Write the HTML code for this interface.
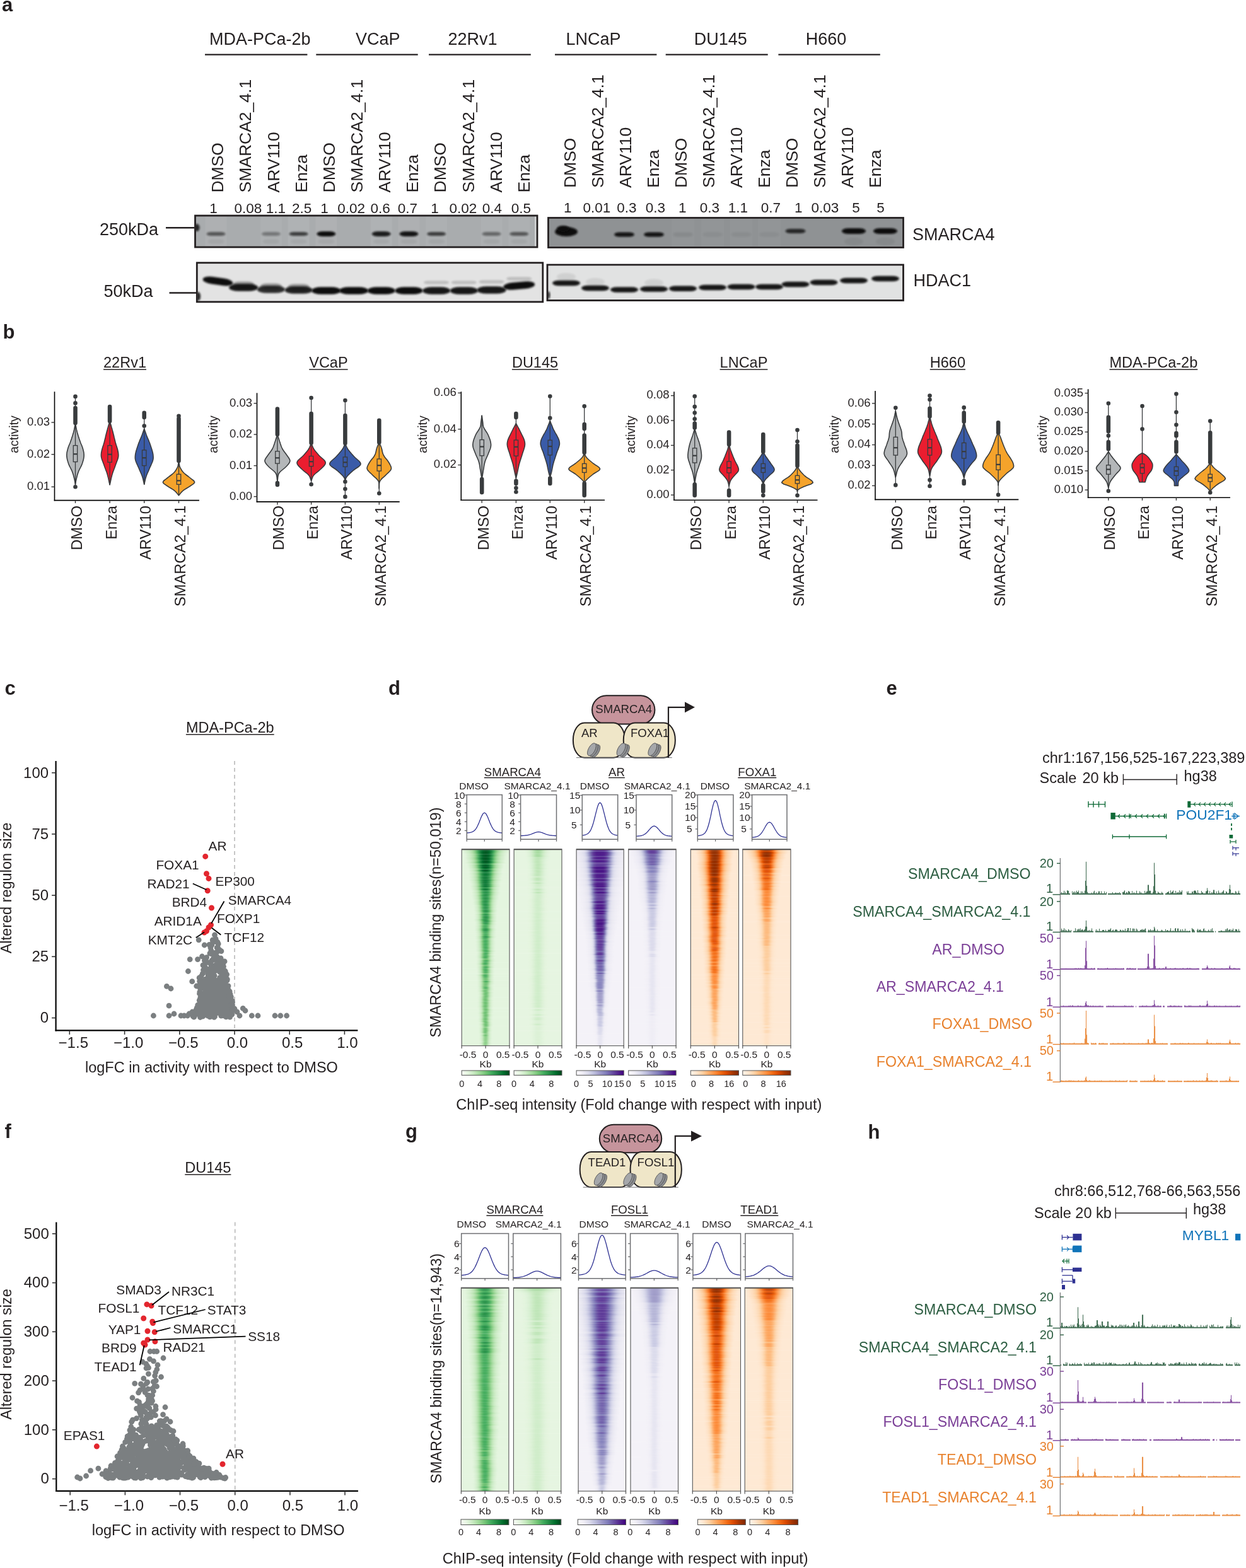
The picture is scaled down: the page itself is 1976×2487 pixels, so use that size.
<!DOCTYPE html><html><head><meta charset="utf-8"><title>Figure</title><style>html,body{margin:0;padding:0;background:#fff;}svg{display:block;}text{stroke:none;}</style></head><body><svg width="1976" height="2487" viewBox="0 0 1976 2487" font-family="'Liberation Sans', Arial, sans-serif" fill="#231f20" stroke="#231f20" stroke-width="0"><defs><filter id="bb" x="-30%" y="-80%" width="160%" height="260%"><feGaussianBlur stdDeviation="1.6"/></filter><clipPath id="cb1"><rect x="310.5" y="343" width="540.5" height="48.2"/></clipPath><clipPath id="cb2"><rect x="870.5" y="346.5" width="561" height="45"/></clipPath><clipPath id="cb3"><rect x="313.5" y="418" width="546" height="59.5"/></clipPath><clipPath id="cb4"><rect x="869" y="421.5" width="562.5" height="54"/></clipPath><filter id="hb" x="-5%" y="-5%" width="110%" height="110%"><feGaussianBlur stdDeviation="1 0.5"/></filter><linearGradient id="cbG"><stop offset="0.000" stop-color="#f7fcf5"/><stop offset="0.125" stop-color="#e5f5e0"/><stop offset="0.250" stop-color="#c7e9c0"/><stop offset="0.375" stop-color="#a1d99b"/><stop offset="0.500" stop-color="#74c476"/><stop offset="0.625" stop-color="#41ab5d"/><stop offset="0.750" stop-color="#238b45"/><stop offset="0.875" stop-color="#006d2c"/><stop offset="1.000" stop-color="#00441b"/></linearGradient><linearGradient id="cbP"><stop offset="0.000" stop-color="#fcfbfd"/><stop offset="0.125" stop-color="#efedf5"/><stop offset="0.250" stop-color="#dadaeb"/><stop offset="0.375" stop-color="#bcbddc"/><stop offset="0.500" stop-color="#9e9ac8"/><stop offset="0.625" stop-color="#807dba"/><stop offset="0.750" stop-color="#6a51a3"/><stop offset="0.875" stop-color="#54278f"/><stop offset="1.000" stop-color="#3f007d"/></linearGradient><linearGradient id="cbO"><stop offset="0.000" stop-color="#fff5eb"/><stop offset="0.125" stop-color="#fee6ce"/><stop offset="0.250" stop-color="#fdd0a2"/><stop offset="0.375" stop-color="#fdae6b"/><stop offset="0.500" stop-color="#fd8d3c"/><stop offset="0.625" stop-color="#f16913"/><stop offset="0.750" stop-color="#d94801"/><stop offset="0.875" stop-color="#a63603"/><stop offset="1.000" stop-color="#7f2704"/></linearGradient><linearGradient id="hd00"><stop offset="0.0" stop-color="#e4f5df"/><stop offset="0.125" stop-color="#e4f4de"/><stop offset="0.2" stop-color="#e3f4de"/><stop offset="0.25" stop-color="#e3f4de"/><stop offset="0.29" stop-color="#e3f4de"/><stop offset="0.325" stop-color="#e3f4dd"/><stop offset="0.355" stop-color="#e2f4dd"/><stop offset="0.39" stop-color="#e2f4dd"/><stop offset="0.44" stop-color="#e2f4dd"/><stop offset="0.5" stop-color="#e2f4dd"/><stop offset="0.56" stop-color="#e2f4dd"/><stop offset="0.61" stop-color="#e2f4dd"/><stop offset="0.645" stop-color="#e2f4dd"/><stop offset="0.675" stop-color="#e3f4dd"/><stop offset="0.71" stop-color="#e3f4de"/><stop offset="0.75" stop-color="#e3f4de"/><stop offset="0.8" stop-color="#e3f4de"/><stop offset="0.875" stop-color="#e4f4de"/><stop offset="1.0" stop-color="#e4f5df"/></linearGradient><linearGradient id="hd01"><stop offset="0.0" stop-color="#e4f5df"/><stop offset="0.125" stop-color="#e3f4dd"/><stop offset="0.2" stop-color="#e1f4dc"/><stop offset="0.25" stop-color="#e0f3db"/><stop offset="0.29" stop-color="#dff2d9"/><stop offset="0.325" stop-color="#ddf2d8"/><stop offset="0.355" stop-color="#dcf1d6"/><stop offset="0.39" stop-color="#dbf1d5"/><stop offset="0.44" stop-color="#daf0d4"/><stop offset="0.5" stop-color="#d9f0d4"/><stop offset="0.56" stop-color="#daf0d4"/><stop offset="0.61" stop-color="#dbf1d5"/><stop offset="0.645" stop-color="#dcf1d6"/><stop offset="0.675" stop-color="#ddf2d8"/><stop offset="0.71" stop-color="#dff2d9"/><stop offset="0.75" stop-color="#e0f3db"/><stop offset="0.8" stop-color="#e1f4dc"/><stop offset="0.875" stop-color="#e3f4dd"/><stop offset="1.0" stop-color="#e4f5df"/></linearGradient><linearGradient id="hd02"><stop offset="0.0" stop-color="#e4f5df"/><stop offset="0.125" stop-color="#e1f3dc"/><stop offset="0.2" stop-color="#def2d9"/><stop offset="0.25" stop-color="#dcf1d6"/><stop offset="0.29" stop-color="#d9f0d3"/><stop offset="0.325" stop-color="#d6efd0"/><stop offset="0.355" stop-color="#d3eecd"/><stop offset="0.39" stop-color="#d0edca"/><stop offset="0.44" stop-color="#ceecc7"/><stop offset="0.5" stop-color="#cdebc7"/><stop offset="0.56" stop-color="#ceecc7"/><stop offset="0.61" stop-color="#d0edca"/><stop offset="0.645" stop-color="#d3eecd"/><stop offset="0.675" stop-color="#d6efd0"/><stop offset="0.71" stop-color="#d9f0d3"/><stop offset="0.75" stop-color="#dcf1d6"/><stop offset="0.8" stop-color="#def2d9"/><stop offset="0.875" stop-color="#e1f3dc"/><stop offset="1.0" stop-color="#e4f5df"/></linearGradient><linearGradient id="hd03"><stop offset="0.0" stop-color="#e4f5df"/><stop offset="0.125" stop-color="#dff3da"/><stop offset="0.2" stop-color="#dbf1d5"/><stop offset="0.25" stop-color="#d6efd0"/><stop offset="0.29" stop-color="#d1edcb"/><stop offset="0.325" stop-color="#ccebc6"/><stop offset="0.355" stop-color="#c8e9c1"/><stop offset="0.39" stop-color="#c3e7bc"/><stop offset="0.44" stop-color="#bee5b7"/><stop offset="0.5" stop-color="#bce4b5"/><stop offset="0.56" stop-color="#bee5b7"/><stop offset="0.61" stop-color="#c3e7bc"/><stop offset="0.645" stop-color="#c8e9c1"/><stop offset="0.675" stop-color="#ccebc6"/><stop offset="0.71" stop-color="#d1edcb"/><stop offset="0.75" stop-color="#d6efd0"/><stop offset="0.8" stop-color="#dbf1d5"/><stop offset="0.875" stop-color="#dff3da"/><stop offset="1.0" stop-color="#e4f5df"/></linearGradient><linearGradient id="hd04"><stop offset="0.0" stop-color="#e4f5df"/><stop offset="0.125" stop-color="#ddf2d8"/><stop offset="0.2" stop-color="#d7efd1"/><stop offset="0.25" stop-color="#d0edca"/><stop offset="0.29" stop-color="#c9eac2"/><stop offset="0.325" stop-color="#c0e6ba"/><stop offset="0.355" stop-color="#b8e3b2"/><stop offset="0.39" stop-color="#b0dfaa"/><stop offset="0.44" stop-color="#a9dca3"/><stop offset="0.5" stop-color="#a6dba0"/><stop offset="0.56" stop-color="#a9dca3"/><stop offset="0.61" stop-color="#b0dfaa"/><stop offset="0.645" stop-color="#b8e3b2"/><stop offset="0.675" stop-color="#c0e6ba"/><stop offset="0.71" stop-color="#c9eac2"/><stop offset="0.75" stop-color="#d0edca"/><stop offset="0.8" stop-color="#d7efd1"/><stop offset="0.875" stop-color="#ddf2d8"/><stop offset="1.0" stop-color="#e4f5df"/></linearGradient><linearGradient id="hd05"><stop offset="0.0" stop-color="#e4f5df"/><stop offset="0.125" stop-color="#dbf1d5"/><stop offset="0.2" stop-color="#d2eecc"/><stop offset="0.25" stop-color="#c9eac3"/><stop offset="0.29" stop-color="#bee5b7"/><stop offset="0.325" stop-color="#b1e0ab"/><stop offset="0.355" stop-color="#a6dba0"/><stop offset="0.39" stop-color="#9bd696"/><stop offset="0.44" stop-color="#8ed08c"/><stop offset="0.5" stop-color="#8ace88"/><stop offset="0.56" stop-color="#8ed08c"/><stop offset="0.61" stop-color="#9bd696"/><stop offset="0.645" stop-color="#a6dba0"/><stop offset="0.675" stop-color="#b1e0ab"/><stop offset="0.71" stop-color="#bee5b7"/><stop offset="0.75" stop-color="#c9eac3"/><stop offset="0.8" stop-color="#d2eecc"/><stop offset="0.875" stop-color="#dbf1d5"/><stop offset="1.0" stop-color="#e4f5df"/></linearGradient><linearGradient id="hd06"><stop offset="0.0" stop-color="#e4f5df"/><stop offset="0.125" stop-color="#d9f0d3"/><stop offset="0.2" stop-color="#ceecc7"/><stop offset="0.25" stop-color="#c1e6ba"/><stop offset="0.29" stop-color="#b1e0aa"/><stop offset="0.325" stop-color="#a1d99b"/><stop offset="0.355" stop-color="#90d18d"/><stop offset="0.39" stop-color="#80c980"/><stop offset="0.44" stop-color="#70c274"/><stop offset="0.5" stop-color="#6abf71"/><stop offset="0.56" stop-color="#70c274"/><stop offset="0.61" stop-color="#80c980"/><stop offset="0.645" stop-color="#90d18d"/><stop offset="0.675" stop-color="#a1d99b"/><stop offset="0.71" stop-color="#b1e0aa"/><stop offset="0.75" stop-color="#c1e6ba"/><stop offset="0.8" stop-color="#ceecc7"/><stop offset="0.875" stop-color="#d9f0d3"/><stop offset="1.0" stop-color="#e4f5df"/></linearGradient><linearGradient id="hd07"><stop offset="0.0" stop-color="#e4f5df"/><stop offset="0.125" stop-color="#d6efd0"/><stop offset="0.2" stop-color="#c8e9c1"/><stop offset="0.25" stop-color="#b6e2b0"/><stop offset="0.29" stop-color="#a2da9c"/><stop offset="0.325" stop-color="#8bcf89"/><stop offset="0.355" stop-color="#77c579"/><stop offset="0.39" stop-color="#60ba6c"/><stop offset="0.44" stop-color="#4ab062"/><stop offset="0.5" stop-color="#43ac5e"/><stop offset="0.56" stop-color="#4ab062"/><stop offset="0.61" stop-color="#60ba6c"/><stop offset="0.645" stop-color="#77c579"/><stop offset="0.675" stop-color="#8bcf89"/><stop offset="0.71" stop-color="#a2da9c"/><stop offset="0.75" stop-color="#b6e2b0"/><stop offset="0.8" stop-color="#c8e9c1"/><stop offset="0.875" stop-color="#d6efd0"/><stop offset="1.0" stop-color="#e4f5df"/></linearGradient><linearGradient id="hd08"><stop offset="0.0" stop-color="#e4f5df"/><stop offset="0.125" stop-color="#d3eecd"/><stop offset="0.2" stop-color="#c1e7ba"/><stop offset="0.25" stop-color="#abdda5"/><stop offset="0.29" stop-color="#91d18e"/><stop offset="0.325" stop-color="#75c476"/><stop offset="0.355" stop-color="#59b769"/><stop offset="0.39" stop-color="#3fa85b"/><stop offset="0.44" stop-color="#2f984f"/><stop offset="0.5" stop-color="#2a924b"/><stop offset="0.56" stop-color="#2f984f"/><stop offset="0.61" stop-color="#3fa85b"/><stop offset="0.645" stop-color="#59b769"/><stop offset="0.675" stop-color="#75c476"/><stop offset="0.71" stop-color="#91d18e"/><stop offset="0.75" stop-color="#abdda5"/><stop offset="0.8" stop-color="#c1e7ba"/><stop offset="0.875" stop-color="#d3eecd"/><stop offset="1.0" stop-color="#e4f5df"/></linearGradient><linearGradient id="hd09"><stop offset="0.0" stop-color="#e4f5df"/><stop offset="0.125" stop-color="#d0edca"/><stop offset="0.2" stop-color="#bae3b3"/><stop offset="0.25" stop-color="#9fd89a"/><stop offset="0.29" stop-color="#7ec97e"/><stop offset="0.325" stop-color="#59b769"/><stop offset="0.355" stop-color="#3ca659"/><stop offset="0.39" stop-color="#299149"/><stop offset="0.44" stop-color="#147e3a"/><stop offset="0.5" stop-color="#0d7835"/><stop offset="0.56" stop-color="#147e3a"/><stop offset="0.61" stop-color="#299149"/><stop offset="0.645" stop-color="#3ca659"/><stop offset="0.675" stop-color="#59b769"/><stop offset="0.71" stop-color="#7ec97e"/><stop offset="0.75" stop-color="#9fd89a"/><stop offset="0.8" stop-color="#bae3b3"/><stop offset="0.875" stop-color="#d0edca"/><stop offset="1.0" stop-color="#e4f5df"/></linearGradient><linearGradient id="hd010"><stop offset="0.0" stop-color="#e4f5df"/><stop offset="0.125" stop-color="#cdebc6"/><stop offset="0.2" stop-color="#b2e0ab"/><stop offset="0.25" stop-color="#91d18e"/><stop offset="0.29" stop-color="#69be70"/><stop offset="0.325" stop-color="#3ea85b"/><stop offset="0.355" stop-color="#289049"/><stop offset="0.39" stop-color="#0e7936"/><stop offset="0.44" stop-color="#006127"/><stop offset="0.5" stop-color="#005723"/><stop offset="0.56" stop-color="#006127"/><stop offset="0.61" stop-color="#0e7936"/><stop offset="0.645" stop-color="#289049"/><stop offset="0.675" stop-color="#3ea85b"/><stop offset="0.71" stop-color="#69be70"/><stop offset="0.75" stop-color="#91d18e"/><stop offset="0.8" stop-color="#b2e0ab"/><stop offset="0.875" stop-color="#cdebc6"/><stop offset="1.0" stop-color="#e4f5df"/></linearGradient><clipPath id="chd0"><rect x="732.2" y="1346.8" width="75.8" height="311.9"/></clipPath><linearGradient id="hd10"><stop offset="0.0" stop-color="#e6f5e1"/><stop offset="0.125" stop-color="#e6f5e1"/><stop offset="0.2" stop-color="#e5f5e0"/><stop offset="0.25" stop-color="#e5f5e0"/><stop offset="0.29" stop-color="#e5f5e0"/><stop offset="0.325" stop-color="#e5f5e0"/><stop offset="0.355" stop-color="#e5f5e0"/><stop offset="0.39" stop-color="#e5f5df"/><stop offset="0.44" stop-color="#e4f5df"/><stop offset="0.5" stop-color="#e4f5df"/><stop offset="0.56" stop-color="#e4f5df"/><stop offset="0.61" stop-color="#e5f5df"/><stop offset="0.645" stop-color="#e5f5e0"/><stop offset="0.675" stop-color="#e5f5e0"/><stop offset="0.71" stop-color="#e5f5e0"/><stop offset="0.75" stop-color="#e5f5e0"/><stop offset="0.8" stop-color="#e5f5e0"/><stop offset="0.875" stop-color="#e6f5e1"/><stop offset="1.0" stop-color="#e6f5e1"/></linearGradient><linearGradient id="hd11"><stop offset="0.0" stop-color="#e6f5e1"/><stop offset="0.125" stop-color="#e5f5e0"/><stop offset="0.2" stop-color="#e4f4df"/><stop offset="0.25" stop-color="#e2f4dd"/><stop offset="0.29" stop-color="#e1f3dc"/><stop offset="0.325" stop-color="#e0f3da"/><stop offset="0.355" stop-color="#dff2d9"/><stop offset="0.39" stop-color="#ddf2d8"/><stop offset="0.44" stop-color="#dcf1d7"/><stop offset="0.5" stop-color="#dcf1d6"/><stop offset="0.56" stop-color="#dcf1d7"/><stop offset="0.61" stop-color="#ddf2d8"/><stop offset="0.645" stop-color="#dff2d9"/><stop offset="0.675" stop-color="#e0f3da"/><stop offset="0.71" stop-color="#e1f3dc"/><stop offset="0.75" stop-color="#e2f4dd"/><stop offset="0.8" stop-color="#e4f4df"/><stop offset="0.875" stop-color="#e5f5e0"/><stop offset="1.0" stop-color="#e6f5e1"/></linearGradient><linearGradient id="hd12"><stop offset="0.0" stop-color="#e6f5e1"/><stop offset="0.125" stop-color="#e4f4de"/><stop offset="0.2" stop-color="#e1f3db"/><stop offset="0.25" stop-color="#def2d8"/><stop offset="0.29" stop-color="#dbf1d5"/><stop offset="0.325" stop-color="#d8f0d2"/><stop offset="0.355" stop-color="#d6efd0"/><stop offset="0.39" stop-color="#d3eecd"/><stop offset="0.44" stop-color="#d0edca"/><stop offset="0.5" stop-color="#cfecc9"/><stop offset="0.56" stop-color="#d0edca"/><stop offset="0.61" stop-color="#d3eecd"/><stop offset="0.645" stop-color="#d6efd0"/><stop offset="0.675" stop-color="#d8f0d2"/><stop offset="0.71" stop-color="#dbf1d5"/><stop offset="0.75" stop-color="#def2d8"/><stop offset="0.8" stop-color="#e1f3db"/><stop offset="0.875" stop-color="#e4f4de"/><stop offset="1.0" stop-color="#e6f5e1"/></linearGradient><linearGradient id="hd13"><stop offset="0.0" stop-color="#e6f5e1"/><stop offset="0.125" stop-color="#e2f4dd"/><stop offset="0.2" stop-color="#ddf2d8"/><stop offset="0.25" stop-color="#d8f0d3"/><stop offset="0.29" stop-color="#d4eece"/><stop offset="0.325" stop-color="#cfecc9"/><stop offset="0.355" stop-color="#cbebc4"/><stop offset="0.39" stop-color="#c7e9c0"/><stop offset="0.44" stop-color="#c1e6ba"/><stop offset="0.5" stop-color="#bfe5b8"/><stop offset="0.56" stop-color="#c1e6ba"/><stop offset="0.61" stop-color="#c7e9c0"/><stop offset="0.645" stop-color="#cbebc4"/><stop offset="0.675" stop-color="#cfecc9"/><stop offset="0.71" stop-color="#d4eece"/><stop offset="0.75" stop-color="#d8f0d3"/><stop offset="0.8" stop-color="#ddf2d8"/><stop offset="0.875" stop-color="#e2f4dd"/><stop offset="1.0" stop-color="#e6f5e1"/></linearGradient><linearGradient id="hd14"><stop offset="0.0" stop-color="#e6f5e1"/><stop offset="0.125" stop-color="#e0f3da"/><stop offset="0.2" stop-color="#d9f0d3"/><stop offset="0.25" stop-color="#d2edcc"/><stop offset="0.29" stop-color="#cbebc4"/><stop offset="0.325" stop-color="#c4e8bd"/><stop offset="0.355" stop-color="#bce5b6"/><stop offset="0.39" stop-color="#b4e1ae"/><stop offset="0.44" stop-color="#acdea6"/><stop offset="0.5" stop-color="#a9dca2"/><stop offset="0.56" stop-color="#acdea6"/><stop offset="0.61" stop-color="#b4e1ae"/><stop offset="0.645" stop-color="#bce5b6"/><stop offset="0.675" stop-color="#c4e8bd"/><stop offset="0.71" stop-color="#cbebc4"/><stop offset="0.75" stop-color="#d2edcc"/><stop offset="0.8" stop-color="#d9f0d3"/><stop offset="0.875" stop-color="#e0f3da"/><stop offset="1.0" stop-color="#e6f5e1"/></linearGradient><linearGradient id="hd15"><stop offset="0.0" stop-color="#e6f5e1"/><stop offset="0.125" stop-color="#def2d8"/><stop offset="0.2" stop-color="#d4eece"/><stop offset="0.25" stop-color="#cbebc4"/><stop offset="0.29" stop-color="#c0e6ba"/><stop offset="0.325" stop-color="#b5e1ae"/><stop offset="0.355" stop-color="#abdda5"/><stop offset="0.39" stop-color="#a0d89a"/><stop offset="0.44" stop-color="#92d28f"/><stop offset="0.5" stop-color="#8dd08a"/><stop offset="0.56" stop-color="#92d28f"/><stop offset="0.61" stop-color="#a0d89a"/><stop offset="0.645" stop-color="#abdda5"/><stop offset="0.675" stop-color="#b5e1ae"/><stop offset="0.71" stop-color="#c0e6ba"/><stop offset="0.75" stop-color="#cbebc4"/><stop offset="0.8" stop-color="#d4eece"/><stop offset="0.875" stop-color="#def2d8"/><stop offset="1.0" stop-color="#e6f5e1"/></linearGradient><linearGradient id="hd16"><stop offset="0.0" stop-color="#e6f5e1"/><stop offset="0.125" stop-color="#dbf1d5"/><stop offset="0.2" stop-color="#cfecc9"/><stop offset="0.25" stop-color="#c2e7bb"/><stop offset="0.29" stop-color="#b3e1ad"/><stop offset="0.325" stop-color="#a4da9e"/><stop offset="0.355" stop-color="#96d492"/><stop offset="0.39" stop-color="#85cc84"/><stop offset="0.44" stop-color="#74c476"/><stop offset="0.5" stop-color="#6cc072"/><stop offset="0.56" stop-color="#74c476"/><stop offset="0.61" stop-color="#85cc84"/><stop offset="0.645" stop-color="#96d492"/><stop offset="0.675" stop-color="#a4da9e"/><stop offset="0.71" stop-color="#b3e1ad"/><stop offset="0.75" stop-color="#c2e7bb"/><stop offset="0.8" stop-color="#cfecc9"/><stop offset="0.875" stop-color="#dbf1d5"/><stop offset="1.0" stop-color="#e6f5e1"/></linearGradient><linearGradient id="hd17"><stop offset="0.0" stop-color="#e6f5e1"/><stop offset="0.125" stop-color="#d8f0d3"/><stop offset="0.2" stop-color="#caeac3"/><stop offset="0.25" stop-color="#b8e3b1"/><stop offset="0.29" stop-color="#a5db9f"/><stop offset="0.325" stop-color="#90d18d"/><stop offset="0.355" stop-color="#7dc87e"/><stop offset="0.39" stop-color="#67be70"/><stop offset="0.44" stop-color="#4fb264"/><stop offset="0.5" stop-color="#45ad5f"/><stop offset="0.56" stop-color="#4fb264"/><stop offset="0.61" stop-color="#67be70"/><stop offset="0.645" stop-color="#7dc87e"/><stop offset="0.675" stop-color="#90d18d"/><stop offset="0.71" stop-color="#a5db9f"/><stop offset="0.75" stop-color="#b8e3b1"/><stop offset="0.8" stop-color="#caeac3"/><stop offset="0.875" stop-color="#d8f0d3"/><stop offset="1.0" stop-color="#e6f5e1"/></linearGradient><linearGradient id="hd18"><stop offset="0.0" stop-color="#e6f5e1"/><stop offset="0.125" stop-color="#d5efcf"/><stop offset="0.2" stop-color="#c3e7bc"/><stop offset="0.25" stop-color="#acdea6"/><stop offset="0.29" stop-color="#94d390"/><stop offset="0.325" stop-color="#7ac77b"/><stop offset="0.355" stop-color="#61ba6c"/><stop offset="0.39" stop-color="#45ad5f"/><stop offset="0.44" stop-color="#329b51"/><stop offset="0.5" stop-color="#2b934b"/><stop offset="0.56" stop-color="#329b51"/><stop offset="0.61" stop-color="#45ad5f"/><stop offset="0.645" stop-color="#61ba6c"/><stop offset="0.675" stop-color="#7ac77b"/><stop offset="0.71" stop-color="#94d390"/><stop offset="0.75" stop-color="#acdea6"/><stop offset="0.8" stop-color="#c3e7bc"/><stop offset="0.875" stop-color="#d5efcf"/><stop offset="1.0" stop-color="#e6f5e1"/></linearGradient><linearGradient id="hd19"><stop offset="0.0" stop-color="#e6f5e1"/><stop offset="0.125" stop-color="#d2eecc"/><stop offset="0.2" stop-color="#bbe4b4"/><stop offset="0.25" stop-color="#a0d99a"/><stop offset="0.29" stop-color="#81ca80"/><stop offset="0.325" stop-color="#5fba6c"/><stop offset="0.355" stop-color="#41ab5d"/><stop offset="0.39" stop-color="#2e964d"/><stop offset="0.44" stop-color="#17813d"/><stop offset="0.5" stop-color="#0e7936"/><stop offset="0.56" stop-color="#17813d"/><stop offset="0.61" stop-color="#2e964d"/><stop offset="0.645" stop-color="#41ab5d"/><stop offset="0.675" stop-color="#5fba6c"/><stop offset="0.71" stop-color="#81ca80"/><stop offset="0.75" stop-color="#a0d99a"/><stop offset="0.8" stop-color="#bbe4b4"/><stop offset="0.875" stop-color="#d2eecc"/><stop offset="1.0" stop-color="#e6f5e1"/></linearGradient><linearGradient id="hd110"><stop offset="0.0" stop-color="#e6f5e1"/><stop offset="0.125" stop-color="#cfecc9"/><stop offset="0.2" stop-color="#b2e0ac"/><stop offset="0.25" stop-color="#91d28e"/><stop offset="0.29" stop-color="#6cc072"/><stop offset="0.325" stop-color="#43ac5e"/><stop offset="0.355" stop-color="#2d964d"/><stop offset="0.39" stop-color="#157f3b"/><stop offset="0.44" stop-color="#006529"/><stop offset="0.5" stop-color="#005723"/><stop offset="0.56" stop-color="#006529"/><stop offset="0.61" stop-color="#157f3b"/><stop offset="0.645" stop-color="#2d964d"/><stop offset="0.675" stop-color="#43ac5e"/><stop offset="0.71" stop-color="#6cc072"/><stop offset="0.75" stop-color="#91d28e"/><stop offset="0.8" stop-color="#b2e0ac"/><stop offset="0.875" stop-color="#cfecc9"/><stop offset="1.0" stop-color="#e6f5e1"/></linearGradient><clipPath id="chd1"><rect x="815.1" y="1346.8" width="75.9" height="311.9"/></clipPath><linearGradient id="hd20"><stop offset="0.0" stop-color="#f4f2f8"/><stop offset="0.125" stop-color="#f4f2f8"/><stop offset="0.2" stop-color="#f4f2f8"/><stop offset="0.25" stop-color="#f4f2f8"/><stop offset="0.29" stop-color="#f3f2f8"/><stop offset="0.325" stop-color="#f3f1f8"/><stop offset="0.355" stop-color="#f3f1f7"/><stop offset="0.39" stop-color="#f3f1f7"/><stop offset="0.44" stop-color="#f3f1f7"/><stop offset="0.5" stop-color="#f3f1f7"/><stop offset="0.56" stop-color="#f3f1f7"/><stop offset="0.61" stop-color="#f3f1f7"/><stop offset="0.645" stop-color="#f3f1f7"/><stop offset="0.675" stop-color="#f3f1f8"/><stop offset="0.71" stop-color="#f3f2f8"/><stop offset="0.75" stop-color="#f4f2f8"/><stop offset="0.8" stop-color="#f4f2f8"/><stop offset="0.875" stop-color="#f4f2f8"/><stop offset="1.0" stop-color="#f4f2f8"/></linearGradient><linearGradient id="hd21"><stop offset="0.0" stop-color="#f4f2f8"/><stop offset="0.125" stop-color="#f3f2f8"/><stop offset="0.2" stop-color="#f3f1f8"/><stop offset="0.25" stop-color="#f3f1f7"/><stop offset="0.29" stop-color="#f2f0f7"/><stop offset="0.325" stop-color="#f1eff6"/><stop offset="0.355" stop-color="#f0eef6"/><stop offset="0.39" stop-color="#efedf5"/><stop offset="0.44" stop-color="#efedf5"/><stop offset="0.5" stop-color="#efedf5"/><stop offset="0.56" stop-color="#efedf5"/><stop offset="0.61" stop-color="#efedf5"/><stop offset="0.645" stop-color="#f0eef6"/><stop offset="0.675" stop-color="#f1eff6"/><stop offset="0.71" stop-color="#f2f0f7"/><stop offset="0.75" stop-color="#f3f1f7"/><stop offset="0.8" stop-color="#f3f1f8"/><stop offset="0.875" stop-color="#f3f2f8"/><stop offset="1.0" stop-color="#f4f2f8"/></linearGradient><linearGradient id="hd22"><stop offset="0.0" stop-color="#f4f2f8"/><stop offset="0.125" stop-color="#f3f1f7"/><stop offset="0.2" stop-color="#f3f1f7"/><stop offset="0.25" stop-color="#f2f0f7"/><stop offset="0.29" stop-color="#f0eef6"/><stop offset="0.325" stop-color="#edebf4"/><stop offset="0.355" stop-color="#eae8f3"/><stop offset="0.39" stop-color="#e7e6f1"/><stop offset="0.44" stop-color="#e6e5f1"/><stop offset="0.5" stop-color="#e6e5f1"/><stop offset="0.56" stop-color="#e6e5f1"/><stop offset="0.61" stop-color="#e7e6f1"/><stop offset="0.645" stop-color="#eae8f3"/><stop offset="0.675" stop-color="#edebf4"/><stop offset="0.71" stop-color="#f0eef6"/><stop offset="0.75" stop-color="#f2f0f7"/><stop offset="0.8" stop-color="#f3f1f7"/><stop offset="0.875" stop-color="#f3f1f7"/><stop offset="1.0" stop-color="#f4f2f8"/></linearGradient><linearGradient id="hd23"><stop offset="0.0" stop-color="#f4f2f8"/><stop offset="0.125" stop-color="#f3f1f7"/><stop offset="0.2" stop-color="#f2f0f7"/><stop offset="0.25" stop-color="#f1eff6"/><stop offset="0.29" stop-color="#edebf4"/><stop offset="0.325" stop-color="#e7e6f1"/><stop offset="0.355" stop-color="#e2e1ef"/><stop offset="0.39" stop-color="#dedded"/><stop offset="0.44" stop-color="#dbdbec"/><stop offset="0.5" stop-color="#dbdbeb"/><stop offset="0.56" stop-color="#dbdbec"/><stop offset="0.61" stop-color="#dedded"/><stop offset="0.645" stop-color="#e2e1ef"/><stop offset="0.675" stop-color="#e7e6f1"/><stop offset="0.71" stop-color="#edebf4"/><stop offset="0.75" stop-color="#f1eff6"/><stop offset="0.8" stop-color="#f2f0f7"/><stop offset="0.875" stop-color="#f3f1f7"/><stop offset="1.0" stop-color="#f4f2f8"/></linearGradient><linearGradient id="hd24"><stop offset="0.0" stop-color="#f4f2f8"/><stop offset="0.125" stop-color="#f2f0f7"/><stop offset="0.2" stop-color="#f1eff6"/><stop offset="0.25" stop-color="#efedf5"/><stop offset="0.29" stop-color="#e9e7f2"/><stop offset="0.325" stop-color="#e0dfee"/><stop offset="0.355" stop-color="#d7d8ea"/><stop offset="0.39" stop-color="#cfcfe5"/><stop offset="0.44" stop-color="#cacae3"/><stop offset="0.5" stop-color="#c9cae3"/><stop offset="0.56" stop-color="#cacae3"/><stop offset="0.61" stop-color="#cfcfe5"/><stop offset="0.645" stop-color="#d7d8ea"/><stop offset="0.675" stop-color="#e0dfee"/><stop offset="0.71" stop-color="#e9e7f2"/><stop offset="0.75" stop-color="#efedf5"/><stop offset="0.8" stop-color="#f1eff6"/><stop offset="0.875" stop-color="#f2f0f7"/><stop offset="1.0" stop-color="#f4f2f8"/></linearGradient><linearGradient id="hd25"><stop offset="0.0" stop-color="#f4f2f8"/><stop offset="0.125" stop-color="#f2f0f7"/><stop offset="0.2" stop-color="#f0eef6"/><stop offset="0.25" stop-color="#edebf4"/><stop offset="0.29" stop-color="#e4e3f0"/><stop offset="0.325" stop-color="#d7d7e9"/><stop offset="0.355" stop-color="#c8c9e2"/><stop offset="0.39" stop-color="#bdbedc"/><stop offset="0.44" stop-color="#b6b6d8"/><stop offset="0.5" stop-color="#b5b5d7"/><stop offset="0.56" stop-color="#b6b6d8"/><stop offset="0.61" stop-color="#bdbedc"/><stop offset="0.645" stop-color="#c8c9e2"/><stop offset="0.675" stop-color="#d7d7e9"/><stop offset="0.71" stop-color="#e4e3f0"/><stop offset="0.75" stop-color="#edebf4"/><stop offset="0.8" stop-color="#f0eef6"/><stop offset="0.875" stop-color="#f2f0f7"/><stop offset="1.0" stop-color="#f4f2f8"/></linearGradient><linearGradient id="hd26"><stop offset="0.0" stop-color="#f4f2f8"/><stop offset="0.125" stop-color="#f1eff6"/><stop offset="0.2" stop-color="#efedf5"/><stop offset="0.25" stop-color="#eae8f3"/><stop offset="0.29" stop-color="#dedeed"/><stop offset="0.325" stop-color="#cacbe3"/><stop offset="0.355" stop-color="#b8b8d9"/><stop offset="0.39" stop-color="#a9a6cf"/><stop offset="0.44" stop-color="#a09cc9"/><stop offset="0.5" stop-color="#9f9bc8"/><stop offset="0.56" stop-color="#a09cc9"/><stop offset="0.61" stop-color="#a9a6cf"/><stop offset="0.645" stop-color="#b8b8d9"/><stop offset="0.675" stop-color="#cacbe3"/><stop offset="0.71" stop-color="#dedeed"/><stop offset="0.75" stop-color="#eae8f3"/><stop offset="0.8" stop-color="#efedf5"/><stop offset="0.875" stop-color="#f1eff6"/><stop offset="1.0" stop-color="#f4f2f8"/></linearGradient><linearGradient id="hd27"><stop offset="0.0" stop-color="#f4f2f8"/><stop offset="0.125" stop-color="#f0eef6"/><stop offset="0.2" stop-color="#edebf4"/><stop offset="0.25" stop-color="#e7e6f1"/><stop offset="0.29" stop-color="#d8d8ea"/><stop offset="0.325" stop-color="#bcbddc"/><stop offset="0.355" stop-color="#a6a3cd"/><stop offset="0.39" stop-color="#938fc3"/><stop offset="0.44" stop-color="#8885be"/><stop offset="0.5" stop-color="#8683bd"/><stop offset="0.56" stop-color="#8885be"/><stop offset="0.61" stop-color="#938fc3"/><stop offset="0.645" stop-color="#a6a3cd"/><stop offset="0.675" stop-color="#bcbddc"/><stop offset="0.71" stop-color="#d8d8ea"/><stop offset="0.75" stop-color="#e7e6f1"/><stop offset="0.8" stop-color="#edebf4"/><stop offset="0.875" stop-color="#f0eef6"/><stop offset="1.0" stop-color="#f4f2f8"/></linearGradient><linearGradient id="hd28"><stop offset="0.0" stop-color="#f4f2f8"/><stop offset="0.125" stop-color="#f0eef5"/><stop offset="0.2" stop-color="#ebe9f3"/><stop offset="0.25" stop-color="#e3e3f0"/><stop offset="0.29" stop-color="#cfcfe6"/><stop offset="0.325" stop-color="#aeadd3"/><stop offset="0.355" stop-color="#928fc3"/><stop offset="0.39" stop-color="#7d77b7"/><stop offset="0.44" stop-color="#7364ad"/><stop offset="0.5" stop-color="#7261ab"/><stop offset="0.56" stop-color="#7364ad"/><stop offset="0.61" stop-color="#7d77b7"/><stop offset="0.645" stop-color="#928fc3"/><stop offset="0.675" stop-color="#aeadd3"/><stop offset="0.71" stop-color="#cfcfe6"/><stop offset="0.75" stop-color="#e3e3f0"/><stop offset="0.8" stop-color="#ebe9f3"/><stop offset="0.875" stop-color="#f0eef5"/><stop offset="1.0" stop-color="#f4f2f8"/></linearGradient><linearGradient id="hd29"><stop offset="0.0" stop-color="#f4f2f8"/><stop offset="0.125" stop-color="#efedf5"/><stop offset="0.2" stop-color="#e9e8f2"/><stop offset="0.25" stop-color="#e0dfee"/><stop offset="0.29" stop-color="#c6c6e1"/><stop offset="0.325" stop-color="#9f9bc8"/><stop offset="0.355" stop-color="#7e7ab8"/><stop offset="0.39" stop-color="#6b53a4"/><stop offset="0.44" stop-color="#603d9a"/><stop offset="0.5" stop-color="#5e3a98"/><stop offset="0.56" stop-color="#603d9a"/><stop offset="0.61" stop-color="#6b53a4"/><stop offset="0.645" stop-color="#7e7ab8"/><stop offset="0.675" stop-color="#9f9bc8"/><stop offset="0.71" stop-color="#c6c6e1"/><stop offset="0.75" stop-color="#e0dfee"/><stop offset="0.8" stop-color="#e9e8f2"/><stop offset="0.875" stop-color="#efedf5"/><stop offset="1.0" stop-color="#f4f2f8"/></linearGradient><linearGradient id="hd210"><stop offset="0.0" stop-color="#f4f2f8"/><stop offset="0.125" stop-color="#eeecf4"/><stop offset="0.2" stop-color="#e7e6f1"/><stop offset="0.25" stop-color="#dcdcec"/><stop offset="0.29" stop-color="#bcbddc"/><stop offset="0.325" stop-color="#8e8bc1"/><stop offset="0.355" stop-color="#6f5aa8"/><stop offset="0.39" stop-color="#582f93"/><stop offset="0.44" stop-color="#4b1788"/><stop offset="0.5" stop-color="#491386"/><stop offset="0.56" stop-color="#4b1788"/><stop offset="0.61" stop-color="#582f93"/><stop offset="0.645" stop-color="#6f5aa8"/><stop offset="0.675" stop-color="#8e8bc1"/><stop offset="0.71" stop-color="#bcbddc"/><stop offset="0.75" stop-color="#dcdcec"/><stop offset="0.8" stop-color="#e7e6f1"/><stop offset="0.875" stop-color="#eeecf4"/><stop offset="1.0" stop-color="#f4f2f8"/></linearGradient><clipPath id="chd2"><rect x="914.1" y="1346.8" width="75.1" height="311.9"/></clipPath><linearGradient id="hd30"><stop offset="0.0" stop-color="#f4f2f8"/><stop offset="0.125" stop-color="#f4f2f8"/><stop offset="0.2" stop-color="#f4f2f8"/><stop offset="0.25" stop-color="#f3f2f8"/><stop offset="0.29" stop-color="#f3f2f8"/><stop offset="0.325" stop-color="#f3f1f8"/><stop offset="0.355" stop-color="#f3f1f7"/><stop offset="0.39" stop-color="#f3f1f7"/><stop offset="0.44" stop-color="#f3f1f7"/><stop offset="0.5" stop-color="#f3f1f7"/><stop offset="0.56" stop-color="#f3f1f7"/><stop offset="0.61" stop-color="#f3f1f7"/><stop offset="0.645" stop-color="#f3f1f7"/><stop offset="0.675" stop-color="#f3f1f8"/><stop offset="0.71" stop-color="#f3f2f8"/><stop offset="0.75" stop-color="#f3f2f8"/><stop offset="0.8" stop-color="#f4f2f8"/><stop offset="0.875" stop-color="#f4f2f8"/><stop offset="1.0" stop-color="#f4f2f8"/></linearGradient><linearGradient id="hd31"><stop offset="0.0" stop-color="#f4f2f8"/><stop offset="0.125" stop-color="#f3f2f8"/><stop offset="0.2" stop-color="#f3f1f7"/><stop offset="0.25" stop-color="#f2f1f7"/><stop offset="0.29" stop-color="#f2f0f7"/><stop offset="0.325" stop-color="#f1eff6"/><stop offset="0.355" stop-color="#f0eef6"/><stop offset="0.39" stop-color="#f0eef5"/><stop offset="0.44" stop-color="#efedf5"/><stop offset="0.5" stop-color="#efedf5"/><stop offset="0.56" stop-color="#efedf5"/><stop offset="0.61" stop-color="#f0eef5"/><stop offset="0.645" stop-color="#f0eef6"/><stop offset="0.675" stop-color="#f1eff6"/><stop offset="0.71" stop-color="#f2f0f7"/><stop offset="0.75" stop-color="#f2f1f7"/><stop offset="0.8" stop-color="#f3f1f7"/><stop offset="0.875" stop-color="#f3f2f8"/><stop offset="1.0" stop-color="#f4f2f8"/></linearGradient><linearGradient id="hd32"><stop offset="0.0" stop-color="#f4f2f8"/><stop offset="0.125" stop-color="#f3f1f7"/><stop offset="0.2" stop-color="#f2f0f7"/><stop offset="0.25" stop-color="#f1eff6"/><stop offset="0.29" stop-color="#efedf5"/><stop offset="0.325" stop-color="#edebf4"/><stop offset="0.355" stop-color="#eae9f3"/><stop offset="0.39" stop-color="#e8e7f2"/><stop offset="0.44" stop-color="#e6e5f1"/><stop offset="0.5" stop-color="#e6e5f1"/><stop offset="0.56" stop-color="#e6e5f1"/><stop offset="0.61" stop-color="#e8e7f2"/><stop offset="0.645" stop-color="#eae9f3"/><stop offset="0.675" stop-color="#edebf4"/><stop offset="0.71" stop-color="#efedf5"/><stop offset="0.75" stop-color="#f1eff6"/><stop offset="0.8" stop-color="#f2f0f7"/><stop offset="0.875" stop-color="#f3f1f7"/><stop offset="1.0" stop-color="#f4f2f8"/></linearGradient><linearGradient id="hd33"><stop offset="0.0" stop-color="#f4f2f8"/><stop offset="0.125" stop-color="#f2f1f7"/><stop offset="0.2" stop-color="#f1eff6"/><stop offset="0.25" stop-color="#efedf5"/><stop offset="0.29" stop-color="#ebe9f3"/><stop offset="0.325" stop-color="#e6e5f1"/><stop offset="0.355" stop-color="#e2e2ef"/><stop offset="0.39" stop-color="#dfdeed"/><stop offset="0.44" stop-color="#dcdbec"/><stop offset="0.5" stop-color="#dbdbeb"/><stop offset="0.56" stop-color="#dcdbec"/><stop offset="0.61" stop-color="#dfdeed"/><stop offset="0.645" stop-color="#e2e2ef"/><stop offset="0.675" stop-color="#e6e5f1"/><stop offset="0.71" stop-color="#ebe9f3"/><stop offset="0.75" stop-color="#efedf5"/><stop offset="0.8" stop-color="#f1eff6"/><stop offset="0.875" stop-color="#f2f1f7"/><stop offset="1.0" stop-color="#f4f2f8"/></linearGradient><linearGradient id="hd34"><stop offset="0.0" stop-color="#f4f2f8"/><stop offset="0.125" stop-color="#f2f0f7"/><stop offset="0.2" stop-color="#f0eef5"/><stop offset="0.25" stop-color="#eceaf3"/><stop offset="0.29" stop-color="#e6e4f1"/><stop offset="0.325" stop-color="#dfdeed"/><stop offset="0.355" stop-color="#d9d9ea"/><stop offset="0.39" stop-color="#d1d1e7"/><stop offset="0.44" stop-color="#cbcbe3"/><stop offset="0.5" stop-color="#c9cae3"/><stop offset="0.56" stop-color="#cbcbe3"/><stop offset="0.61" stop-color="#d1d1e7"/><stop offset="0.645" stop-color="#d9d9ea"/><stop offset="0.675" stop-color="#dfdeed"/><stop offset="0.71" stop-color="#e6e4f1"/><stop offset="0.75" stop-color="#eceaf3"/><stop offset="0.8" stop-color="#f0eef5"/><stop offset="0.875" stop-color="#f2f0f7"/><stop offset="1.0" stop-color="#f4f2f8"/></linearGradient><linearGradient id="hd35"><stop offset="0.0" stop-color="#f4f2f8"/><stop offset="0.125" stop-color="#f1eff6"/><stop offset="0.2" stop-color="#eeecf5"/><stop offset="0.25" stop-color="#e8e7f2"/><stop offset="0.29" stop-color="#e0dfee"/><stop offset="0.325" stop-color="#d5d5e9"/><stop offset="0.355" stop-color="#cacbe3"/><stop offset="0.39" stop-color="#c0c0de"/><stop offset="0.44" stop-color="#b7b7d9"/><stop offset="0.5" stop-color="#b5b5d7"/><stop offset="0.56" stop-color="#b7b7d9"/><stop offset="0.61" stop-color="#c0c0de"/><stop offset="0.645" stop-color="#cacbe3"/><stop offset="0.675" stop-color="#d5d5e9"/><stop offset="0.71" stop-color="#e0dfee"/><stop offset="0.75" stop-color="#e8e7f2"/><stop offset="0.8" stop-color="#eeecf5"/><stop offset="0.875" stop-color="#f1eff6"/><stop offset="1.0" stop-color="#f4f2f8"/></linearGradient><linearGradient id="hd36"><stop offset="0.0" stop-color="#f4f2f8"/><stop offset="0.125" stop-color="#f0eef6"/><stop offset="0.2" stop-color="#eceaf3"/><stop offset="0.25" stop-color="#e4e3f0"/><stop offset="0.29" stop-color="#d9d9ea"/><stop offset="0.325" stop-color="#c8c9e2"/><stop offset="0.355" stop-color="#babbdb"/><stop offset="0.39" stop-color="#acabd2"/><stop offset="0.44" stop-color="#a19eca"/><stop offset="0.5" stop-color="#9f9bc8"/><stop offset="0.56" stop-color="#a19eca"/><stop offset="0.61" stop-color="#acabd2"/><stop offset="0.645" stop-color="#babbdb"/><stop offset="0.675" stop-color="#c8c9e2"/><stop offset="0.71" stop-color="#d9d9ea"/><stop offset="0.75" stop-color="#e4e3f0"/><stop offset="0.8" stop-color="#eceaf3"/><stop offset="0.875" stop-color="#f0eef6"/><stop offset="1.0" stop-color="#f4f2f8"/></linearGradient><linearGradient id="hd37"><stop offset="0.0" stop-color="#f4f2f8"/><stop offset="0.125" stop-color="#efedf5"/><stop offset="0.2" stop-color="#e9e7f2"/><stop offset="0.25" stop-color="#dfdfed"/><stop offset="0.29" stop-color="#cfcfe5"/><stop offset="0.325" stop-color="#babbdb"/><stop offset="0.355" stop-color="#a9a6cf"/><stop offset="0.39" stop-color="#9894c5"/><stop offset="0.44" stop-color="#8a87bf"/><stop offset="0.5" stop-color="#8683bd"/><stop offset="0.56" stop-color="#8a87bf"/><stop offset="0.61" stop-color="#9894c5"/><stop offset="0.645" stop-color="#a9a6cf"/><stop offset="0.675" stop-color="#babbdb"/><stop offset="0.71" stop-color="#cfcfe5"/><stop offset="0.75" stop-color="#dfdfed"/><stop offset="0.8" stop-color="#e9e7f2"/><stop offset="0.875" stop-color="#efedf5"/><stop offset="1.0" stop-color="#f4f2f8"/></linearGradient><linearGradient id="hd38"><stop offset="0.0" stop-color="#f4f2f8"/><stop offset="0.125" stop-color="#eeecf5"/><stop offset="0.2" stop-color="#e6e5f1"/><stop offset="0.25" stop-color="#dadaeb"/><stop offset="0.29" stop-color="#c4c5e0"/><stop offset="0.325" stop-color="#abaad1"/><stop offset="0.355" stop-color="#9692c4"/><stop offset="0.39" stop-color="#827fbb"/><stop offset="0.44" stop-color="#7567ae"/><stop offset="0.5" stop-color="#7261ab"/><stop offset="0.56" stop-color="#7567ae"/><stop offset="0.61" stop-color="#827fbb"/><stop offset="0.645" stop-color="#9692c4"/><stop offset="0.675" stop-color="#abaad1"/><stop offset="0.71" stop-color="#c4c5e0"/><stop offset="0.75" stop-color="#dadaeb"/><stop offset="0.8" stop-color="#e6e5f1"/><stop offset="0.875" stop-color="#eeecf5"/><stop offset="1.0" stop-color="#f4f2f8"/></linearGradient><linearGradient id="hd39"><stop offset="0.0" stop-color="#f4f2f8"/><stop offset="0.125" stop-color="#edebf4"/><stop offset="0.2" stop-color="#e3e2ef"/><stop offset="0.25" stop-color="#d3d3e8"/><stop offset="0.29" stop-color="#b8b9da"/><stop offset="0.325" stop-color="#9b97c7"/><stop offset="0.355" stop-color="#827fbb"/><stop offset="0.39" stop-color="#705da9"/><stop offset="0.44" stop-color="#62419b"/><stop offset="0.5" stop-color="#5e3a98"/><stop offset="0.56" stop-color="#62419b"/><stop offset="0.61" stop-color="#705da9"/><stop offset="0.645" stop-color="#827fbb"/><stop offset="0.675" stop-color="#9b97c7"/><stop offset="0.71" stop-color="#b8b9da"/><stop offset="0.75" stop-color="#d3d3e8"/><stop offset="0.8" stop-color="#e3e2ef"/><stop offset="0.875" stop-color="#edebf4"/><stop offset="1.0" stop-color="#f4f2f8"/></linearGradient><linearGradient id="hd310"><stop offset="0.0" stop-color="#f4f2f8"/><stop offset="0.125" stop-color="#ebeaf3"/><stop offset="0.2" stop-color="#e0dfee"/><stop offset="0.25" stop-color="#cbcce4"/><stop offset="0.29" stop-color="#acabd2"/><stop offset="0.325" stop-color="#8b87bf"/><stop offset="0.355" stop-color="#7262ac"/><stop offset="0.39" stop-color="#5e3a98"/><stop offset="0.44" stop-color="#4d1b89"/><stop offset="0.5" stop-color="#491386"/><stop offset="0.56" stop-color="#4d1b89"/><stop offset="0.61" stop-color="#5e3a98"/><stop offset="0.645" stop-color="#7262ac"/><stop offset="0.675" stop-color="#8b87bf"/><stop offset="0.71" stop-color="#acabd2"/><stop offset="0.75" stop-color="#cbcce4"/><stop offset="0.8" stop-color="#e0dfee"/><stop offset="0.875" stop-color="#ebeaf3"/><stop offset="1.0" stop-color="#f4f2f8"/></linearGradient><clipPath id="chd3"><rect x="996.7" y="1346.8" width="75.4" height="311.9"/></clipPath><linearGradient id="hd40"><stop offset="0.0" stop-color="#fee9d4"/><stop offset="0.125" stop-color="#fee9d4"/><stop offset="0.2" stop-color="#fee9d3"/><stop offset="0.25" stop-color="#fee9d3"/><stop offset="0.29" stop-color="#fee9d3"/><stop offset="0.325" stop-color="#fee8d3"/><stop offset="0.355" stop-color="#fee8d2"/><stop offset="0.39" stop-color="#fee8d2"/><stop offset="0.44" stop-color="#fee8d2"/><stop offset="0.5" stop-color="#fee8d2"/><stop offset="0.56" stop-color="#fee8d2"/><stop offset="0.61" stop-color="#fee8d2"/><stop offset="0.645" stop-color="#fee8d2"/><stop offset="0.675" stop-color="#fee8d3"/><stop offset="0.71" stop-color="#fee9d3"/><stop offset="0.75" stop-color="#fee9d3"/><stop offset="0.8" stop-color="#fee9d3"/><stop offset="0.875" stop-color="#fee9d4"/><stop offset="1.0" stop-color="#fee9d4"/></linearGradient><linearGradient id="hd41"><stop offset="0.0" stop-color="#fee9d4"/><stop offset="0.125" stop-color="#fee8d3"/><stop offset="0.2" stop-color="#fee8d2"/><stop offset="0.25" stop-color="#fee7d0"/><stop offset="0.29" stop-color="#fee6cf"/><stop offset="0.325" stop-color="#fee5cd"/><stop offset="0.355" stop-color="#fee4cb"/><stop offset="0.39" stop-color="#fee3c9"/><stop offset="0.44" stop-color="#fee3c7"/><stop offset="0.5" stop-color="#fee2c7"/><stop offset="0.56" stop-color="#fee3c7"/><stop offset="0.61" stop-color="#fee3c9"/><stop offset="0.645" stop-color="#fee4cb"/><stop offset="0.675" stop-color="#fee5cd"/><stop offset="0.71" stop-color="#fee6cf"/><stop offset="0.75" stop-color="#fee7d0"/><stop offset="0.8" stop-color="#fee8d2"/><stop offset="0.875" stop-color="#fee8d3"/><stop offset="1.0" stop-color="#fee9d4"/></linearGradient><linearGradient id="hd42"><stop offset="0.0" stop-color="#fee9d4"/><stop offset="0.125" stop-color="#fee8d1"/><stop offset="0.2" stop-color="#fee6cf"/><stop offset="0.25" stop-color="#fee5cb"/><stop offset="0.29" stop-color="#fee2c6"/><stop offset="0.325" stop-color="#fee0c1"/><stop offset="0.355" stop-color="#fedebd"/><stop offset="0.39" stop-color="#fedbb9"/><stop offset="0.44" stop-color="#fddab5"/><stop offset="0.5" stop-color="#fdd9b4"/><stop offset="0.56" stop-color="#fddab5"/><stop offset="0.61" stop-color="#fedbb9"/><stop offset="0.645" stop-color="#fedebd"/><stop offset="0.675" stop-color="#fee0c1"/><stop offset="0.71" stop-color="#fee2c6"/><stop offset="0.75" stop-color="#fee5cb"/><stop offset="0.8" stop-color="#fee6cf"/><stop offset="0.875" stop-color="#fee8d1"/><stop offset="1.0" stop-color="#fee9d4"/></linearGradient><linearGradient id="hd43"><stop offset="0.0" stop-color="#fee9d4"/><stop offset="0.125" stop-color="#fee7cf"/><stop offset="0.2" stop-color="#fee4ca"/><stop offset="0.25" stop-color="#fee1c4"/><stop offset="0.29" stop-color="#feddbc"/><stop offset="0.325" stop-color="#fdd9b3"/><stop offset="0.355" stop-color="#fdd5ac"/><stop offset="0.39" stop-color="#fdd2a5"/><stop offset="0.44" stop-color="#fdce9f"/><stop offset="0.5" stop-color="#fdcd9d"/><stop offset="0.56" stop-color="#fdce9f"/><stop offset="0.61" stop-color="#fdd2a5"/><stop offset="0.645" stop-color="#fdd5ac"/><stop offset="0.675" stop-color="#fdd9b3"/><stop offset="0.71" stop-color="#feddbc"/><stop offset="0.75" stop-color="#fee1c4"/><stop offset="0.8" stop-color="#fee4ca"/><stop offset="0.875" stop-color="#fee7cf"/><stop offset="1.0" stop-color="#fee9d4"/></linearGradient><linearGradient id="hd44"><stop offset="0.0" stop-color="#fee9d4"/><stop offset="0.125" stop-color="#fee6cd"/><stop offset="0.2" stop-color="#fee1c5"/><stop offset="0.25" stop-color="#feddbb"/><stop offset="0.29" stop-color="#fdd7af"/><stop offset="0.325" stop-color="#fdd1a3"/><stop offset="0.355" stop-color="#fdc996"/><stop offset="0.39" stop-color="#fdc18a"/><stop offset="0.44" stop-color="#fdbb7f"/><stop offset="0.5" stop-color="#fdb97c"/><stop offset="0.56" stop-color="#fdbb7f"/><stop offset="0.61" stop-color="#fdc18a"/><stop offset="0.645" stop-color="#fdc996"/><stop offset="0.675" stop-color="#fdd1a3"/><stop offset="0.71" stop-color="#fdd7af"/><stop offset="0.75" stop-color="#feddbb"/><stop offset="0.8" stop-color="#fee1c5"/><stop offset="0.875" stop-color="#fee6cd"/><stop offset="1.0" stop-color="#fee9d4"/></linearGradient><linearGradient id="hd45"><stop offset="0.0" stop-color="#fee9d4"/><stop offset="0.125" stop-color="#fee4ca"/><stop offset="0.2" stop-color="#fedebe"/><stop offset="0.25" stop-color="#fdd8b1"/><stop offset="0.29" stop-color="#fdd0a1"/><stop offset="0.325" stop-color="#fdc38d"/><stop offset="0.355" stop-color="#fdb87b"/><stop offset="0.39" stop-color="#fdad6a"/><stop offset="0.44" stop-color="#fda55e"/><stop offset="0.5" stop-color="#fda35b"/><stop offset="0.56" stop-color="#fda55e"/><stop offset="0.61" stop-color="#fdad6a"/><stop offset="0.645" stop-color="#fdb87b"/><stop offset="0.675" stop-color="#fdc38d"/><stop offset="0.71" stop-color="#fdd0a1"/><stop offset="0.75" stop-color="#fdd8b1"/><stop offset="0.8" stop-color="#fedebe"/><stop offset="0.875" stop-color="#fee4ca"/><stop offset="1.0" stop-color="#fee9d4"/></linearGradient><linearGradient id="hd46"><stop offset="0.0" stop-color="#fee9d4"/><stop offset="0.125" stop-color="#fee2c6"/><stop offset="0.2" stop-color="#fddbb7"/><stop offset="0.25" stop-color="#fdd2a7"/><stop offset="0.29" stop-color="#fdc48e"/><stop offset="0.325" stop-color="#fdb374"/><stop offset="0.355" stop-color="#fda65f"/><stop offset="0.39" stop-color="#fd994d"/><stop offset="0.44" stop-color="#fd8e3d"/><stop offset="0.5" stop-color="#fc8a39"/><stop offset="0.56" stop-color="#fd8e3d"/><stop offset="0.61" stop-color="#fd994d"/><stop offset="0.645" stop-color="#fda65f"/><stop offset="0.675" stop-color="#fdb374"/><stop offset="0.71" stop-color="#fdc48e"/><stop offset="0.75" stop-color="#fdd2a7"/><stop offset="0.8" stop-color="#fddbb7"/><stop offset="0.875" stop-color="#fee2c6"/><stop offset="1.0" stop-color="#fee9d4"/></linearGradient><linearGradient id="hd47"><stop offset="0.0" stop-color="#fee9d4"/><stop offset="0.125" stop-color="#fee0c2"/><stop offset="0.2" stop-color="#fdd7b0"/><stop offset="0.25" stop-color="#fdcb99"/><stop offset="0.29" stop-color="#fdb77a"/><stop offset="0.325" stop-color="#fda35c"/><stop offset="0.355" stop-color="#fd9244"/><stop offset="0.39" stop-color="#f9812e"/><stop offset="0.44" stop-color="#f4721e"/><stop offset="0.5" stop-color="#f36e19"/><stop offset="0.56" stop-color="#f4721e"/><stop offset="0.61" stop-color="#f9812e"/><stop offset="0.645" stop-color="#fd9244"/><stop offset="0.675" stop-color="#fda35c"/><stop offset="0.71" stop-color="#fdb77a"/><stop offset="0.75" stop-color="#fdcb99"/><stop offset="0.8" stop-color="#fdd7b0"/><stop offset="0.875" stop-color="#fee0c2"/><stop offset="1.0" stop-color="#fee9d4"/></linearGradient><linearGradient id="hd48"><stop offset="0.0" stop-color="#fee9d4"/><stop offset="0.125" stop-color="#fedebe"/><stop offset="0.2" stop-color="#fdd3a8"/><stop offset="0.25" stop-color="#fdc18a"/><stop offset="0.29" stop-color="#fdaa65"/><stop offset="0.325" stop-color="#fd9243"/><stop offset="0.355" stop-color="#f77c29"/><stop offset="0.39" stop-color="#f06712"/><stop offset="0.44" stop-color="#e45709"/><stop offset="0.5" stop-color="#e05207"/><stop offset="0.56" stop-color="#e45709"/><stop offset="0.61" stop-color="#f06712"/><stop offset="0.645" stop-color="#f77c29"/><stop offset="0.675" stop-color="#fd9243"/><stop offset="0.71" stop-color="#fdaa65"/><stop offset="0.75" stop-color="#fdc18a"/><stop offset="0.8" stop-color="#fdd3a8"/><stop offset="0.875" stop-color="#fedebe"/><stop offset="1.0" stop-color="#fee9d4"/></linearGradient><linearGradient id="hd49"><stop offset="0.0" stop-color="#fee9d4"/><stop offset="0.125" stop-color="#fedcb9"/><stop offset="0.2" stop-color="#fdce9f"/><stop offset="0.25" stop-color="#fdb77a"/><stop offset="0.29" stop-color="#fd9c51"/><stop offset="0.325" stop-color="#f87f2b"/><stop offset="0.355" stop-color="#ee6511"/><stop offset="0.39" stop-color="#dd4e04"/><stop offset="0.44" stop-color="#c44002"/><stop offset="0.5" stop-color="#bb3e02"/><stop offset="0.56" stop-color="#c44002"/><stop offset="0.61" stop-color="#dd4e04"/><stop offset="0.645" stop-color="#ee6511"/><stop offset="0.675" stop-color="#f87f2b"/><stop offset="0.71" stop-color="#fd9c51"/><stop offset="0.75" stop-color="#fdb77a"/><stop offset="0.8" stop-color="#fdce9f"/><stop offset="0.875" stop-color="#fedcb9"/><stop offset="1.0" stop-color="#fee9d4"/></linearGradient><linearGradient id="hd410"><stop offset="0.0" stop-color="#fee9d4"/><stop offset="0.125" stop-color="#fdd9b5"/><stop offset="0.2" stop-color="#fdc793"/><stop offset="0.25" stop-color="#fdac69"/><stop offset="0.29" stop-color="#fd8d3c"/><stop offset="0.325" stop-color="#f16a14"/><stop offset="0.355" stop-color="#dd4e04"/><stop offset="0.39" stop-color="#b83c02"/><stop offset="0.44" stop-color="#993103"/><stop offset="0.5" stop-color="#922e04"/><stop offset="0.56" stop-color="#993103"/><stop offset="0.61" stop-color="#b83c02"/><stop offset="0.645" stop-color="#dd4e04"/><stop offset="0.675" stop-color="#f16a14"/><stop offset="0.71" stop-color="#fd8d3c"/><stop offset="0.75" stop-color="#fdac69"/><stop offset="0.8" stop-color="#fdc793"/><stop offset="0.875" stop-color="#fdd9b5"/><stop offset="1.0" stop-color="#fee9d4"/></linearGradient><clipPath id="chd4"><rect x="1095.3" y="1346.8" width="76.2" height="311.9"/></clipPath><linearGradient id="hd50"><stop offset="0.0" stop-color="#fee9d4"/><stop offset="0.125" stop-color="#fee9d4"/><stop offset="0.2" stop-color="#fee9d3"/><stop offset="0.25" stop-color="#fee9d3"/><stop offset="0.29" stop-color="#fee9d3"/><stop offset="0.325" stop-color="#fee8d3"/><stop offset="0.355" stop-color="#fee8d2"/><stop offset="0.39" stop-color="#fee8d2"/><stop offset="0.44" stop-color="#fee8d2"/><stop offset="0.5" stop-color="#fee8d2"/><stop offset="0.56" stop-color="#fee8d2"/><stop offset="0.61" stop-color="#fee8d2"/><stop offset="0.645" stop-color="#fee8d2"/><stop offset="0.675" stop-color="#fee8d3"/><stop offset="0.71" stop-color="#fee9d3"/><stop offset="0.75" stop-color="#fee9d3"/><stop offset="0.8" stop-color="#fee9d3"/><stop offset="0.875" stop-color="#fee9d4"/><stop offset="1.0" stop-color="#fee9d4"/></linearGradient><linearGradient id="hd51"><stop offset="0.0" stop-color="#fee9d4"/><stop offset="0.125" stop-color="#fee8d3"/><stop offset="0.2" stop-color="#fee8d2"/><stop offset="0.25" stop-color="#fee7d0"/><stop offset="0.29" stop-color="#fee6cf"/><stop offset="0.325" stop-color="#fee5cd"/><stop offset="0.355" stop-color="#fee4cb"/><stop offset="0.39" stop-color="#fee3c9"/><stop offset="0.44" stop-color="#fee3c7"/><stop offset="0.5" stop-color="#fee2c7"/><stop offset="0.56" stop-color="#fee3c7"/><stop offset="0.61" stop-color="#fee3c9"/><stop offset="0.645" stop-color="#fee4cb"/><stop offset="0.675" stop-color="#fee5cd"/><stop offset="0.71" stop-color="#fee6cf"/><stop offset="0.75" stop-color="#fee7d0"/><stop offset="0.8" stop-color="#fee8d2"/><stop offset="0.875" stop-color="#fee8d3"/><stop offset="1.0" stop-color="#fee9d4"/></linearGradient><linearGradient id="hd52"><stop offset="0.0" stop-color="#fee9d4"/><stop offset="0.125" stop-color="#fee8d1"/><stop offset="0.2" stop-color="#fee6cf"/><stop offset="0.25" stop-color="#fee5cb"/><stop offset="0.29" stop-color="#fee2c6"/><stop offset="0.325" stop-color="#fee0c1"/><stop offset="0.355" stop-color="#fedebd"/><stop offset="0.39" stop-color="#fedbb9"/><stop offset="0.44" stop-color="#fddab5"/><stop offset="0.5" stop-color="#fdd9b4"/><stop offset="0.56" stop-color="#fddab5"/><stop offset="0.61" stop-color="#fedbb9"/><stop offset="0.645" stop-color="#fedebd"/><stop offset="0.675" stop-color="#fee0c1"/><stop offset="0.71" stop-color="#fee2c6"/><stop offset="0.75" stop-color="#fee5cb"/><stop offset="0.8" stop-color="#fee6cf"/><stop offset="0.875" stop-color="#fee8d1"/><stop offset="1.0" stop-color="#fee9d4"/></linearGradient><linearGradient id="hd53"><stop offset="0.0" stop-color="#fee9d4"/><stop offset="0.125" stop-color="#fee7cf"/><stop offset="0.2" stop-color="#fee4ca"/><stop offset="0.25" stop-color="#fee1c4"/><stop offset="0.29" stop-color="#feddbc"/><stop offset="0.325" stop-color="#fdd9b3"/><stop offset="0.355" stop-color="#fdd5ac"/><stop offset="0.39" stop-color="#fdd2a5"/><stop offset="0.44" stop-color="#fdce9f"/><stop offset="0.5" stop-color="#fdcd9d"/><stop offset="0.56" stop-color="#fdce9f"/><stop offset="0.61" stop-color="#fdd2a5"/><stop offset="0.645" stop-color="#fdd5ac"/><stop offset="0.675" stop-color="#fdd9b3"/><stop offset="0.71" stop-color="#feddbc"/><stop offset="0.75" stop-color="#fee1c4"/><stop offset="0.8" stop-color="#fee4ca"/><stop offset="0.875" stop-color="#fee7cf"/><stop offset="1.0" stop-color="#fee9d4"/></linearGradient><linearGradient id="hd54"><stop offset="0.0" stop-color="#fee9d4"/><stop offset="0.125" stop-color="#fee6cd"/><stop offset="0.2" stop-color="#fee1c5"/><stop offset="0.25" stop-color="#feddbb"/><stop offset="0.29" stop-color="#fdd7af"/><stop offset="0.325" stop-color="#fdd1a3"/><stop offset="0.355" stop-color="#fdc996"/><stop offset="0.39" stop-color="#fdc18a"/><stop offset="0.44" stop-color="#fdbb7f"/><stop offset="0.5" stop-color="#fdb97c"/><stop offset="0.56" stop-color="#fdbb7f"/><stop offset="0.61" stop-color="#fdc18a"/><stop offset="0.645" stop-color="#fdc996"/><stop offset="0.675" stop-color="#fdd1a3"/><stop offset="0.71" stop-color="#fdd7af"/><stop offset="0.75" stop-color="#feddbb"/><stop offset="0.8" stop-color="#fee1c5"/><stop offset="0.875" stop-color="#fee6cd"/><stop offset="1.0" stop-color="#fee9d4"/></linearGradient><linearGradient id="hd55"><stop offset="0.0" stop-color="#fee9d4"/><stop offset="0.125" stop-color="#fee4ca"/><stop offset="0.2" stop-color="#fedebe"/><stop offset="0.25" stop-color="#fdd8b1"/><stop offset="0.29" stop-color="#fdd0a1"/><stop offset="0.325" stop-color="#fdc38d"/><stop offset="0.355" stop-color="#fdb87b"/><stop offset="0.39" stop-color="#fdad6a"/><stop offset="0.44" stop-color="#fda55e"/><stop offset="0.5" stop-color="#fda35b"/><stop offset="0.56" stop-color="#fda55e"/><stop offset="0.61" stop-color="#fdad6a"/><stop offset="0.645" stop-color="#fdb87b"/><stop offset="0.675" stop-color="#fdc38d"/><stop offset="0.71" stop-color="#fdd0a1"/><stop offset="0.75" stop-color="#fdd8b1"/><stop offset="0.8" stop-color="#fedebe"/><stop offset="0.875" stop-color="#fee4ca"/><stop offset="1.0" stop-color="#fee9d4"/></linearGradient><linearGradient id="hd56"><stop offset="0.0" stop-color="#fee9d4"/><stop offset="0.125" stop-color="#fee2c6"/><stop offset="0.2" stop-color="#fddbb7"/><stop offset="0.25" stop-color="#fdd2a7"/><stop offset="0.29" stop-color="#fdc48e"/><stop offset="0.325" stop-color="#fdb374"/><stop offset="0.355" stop-color="#fda65f"/><stop offset="0.39" stop-color="#fd994d"/><stop offset="0.44" stop-color="#fd8e3d"/><stop offset="0.5" stop-color="#fc8a39"/><stop offset="0.56" stop-color="#fd8e3d"/><stop offset="0.61" stop-color="#fd994d"/><stop offset="0.645" stop-color="#fda65f"/><stop offset="0.675" stop-color="#fdb374"/><stop offset="0.71" stop-color="#fdc48e"/><stop offset="0.75" stop-color="#fdd2a7"/><stop offset="0.8" stop-color="#fddbb7"/><stop offset="0.875" stop-color="#fee2c6"/><stop offset="1.0" stop-color="#fee9d4"/></linearGradient><linearGradient id="hd57"><stop offset="0.0" stop-color="#fee9d4"/><stop offset="0.125" stop-color="#fee0c2"/><stop offset="0.2" stop-color="#fdd7b0"/><stop offset="0.25" stop-color="#fdcb99"/><stop offset="0.29" stop-color="#fdb77a"/><stop offset="0.325" stop-color="#fda35c"/><stop offset="0.355" stop-color="#fd9244"/><stop offset="0.39" stop-color="#f9812e"/><stop offset="0.44" stop-color="#f4721e"/><stop offset="0.5" stop-color="#f36e19"/><stop offset="0.56" stop-color="#f4721e"/><stop offset="0.61" stop-color="#f9812e"/><stop offset="0.645" stop-color="#fd9244"/><stop offset="0.675" stop-color="#fda35c"/><stop offset="0.71" stop-color="#fdb77a"/><stop offset="0.75" stop-color="#fdcb99"/><stop offset="0.8" stop-color="#fdd7b0"/><stop offset="0.875" stop-color="#fee0c2"/><stop offset="1.0" stop-color="#fee9d4"/></linearGradient><linearGradient id="hd58"><stop offset="0.0" stop-color="#fee9d4"/><stop offset="0.125" stop-color="#fedebe"/><stop offset="0.2" stop-color="#fdd3a8"/><stop offset="0.25" stop-color="#fdc18a"/><stop offset="0.29" stop-color="#fdaa65"/><stop offset="0.325" stop-color="#fd9243"/><stop offset="0.355" stop-color="#f77c29"/><stop offset="0.39" stop-color="#f06712"/><stop offset="0.44" stop-color="#e45709"/><stop offset="0.5" stop-color="#e05207"/><stop offset="0.56" stop-color="#e45709"/><stop offset="0.61" stop-color="#f06712"/><stop offset="0.645" stop-color="#f77c29"/><stop offset="0.675" stop-color="#fd9243"/><stop offset="0.71" stop-color="#fdaa65"/><stop offset="0.75" stop-color="#fdc18a"/><stop offset="0.8" stop-color="#fdd3a8"/><stop offset="0.875" stop-color="#fedebe"/><stop offset="1.0" stop-color="#fee9d4"/></linearGradient><linearGradient id="hd59"><stop offset="0.0" stop-color="#fee9d4"/><stop offset="0.125" stop-color="#fedcb9"/><stop offset="0.2" stop-color="#fdce9f"/><stop offset="0.25" stop-color="#fdb77a"/><stop offset="0.29" stop-color="#fd9c51"/><stop offset="0.325" stop-color="#f87f2b"/><stop offset="0.355" stop-color="#ee6511"/><stop offset="0.39" stop-color="#dd4e04"/><stop offset="0.44" stop-color="#c44002"/><stop offset="0.5" stop-color="#bb3e02"/><stop offset="0.56" stop-color="#c44002"/><stop offset="0.61" stop-color="#dd4e04"/><stop offset="0.645" stop-color="#ee6511"/><stop offset="0.675" stop-color="#f87f2b"/><stop offset="0.71" stop-color="#fd9c51"/><stop offset="0.75" stop-color="#fdb77a"/><stop offset="0.8" stop-color="#fdce9f"/><stop offset="0.875" stop-color="#fedcb9"/><stop offset="1.0" stop-color="#fee9d4"/></linearGradient><linearGradient id="hd510"><stop offset="0.0" stop-color="#fee9d4"/><stop offset="0.125" stop-color="#fdd9b5"/><stop offset="0.2" stop-color="#fdc793"/><stop offset="0.25" stop-color="#fdac69"/><stop offset="0.29" stop-color="#fd8d3c"/><stop offset="0.325" stop-color="#f16a14"/><stop offset="0.355" stop-color="#dd4e04"/><stop offset="0.39" stop-color="#b83c02"/><stop offset="0.44" stop-color="#993103"/><stop offset="0.5" stop-color="#922e04"/><stop offset="0.56" stop-color="#993103"/><stop offset="0.61" stop-color="#b83c02"/><stop offset="0.645" stop-color="#dd4e04"/><stop offset="0.675" stop-color="#f16a14"/><stop offset="0.71" stop-color="#fd8d3c"/><stop offset="0.75" stop-color="#fdac69"/><stop offset="0.8" stop-color="#fdc793"/><stop offset="0.875" stop-color="#fdd9b5"/><stop offset="1.0" stop-color="#fee9d4"/></linearGradient><clipPath id="chd5"><rect x="1177.8" y="1346.8" width="76.2" height="311.9"/></clipPath><linearGradient id="hg00"><stop offset="0.0" stop-color="#e4f5df"/><stop offset="0.125" stop-color="#e4f4de"/><stop offset="0.2" stop-color="#e3f4de"/><stop offset="0.25" stop-color="#e3f4de"/><stop offset="0.29" stop-color="#e3f4de"/><stop offset="0.325" stop-color="#e3f4dd"/><stop offset="0.355" stop-color="#e2f4dd"/><stop offset="0.39" stop-color="#e2f4dd"/><stop offset="0.44" stop-color="#e2f4dd"/><stop offset="0.5" stop-color="#e2f4dd"/><stop offset="0.56" stop-color="#e2f4dd"/><stop offset="0.61" stop-color="#e2f4dd"/><stop offset="0.645" stop-color="#e2f4dd"/><stop offset="0.675" stop-color="#e3f4dd"/><stop offset="0.71" stop-color="#e3f4de"/><stop offset="0.75" stop-color="#e3f4de"/><stop offset="0.8" stop-color="#e3f4de"/><stop offset="0.875" stop-color="#e4f4de"/><stop offset="1.0" stop-color="#e4f5df"/></linearGradient><linearGradient id="hg01"><stop offset="0.0" stop-color="#e4f5df"/><stop offset="0.125" stop-color="#e2f4dd"/><stop offset="0.2" stop-color="#e1f3dc"/><stop offset="0.25" stop-color="#e0f3da"/><stop offset="0.29" stop-color="#def2d9"/><stop offset="0.325" stop-color="#ddf2d8"/><stop offset="0.355" stop-color="#dcf1d7"/><stop offset="0.39" stop-color="#dbf1d5"/><stop offset="0.44" stop-color="#daf1d4"/><stop offset="0.5" stop-color="#d9f0d4"/><stop offset="0.56" stop-color="#daf1d4"/><stop offset="0.61" stop-color="#dbf1d5"/><stop offset="0.645" stop-color="#dcf1d7"/><stop offset="0.675" stop-color="#ddf2d8"/><stop offset="0.71" stop-color="#def2d9"/><stop offset="0.75" stop-color="#e0f3da"/><stop offset="0.8" stop-color="#e1f3dc"/><stop offset="0.875" stop-color="#e2f4dd"/><stop offset="1.0" stop-color="#e4f5df"/></linearGradient><linearGradient id="hg02"><stop offset="0.0" stop-color="#e4f5df"/><stop offset="0.125" stop-color="#e1f3dc"/><stop offset="0.2" stop-color="#def2d8"/><stop offset="0.25" stop-color="#dbf1d5"/><stop offset="0.29" stop-color="#d8f0d3"/><stop offset="0.325" stop-color="#d6efd0"/><stop offset="0.355" stop-color="#d3eecd"/><stop offset="0.39" stop-color="#d1edcb"/><stop offset="0.44" stop-color="#ceecc8"/><stop offset="0.5" stop-color="#cdebc7"/><stop offset="0.56" stop-color="#ceecc8"/><stop offset="0.61" stop-color="#d1edcb"/><stop offset="0.645" stop-color="#d3eecd"/><stop offset="0.675" stop-color="#d6efd0"/><stop offset="0.71" stop-color="#d8f0d3"/><stop offset="0.75" stop-color="#dbf1d5"/><stop offset="0.8" stop-color="#def2d8"/><stop offset="0.875" stop-color="#e1f3dc"/><stop offset="1.0" stop-color="#e4f5df"/></linearGradient><linearGradient id="hg03"><stop offset="0.0" stop-color="#e4f5df"/><stop offset="0.125" stop-color="#dff3da"/><stop offset="0.2" stop-color="#daf1d4"/><stop offset="0.25" stop-color="#d5efcf"/><stop offset="0.29" stop-color="#d1edcb"/><stop offset="0.325" stop-color="#ccebc6"/><stop offset="0.355" stop-color="#c9eac2"/><stop offset="0.39" stop-color="#c4e8bd"/><stop offset="0.44" stop-color="#bee5b8"/><stop offset="0.5" stop-color="#bce4b5"/><stop offset="0.56" stop-color="#bee5b8"/><stop offset="0.61" stop-color="#c4e8bd"/><stop offset="0.645" stop-color="#c9eac2"/><stop offset="0.675" stop-color="#ccebc6"/><stop offset="0.71" stop-color="#d1edcb"/><stop offset="0.75" stop-color="#d5efcf"/><stop offset="0.8" stop-color="#daf1d4"/><stop offset="0.875" stop-color="#dff3da"/><stop offset="1.0" stop-color="#e4f5df"/></linearGradient><linearGradient id="hg04"><stop offset="0.0" stop-color="#e4f5df"/><stop offset="0.125" stop-color="#ddf2d7"/><stop offset="0.2" stop-color="#d6efd0"/><stop offset="0.25" stop-color="#cfecc8"/><stop offset="0.29" stop-color="#c8e9c1"/><stop offset="0.325" stop-color="#c0e6ba"/><stop offset="0.355" stop-color="#b9e3b3"/><stop offset="0.39" stop-color="#b2e0ab"/><stop offset="0.44" stop-color="#aadda3"/><stop offset="0.5" stop-color="#a6dba0"/><stop offset="0.56" stop-color="#aadda3"/><stop offset="0.61" stop-color="#b2e0ab"/><stop offset="0.645" stop-color="#b9e3b3"/><stop offset="0.675" stop-color="#c0e6ba"/><stop offset="0.71" stop-color="#c8e9c1"/><stop offset="0.75" stop-color="#cfecc8"/><stop offset="0.8" stop-color="#d6efd0"/><stop offset="0.875" stop-color="#ddf2d7"/><stop offset="1.0" stop-color="#e4f5df"/></linearGradient><linearGradient id="hg05"><stop offset="0.0" stop-color="#e4f5df"/><stop offset="0.125" stop-color="#daf1d5"/><stop offset="0.2" stop-color="#d1edca"/><stop offset="0.25" stop-color="#c8e9c1"/><stop offset="0.29" stop-color="#bce4b6"/><stop offset="0.325" stop-color="#b1e0ab"/><stop offset="0.355" stop-color="#a8dca1"/><stop offset="0.39" stop-color="#9dd797"/><stop offset="0.44" stop-color="#90d18d"/><stop offset="0.5" stop-color="#8ace88"/><stop offset="0.56" stop-color="#90d18d"/><stop offset="0.61" stop-color="#9dd797"/><stop offset="0.645" stop-color="#a8dca1"/><stop offset="0.675" stop-color="#b1e0ab"/><stop offset="0.71" stop-color="#bce4b6"/><stop offset="0.75" stop-color="#c8e9c1"/><stop offset="0.8" stop-color="#d1edca"/><stop offset="0.875" stop-color="#daf1d5"/><stop offset="1.0" stop-color="#e4f5df"/></linearGradient><linearGradient id="hg06"><stop offset="0.0" stop-color="#e4f5df"/><stop offset="0.125" stop-color="#d8f0d2"/><stop offset="0.2" stop-color="#cbebc5"/><stop offset="0.25" stop-color="#bee5b7"/><stop offset="0.29" stop-color="#afdfa8"/><stop offset="0.325" stop-color="#a1d99b"/><stop offset="0.355" stop-color="#92d28f"/><stop offset="0.39" stop-color="#82cb82"/><stop offset="0.44" stop-color="#71c375"/><stop offset="0.5" stop-color="#6abf71"/><stop offset="0.56" stop-color="#71c375"/><stop offset="0.61" stop-color="#82cb82"/><stop offset="0.645" stop-color="#92d28f"/><stop offset="0.675" stop-color="#a1d99b"/><stop offset="0.71" stop-color="#afdfa8"/><stop offset="0.75" stop-color="#bee5b7"/><stop offset="0.8" stop-color="#cbebc5"/><stop offset="0.875" stop-color="#d8f0d2"/><stop offset="1.0" stop-color="#e4f5df"/></linearGradient><linearGradient id="hg07"><stop offset="0.0" stop-color="#e4f5df"/><stop offset="0.125" stop-color="#d5efcf"/><stop offset="0.2" stop-color="#c5e8be"/><stop offset="0.25" stop-color="#b2e0ac"/><stop offset="0.29" stop-color="#a0d99a"/><stop offset="0.325" stop-color="#8bcf89"/><stop offset="0.355" stop-color="#79c67a"/><stop offset="0.39" stop-color="#64bc6e"/><stop offset="0.44" stop-color="#4db163"/><stop offset="0.5" stop-color="#43ac5e"/><stop offset="0.56" stop-color="#4db163"/><stop offset="0.61" stop-color="#64bc6e"/><stop offset="0.645" stop-color="#79c67a"/><stop offset="0.675" stop-color="#8bcf89"/><stop offset="0.71" stop-color="#a0d99a"/><stop offset="0.75" stop-color="#b2e0ac"/><stop offset="0.8" stop-color="#c5e8be"/><stop offset="0.875" stop-color="#d5efcf"/><stop offset="1.0" stop-color="#e4f5df"/></linearGradient><linearGradient id="hg08"><stop offset="0.0" stop-color="#e4f5df"/><stop offset="0.125" stop-color="#d2edcb"/><stop offset="0.2" stop-color="#bde5b6"/><stop offset="0.25" stop-color="#a7dba1"/><stop offset="0.29" stop-color="#8ed08b"/><stop offset="0.325" stop-color="#75c477"/><stop offset="0.355" stop-color="#5cb86a"/><stop offset="0.39" stop-color="#41ab5d"/><stop offset="0.44" stop-color="#319a50"/><stop offset="0.5" stop-color="#2a924b"/><stop offset="0.56" stop-color="#319a50"/><stop offset="0.61" stop-color="#41ab5d"/><stop offset="0.645" stop-color="#5cb86a"/><stop offset="0.675" stop-color="#75c477"/><stop offset="0.71" stop-color="#8ed08b"/><stop offset="0.75" stop-color="#a7dba1"/><stop offset="0.8" stop-color="#bde5b6"/><stop offset="0.875" stop-color="#d2edcb"/><stop offset="1.0" stop-color="#e4f5df"/></linearGradient><linearGradient id="hg09"><stop offset="0.0" stop-color="#e4f5df"/><stop offset="0.125" stop-color="#ceecc8"/><stop offset="0.2" stop-color="#b5e1ae"/><stop offset="0.25" stop-color="#99d594"/><stop offset="0.29" stop-color="#7ac77b"/><stop offset="0.325" stop-color="#59b769"/><stop offset="0.355" stop-color="#3ea85b"/><stop offset="0.39" stop-color="#2c944c"/><stop offset="0.44" stop-color="#16803c"/><stop offset="0.5" stop-color="#0d7835"/><stop offset="0.56" stop-color="#16803c"/><stop offset="0.61" stop-color="#2c944c"/><stop offset="0.645" stop-color="#3ea85b"/><stop offset="0.675" stop-color="#59b769"/><stop offset="0.71" stop-color="#7ac77b"/><stop offset="0.75" stop-color="#99d594"/><stop offset="0.8" stop-color="#b5e1ae"/><stop offset="0.875" stop-color="#ceecc8"/><stop offset="1.0" stop-color="#e4f5df"/></linearGradient><linearGradient id="hg010"><stop offset="0.0" stop-color="#e4f5df"/><stop offset="0.125" stop-color="#cbebc4"/><stop offset="0.2" stop-color="#acdea5"/><stop offset="0.25" stop-color="#89ce88"/><stop offset="0.29" stop-color="#64bc6e"/><stop offset="0.325" stop-color="#3ea85b"/><stop offset="0.355" stop-color="#2a934b"/><stop offset="0.39" stop-color="#137d39"/><stop offset="0.44" stop-color="#006428"/><stop offset="0.5" stop-color="#005723"/><stop offset="0.56" stop-color="#006428"/><stop offset="0.61" stop-color="#137d39"/><stop offset="0.645" stop-color="#2a934b"/><stop offset="0.675" stop-color="#3ea85b"/><stop offset="0.71" stop-color="#64bc6e"/><stop offset="0.75" stop-color="#89ce88"/><stop offset="0.8" stop-color="#acdea5"/><stop offset="0.875" stop-color="#cbebc4"/><stop offset="1.0" stop-color="#e4f5df"/></linearGradient><clipPath id="chg0"><rect x="731.4" y="2042.3" width="75.5" height="322.8"/></clipPath><linearGradient id="hg10"><stop offset="0.0" stop-color="#e6f5e1"/><stop offset="0.125" stop-color="#e6f5e1"/><stop offset="0.2" stop-color="#e5f5e0"/><stop offset="0.25" stop-color="#e5f5e0"/><stop offset="0.29" stop-color="#e5f5e0"/><stop offset="0.325" stop-color="#e5f5e0"/><stop offset="0.355" stop-color="#e5f5e0"/><stop offset="0.39" stop-color="#e5f5df"/><stop offset="0.44" stop-color="#e4f5df"/><stop offset="0.5" stop-color="#e4f5df"/><stop offset="0.56" stop-color="#e4f5df"/><stop offset="0.61" stop-color="#e5f5df"/><stop offset="0.645" stop-color="#e5f5e0"/><stop offset="0.675" stop-color="#e5f5e0"/><stop offset="0.71" stop-color="#e5f5e0"/><stop offset="0.75" stop-color="#e5f5e0"/><stop offset="0.8" stop-color="#e5f5e0"/><stop offset="0.875" stop-color="#e6f5e1"/><stop offset="1.0" stop-color="#e6f5e1"/></linearGradient><linearGradient id="hg11"><stop offset="0.0" stop-color="#e6f5e1"/><stop offset="0.125" stop-color="#e5f5e0"/><stop offset="0.2" stop-color="#e4f4df"/><stop offset="0.25" stop-color="#e2f4dd"/><stop offset="0.29" stop-color="#e1f3dc"/><stop offset="0.325" stop-color="#e0f3da"/><stop offset="0.355" stop-color="#dff2d9"/><stop offset="0.39" stop-color="#ddf2d8"/><stop offset="0.44" stop-color="#dcf1d7"/><stop offset="0.5" stop-color="#dcf1d6"/><stop offset="0.56" stop-color="#dcf1d7"/><stop offset="0.61" stop-color="#ddf2d8"/><stop offset="0.645" stop-color="#dff2d9"/><stop offset="0.675" stop-color="#e0f3da"/><stop offset="0.71" stop-color="#e1f3dc"/><stop offset="0.75" stop-color="#e2f4dd"/><stop offset="0.8" stop-color="#e4f4df"/><stop offset="0.875" stop-color="#e5f5e0"/><stop offset="1.0" stop-color="#e6f5e1"/></linearGradient><linearGradient id="hg12"><stop offset="0.0" stop-color="#e6f5e1"/><stop offset="0.125" stop-color="#e4f4de"/><stop offset="0.2" stop-color="#e1f3db"/><stop offset="0.25" stop-color="#def2d8"/><stop offset="0.29" stop-color="#dbf1d5"/><stop offset="0.325" stop-color="#d8f0d2"/><stop offset="0.355" stop-color="#d6efd0"/><stop offset="0.39" stop-color="#d3eecd"/><stop offset="0.44" stop-color="#d0edca"/><stop offset="0.5" stop-color="#cfecc9"/><stop offset="0.56" stop-color="#d0edca"/><stop offset="0.61" stop-color="#d3eecd"/><stop offset="0.645" stop-color="#d6efd0"/><stop offset="0.675" stop-color="#d8f0d2"/><stop offset="0.71" stop-color="#dbf1d5"/><stop offset="0.75" stop-color="#def2d8"/><stop offset="0.8" stop-color="#e1f3db"/><stop offset="0.875" stop-color="#e4f4de"/><stop offset="1.0" stop-color="#e6f5e1"/></linearGradient><linearGradient id="hg13"><stop offset="0.0" stop-color="#e6f5e1"/><stop offset="0.125" stop-color="#e2f4dd"/><stop offset="0.2" stop-color="#ddf2d8"/><stop offset="0.25" stop-color="#d8f0d3"/><stop offset="0.29" stop-color="#d4eece"/><stop offset="0.325" stop-color="#cfecc9"/><stop offset="0.355" stop-color="#cbebc4"/><stop offset="0.39" stop-color="#c7e9c0"/><stop offset="0.44" stop-color="#c1e6ba"/><stop offset="0.5" stop-color="#bfe5b8"/><stop offset="0.56" stop-color="#c1e6ba"/><stop offset="0.61" stop-color="#c7e9c0"/><stop offset="0.645" stop-color="#cbebc4"/><stop offset="0.675" stop-color="#cfecc9"/><stop offset="0.71" stop-color="#d4eece"/><stop offset="0.75" stop-color="#d8f0d3"/><stop offset="0.8" stop-color="#ddf2d8"/><stop offset="0.875" stop-color="#e2f4dd"/><stop offset="1.0" stop-color="#e6f5e1"/></linearGradient><linearGradient id="hg14"><stop offset="0.0" stop-color="#e6f5e1"/><stop offset="0.125" stop-color="#e0f3da"/><stop offset="0.2" stop-color="#d9f0d3"/><stop offset="0.25" stop-color="#d2edcc"/><stop offset="0.29" stop-color="#cbebc4"/><stop offset="0.325" stop-color="#c4e8bd"/><stop offset="0.355" stop-color="#bce5b6"/><stop offset="0.39" stop-color="#b4e1ae"/><stop offset="0.44" stop-color="#acdea6"/><stop offset="0.5" stop-color="#a9dca2"/><stop offset="0.56" stop-color="#acdea6"/><stop offset="0.61" stop-color="#b4e1ae"/><stop offset="0.645" stop-color="#bce5b6"/><stop offset="0.675" stop-color="#c4e8bd"/><stop offset="0.71" stop-color="#cbebc4"/><stop offset="0.75" stop-color="#d2edcc"/><stop offset="0.8" stop-color="#d9f0d3"/><stop offset="0.875" stop-color="#e0f3da"/><stop offset="1.0" stop-color="#e6f5e1"/></linearGradient><linearGradient id="hg15"><stop offset="0.0" stop-color="#e6f5e1"/><stop offset="0.125" stop-color="#def2d8"/><stop offset="0.2" stop-color="#d4eece"/><stop offset="0.25" stop-color="#cbebc4"/><stop offset="0.29" stop-color="#c0e6ba"/><stop offset="0.325" stop-color="#b5e1ae"/><stop offset="0.355" stop-color="#abdda5"/><stop offset="0.39" stop-color="#a0d89a"/><stop offset="0.44" stop-color="#92d28f"/><stop offset="0.5" stop-color="#8dd08a"/><stop offset="0.56" stop-color="#92d28f"/><stop offset="0.61" stop-color="#a0d89a"/><stop offset="0.645" stop-color="#abdda5"/><stop offset="0.675" stop-color="#b5e1ae"/><stop offset="0.71" stop-color="#c0e6ba"/><stop offset="0.75" stop-color="#cbebc4"/><stop offset="0.8" stop-color="#d4eece"/><stop offset="0.875" stop-color="#def2d8"/><stop offset="1.0" stop-color="#e6f5e1"/></linearGradient><linearGradient id="hg16"><stop offset="0.0" stop-color="#e6f5e1"/><stop offset="0.125" stop-color="#dbf1d5"/><stop offset="0.2" stop-color="#cfecc9"/><stop offset="0.25" stop-color="#c2e7bb"/><stop offset="0.29" stop-color="#b3e1ad"/><stop offset="0.325" stop-color="#a4da9e"/><stop offset="0.355" stop-color="#96d492"/><stop offset="0.39" stop-color="#85cc84"/><stop offset="0.44" stop-color="#74c476"/><stop offset="0.5" stop-color="#6cc072"/><stop offset="0.56" stop-color="#74c476"/><stop offset="0.61" stop-color="#85cc84"/><stop offset="0.645" stop-color="#96d492"/><stop offset="0.675" stop-color="#a4da9e"/><stop offset="0.71" stop-color="#b3e1ad"/><stop offset="0.75" stop-color="#c2e7bb"/><stop offset="0.8" stop-color="#cfecc9"/><stop offset="0.875" stop-color="#dbf1d5"/><stop offset="1.0" stop-color="#e6f5e1"/></linearGradient><linearGradient id="hg17"><stop offset="0.0" stop-color="#e6f5e1"/><stop offset="0.125" stop-color="#d8f0d3"/><stop offset="0.2" stop-color="#caeac3"/><stop offset="0.25" stop-color="#b8e3b1"/><stop offset="0.29" stop-color="#a5db9f"/><stop offset="0.325" stop-color="#90d18d"/><stop offset="0.355" stop-color="#7dc87e"/><stop offset="0.39" stop-color="#67be70"/><stop offset="0.44" stop-color="#4fb264"/><stop offset="0.5" stop-color="#45ad5f"/><stop offset="0.56" stop-color="#4fb264"/><stop offset="0.61" stop-color="#67be70"/><stop offset="0.645" stop-color="#7dc87e"/><stop offset="0.675" stop-color="#90d18d"/><stop offset="0.71" stop-color="#a5db9f"/><stop offset="0.75" stop-color="#b8e3b1"/><stop offset="0.8" stop-color="#caeac3"/><stop offset="0.875" stop-color="#d8f0d3"/><stop offset="1.0" stop-color="#e6f5e1"/></linearGradient><linearGradient id="hg18"><stop offset="0.0" stop-color="#e6f5e1"/><stop offset="0.125" stop-color="#d5efcf"/><stop offset="0.2" stop-color="#c3e7bc"/><stop offset="0.25" stop-color="#acdea6"/><stop offset="0.29" stop-color="#94d390"/><stop offset="0.325" stop-color="#7ac77b"/><stop offset="0.355" stop-color="#61ba6c"/><stop offset="0.39" stop-color="#45ad5f"/><stop offset="0.44" stop-color="#329b51"/><stop offset="0.5" stop-color="#2b934b"/><stop offset="0.56" stop-color="#329b51"/><stop offset="0.61" stop-color="#45ad5f"/><stop offset="0.645" stop-color="#61ba6c"/><stop offset="0.675" stop-color="#7ac77b"/><stop offset="0.71" stop-color="#94d390"/><stop offset="0.75" stop-color="#acdea6"/><stop offset="0.8" stop-color="#c3e7bc"/><stop offset="0.875" stop-color="#d5efcf"/><stop offset="1.0" stop-color="#e6f5e1"/></linearGradient><linearGradient id="hg19"><stop offset="0.0" stop-color="#e6f5e1"/><stop offset="0.125" stop-color="#d2eecc"/><stop offset="0.2" stop-color="#bbe4b4"/><stop offset="0.25" stop-color="#a0d99a"/><stop offset="0.29" stop-color="#81ca80"/><stop offset="0.325" stop-color="#5fba6c"/><stop offset="0.355" stop-color="#41ab5d"/><stop offset="0.39" stop-color="#2e964d"/><stop offset="0.44" stop-color="#17813d"/><stop offset="0.5" stop-color="#0e7936"/><stop offset="0.56" stop-color="#17813d"/><stop offset="0.61" stop-color="#2e964d"/><stop offset="0.645" stop-color="#41ab5d"/><stop offset="0.675" stop-color="#5fba6c"/><stop offset="0.71" stop-color="#81ca80"/><stop offset="0.75" stop-color="#a0d99a"/><stop offset="0.8" stop-color="#bbe4b4"/><stop offset="0.875" stop-color="#d2eecc"/><stop offset="1.0" stop-color="#e6f5e1"/></linearGradient><linearGradient id="hg110"><stop offset="0.0" stop-color="#e6f5e1"/><stop offset="0.125" stop-color="#cfecc9"/><stop offset="0.2" stop-color="#b2e0ac"/><stop offset="0.25" stop-color="#91d28e"/><stop offset="0.29" stop-color="#6cc072"/><stop offset="0.325" stop-color="#43ac5e"/><stop offset="0.355" stop-color="#2d964d"/><stop offset="0.39" stop-color="#157f3b"/><stop offset="0.44" stop-color="#006529"/><stop offset="0.5" stop-color="#005723"/><stop offset="0.56" stop-color="#006529"/><stop offset="0.61" stop-color="#157f3b"/><stop offset="0.645" stop-color="#2d964d"/><stop offset="0.675" stop-color="#43ac5e"/><stop offset="0.71" stop-color="#6cc072"/><stop offset="0.75" stop-color="#91d28e"/><stop offset="0.8" stop-color="#b2e0ac"/><stop offset="0.875" stop-color="#cfecc9"/><stop offset="1.0" stop-color="#e6f5e1"/></linearGradient><clipPath id="chg1"><rect x="814.4" y="2042.3" width="75.4" height="322.8"/></clipPath><linearGradient id="hg20"><stop offset="0.0" stop-color="#f4f2f8"/><stop offset="0.125" stop-color="#f4f2f8"/><stop offset="0.2" stop-color="#f3f2f8"/><stop offset="0.25" stop-color="#f3f2f8"/><stop offset="0.29" stop-color="#f3f2f8"/><stop offset="0.325" stop-color="#f3f1f8"/><stop offset="0.355" stop-color="#f3f1f7"/><stop offset="0.39" stop-color="#f3f1f7"/><stop offset="0.44" stop-color="#f3f1f7"/><stop offset="0.5" stop-color="#f3f1f7"/><stop offset="0.56" stop-color="#f3f1f7"/><stop offset="0.61" stop-color="#f3f1f7"/><stop offset="0.645" stop-color="#f3f1f7"/><stop offset="0.675" stop-color="#f3f1f8"/><stop offset="0.71" stop-color="#f3f2f8"/><stop offset="0.75" stop-color="#f3f2f8"/><stop offset="0.8" stop-color="#f3f2f8"/><stop offset="0.875" stop-color="#f4f2f8"/><stop offset="1.0" stop-color="#f4f2f8"/></linearGradient><linearGradient id="hg21"><stop offset="0.0" stop-color="#f4f2f8"/><stop offset="0.125" stop-color="#f3f1f8"/><stop offset="0.2" stop-color="#f3f1f7"/><stop offset="0.25" stop-color="#f2f0f7"/><stop offset="0.29" stop-color="#f1f0f6"/><stop offset="0.325" stop-color="#f1eff6"/><stop offset="0.355" stop-color="#f0eef6"/><stop offset="0.39" stop-color="#f0eef5"/><stop offset="0.44" stop-color="#efedf5"/><stop offset="0.5" stop-color="#efedf5"/><stop offset="0.56" stop-color="#efedf5"/><stop offset="0.61" stop-color="#f0eef5"/><stop offset="0.645" stop-color="#f0eef6"/><stop offset="0.675" stop-color="#f1eff6"/><stop offset="0.71" stop-color="#f1f0f6"/><stop offset="0.75" stop-color="#f2f0f7"/><stop offset="0.8" stop-color="#f3f1f7"/><stop offset="0.875" stop-color="#f3f1f8"/><stop offset="1.0" stop-color="#f4f2f8"/></linearGradient><linearGradient id="hg22"><stop offset="0.0" stop-color="#f4f2f8"/><stop offset="0.125" stop-color="#f3f1f7"/><stop offset="0.2" stop-color="#f1f0f7"/><stop offset="0.25" stop-color="#f0eef6"/><stop offset="0.29" stop-color="#efedf5"/><stop offset="0.325" stop-color="#ecebf4"/><stop offset="0.355" stop-color="#eae9f3"/><stop offset="0.39" stop-color="#e8e7f2"/><stop offset="0.44" stop-color="#e6e5f1"/><stop offset="0.5" stop-color="#e6e5f1"/><stop offset="0.56" stop-color="#e6e5f1"/><stop offset="0.61" stop-color="#e8e7f2"/><stop offset="0.645" stop-color="#eae9f3"/><stop offset="0.675" stop-color="#ecebf4"/><stop offset="0.71" stop-color="#efedf5"/><stop offset="0.75" stop-color="#f0eef6"/><stop offset="0.8" stop-color="#f1f0f7"/><stop offset="0.875" stop-color="#f3f1f7"/><stop offset="1.0" stop-color="#f4f2f8"/></linearGradient><linearGradient id="hg23"><stop offset="0.0" stop-color="#f4f2f8"/><stop offset="0.125" stop-color="#f2f0f7"/><stop offset="0.2" stop-color="#f0eef6"/><stop offset="0.25" stop-color="#edebf4"/><stop offset="0.29" stop-color="#e9e8f2"/><stop offset="0.325" stop-color="#e6e5f1"/><stop offset="0.355" stop-color="#e2e2ef"/><stop offset="0.39" stop-color="#dfdfed"/><stop offset="0.44" stop-color="#dcdcec"/><stop offset="0.5" stop-color="#dbdbeb"/><stop offset="0.56" stop-color="#dcdcec"/><stop offset="0.61" stop-color="#dfdfed"/><stop offset="0.645" stop-color="#e2e2ef"/><stop offset="0.675" stop-color="#e6e5f1"/><stop offset="0.71" stop-color="#e9e8f2"/><stop offset="0.75" stop-color="#edebf4"/><stop offset="0.8" stop-color="#f0eef6"/><stop offset="0.875" stop-color="#f2f0f7"/><stop offset="1.0" stop-color="#f4f2f8"/></linearGradient><linearGradient id="hg24"><stop offset="0.0" stop-color="#f4f2f8"/><stop offset="0.125" stop-color="#f1eff6"/><stop offset="0.2" stop-color="#eeecf4"/><stop offset="0.25" stop-color="#e9e7f2"/><stop offset="0.29" stop-color="#e3e3f0"/><stop offset="0.325" stop-color="#dedeed"/><stop offset="0.355" stop-color="#d9d9ea"/><stop offset="0.39" stop-color="#d2d2e7"/><stop offset="0.44" stop-color="#cbcce4"/><stop offset="0.5" stop-color="#c9cae3"/><stop offset="0.56" stop-color="#cbcce4"/><stop offset="0.61" stop-color="#d2d2e7"/><stop offset="0.645" stop-color="#d9d9ea"/><stop offset="0.675" stop-color="#dedeed"/><stop offset="0.71" stop-color="#e3e3f0"/><stop offset="0.75" stop-color="#e9e7f2"/><stop offset="0.8" stop-color="#eeecf4"/><stop offset="0.875" stop-color="#f1eff6"/><stop offset="1.0" stop-color="#f4f2f8"/></linearGradient><linearGradient id="hg25"><stop offset="0.0" stop-color="#f4f2f8"/><stop offset="0.125" stop-color="#f0eef6"/><stop offset="0.2" stop-color="#ebe9f3"/><stop offset="0.25" stop-color="#e4e3f0"/><stop offset="0.29" stop-color="#dddcec"/><stop offset="0.325" stop-color="#d3d3e8"/><stop offset="0.355" stop-color="#cacae3"/><stop offset="0.39" stop-color="#c0c1de"/><stop offset="0.44" stop-color="#b8b8d9"/><stop offset="0.5" stop-color="#b5b5d7"/><stop offset="0.56" stop-color="#b8b8d9"/><stop offset="0.61" stop-color="#c0c1de"/><stop offset="0.645" stop-color="#cacae3"/><stop offset="0.675" stop-color="#d3d3e8"/><stop offset="0.71" stop-color="#dddcec"/><stop offset="0.75" stop-color="#e4e3f0"/><stop offset="0.8" stop-color="#ebe9f3"/><stop offset="0.875" stop-color="#f0eef6"/><stop offset="1.0" stop-color="#f4f2f8"/></linearGradient><linearGradient id="hg26"><stop offset="0.0" stop-color="#f4f2f8"/><stop offset="0.125" stop-color="#efedf5"/><stop offset="0.2" stop-color="#e7e6f1"/><stop offset="0.25" stop-color="#dfdeed"/><stop offset="0.29" stop-color="#d3d4e8"/><stop offset="0.325" stop-color="#c6c6e1"/><stop offset="0.355" stop-color="#babada"/><stop offset="0.39" stop-color="#aeacd2"/><stop offset="0.44" stop-color="#a29fcb"/><stop offset="0.5" stop-color="#9f9bc8"/><stop offset="0.56" stop-color="#a29fcb"/><stop offset="0.61" stop-color="#aeacd2"/><stop offset="0.645" stop-color="#babada"/><stop offset="0.675" stop-color="#c6c6e1"/><stop offset="0.71" stop-color="#d3d4e8"/><stop offset="0.75" stop-color="#dfdeed"/><stop offset="0.8" stop-color="#e7e6f1"/><stop offset="0.875" stop-color="#efedf5"/><stop offset="1.0" stop-color="#f4f2f8"/></linearGradient><linearGradient id="hg27"><stop offset="0.0" stop-color="#f4f2f8"/><stop offset="0.125" stop-color="#edebf4"/><stop offset="0.2" stop-color="#e4e3f0"/><stop offset="0.25" stop-color="#d9d9ea"/><stop offset="0.29" stop-color="#c8c9e2"/><stop offset="0.325" stop-color="#b7b7d9"/><stop offset="0.355" stop-color="#a8a6cf"/><stop offset="0.39" stop-color="#9995c6"/><stop offset="0.44" stop-color="#8b88bf"/><stop offset="0.5" stop-color="#8683bd"/><stop offset="0.56" stop-color="#8b88bf"/><stop offset="0.61" stop-color="#9995c6"/><stop offset="0.645" stop-color="#a8a6cf"/><stop offset="0.675" stop-color="#b7b7d9"/><stop offset="0.71" stop-color="#c8c9e2"/><stop offset="0.75" stop-color="#d9d9ea"/><stop offset="0.8" stop-color="#e4e3f0"/><stop offset="0.875" stop-color="#edebf4"/><stop offset="1.0" stop-color="#f4f2f8"/></linearGradient><linearGradient id="hg28"><stop offset="0.0" stop-color="#f4f2f8"/><stop offset="0.125" stop-color="#ebeaf3"/><stop offset="0.2" stop-color="#e0dfee"/><stop offset="0.25" stop-color="#d0d1e6"/><stop offset="0.29" stop-color="#bcbddc"/><stop offset="0.325" stop-color="#a7a5ce"/><stop offset="0.355" stop-color="#9692c4"/><stop offset="0.39" stop-color="#8380bc"/><stop offset="0.44" stop-color="#7669af"/><stop offset="0.5" stop-color="#7261ab"/><stop offset="0.56" stop-color="#7669af"/><stop offset="0.61" stop-color="#8380bc"/><stop offset="0.645" stop-color="#9692c4"/><stop offset="0.675" stop-color="#a7a5ce"/><stop offset="0.71" stop-color="#bcbddc"/><stop offset="0.75" stop-color="#d0d1e6"/><stop offset="0.8" stop-color="#e0dfee"/><stop offset="0.875" stop-color="#ebeaf3"/><stop offset="1.0" stop-color="#f4f2f8"/></linearGradient><linearGradient id="hg29"><stop offset="0.0" stop-color="#f4f2f8"/><stop offset="0.125" stop-color="#e9e8f2"/><stop offset="0.2" stop-color="#dcdcec"/><stop offset="0.25" stop-color="#c7c8e2"/><stop offset="0.29" stop-color="#afaed3"/><stop offset="0.325" stop-color="#9793c5"/><stop offset="0.355" stop-color="#827fbb"/><stop offset="0.39" stop-color="#7160ab"/><stop offset="0.44" stop-color="#63439c"/><stop offset="0.5" stop-color="#5e3a98"/><stop offset="0.56" stop-color="#63439c"/><stop offset="0.61" stop-color="#7160ab"/><stop offset="0.645" stop-color="#827fbb"/><stop offset="0.675" stop-color="#9793c5"/><stop offset="0.71" stop-color="#afaed3"/><stop offset="0.75" stop-color="#c7c8e2"/><stop offset="0.8" stop-color="#dcdcec"/><stop offset="0.875" stop-color="#e9e8f2"/><stop offset="1.0" stop-color="#f4f2f8"/></linearGradient><linearGradient id="hg210"><stop offset="0.0" stop-color="#f4f2f8"/><stop offset="0.125" stop-color="#e7e6f1"/><stop offset="0.2" stop-color="#d6d7e9"/><stop offset="0.25" stop-color="#bdbedd"/><stop offset="0.29" stop-color="#a29eca"/><stop offset="0.325" stop-color="#8582bc"/><stop offset="0.355" stop-color="#7261ab"/><stop offset="0.39" stop-color="#603d99"/><stop offset="0.44" stop-color="#4f1d8a"/><stop offset="0.5" stop-color="#491386"/><stop offset="0.56" stop-color="#4f1d8a"/><stop offset="0.61" stop-color="#603d99"/><stop offset="0.645" stop-color="#7261ab"/><stop offset="0.675" stop-color="#8582bc"/><stop offset="0.71" stop-color="#a29eca"/><stop offset="0.75" stop-color="#bdbedd"/><stop offset="0.8" stop-color="#d6d7e9"/><stop offset="0.875" stop-color="#e7e6f1"/><stop offset="1.0" stop-color="#f4f2f8"/></linearGradient><clipPath id="chg2"><rect x="917.1" y="2042.3" width="75.4" height="322.8"/></clipPath><linearGradient id="hg30"><stop offset="0.0" stop-color="#f4f2f8"/><stop offset="0.125" stop-color="#f4f2f8"/><stop offset="0.2" stop-color="#f3f2f8"/><stop offset="0.25" stop-color="#f3f2f8"/><stop offset="0.29" stop-color="#f3f2f8"/><stop offset="0.325" stop-color="#f3f1f8"/><stop offset="0.355" stop-color="#f3f1f7"/><stop offset="0.39" stop-color="#f3f1f7"/><stop offset="0.44" stop-color="#f3f1f7"/><stop offset="0.5" stop-color="#f3f1f7"/><stop offset="0.56" stop-color="#f3f1f7"/><stop offset="0.61" stop-color="#f3f1f7"/><stop offset="0.645" stop-color="#f3f1f7"/><stop offset="0.675" stop-color="#f3f1f8"/><stop offset="0.71" stop-color="#f3f2f8"/><stop offset="0.75" stop-color="#f3f2f8"/><stop offset="0.8" stop-color="#f3f2f8"/><stop offset="0.875" stop-color="#f4f2f8"/><stop offset="1.0" stop-color="#f4f2f8"/></linearGradient><linearGradient id="hg31"><stop offset="0.0" stop-color="#f4f2f8"/><stop offset="0.125" stop-color="#f3f2f8"/><stop offset="0.2" stop-color="#f3f1f7"/><stop offset="0.25" stop-color="#f2f0f7"/><stop offset="0.29" stop-color="#f1f0f7"/><stop offset="0.325" stop-color="#f1eff6"/><stop offset="0.355" stop-color="#f0eef6"/><stop offset="0.39" stop-color="#f0eef5"/><stop offset="0.44" stop-color="#efedf5"/><stop offset="0.5" stop-color="#efedf5"/><stop offset="0.56" stop-color="#efedf5"/><stop offset="0.61" stop-color="#f0eef5"/><stop offset="0.645" stop-color="#f0eef6"/><stop offset="0.675" stop-color="#f1eff6"/><stop offset="0.71" stop-color="#f1f0f7"/><stop offset="0.75" stop-color="#f2f0f7"/><stop offset="0.8" stop-color="#f3f1f7"/><stop offset="0.875" stop-color="#f3f2f8"/><stop offset="1.0" stop-color="#f4f2f8"/></linearGradient><linearGradient id="hg32"><stop offset="0.0" stop-color="#f4f2f8"/><stop offset="0.125" stop-color="#f3f1f7"/><stop offset="0.2" stop-color="#f2f0f7"/><stop offset="0.25" stop-color="#f0eef6"/><stop offset="0.29" stop-color="#efedf5"/><stop offset="0.325" stop-color="#edebf4"/><stop offset="0.355" stop-color="#ebe9f3"/><stop offset="0.39" stop-color="#e8e7f2"/><stop offset="0.44" stop-color="#e6e5f1"/><stop offset="0.5" stop-color="#e6e5f1"/><stop offset="0.56" stop-color="#e6e5f1"/><stop offset="0.61" stop-color="#e8e7f2"/><stop offset="0.645" stop-color="#ebe9f3"/><stop offset="0.675" stop-color="#edebf4"/><stop offset="0.71" stop-color="#efedf5"/><stop offset="0.75" stop-color="#f0eef6"/><stop offset="0.8" stop-color="#f2f0f7"/><stop offset="0.875" stop-color="#f3f1f7"/><stop offset="1.0" stop-color="#f4f2f8"/></linearGradient><linearGradient id="hg33"><stop offset="0.0" stop-color="#f4f2f8"/><stop offset="0.125" stop-color="#f2f0f7"/><stop offset="0.2" stop-color="#f0eef6"/><stop offset="0.25" stop-color="#eeecf4"/><stop offset="0.29" stop-color="#eae8f3"/><stop offset="0.325" stop-color="#e6e5f1"/><stop offset="0.355" stop-color="#e3e2ef"/><stop offset="0.39" stop-color="#dfdfed"/><stop offset="0.44" stop-color="#dcdcec"/><stop offset="0.5" stop-color="#dbdbeb"/><stop offset="0.56" stop-color="#dcdcec"/><stop offset="0.61" stop-color="#dfdfed"/><stop offset="0.645" stop-color="#e3e2ef"/><stop offset="0.675" stop-color="#e6e5f1"/><stop offset="0.71" stop-color="#eae8f3"/><stop offset="0.75" stop-color="#eeecf4"/><stop offset="0.8" stop-color="#f0eef6"/><stop offset="0.875" stop-color="#f2f0f7"/><stop offset="1.0" stop-color="#f4f2f8"/></linearGradient><linearGradient id="hg34"><stop offset="0.0" stop-color="#f4f2f8"/><stop offset="0.125" stop-color="#f1f0f6"/><stop offset="0.2" stop-color="#efedf5"/><stop offset="0.25" stop-color="#eae8f2"/><stop offset="0.29" stop-color="#e4e3f0"/><stop offset="0.325" stop-color="#dedeed"/><stop offset="0.355" stop-color="#d9d9eb"/><stop offset="0.39" stop-color="#d2d2e7"/><stop offset="0.44" stop-color="#cbcce4"/><stop offset="0.5" stop-color="#c9cae3"/><stop offset="0.56" stop-color="#cbcce4"/><stop offset="0.61" stop-color="#d2d2e7"/><stop offset="0.645" stop-color="#d9d9eb"/><stop offset="0.675" stop-color="#dedeed"/><stop offset="0.71" stop-color="#e4e3f0"/><stop offset="0.75" stop-color="#eae8f2"/><stop offset="0.8" stop-color="#efedf5"/><stop offset="0.875" stop-color="#f1f0f6"/><stop offset="1.0" stop-color="#f4f2f8"/></linearGradient><linearGradient id="hg35"><stop offset="0.0" stop-color="#f4f2f8"/><stop offset="0.125" stop-color="#f1eff6"/><stop offset="0.2" stop-color="#eceaf3"/><stop offset="0.25" stop-color="#e5e4f0"/><stop offset="0.29" stop-color="#dedded"/><stop offset="0.325" stop-color="#d4d4e8"/><stop offset="0.355" stop-color="#cbcbe3"/><stop offset="0.39" stop-color="#c1c2de"/><stop offset="0.44" stop-color="#b8b8d9"/><stop offset="0.5" stop-color="#b5b5d7"/><stop offset="0.56" stop-color="#b8b8d9"/><stop offset="0.61" stop-color="#c1c2de"/><stop offset="0.645" stop-color="#cbcbe3"/><stop offset="0.675" stop-color="#d4d4e8"/><stop offset="0.71" stop-color="#dedded"/><stop offset="0.75" stop-color="#e5e4f0"/><stop offset="0.8" stop-color="#eceaf3"/><stop offset="0.875" stop-color="#f1eff6"/><stop offset="1.0" stop-color="#f4f2f8"/></linearGradient><linearGradient id="hg36"><stop offset="0.0" stop-color="#f4f2f8"/><stop offset="0.125" stop-color="#f0eef5"/><stop offset="0.2" stop-color="#e9e7f2"/><stop offset="0.25" stop-color="#e0e0ee"/><stop offset="0.29" stop-color="#d5d5e9"/><stop offset="0.325" stop-color="#c7c8e1"/><stop offset="0.355" stop-color="#bbbbdb"/><stop offset="0.39" stop-color="#aeadd3"/><stop offset="0.44" stop-color="#a29fcb"/><stop offset="0.5" stop-color="#9f9bc8"/><stop offset="0.56" stop-color="#a29fcb"/><stop offset="0.61" stop-color="#aeadd3"/><stop offset="0.645" stop-color="#bbbbdb"/><stop offset="0.675" stop-color="#c7c8e1"/><stop offset="0.71" stop-color="#d5d5e9"/><stop offset="0.75" stop-color="#e0e0ee"/><stop offset="0.8" stop-color="#e9e7f2"/><stop offset="0.875" stop-color="#f0eef5"/><stop offset="1.0" stop-color="#f4f2f8"/></linearGradient><linearGradient id="hg37"><stop offset="0.0" stop-color="#f4f2f8"/><stop offset="0.125" stop-color="#eeecf5"/><stop offset="0.2" stop-color="#e5e4f0"/><stop offset="0.25" stop-color="#dbdbeb"/><stop offset="0.29" stop-color="#cacbe3"/><stop offset="0.325" stop-color="#b9b9da"/><stop offset="0.355" stop-color="#a9a7d0"/><stop offset="0.39" stop-color="#9a96c6"/><stop offset="0.44" stop-color="#8b88bf"/><stop offset="0.5" stop-color="#8683bd"/><stop offset="0.56" stop-color="#8b88bf"/><stop offset="0.61" stop-color="#9a96c6"/><stop offset="0.645" stop-color="#a9a7d0"/><stop offset="0.675" stop-color="#b9b9da"/><stop offset="0.71" stop-color="#cacbe3"/><stop offset="0.75" stop-color="#dbdbeb"/><stop offset="0.8" stop-color="#e5e4f0"/><stop offset="0.875" stop-color="#eeecf5"/><stop offset="1.0" stop-color="#f4f2f8"/></linearGradient><linearGradient id="hg38"><stop offset="0.0" stop-color="#f4f2f8"/><stop offset="0.125" stop-color="#edebf4"/><stop offset="0.2" stop-color="#e2e1ef"/><stop offset="0.25" stop-color="#d3d3e8"/><stop offset="0.29" stop-color="#bfbfdd"/><stop offset="0.325" stop-color="#a9a7d0"/><stop offset="0.355" stop-color="#9793c5"/><stop offset="0.39" stop-color="#8481bc"/><stop offset="0.44" stop-color="#7669b0"/><stop offset="0.5" stop-color="#7261ab"/><stop offset="0.56" stop-color="#7669b0"/><stop offset="0.61" stop-color="#8481bc"/><stop offset="0.645" stop-color="#9793c5"/><stop offset="0.675" stop-color="#a9a7d0"/><stop offset="0.71" stop-color="#bfbfdd"/><stop offset="0.75" stop-color="#d3d3e8"/><stop offset="0.8" stop-color="#e2e1ef"/><stop offset="0.875" stop-color="#edebf4"/><stop offset="1.0" stop-color="#f4f2f8"/></linearGradient><linearGradient id="hg39"><stop offset="0.0" stop-color="#f4f2f8"/><stop offset="0.125" stop-color="#ebe9f3"/><stop offset="0.2" stop-color="#dedeed"/><stop offset="0.25" stop-color="#cbcbe3"/><stop offset="0.29" stop-color="#b2b2d5"/><stop offset="0.325" stop-color="#9995c6"/><stop offset="0.355" stop-color="#8380bc"/><stop offset="0.39" stop-color="#7261ab"/><stop offset="0.44" stop-color="#63439c"/><stop offset="0.5" stop-color="#5e3a98"/><stop offset="0.56" stop-color="#63439c"/><stop offset="0.61" stop-color="#7261ab"/><stop offset="0.645" stop-color="#8380bc"/><stop offset="0.675" stop-color="#9995c6"/><stop offset="0.71" stop-color="#b2b2d5"/><stop offset="0.75" stop-color="#cbcbe3"/><stop offset="0.8" stop-color="#dedeed"/><stop offset="0.875" stop-color="#ebe9f3"/><stop offset="1.0" stop-color="#f4f2f8"/></linearGradient><linearGradient id="hg310"><stop offset="0.0" stop-color="#f4f2f8"/><stop offset="0.125" stop-color="#e9e8f2"/><stop offset="0.2" stop-color="#dadaeb"/><stop offset="0.25" stop-color="#c1c2df"/><stop offset="0.29" stop-color="#a5a2cd"/><stop offset="0.325" stop-color="#8885be"/><stop offset="0.355" stop-color="#7364ad"/><stop offset="0.39" stop-color="#603e9a"/><stop offset="0.44" stop-color="#4f1d8b"/><stop offset="0.5" stop-color="#491386"/><stop offset="0.56" stop-color="#4f1d8b"/><stop offset="0.61" stop-color="#603e9a"/><stop offset="0.645" stop-color="#7364ad"/><stop offset="0.675" stop-color="#8885be"/><stop offset="0.71" stop-color="#a5a2cd"/><stop offset="0.75" stop-color="#c1c2df"/><stop offset="0.8" stop-color="#dadaeb"/><stop offset="0.875" stop-color="#e9e8f2"/><stop offset="1.0" stop-color="#f4f2f8"/></linearGradient><clipPath id="chg3"><rect x="1000" y="2042.3" width="75.5" height="322.8"/></clipPath><linearGradient id="hg40"><stop offset="0.0" stop-color="#fee9d4"/><stop offset="0.125" stop-color="#fee9d4"/><stop offset="0.2" stop-color="#fee9d3"/><stop offset="0.25" stop-color="#fee9d3"/><stop offset="0.29" stop-color="#fee8d3"/><stop offset="0.325" stop-color="#fee8d3"/><stop offset="0.355" stop-color="#fee8d2"/><stop offset="0.39" stop-color="#fee8d2"/><stop offset="0.44" stop-color="#fee8d2"/><stop offset="0.5" stop-color="#fee8d2"/><stop offset="0.56" stop-color="#fee8d2"/><stop offset="0.61" stop-color="#fee8d2"/><stop offset="0.645" stop-color="#fee8d2"/><stop offset="0.675" stop-color="#fee8d3"/><stop offset="0.71" stop-color="#fee8d3"/><stop offset="0.75" stop-color="#fee9d3"/><stop offset="0.8" stop-color="#fee9d3"/><stop offset="0.875" stop-color="#fee9d4"/><stop offset="1.0" stop-color="#fee9d4"/></linearGradient><linearGradient id="hg41"><stop offset="0.0" stop-color="#fee9d4"/><stop offset="0.125" stop-color="#fee8d3"/><stop offset="0.2" stop-color="#fee8d1"/><stop offset="0.25" stop-color="#fee7d0"/><stop offset="0.29" stop-color="#fee6cf"/><stop offset="0.325" stop-color="#fee5cd"/><stop offset="0.355" stop-color="#fee5cb"/><stop offset="0.39" stop-color="#fee4c9"/><stop offset="0.44" stop-color="#fee3c7"/><stop offset="0.5" stop-color="#fee2c7"/><stop offset="0.56" stop-color="#fee3c7"/><stop offset="0.61" stop-color="#fee4c9"/><stop offset="0.645" stop-color="#fee5cb"/><stop offset="0.675" stop-color="#fee5cd"/><stop offset="0.71" stop-color="#fee6cf"/><stop offset="0.75" stop-color="#fee7d0"/><stop offset="0.8" stop-color="#fee8d1"/><stop offset="0.875" stop-color="#fee8d3"/><stop offset="1.0" stop-color="#fee9d4"/></linearGradient><linearGradient id="hg42"><stop offset="0.0" stop-color="#fee9d4"/><stop offset="0.125" stop-color="#fee8d1"/><stop offset="0.2" stop-color="#fee6ce"/><stop offset="0.25" stop-color="#fee4cb"/><stop offset="0.29" stop-color="#fee2c6"/><stop offset="0.325" stop-color="#fee0c1"/><stop offset="0.355" stop-color="#fedebd"/><stop offset="0.39" stop-color="#fedcb9"/><stop offset="0.44" stop-color="#fddab6"/><stop offset="0.5" stop-color="#fdd9b4"/><stop offset="0.56" stop-color="#fddab6"/><stop offset="0.61" stop-color="#fedcb9"/><stop offset="0.645" stop-color="#fedebd"/><stop offset="0.675" stop-color="#fee0c1"/><stop offset="0.71" stop-color="#fee2c6"/><stop offset="0.75" stop-color="#fee4cb"/><stop offset="0.8" stop-color="#fee6ce"/><stop offset="0.875" stop-color="#fee8d1"/><stop offset="1.0" stop-color="#fee9d4"/></linearGradient><linearGradient id="hg43"><stop offset="0.0" stop-color="#fee9d4"/><stop offset="0.125" stop-color="#fee7cf"/><stop offset="0.2" stop-color="#fee4c9"/><stop offset="0.25" stop-color="#fee0c2"/><stop offset="0.29" stop-color="#fedcbb"/><stop offset="0.325" stop-color="#fdd9b3"/><stop offset="0.355" stop-color="#fdd5ad"/><stop offset="0.39" stop-color="#fdd2a6"/><stop offset="0.44" stop-color="#fdce9f"/><stop offset="0.5" stop-color="#fdcd9d"/><stop offset="0.56" stop-color="#fdce9f"/><stop offset="0.61" stop-color="#fdd2a6"/><stop offset="0.645" stop-color="#fdd5ad"/><stop offset="0.675" stop-color="#fdd9b3"/><stop offset="0.71" stop-color="#fedcbb"/><stop offset="0.75" stop-color="#fee0c2"/><stop offset="0.8" stop-color="#fee4c9"/><stop offset="0.875" stop-color="#fee7cf"/><stop offset="1.0" stop-color="#fee9d4"/></linearGradient><linearGradient id="hg44"><stop offset="0.0" stop-color="#fee9d4"/><stop offset="0.125" stop-color="#fee5cd"/><stop offset="0.2" stop-color="#fee1c3"/><stop offset="0.25" stop-color="#fedcb9"/><stop offset="0.29" stop-color="#fdd6ae"/><stop offset="0.325" stop-color="#fdd1a3"/><stop offset="0.355" stop-color="#fdca98"/><stop offset="0.39" stop-color="#fdc28b"/><stop offset="0.44" stop-color="#fdbb80"/><stop offset="0.5" stop-color="#fdb97c"/><stop offset="0.56" stop-color="#fdbb80"/><stop offset="0.61" stop-color="#fdc28b"/><stop offset="0.645" stop-color="#fdca98"/><stop offset="0.675" stop-color="#fdd1a3"/><stop offset="0.71" stop-color="#fdd6ae"/><stop offset="0.75" stop-color="#fedcb9"/><stop offset="0.8" stop-color="#fee1c3"/><stop offset="0.875" stop-color="#fee5cd"/><stop offset="1.0" stop-color="#fee9d4"/></linearGradient><linearGradient id="hg45"><stop offset="0.0" stop-color="#fee9d4"/><stop offset="0.125" stop-color="#fee4ca"/><stop offset="0.2" stop-color="#feddbd"/><stop offset="0.25" stop-color="#fdd6af"/><stop offset="0.29" stop-color="#fdce9f"/><stop offset="0.325" stop-color="#fdc38d"/><stop offset="0.355" stop-color="#fdb97d"/><stop offset="0.39" stop-color="#fdaf6c"/><stop offset="0.44" stop-color="#fda65f"/><stop offset="0.5" stop-color="#fda35b"/><stop offset="0.56" stop-color="#fda65f"/><stop offset="0.61" stop-color="#fdaf6c"/><stop offset="0.645" stop-color="#fdb97d"/><stop offset="0.675" stop-color="#fdc38d"/><stop offset="0.71" stop-color="#fdce9f"/><stop offset="0.75" stop-color="#fdd6af"/><stop offset="0.8" stop-color="#feddbd"/><stop offset="0.875" stop-color="#fee4ca"/><stop offset="1.0" stop-color="#fee9d4"/></linearGradient><linearGradient id="hg46"><stop offset="0.0" stop-color="#fee9d4"/><stop offset="0.125" stop-color="#fee2c6"/><stop offset="0.2" stop-color="#fddab5"/><stop offset="0.25" stop-color="#fdd1a3"/><stop offset="0.29" stop-color="#fdc28c"/><stop offset="0.325" stop-color="#fdb374"/><stop offset="0.355" stop-color="#fda761"/><stop offset="0.39" stop-color="#fd9a4f"/><stop offset="0.44" stop-color="#fd8f3e"/><stop offset="0.5" stop-color="#fc8a39"/><stop offset="0.56" stop-color="#fd8f3e"/><stop offset="0.61" stop-color="#fd9a4f"/><stop offset="0.645" stop-color="#fda761"/><stop offset="0.675" stop-color="#fdb374"/><stop offset="0.71" stop-color="#fdc28c"/><stop offset="0.75" stop-color="#fdd1a3"/><stop offset="0.8" stop-color="#fddab5"/><stop offset="0.875" stop-color="#fee2c6"/><stop offset="1.0" stop-color="#fee9d4"/></linearGradient><linearGradient id="hg47"><stop offset="0.0" stop-color="#fee9d4"/><stop offset="0.125" stop-color="#fee0c2"/><stop offset="0.2" stop-color="#fdd5ad"/><stop offset="0.25" stop-color="#fdc894"/><stop offset="0.29" stop-color="#fdb577"/><stop offset="0.325" stop-color="#fda35c"/><stop offset="0.355" stop-color="#fd9446"/><stop offset="0.39" stop-color="#fa8331"/><stop offset="0.44" stop-color="#f5741f"/><stop offset="0.5" stop-color="#f36e19"/><stop offset="0.56" stop-color="#f5741f"/><stop offset="0.61" stop-color="#fa8331"/><stop offset="0.645" stop-color="#fd9446"/><stop offset="0.675" stop-color="#fda35c"/><stop offset="0.71" stop-color="#fdb577"/><stop offset="0.75" stop-color="#fdc894"/><stop offset="0.8" stop-color="#fdd5ad"/><stop offset="0.875" stop-color="#fee0c2"/><stop offset="1.0" stop-color="#fee9d4"/></linearGradient><linearGradient id="hg48"><stop offset="0.0" stop-color="#fee9d4"/><stop offset="0.125" stop-color="#fedebd"/><stop offset="0.2" stop-color="#fdd1a4"/><stop offset="0.25" stop-color="#fdbd84"/><stop offset="0.29" stop-color="#fda762"/><stop offset="0.325" stop-color="#fd9243"/><stop offset="0.355" stop-color="#f87e2b"/><stop offset="0.39" stop-color="#f16a14"/><stop offset="0.44" stop-color="#e5580a"/><stop offset="0.5" stop-color="#e05207"/><stop offset="0.56" stop-color="#e5580a"/><stop offset="0.61" stop-color="#f16a14"/><stop offset="0.645" stop-color="#f87e2b"/><stop offset="0.675" stop-color="#fd9243"/><stop offset="0.71" stop-color="#fda762"/><stop offset="0.75" stop-color="#fdbd84"/><stop offset="0.8" stop-color="#fdd1a4"/><stop offset="0.875" stop-color="#fedebd"/><stop offset="1.0" stop-color="#fee9d4"/></linearGradient><linearGradient id="hg49"><stop offset="0.0" stop-color="#fee9d4"/><stop offset="0.125" stop-color="#fedbb9"/><stop offset="0.2" stop-color="#fdcb99"/><stop offset="0.25" stop-color="#fdb372"/><stop offset="0.29" stop-color="#fd994d"/><stop offset="0.325" stop-color="#f87f2b"/><stop offset="0.355" stop-color="#ef6712"/><stop offset="0.39" stop-color="#df5106"/><stop offset="0.44" stop-color="#c64102"/><stop offset="0.5" stop-color="#bb3e02"/><stop offset="0.56" stop-color="#c64102"/><stop offset="0.61" stop-color="#df5106"/><stop offset="0.645" stop-color="#ef6712"/><stop offset="0.675" stop-color="#f87f2b"/><stop offset="0.71" stop-color="#fd994d"/><stop offset="0.75" stop-color="#fdb372"/><stop offset="0.8" stop-color="#fdcb99"/><stop offset="0.875" stop-color="#fedbb9"/><stop offset="1.0" stop-color="#fee9d4"/></linearGradient><linearGradient id="hg410"><stop offset="0.0" stop-color="#fee9d4"/><stop offset="0.125" stop-color="#fdd9b4"/><stop offset="0.2" stop-color="#fdc38d"/><stop offset="0.25" stop-color="#fda762"/><stop offset="0.29" stop-color="#fc8a38"/><stop offset="0.325" stop-color="#f16a14"/><stop offset="0.355" stop-color="#df5005"/><stop offset="0.39" stop-color="#bd3e02"/><stop offset="0.44" stop-color="#9b3203"/><stop offset="0.5" stop-color="#922e04"/><stop offset="0.56" stop-color="#9b3203"/><stop offset="0.61" stop-color="#bd3e02"/><stop offset="0.645" stop-color="#df5005"/><stop offset="0.675" stop-color="#f16a14"/><stop offset="0.71" stop-color="#fc8a38"/><stop offset="0.75" stop-color="#fda762"/><stop offset="0.8" stop-color="#fdc38d"/><stop offset="0.875" stop-color="#fdd9b4"/><stop offset="1.0" stop-color="#fee9d4"/></linearGradient><clipPath id="chg4"><rect x="1098.3" y="2042.3" width="76.2" height="322.8"/></clipPath><linearGradient id="hg50"><stop offset="0.0" stop-color="#fee9d4"/><stop offset="0.125" stop-color="#fee9d4"/><stop offset="0.2" stop-color="#fee9d3"/><stop offset="0.25" stop-color="#fee9d3"/><stop offset="0.29" stop-color="#fee8d3"/><stop offset="0.325" stop-color="#fee8d3"/><stop offset="0.355" stop-color="#fee8d2"/><stop offset="0.39" stop-color="#fee8d2"/><stop offset="0.44" stop-color="#fee8d2"/><stop offset="0.5" stop-color="#fee8d2"/><stop offset="0.56" stop-color="#fee8d2"/><stop offset="0.61" stop-color="#fee8d2"/><stop offset="0.645" stop-color="#fee8d2"/><stop offset="0.675" stop-color="#fee8d3"/><stop offset="0.71" stop-color="#fee8d3"/><stop offset="0.75" stop-color="#fee9d3"/><stop offset="0.8" stop-color="#fee9d3"/><stop offset="0.875" stop-color="#fee9d4"/><stop offset="1.0" stop-color="#fee9d4"/></linearGradient><linearGradient id="hg51"><stop offset="0.0" stop-color="#fee9d4"/><stop offset="0.125" stop-color="#fee8d3"/><stop offset="0.2" stop-color="#fee8d1"/><stop offset="0.25" stop-color="#fee7d0"/><stop offset="0.29" stop-color="#fee6cf"/><stop offset="0.325" stop-color="#fee5cd"/><stop offset="0.355" stop-color="#fee5cb"/><stop offset="0.39" stop-color="#fee4c9"/><stop offset="0.44" stop-color="#fee3c7"/><stop offset="0.5" stop-color="#fee2c7"/><stop offset="0.56" stop-color="#fee3c7"/><stop offset="0.61" stop-color="#fee4c9"/><stop offset="0.645" stop-color="#fee5cb"/><stop offset="0.675" stop-color="#fee5cd"/><stop offset="0.71" stop-color="#fee6cf"/><stop offset="0.75" stop-color="#fee7d0"/><stop offset="0.8" stop-color="#fee8d1"/><stop offset="0.875" stop-color="#fee8d3"/><stop offset="1.0" stop-color="#fee9d4"/></linearGradient><linearGradient id="hg52"><stop offset="0.0" stop-color="#fee9d4"/><stop offset="0.125" stop-color="#fee8d1"/><stop offset="0.2" stop-color="#fee6ce"/><stop offset="0.25" stop-color="#fee4cb"/><stop offset="0.29" stop-color="#fee2c6"/><stop offset="0.325" stop-color="#fee0c1"/><stop offset="0.355" stop-color="#fedebd"/><stop offset="0.39" stop-color="#fedcb9"/><stop offset="0.44" stop-color="#fddab6"/><stop offset="0.5" stop-color="#fdd9b4"/><stop offset="0.56" stop-color="#fddab6"/><stop offset="0.61" stop-color="#fedcb9"/><stop offset="0.645" stop-color="#fedebd"/><stop offset="0.675" stop-color="#fee0c1"/><stop offset="0.71" stop-color="#fee2c6"/><stop offset="0.75" stop-color="#fee4cb"/><stop offset="0.8" stop-color="#fee6ce"/><stop offset="0.875" stop-color="#fee8d1"/><stop offset="1.0" stop-color="#fee9d4"/></linearGradient><linearGradient id="hg53"><stop offset="0.0" stop-color="#fee9d4"/><stop offset="0.125" stop-color="#fee7cf"/><stop offset="0.2" stop-color="#fee4c9"/><stop offset="0.25" stop-color="#fee0c2"/><stop offset="0.29" stop-color="#fedcbb"/><stop offset="0.325" stop-color="#fdd9b3"/><stop offset="0.355" stop-color="#fdd5ad"/><stop offset="0.39" stop-color="#fdd2a6"/><stop offset="0.44" stop-color="#fdce9f"/><stop offset="0.5" stop-color="#fdcd9d"/><stop offset="0.56" stop-color="#fdce9f"/><stop offset="0.61" stop-color="#fdd2a6"/><stop offset="0.645" stop-color="#fdd5ad"/><stop offset="0.675" stop-color="#fdd9b3"/><stop offset="0.71" stop-color="#fedcbb"/><stop offset="0.75" stop-color="#fee0c2"/><stop offset="0.8" stop-color="#fee4c9"/><stop offset="0.875" stop-color="#fee7cf"/><stop offset="1.0" stop-color="#fee9d4"/></linearGradient><linearGradient id="hg54"><stop offset="0.0" stop-color="#fee9d4"/><stop offset="0.125" stop-color="#fee5cd"/><stop offset="0.2" stop-color="#fee1c3"/><stop offset="0.25" stop-color="#fedcb9"/><stop offset="0.29" stop-color="#fdd6ae"/><stop offset="0.325" stop-color="#fdd1a3"/><stop offset="0.355" stop-color="#fdca98"/><stop offset="0.39" stop-color="#fdc28b"/><stop offset="0.44" stop-color="#fdbb80"/><stop offset="0.5" stop-color="#fdb97c"/><stop offset="0.56" stop-color="#fdbb80"/><stop offset="0.61" stop-color="#fdc28b"/><stop offset="0.645" stop-color="#fdca98"/><stop offset="0.675" stop-color="#fdd1a3"/><stop offset="0.71" stop-color="#fdd6ae"/><stop offset="0.75" stop-color="#fedcb9"/><stop offset="0.8" stop-color="#fee1c3"/><stop offset="0.875" stop-color="#fee5cd"/><stop offset="1.0" stop-color="#fee9d4"/></linearGradient><linearGradient id="hg55"><stop offset="0.0" stop-color="#fee9d4"/><stop offset="0.125" stop-color="#fee4ca"/><stop offset="0.2" stop-color="#feddbd"/><stop offset="0.25" stop-color="#fdd6af"/><stop offset="0.29" stop-color="#fdce9f"/><stop offset="0.325" stop-color="#fdc38d"/><stop offset="0.355" stop-color="#fdb97d"/><stop offset="0.39" stop-color="#fdaf6c"/><stop offset="0.44" stop-color="#fda65f"/><stop offset="0.5" stop-color="#fda35b"/><stop offset="0.56" stop-color="#fda65f"/><stop offset="0.61" stop-color="#fdaf6c"/><stop offset="0.645" stop-color="#fdb97d"/><stop offset="0.675" stop-color="#fdc38d"/><stop offset="0.71" stop-color="#fdce9f"/><stop offset="0.75" stop-color="#fdd6af"/><stop offset="0.8" stop-color="#feddbd"/><stop offset="0.875" stop-color="#fee4ca"/><stop offset="1.0" stop-color="#fee9d4"/></linearGradient><linearGradient id="hg56"><stop offset="0.0" stop-color="#fee9d4"/><stop offset="0.125" stop-color="#fee2c6"/><stop offset="0.2" stop-color="#fddab5"/><stop offset="0.25" stop-color="#fdd1a3"/><stop offset="0.29" stop-color="#fdc28c"/><stop offset="0.325" stop-color="#fdb374"/><stop offset="0.355" stop-color="#fda761"/><stop offset="0.39" stop-color="#fd9a4f"/><stop offset="0.44" stop-color="#fd8f3e"/><stop offset="0.5" stop-color="#fc8a39"/><stop offset="0.56" stop-color="#fd8f3e"/><stop offset="0.61" stop-color="#fd9a4f"/><stop offset="0.645" stop-color="#fda761"/><stop offset="0.675" stop-color="#fdb374"/><stop offset="0.71" stop-color="#fdc28c"/><stop offset="0.75" stop-color="#fdd1a3"/><stop offset="0.8" stop-color="#fddab5"/><stop offset="0.875" stop-color="#fee2c6"/><stop offset="1.0" stop-color="#fee9d4"/></linearGradient><linearGradient id="hg57"><stop offset="0.0" stop-color="#fee9d4"/><stop offset="0.125" stop-color="#fee0c2"/><stop offset="0.2" stop-color="#fdd5ad"/><stop offset="0.25" stop-color="#fdc894"/><stop offset="0.29" stop-color="#fdb577"/><stop offset="0.325" stop-color="#fda35c"/><stop offset="0.355" stop-color="#fd9446"/><stop offset="0.39" stop-color="#fa8331"/><stop offset="0.44" stop-color="#f5741f"/><stop offset="0.5" stop-color="#f36e19"/><stop offset="0.56" stop-color="#f5741f"/><stop offset="0.61" stop-color="#fa8331"/><stop offset="0.645" stop-color="#fd9446"/><stop offset="0.675" stop-color="#fda35c"/><stop offset="0.71" stop-color="#fdb577"/><stop offset="0.75" stop-color="#fdc894"/><stop offset="0.8" stop-color="#fdd5ad"/><stop offset="0.875" stop-color="#fee0c2"/><stop offset="1.0" stop-color="#fee9d4"/></linearGradient><linearGradient id="hg58"><stop offset="0.0" stop-color="#fee9d4"/><stop offset="0.125" stop-color="#fedebd"/><stop offset="0.2" stop-color="#fdd1a4"/><stop offset="0.25" stop-color="#fdbd84"/><stop offset="0.29" stop-color="#fda762"/><stop offset="0.325" stop-color="#fd9243"/><stop offset="0.355" stop-color="#f87e2b"/><stop offset="0.39" stop-color="#f16a14"/><stop offset="0.44" stop-color="#e5580a"/><stop offset="0.5" stop-color="#e05207"/><stop offset="0.56" stop-color="#e5580a"/><stop offset="0.61" stop-color="#f16a14"/><stop offset="0.645" stop-color="#f87e2b"/><stop offset="0.675" stop-color="#fd9243"/><stop offset="0.71" stop-color="#fda762"/><stop offset="0.75" stop-color="#fdbd84"/><stop offset="0.8" stop-color="#fdd1a4"/><stop offset="0.875" stop-color="#fedebd"/><stop offset="1.0" stop-color="#fee9d4"/></linearGradient><linearGradient id="hg59"><stop offset="0.0" stop-color="#fee9d4"/><stop offset="0.125" stop-color="#fedbb9"/><stop offset="0.2" stop-color="#fdcb99"/><stop offset="0.25" stop-color="#fdb372"/><stop offset="0.29" stop-color="#fd994d"/><stop offset="0.325" stop-color="#f87f2b"/><stop offset="0.355" stop-color="#ef6712"/><stop offset="0.39" stop-color="#df5106"/><stop offset="0.44" stop-color="#c64102"/><stop offset="0.5" stop-color="#bb3e02"/><stop offset="0.56" stop-color="#c64102"/><stop offset="0.61" stop-color="#df5106"/><stop offset="0.645" stop-color="#ef6712"/><stop offset="0.675" stop-color="#f87f2b"/><stop offset="0.71" stop-color="#fd994d"/><stop offset="0.75" stop-color="#fdb372"/><stop offset="0.8" stop-color="#fdcb99"/><stop offset="0.875" stop-color="#fedbb9"/><stop offset="1.0" stop-color="#fee9d4"/></linearGradient><linearGradient id="hg510"><stop offset="0.0" stop-color="#fee9d4"/><stop offset="0.125" stop-color="#fdd9b4"/><stop offset="0.2" stop-color="#fdc38d"/><stop offset="0.25" stop-color="#fda762"/><stop offset="0.29" stop-color="#fc8a38"/><stop offset="0.325" stop-color="#f16a14"/><stop offset="0.355" stop-color="#df5005"/><stop offset="0.39" stop-color="#bd3e02"/><stop offset="0.44" stop-color="#9b3203"/><stop offset="0.5" stop-color="#922e04"/><stop offset="0.56" stop-color="#9b3203"/><stop offset="0.61" stop-color="#bd3e02"/><stop offset="0.645" stop-color="#df5005"/><stop offset="0.675" stop-color="#f16a14"/><stop offset="0.71" stop-color="#fc8a38"/><stop offset="0.75" stop-color="#fda762"/><stop offset="0.8" stop-color="#fdc38d"/><stop offset="0.875" stop-color="#fdd9b4"/><stop offset="1.0" stop-color="#fee9d4"/></linearGradient><clipPath id="chg5"><rect x="1181.2" y="2042.3" width="76.2" height="322.8"/></clipPath></defs><g stroke="none"></g><text x="3" y="17.5" font-size="31" font-weight="bold">a</text>
<text x="412.3" y="71" font-size="27" text-anchor="middle">MDA-PCa-2b</text>
<text x="599.2" y="71" font-size="27" text-anchor="middle">VCaP</text>
<text x="749.6" y="71" font-size="27" text-anchor="middle">22Rv1</text>
<text x="941" y="71" font-size="27" text-anchor="middle">LNCaP</text>
<text x="1142.8" y="71" font-size="27" text-anchor="middle">DU145</text>
<text x="1310" y="71" font-size="27" text-anchor="middle">H660</text>
<line x1="325" y1="86.6" x2="487.4" y2="86.6" stroke-width="2.2"/>
<line x1="501.3" y1="86.6" x2="662.7" y2="86.6" stroke-width="2.2"/>
<line x1="680" y1="86.6" x2="841.8" y2="86.6" stroke-width="2.2"/>
<line x1="880" y1="86.6" x2="1041.4" y2="86.6" stroke-width="2.2"/>
<line x1="1055.7" y1="86.6" x2="1217.7" y2="86.6" stroke-width="2.2"/>
<line x1="1234.4" y1="86.6" x2="1395.8" y2="86.6" stroke-width="2.2"/>
<text x="354.2" y="305.5" font-size="26.5" transform="rotate(-90 354.2 305.5)">DMSO</text>
<text x="398.3" y="305.5" font-size="26.5" transform="rotate(-90 398.3 305.5)">SMARCA2_4.1</text>
<text x="442.5" y="305.5" font-size="26.5" transform="rotate(-90 442.5 305.5)">ARV110</text>
<text x="486.6" y="305.5" font-size="26.5" transform="rotate(-90 486.6 305.5)">Enza</text>
<text x="530.8" y="305.5" font-size="26.5" transform="rotate(-90 530.8 305.5)">DMSO</text>
<text x="575" y="305.5" font-size="26.5" transform="rotate(-90 575 305.5)">SMARCA2_4.1</text>
<text x="619.1" y="305.5" font-size="26.5" transform="rotate(-90 619.1 305.5)">ARV110</text>
<text x="663.2" y="305.5" font-size="26.5" transform="rotate(-90 663.2 305.5)">Enza</text>
<text x="707.4" y="305.5" font-size="26.5" transform="rotate(-90 707.4 305.5)">DMSO</text>
<text x="751.5" y="305.5" font-size="26.5" transform="rotate(-90 751.5 305.5)">SMARCA2_4.1</text>
<text x="795.7" y="305.5" font-size="26.5" transform="rotate(-90 795.7 305.5)">ARV110</text>
<text x="839.8" y="305.5" font-size="26.5" transform="rotate(-90 839.8 305.5)">Enza</text>
<text x="913.2" y="298" font-size="26.5" transform="rotate(-90 913.2 298)">DMSO</text>
<text x="957.2" y="298" font-size="26.5" transform="rotate(-90 957.2 298)">SMARCA2_4.1</text>
<text x="1001.2" y="298" font-size="26.5" transform="rotate(-90 1001.2 298)">ARV110</text>
<text x="1045.2" y="298" font-size="26.5" transform="rotate(-90 1045.2 298)">Enza</text>
<text x="1089.2" y="298" font-size="26.5" transform="rotate(-90 1089.2 298)">DMSO</text>
<text x="1133.2" y="298" font-size="26.5" transform="rotate(-90 1133.2 298)">SMARCA2_4.1</text>
<text x="1177.2" y="298" font-size="26.5" transform="rotate(-90 1177.2 298)">ARV110</text>
<text x="1221.2" y="298" font-size="26.5" transform="rotate(-90 1221.2 298)">Enza</text>
<text x="1265.2" y="298" font-size="26.5" transform="rotate(-90 1265.2 298)">DMSO</text>
<text x="1309.2" y="298" font-size="26.5" transform="rotate(-90 1309.2 298)">SMARCA2_4.1</text>
<text x="1353.2" y="298" font-size="26.5" transform="rotate(-90 1353.2 298)">ARV110</text>
<text x="1397.2" y="298" font-size="26.5" transform="rotate(-90 1397.2 298)">Enza</text>
<text x="338.5" y="337.5" font-size="22.5" text-anchor="middle">1</text>
<text x="393.3" y="337.5" font-size="22.5" text-anchor="middle">0.08</text>
<text x="437.5" y="337.5" font-size="22.5" text-anchor="middle">1.1</text>
<text x="478.7" y="337.5" font-size="22.5" text-anchor="middle">2.5</text>
<text x="514.5" y="337.5" font-size="22.5" text-anchor="middle">1</text>
<text x="557.1" y="337.5" font-size="22.5" text-anchor="middle">0.02</text>
<text x="603.1" y="337.5" font-size="22.5" text-anchor="middle">0.6</text>
<text x="646.5" y="337.5" font-size="22.5" text-anchor="middle">0.7</text>
<text x="689.5" y="337.5" font-size="22.5" text-anchor="middle">1</text>
<text x="734.3" y="337.5" font-size="22.5" text-anchor="middle">0.02</text>
<text x="780.5" y="337.5" font-size="22.5" text-anchor="middle">0.4</text>
<text x="826.5" y="337.5" font-size="22.5" text-anchor="middle">0.5</text>
<text x="900.2" y="337" font-size="22.5" text-anchor="middle">1</text>
<text x="946.5" y="337" font-size="22.5" text-anchor="middle">0.01</text>
<text x="993.9" y="337" font-size="22.5" text-anchor="middle">0.3</text>
<text x="1039.5" y="337" font-size="22.5" text-anchor="middle">0.3</text>
<text x="1082.3" y="337" font-size="22.5" text-anchor="middle">1</text>
<text x="1125.3" y="337" font-size="22.5" text-anchor="middle">0.3</text>
<text x="1170.5" y="337" font-size="22.5" text-anchor="middle">1.1</text>
<text x="1222.5" y="337" font-size="22.5" text-anchor="middle">0.7</text>
<text x="1266.3" y="337" font-size="22.5" text-anchor="middle">1</text>
<text x="1308.3" y="337" font-size="22.5" text-anchor="middle">0.03</text>
<text x="1357.4" y="337" font-size="22.5" text-anchor="middle">5</text>
<text x="1396.5" y="337" font-size="22.5" text-anchor="middle">5</text>
<text x="158" y="373.3" font-size="27">250kDa</text>
<text x="164.5" y="471.3" font-size="27">50kDa</text>
<line x1="263" y1="361.3" x2="308" y2="361.3" stroke-width="2.6"/>
<line x1="268.5" y1="464.5" x2="312" y2="464.5" stroke-width="2.6"/>
<text x="1447" y="381.3" font-size="27">SMARCA4</text>
<text x="1448.5" y="454.3" font-size="27">HDAC1</text>
<g clip-path="url(#cb1)">
<rect x="310.5" y="343" width="540.5" height="48.2" fill="#a9acae"/>
<rect x="325.5" y="343" width="34" height="48.2" fill="#ffffff" opacity="0.06"/>
<rect x="412.9" y="343" width="34" height="48.2" fill="#ffffff" opacity="0.05"/>
<rect x="456.6" y="343" width="34" height="48.2" fill="#ffffff" opacity="0.08"/>
<rect x="500.3" y="343" width="34" height="48.2" fill="#ffffff" opacity="0.07"/>
<rect x="587.7" y="343" width="34" height="48.2" fill="#ffffff" opacity="0.08"/>
<rect x="631.4" y="343" width="34" height="48.2" fill="#ffffff" opacity="0.06"/>
<rect x="675.1" y="343" width="34" height="48.2" fill="#ffffff" opacity="0.05"/>
<rect x="762.5" y="343" width="34" height="48.2" fill="#ffffff" opacity="0.05"/>
<rect x="806.2" y="343" width="34" height="48.2" fill="#ffffff" opacity="0.05"/>
<rect x="327.5" y="368" width="30" height="6" rx="7.2" ry="3" fill="#0c0c0c" opacity="0.55" filter="url(#bb)"/>

<rect x="414.9" y="368" width="30" height="6" rx="7.2" ry="3" fill="#0c0c0c" opacity="0.35" filter="url(#bb)"/>
<rect x="458.6" y="368" width="30" height="6" rx="7.2" ry="3" fill="#0c0c0c" opacity="0.70" filter="url(#bb)"/>
<rect x="502.3" y="367" width="30" height="8" rx="9.6" ry="4" fill="#0c0c0c" opacity="1.00" filter="url(#bb)"/>

<rect x="589.7" y="367" width="30" height="8" rx="9.6" ry="4" fill="#0c0c0c" opacity="0.90" filter="url(#bb)"/>
<rect x="633.4" y="367" width="30" height="8" rx="9.6" ry="4" fill="#0c0c0c" opacity="0.95" filter="url(#bb)"/>
<rect x="677.1" y="368" width="30" height="6" rx="7.2" ry="3" fill="#0c0c0c" opacity="0.70" filter="url(#bb)"/>

<rect x="764.5" y="368" width="30" height="6" rx="7.2" ry="3" fill="#0c0c0c" opacity="0.45" filter="url(#bb)"/>
<rect x="808.2" y="368" width="30" height="6" rx="7.2" ry="3" fill="#0c0c0c" opacity="0.55" filter="url(#bb)"/>
<rect x="329.5" y="379.5" width="26" height="7" rx="8.4" ry="3.5" fill="#0c0c0c" opacity="0.05" filter="url(#bb)"/>
<rect x="416.9" y="379.5" width="26" height="7" rx="8.4" ry="3.5" fill="#0c0c0c" opacity="0.05" filter="url(#bb)"/>
<rect x="460.6" y="379.5" width="26" height="7" rx="8.4" ry="3.5" fill="#0c0c0c" opacity="0.05" filter="url(#bb)"/>
<rect x="504.3" y="379.5" width="26" height="7" rx="8.4" ry="3.5" fill="#0c0c0c" opacity="0.05" filter="url(#bb)"/>
<rect x="591.7" y="379.5" width="26" height="7" rx="8.4" ry="3.5" fill="#0c0c0c" opacity="0.05" filter="url(#bb)"/>
<rect x="635.4" y="379.5" width="26" height="7" rx="8.4" ry="3.5" fill="#0c0c0c" opacity="0.05" filter="url(#bb)"/>
<rect x="679.1" y="379.5" width="26" height="7" rx="8.4" ry="3.5" fill="#0c0c0c" opacity="0.05" filter="url(#bb)"/>
<rect x="766.5" y="379.5" width="26" height="7" rx="8.4" ry="3.5" fill="#0c0c0c" opacity="0.05" filter="url(#bb)"/>
<rect x="810.2" y="379.5" width="26" height="7" rx="8.4" ry="3.5" fill="#0c0c0c" opacity="0.05" filter="url(#bb)"/>
<rect x="848" y="343" width="3" height="48.2" fill="#d4d6d7"/>
<rect x="307.5" y="355" width="9" height="12" rx="4.5" ry="6" fill="#0c0c0c" opacity="0.85" filter="url(#bb)"/>
</g>
<rect x="309.5" y="342" width="542.5" height="50" fill="none" stroke="#231f20" stroke-width="2.8"/>
<g clip-path="url(#cb2)">
<rect x="870.5" y="346.5" width="561" height="45" fill="#8f9294"/>
<rect x="1065" y="346.5" width="36" height="45" fill="#ffffff" opacity="0.035"/>
<rect x="1112" y="346.5" width="36" height="45" fill="#ffffff" opacity="0.035"/>
<rect x="1157.5" y="346.5" width="36" height="45" fill="#ffffff" opacity="0.035"/>
<rect x="1202" y="346.5" width="36" height="45" fill="#ffffff" opacity="0.035"/>
<rect x="880" y="360" width="36" height="15" rx="18" ry="7.5" fill="#0c0c0c" opacity="1.00" filter="url(#bb)"/>
<rect x="883" y="358" width="20" height="10" rx="10" ry="5" fill="#0c0c0c" opacity="1.00" filter="url(#bb)"/>
<rect x="974" y="368.5" width="32" height="7" rx="8.4" ry="3.5" fill="#0c0c0c" opacity="0.95" filter="url(#bb)"/>
<rect x="1021" y="368.5" width="32" height="7" rx="8.4" ry="3.5" fill="#0c0c0c" opacity="0.95" filter="url(#bb)"/>
<rect x="1067" y="368.5" width="32" height="7" rx="8.4" ry="3.5" fill="#0c0c0c" opacity="0.08" filter="url(#bb)"/>
<rect x="1114" y="368.5" width="32" height="7" rx="8.4" ry="3.5" fill="#0c0c0c" opacity="0.05" filter="url(#bb)"/>
<rect x="1159.5" y="368.5" width="32" height="7" rx="8.4" ry="3.5" fill="#0c0c0c" opacity="0.06" filter="url(#bb)"/>
<rect x="1204" y="368.5" width="32" height="7" rx="8.4" ry="3.5" fill="#0c0c0c" opacity="0.05" filter="url(#bb)"/>
<rect x="1245.5" y="363" width="32" height="7" rx="8.4" ry="3.5" fill="#0c0c0c" opacity="0.80" filter="url(#bb)"/>
<rect x="1335" y="362" width="38" height="9" rx="10.8" ry="4.5" fill="#0c0c0c" opacity="1.00" filter="url(#bb)"/>
<rect x="1385" y="362" width="38" height="9" rx="10.8" ry="4.5" fill="#0c0c0c" opacity="1.00" filter="url(#bb)"/>
<rect x="1339" y="377" width="30" height="12" rx="14.4" ry="6" fill="#0c0c0c" opacity="0.06" filter="url(#bb)"/>
<rect x="1389" y="377" width="30" height="12" rx="14.4" ry="6" fill="#0c0c0c" opacity="0.06" filter="url(#bb)"/>
</g>
<rect x="869.5" y="345.5" width="563" height="47" fill="none" stroke="#231f20" stroke-width="2.8"/>
<g clip-path="url(#cb3)">
<rect x="313.5" y="418" width="546" height="59.5" fill="#e3e3e3"/>
<rect x="321.5" y="440.2" width="48" height="11.5" rx="13.8" ry="5.8" fill="#0c0c0c" opacity="1.00" transform="rotate(8 345.5 446)" filter="url(#bb)"/>
<rect x="363.2" y="450.2" width="46" height="11.5" rx="13.8" ry="5.8" fill="#0c0c0c" opacity="0.95" filter="url(#bb)"/>
<rect x="407.9" y="453.2" width="44" height="11.5" rx="13.8" ry="5.8" fill="#0c0c0c" opacity="0.85" filter="url(#bb)"/>
<rect x="451.6" y="454.2" width="44" height="11.5" rx="13.8" ry="5.8" fill="#0c0c0c" opacity="0.90" filter="url(#bb)"/>
<rect x="494.3" y="455.2" width="46" height="11.5" rx="13.8" ry="5.8" fill="#0c0c0c" opacity="1.00" filter="url(#bb)"/>
<rect x="538" y="455.2" width="46" height="11.5" rx="13.8" ry="5.8" fill="#0c0c0c" opacity="1.00" filter="url(#bb)"/>
<rect x="582.7" y="455.2" width="44" height="11.5" rx="13.8" ry="5.8" fill="#0c0c0c" opacity="1.00" filter="url(#bb)"/>
<rect x="626.4" y="455.2" width="44" height="11.5" rx="13.8" ry="5.8" fill="#0c0c0c" opacity="1.00" filter="url(#bb)"/>
<rect x="670.1" y="455.2" width="44" height="11.5" rx="13.8" ry="5.8" fill="#0c0c0c" opacity="0.95" filter="url(#bb)"/>
<rect x="713.8" y="455.2" width="44" height="11.5" rx="13.8" ry="5.8" fill="#0c0c0c" opacity="0.95" filter="url(#bb)"/>
<rect x="756.5" y="454.2" width="46" height="11.5" rx="13.8" ry="5.8" fill="#0c0c0c" opacity="0.95" filter="url(#bb)"/>
<rect x="798.2" y="447.2" width="50" height="11.5" rx="13.8" ry="5.8" fill="#0c0c0c" opacity="1.00" transform="rotate(-5 823.2 453)" filter="url(#bb)"/>
<rect x="369.2" y="446.5" width="34" height="9" rx="10.8" ry="4.5" fill="#0c0c0c" opacity="0.35" filter="url(#bb)"/>
<rect x="412.9" y="449.5" width="34" height="9" rx="10.8" ry="4.5" fill="#0c0c0c" opacity="0.35" filter="url(#bb)"/>
<rect x="456.6" y="450.5" width="34" height="9" rx="10.8" ry="4.5" fill="#0c0c0c" opacity="0.35" filter="url(#bb)"/>
<rect x="672.1" y="445.5" width="40" height="5" rx="6" ry="2.5" fill="#0c0c0c" opacity="0.18" filter="url(#bb)"/>
<rect x="715.8" y="445.5" width="40" height="5" rx="6" ry="2.5" fill="#0c0c0c" opacity="0.18" filter="url(#bb)"/>
<rect x="759.5" y="444.5" width="40" height="5" rx="6" ry="2.5" fill="#0c0c0c" opacity="0.18" filter="url(#bb)"/>
<rect x="803.2" y="439.5" width="40" height="5" rx="6" ry="2.5" fill="#0c0c0c" opacity="0.18" filter="url(#bb)"/>
<rect x="310" y="463" width="8" height="14" rx="4" ry="7" fill="#0c0c0c" opacity="0.90" filter="url(#bb)"/>
</g>
<rect x="312.3" y="416.8" width="548.5" height="62" fill="none" stroke="#231f20" stroke-width="2.8"/>
<g clip-path="url(#cb4)">
<rect x="869" y="421.5" width="562.5" height="54" fill="#e1e2e2"/>
<rect x="876" y="444.8" width="44" height="8.5" rx="10.2" ry="4.2" fill="#0c0c0c" opacity="0.95" filter="url(#bb)"/>
<rect x="922" y="452.8" width="44" height="8.5" rx="10.2" ry="4.2" fill="#0c0c0c" opacity="0.95" filter="url(#bb)"/>
<rect x="968" y="455.2" width="44" height="8.5" rx="10.2" ry="4.2" fill="#0c0c0c" opacity="0.95" filter="url(#bb)"/>
<rect x="1015" y="454.2" width="44" height="8.5" rx="10.2" ry="4.2" fill="#0c0c0c" opacity="0.95" filter="url(#bb)"/>
<rect x="1061" y="453.4" width="44" height="8.5" rx="10.2" ry="4.2" fill="#0c0c0c" opacity="0.95" filter="url(#bb)"/>
<rect x="1108" y="451.8" width="44" height="8.5" rx="10.2" ry="4.2" fill="#0c0c0c" opacity="0.95" filter="url(#bb)"/>
<rect x="1153.5" y="450.8" width="44" height="8.5" rx="10.2" ry="4.2" fill="#0c0c0c" opacity="0.95" filter="url(#bb)"/>
<rect x="1198" y="450.8" width="44" height="8.5" rx="10.2" ry="4.2" fill="#0c0c0c" opacity="0.95" filter="url(#bb)"/>
<rect x="1239.5" y="446.8" width="44" height="8.5" rx="10.2" ry="4.2" fill="#0c0c0c" opacity="0.95" filter="url(#bb)"/>
<rect x="1284.5" y="443.8" width="44" height="8.5" rx="10.2" ry="4.2" fill="#0c0c0c" opacity="0.95" filter="url(#bb)"/>
<rect x="1332" y="440.8" width="44" height="8.5" rx="10.2" ry="4.2" fill="#0c0c0c" opacity="0.95" filter="url(#bb)"/>
<rect x="1382" y="437.8" width="44" height="8.5" rx="10.2" ry="4.2" fill="#0c0c0c" opacity="0.95" filter="url(#bb)"/>
<rect x="883" y="433" width="30" height="12" rx="14.4" ry="6" fill="#0c0c0c" opacity="0.08" filter="url(#bb)"/>
<rect x="929" y="441" width="30" height="12" rx="14.4" ry="6" fill="#0c0c0c" opacity="0.08" filter="url(#bb)"/>
<rect x="1022" y="442.5" width="30" height="12" rx="14.4" ry="6" fill="#0c0c0c" opacity="0.08" filter="url(#bb)"/>
<rect x="867.5" y="462" width="5" height="12" rx="2.5" ry="6" fill="#0c0c0c" opacity="0.80" filter="url(#bb)"/>
</g>
<rect x="868" y="420" width="564.5" height="56.5" fill="none" stroke="#231f20" stroke-width="2.8"/>
<text x="4.5" y="537.3" font-size="31" font-weight="bold">b</text>
<text x="28.5" y="689" font-size="19.5" text-anchor="middle" transform="rotate(-90 28.5 689)">activity</text>
<text x="198" y="582.6" font-size="23.5" text-anchor="middle">22Rv1</text>
<line x1="164" y1="586" x2="232" y2="586" stroke-width="1.6"/>
<line x1="119.5" y1="628.9" x2="119.5" y2="772.2" stroke-width="1.3" stroke="#383b3d"/>
<polygon points="119.5,671.6 119.9,673.7 120.3,675.7 120.7,677.8 121.1,679.9 121.5,681.9 122,684 122.5,686 123.1,688 123.7,690 124.3,692 125,694 125.6,696 126.3,698 127,700 127.7,702 128.5,704 129.4,706 130.2,708 130.9,710 131.5,712 132,714 132.5,716 132.9,718 133.1,720 133.2,722 133.1,724.2 132.8,726.3 132.4,728.5 131.8,730.7 131.2,732.8 130.5,735 129.7,737.2 128.7,739.3 127.6,741.5 126.5,743.7 125.4,745.8 124.5,748 123.8,750 123.1,752 122.5,754 122,756 121.5,758 121,760 120.6,762.1 120.2,764.1 119.9,766.2 119.5,768.3 119.5,768.3 119.1,766.2 118.8,764.1 118.4,762.1 118,760 117.5,758 117,756 116.5,754 115.9,752 115.2,750 114.5,748 113.6,745.8 112.5,743.7 111.4,741.5 110.3,739.3 109.3,737.2 108.5,735 107.8,732.8 107.2,730.7 106.6,728.5 106.2,726.3 105.9,724.2 105.8,722 105.9,720 106.1,718 106.5,716 107,714 107.5,712 108.1,710 108.8,708 109.6,706 110.5,704 111.3,702 112,700 112.7,698 113.4,696 114,694 114.7,692 115.3,690 115.9,688 116.5,686 117,684 117.5,681.9 117.9,679.9 118.3,677.8 118.7,675.7 119.1,673.7 119.5,671.6" fill="#b4b7b9" stroke="#383b3d" stroke-width="1.6" stroke-linejoin="round"/>
<line x1="119.5" y1="671.6" x2="119.5" y2="768.3" stroke-width="1.3" stroke="#383b3d"/>
<rect x="116.3" y="706.6" width="6.4" height="25.9" fill="#b4b7b9" stroke="#383b3d" stroke-width="1.3"/>
<line x1="116.3" y1="720.2" x2="122.7" y2="720.2" stroke-width="2.2" stroke="#383b3d"/>
<circle cx="119.5" cy="628.9" r="3.3" fill="#383b3d"/>
<circle cx="119.5" cy="639.4" r="3.3" fill="#383b3d"/>
<line x1="119.5" y1="647" x2="119.5" y2="671" stroke-width="6.6" stroke="#383b3d" stroke-linecap="round"/>
<circle cx="119.5" cy="772.2" r="3.3" fill="#383b3d"/>
<line x1="174.1" y1="645" x2="174.1" y2="769" stroke-width="1.3" stroke="#383b3d"/>
<polygon points="174.1,668 174.7,670 175.3,672 175.9,674 176.5,676 177,678 177.6,680 178.1,682 178.7,684 179.2,686 179.7,688 180.2,690 180.7,692 181.1,694 181.6,696 182.1,698 182.6,700 183.1,702 183.7,704 184.3,706 185,708 185.6,710 186.2,712 186.7,714 187.1,716 187.5,718 187.7,720 187.8,722 187.7,724 187.3,726 186.8,728 186.1,730 185.3,732 184.6,734 183.8,736 183.1,738 182.4,740 181.7,742 180.9,744 180.2,746 179.4,748 178.7,750 178.1,752 177.5,754.1 177,756.2 176.4,758.4 176,760.5 175.5,762.6 175.1,764.8 174.6,766.9 174.1,769 174.1,769 173.6,766.9 173.1,764.8 172.7,762.6 172.2,760.5 171.8,758.4 171.2,756.2 170.7,754.1 170.1,752 169.5,750 168.8,748 168,746 167.3,744 166.5,742 165.8,740 165.1,738 164.4,736 163.6,734 162.9,732 162.1,730 161.4,728 160.9,726 160.5,724 160.4,722 160.5,720 160.7,718 161.1,716 161.5,714 162,712 162.6,710 163.2,708 163.9,706 164.5,704 165.1,702 165.6,700 166.1,698 166.6,696 167.1,694 167.5,692 168,690 168.5,688 169,686 169.5,684 170.1,682 170.6,680 171.2,678 171.7,676 172.3,674 172.9,672 173.5,670 174.1,668" fill="#ea1d2f" stroke="#383b3d" stroke-width="1.6" stroke-linejoin="round"/>
<line x1="174.1" y1="668" x2="174.1" y2="769" stroke-width="1.3" stroke="#383b3d"/>
<rect x="170.9" y="706.6" width="6.4" height="26.6" fill="#ea1d2f" stroke="#383b3d" stroke-width="1.3"/>
<line x1="170.9" y1="720.7" x2="177.3" y2="720.7" stroke-width="2.2" stroke="#383b3d"/>
<line x1="174.1" y1="645" x2="174.1" y2="668" stroke-width="6.6" stroke="#383b3d" stroke-linecap="round"/>
<line x1="228.7" y1="654.8" x2="228.7" y2="768.3" stroke-width="1.3" stroke="#383b3d"/>
<polygon points="228.7,680 229.4,682 230.1,684 230.8,686 231.5,688 232.2,690 233,692.1 233.9,694.3 234.8,696.4 235.8,698.6 236.6,700.7 237.5,702.9 238.2,705 238.9,707 239.5,709.1 240.2,711.1 240.9,713.2 241.5,715.2 242,717.3 242.5,719.4 242.8,721.4 243,723.5 243.1,725.5 243,727.6 242.6,729.6 242,731.7 241.2,733.7 240.3,735.8 239.4,737.8 238.5,739.9 237.5,741.9 236.7,744 235.9,746 235,748 234.1,750 233.2,752 232.4,754 231.7,756 231.1,758 230.5,760.1 230.1,762.1 229.6,764.2 229.2,766.2 228.7,768.3 228.7,768.3 228.2,766.2 227.8,764.2 227.3,762.1 226.9,760.1 226.3,758 225.7,756 225,754 224.2,752 223.3,750 222.4,748 221.5,746 220.7,744 219.9,741.9 218.9,739.9 218,737.8 217.1,735.8 216.2,733.7 215.4,731.7 214.8,729.6 214.4,727.6 214.3,725.5 214.4,723.5 214.6,721.4 214.9,719.4 215.4,717.3 215.9,715.2 216.5,713.2 217.2,711.1 217.9,709.1 218.5,707 219.2,705 219.9,702.9 220.8,700.7 221.6,698.6 222.6,696.4 223.5,694.3 224.4,692.1 225.2,690 225.9,688 226.6,686 227.3,684 228,682 228.7,680" fill="#3a5ba8" stroke="#383b3d" stroke-width="1.6" stroke-linejoin="round"/>
<line x1="228.7" y1="680" x2="228.7" y2="768.3" stroke-width="1.3" stroke="#383b3d"/>
<rect x="225.5" y="713.9" width="6.4" height="24.7" fill="#3a5ba8" stroke="#383b3d" stroke-width="1.3"/>
<line x1="225.5" y1="726.2" x2="231.9" y2="726.2" stroke-width="2.2" stroke="#383b3d"/>
<line x1="228.7" y1="654.8" x2="228.7" y2="662" stroke-width="6.6" stroke="#383b3d" stroke-linecap="round"/>
<circle cx="228.7" cy="675.5" r="3.3" fill="#383b3d"/>
<line x1="283.5" y1="659.7" x2="283.5" y2="785.8" stroke-width="1.3" stroke="#383b3d"/>
<polygon points="283.5,731 283.8,733 284.1,735 284.4,737 284.8,739 285.5,741 286.6,743.2 287.9,745.5 289.5,747.8 291.5,750 293.7,752 296.3,754 299,756 301.5,758 304.5,760.3 307.4,762.5 308.7,764.8 307.5,766.9 304.6,768.9 301.5,771 297.9,773.3 293.9,775.7 290.5,778 287.8,780.6 285.6,783.2 283.5,785.8 283.5,785.8 281.4,783.2 279.2,780.6 276.5,778 273.1,775.7 269.1,773.3 265.5,771 262.4,768.9 259.5,766.9 258.3,764.8 259.6,762.5 262.5,760.3 265.5,758 268,756 270.7,754 273.3,752 275.5,750 277.5,747.8 279.1,745.5 280.4,743.2 281.5,741 282.2,739 282.6,737 282.9,735 283.2,733 283.5,731" fill="#f5a32b" stroke="#383b3d" stroke-width="1.6" stroke-linejoin="round"/>
<line x1="283.5" y1="731" x2="283.5" y2="785.8" stroke-width="1.3" stroke="#383b3d"/>
<rect x="280.3" y="752.2" width="6.4" height="16.1" fill="#f5a32b" stroke="#383b3d" stroke-width="1.3"/>
<line x1="280.3" y1="762.4" x2="286.7" y2="762.4" stroke-width="2.2" stroke="#383b3d"/>
<circle cx="283.5" cy="659.7" r="3.3" fill="#383b3d"/>
<line x1="283.5" y1="664" x2="283.5" y2="680" stroke-width="6.6" stroke="#383b3d" stroke-linecap="round"/>
<line x1="283.5" y1="683" x2="283.5" y2="731" stroke-width="6.6" stroke="#383b3d" stroke-linecap="round"/>
<line x1="86.5" y1="621.2" x2="86.5" y2="794.4" stroke-width="1.6" stroke="#000"/>
<line x1="85.7" y1="793.6" x2="316" y2="793.6" stroke-width="1.6" stroke="#000"/>
<line x1="81.5" y1="772.2" x2="86.5" y2="772.2" stroke-width="1.4" stroke="#333"/>
<text x="79" y="777.1" font-size="18.5" text-anchor="end">0.01</text>
<line x1="81.5" y1="720.7" x2="86.5" y2="720.7" stroke-width="1.4" stroke="#333"/>
<text x="79" y="725.6" font-size="18.5" text-anchor="end">0.02</text>
<line x1="81.5" y1="670" x2="86.5" y2="670" stroke-width="1.4" stroke="#333"/>
<text x="79" y="674.9" font-size="18.5" text-anchor="end">0.03</text>
<line x1="119.5" y1="793.6" x2="119.5" y2="798.1" stroke-width="1.4" stroke="#333"/>
<text x="130" y="802" font-size="23.6" text-anchor="end" transform="rotate(-90 130 802)">DMSO</text>
<line x1="174.1" y1="793.6" x2="174.1" y2="798.1" stroke-width="1.4" stroke="#333"/>
<text x="184.6" y="802" font-size="23.6" text-anchor="end" transform="rotate(-90 184.6 802)">Enza</text>
<line x1="228.7" y1="793.6" x2="228.7" y2="798.1" stroke-width="1.4" stroke="#333"/>
<text x="239.2" y="802" font-size="23.6" text-anchor="end" transform="rotate(-90 239.2 802)">ARV110</text>
<line x1="283.5" y1="793.6" x2="283.5" y2="798.1" stroke-width="1.4" stroke="#333"/>
<text x="294" y="802" font-size="23.6" text-anchor="end" transform="rotate(-90 294 802)">SMARCA2_4.1</text>
<text x="344.5" y="689" font-size="19.5" text-anchor="middle" transform="rotate(-90 344.5 689)">activity</text>
<text x="520.9" y="582.6" font-size="23.5" text-anchor="middle">VCaP</text>
<line x1="490.2" y1="586" x2="551.6" y2="586" stroke-width="1.6"/>
<line x1="439.9" y1="648.5" x2="439.9" y2="769" stroke-width="1.3" stroke="#383b3d"/>
<polygon points="439.9,689 440.6,691.2 441.3,693.4 442,695.6 442.7,697.8 443.4,700 444.1,702 444.7,704 445.4,706 446.1,708 446.9,710 447.9,712 449.1,714 450.5,716 452,718 453.5,720 454.9,722 456.5,724.2 458.1,726.5 459.4,728.8 459.9,731 459.3,733.2 457.9,735.5 456,737.8 453.9,740 451.8,742 449.4,744 446.9,746 444.6,748 442.9,750 441.7,752.2 441.1,754.3 440.7,756.5 440.5,758.7 440.3,760.8 439.9,763 439.9,763 439.5,760.8 439.3,758.7 439.1,756.5 438.7,754.3 438.1,752.2 436.9,750 435.2,748 432.9,746 430.4,744 428,742 425.9,740 423.8,737.8 421.9,735.5 420.5,733.2 419.9,731 420.4,728.8 421.7,726.5 423.3,724.2 424.9,722 426.3,720 427.8,718 429.3,716 430.7,714 431.9,712 432.9,710 433.7,708 434.4,706 435.1,704 435.7,702 436.4,700 437.1,697.8 437.8,695.6 438.5,693.4 439.2,691.2 439.9,689" fill="#b4b7b9" stroke="#383b3d" stroke-width="1.6" stroke-linejoin="round"/>
<line x1="439.9" y1="689" x2="439.9" y2="763" stroke-width="1.3" stroke="#383b3d"/>
<rect x="436.7" y="715.8" width="6.4" height="19.3" fill="#b4b7b9" stroke="#383b3d" stroke-width="1.3"/>
<line x1="436.7" y1="726.3" x2="443.1" y2="726.3" stroke-width="2.2" stroke="#383b3d"/>
<line x1="439.9" y1="648.5" x2="439.9" y2="689" stroke-width="6.6" stroke="#383b3d" stroke-linecap="round"/>
<line x1="439.9" y1="766" x2="439.9" y2="769" stroke-width="6.6" stroke="#383b3d" stroke-linecap="round"/>
<line x1="493.6" y1="631" x2="493.6" y2="768.3" stroke-width="1.3" stroke="#383b3d"/>
<polygon points="493.6,702.5 494.5,704.9 495.4,707.2 496.3,709.6 497.6,712 498.9,714 500.5,716 502.2,718 503.9,720 505.6,722 507.6,724 509.9,726 512.2,728 514.3,730 515.7,732 516.3,734 515.7,736.2 514.3,738.4 512.2,740.6 509.9,742.8 507.6,745 505.2,747.1 502.4,749.3 499.7,751.5 497.6,753.6 496.1,755.9 495.2,758.2 494.4,760.4 493.6,762.7 493.6,762.7 492.8,760.4 492,758.2 491.1,755.9 489.6,753.6 487.5,751.5 484.8,749.3 482,747.1 479.6,745 477.3,742.8 475,740.6 472.9,738.4 471.5,736.2 470.9,734 471.5,732 472.9,730 475,728 477.3,726 479.6,724 481.6,722 483.3,720 485,718 486.7,716 488.3,714 489.6,712 490.9,709.6 491.8,707.2 492.7,704.9 493.6,702.5" fill="#ea1d2f" stroke="#383b3d" stroke-width="1.6" stroke-linejoin="round"/>
<line x1="493.6" y1="702.5" x2="493.6" y2="762.7" stroke-width="1.3" stroke="#383b3d"/>
<rect x="490.4" y="723.5" width="6.4" height="16.1" fill="#ea1d2f" stroke="#383b3d" stroke-width="1.3"/>
<line x1="490.4" y1="732.2" x2="496.8" y2="732.2" stroke-width="2.2" stroke="#383b3d"/>
<circle cx="493.6" cy="631" r="3.3" fill="#383b3d"/>
<line x1="493.6" y1="656" x2="493.6" y2="702.5" stroke-width="6.6" stroke="#383b3d" stroke-linecap="round"/>
<circle cx="493.6" cy="768.3" r="3.3" fill="#383b3d"/>
<line x1="547.4" y1="635" x2="547.4" y2="787.9" stroke-width="1.3" stroke="#383b3d"/>
<polygon points="547.4,703 548.3,705.2 549.2,707.5 550.2,709.8 551.4,712 552.8,714 554.4,716 556.1,718 557.8,720 559.6,722 561.4,724 563.4,726 565.7,728 568,730 570.1,732 571.5,734 572.1,736 571.2,738 569,740 566.1,742 563,744 560.4,746 558,748.2 555.5,750.4 553.2,752.6 551.1,754.8 549.4,757 548.2,759.5 547.4,762 547.4,762 546.6,759.5 545.4,757 543.7,754.8 541.6,752.6 539.3,750.4 536.8,748.2 534.4,746 531.8,744 528.7,742 525.8,740 523.6,738 522.7,736 523.3,734 524.7,732 526.8,730 529.1,728 531.4,726 533.4,724 535.2,722 537,720 538.7,718 540.4,716 542,714 543.4,712 544.6,709.8 545.6,707.5 546.5,705.2 547.4,703" fill="#3a5ba8" stroke="#383b3d" stroke-width="1.6" stroke-linejoin="round"/>
<line x1="547.4" y1="703" x2="547.4" y2="762" stroke-width="1.3" stroke="#383b3d"/>
<rect x="544.2" y="724.9" width="6.4" height="15.4" fill="#3a5ba8" stroke="#383b3d" stroke-width="1.3"/>
<line x1="544.2" y1="733.3" x2="550.6" y2="733.3" stroke-width="2.2" stroke="#383b3d"/>
<circle cx="547.4" cy="635" r="3.3" fill="#383b3d"/>
<line x1="547.4" y1="659" x2="547.4" y2="703" stroke-width="6.6" stroke="#383b3d" stroke-linecap="round"/>
<circle cx="547.4" cy="764" r="3.3" fill="#383b3d"/>
<circle cx="547.4" cy="775.6" r="3.3" fill="#383b3d"/>
<circle cx="547.4" cy="787.9" r="3.3" fill="#383b3d"/>
<line x1="601.3" y1="666.7" x2="601.3" y2="782.5" stroke-width="1.3" stroke="#383b3d"/>
<polygon points="601.3,701.7 602.2,703.8 603.1,705.9 604,707.9 604.8,710 605.4,712 605.9,714 606.3,716 606.8,718 607.4,720 608.3,722 609.6,724.2 611.3,726.4 613.1,728.6 614.8,730.8 616.3,733 617.5,735 618.6,737 619.6,739 620.3,741 620.6,743 619.8,745.2 618,747.5 615.6,749.8 613.3,752 611.2,754.1 608.8,756.3 606.4,758.4 604.3,760.6 602.8,762.7 601.9,764.8 601.5,766.8 601.4,768.9 601.4,770.9 601.4,773 601.3,775 601.3,775 601.2,773 601.2,770.9 601.2,768.9 601.1,766.8 600.7,764.8 599.8,762.7 598.3,760.6 596.2,758.4 593.8,756.3 591.4,754.1 589.3,752 587,749.8 584.6,747.5 582.8,745.2 582,743 582.3,741 583,739 584,737 585.1,735 586.3,733 587.8,730.8 589.5,728.6 591.3,726.4 593,724.2 594.3,722 595.2,720 595.8,718 596.3,716 596.7,714 597.2,712 597.8,710 598.6,707.9 599.5,705.9 600.4,703.8 601.3,701.7" fill="#f5a32b" stroke="#383b3d" stroke-width="1.6" stroke-linejoin="round"/>
<line x1="601.3" y1="701.7" x2="601.3" y2="775" stroke-width="1.3" stroke="#383b3d"/>
<rect x="598.1" y="728" width="6.4" height="19" fill="#f5a32b" stroke="#383b3d" stroke-width="1.3"/>
<line x1="598.1" y1="738.2" x2="604.5" y2="738.2" stroke-width="2.2" stroke="#383b3d"/>
<line x1="601.3" y1="666.7" x2="601.3" y2="701.7" stroke-width="6.6" stroke="#383b3d" stroke-linecap="round"/>
<circle cx="601.3" cy="782.5" r="3.3" fill="#383b3d"/>
<line x1="407.5" y1="623.3" x2="407.5" y2="796.7" stroke-width="1.6" stroke="#000"/>
<line x1="406.7" y1="795.9" x2="633.7" y2="795.9" stroke-width="1.6" stroke="#000"/>
<line x1="402.5" y1="787.6" x2="407.5" y2="787.6" stroke-width="1.4" stroke="#333"/>
<text x="400" y="792.5" font-size="18.5" text-anchor="end">0.00</text>
<line x1="402.5" y1="738.6" x2="407.5" y2="738.6" stroke-width="1.4" stroke="#333"/>
<text x="400" y="743.5" font-size="18.5" text-anchor="end">0.01</text>
<line x1="402.5" y1="689.1" x2="407.5" y2="689.1" stroke-width="1.4" stroke="#333"/>
<text x="400" y="694" font-size="18.5" text-anchor="end">0.02</text>
<line x1="402.5" y1="639.7" x2="407.5" y2="639.7" stroke-width="1.4" stroke="#333"/>
<text x="400" y="644.6" font-size="18.5" text-anchor="end">0.03</text>
<line x1="439.9" y1="795.9" x2="439.9" y2="800.4" stroke-width="1.4" stroke="#333"/>
<text x="450.4" y="802" font-size="23.6" text-anchor="end" transform="rotate(-90 450.4 802)">DMSO</text>
<line x1="493.6" y1="795.9" x2="493.6" y2="800.4" stroke-width="1.4" stroke="#333"/>
<text x="504.1" y="802" font-size="23.6" text-anchor="end" transform="rotate(-90 504.1 802)">Enza</text>
<line x1="547.4" y1="795.9" x2="547.4" y2="800.4" stroke-width="1.4" stroke="#333"/>
<text x="557.9" y="802" font-size="23.6" text-anchor="end" transform="rotate(-90 557.9 802)">ARV110</text>
<line x1="601.3" y1="795.9" x2="601.3" y2="800.4" stroke-width="1.4" stroke="#333"/>
<text x="611.8" y="802" font-size="23.6" text-anchor="end" transform="rotate(-90 611.8 802)">SMARCA2_4.1</text>
<text x="676.5" y="689" font-size="19.5" text-anchor="middle" transform="rotate(-90 676.5 689)">activity</text>
<text x="848.5" y="582.6" font-size="23.5" text-anchor="middle">DU145</text>
<line x1="811.9" y1="586" x2="885.1" y2="586" stroke-width="1.6"/>
<line x1="764.2" y1="659" x2="764.2" y2="781" stroke-width="1.3" stroke="#383b3d"/>
<polygon points="764.2,659 764.5,661.2 764.8,663.4 765.1,665.6 765.4,667.8 765.7,670 765.9,672.3 766.1,674.7 766.7,677 767.7,679.2 768.9,681.3 770.3,683.5 771.8,685.7 773.1,687.8 774.2,690 775,692 775.8,694 776.6,696 777.3,698 777.8,700 778.2,702 778.5,704 778.6,706 778.4,708 778,710 777.4,712 776.6,714 775.8,716 775,718 774.2,720 773.4,722 772.5,724 771.6,726 770.7,728 769.9,730 769.2,732 768.6,734.2 768.1,736.3 767.7,738.5 767.4,740.7 767.1,742.8 766.7,745 766.3,747.1 766,749.3 765.6,751.4 765.3,753.6 764.9,755.7 764.6,757.9 764.2,760 764.2,760 763.8,757.9 763.5,755.7 763.1,753.6 762.8,751.4 762.4,749.3 762.1,747.1 761.7,745 761.3,742.8 761,740.7 760.7,738.5 760.3,736.3 759.8,734.2 759.2,732 758.5,730 757.7,728 756.8,726 755.9,724 755,722 754.2,720 753.4,718 752.6,716 751.8,714 751,712 750.4,710 750,708 749.8,706 749.9,704 750.2,702 750.6,700 751.1,698 751.8,696 752.6,694 753.4,692 754.2,690 755.3,687.8 756.6,685.7 758.1,683.5 759.5,681.3 760.7,679.2 761.7,677 762.3,674.7 762.5,672.3 762.7,670 763,667.8 763.3,665.6 763.6,663.4 763.9,661.2 764.2,659" fill="#b4b7b9" stroke="#383b3d" stroke-width="1.6" stroke-linejoin="round"/>
<line x1="764.2" y1="659" x2="764.2" y2="760" stroke-width="1.3" stroke="#383b3d"/>
<rect x="761" y="697.5" width="6.4" height="25.3" fill="#b4b7b9" stroke="#383b3d" stroke-width="1.3"/>
<line x1="761" y1="708.5" x2="767.4" y2="708.5" stroke-width="2.2" stroke="#383b3d"/>
<line x1="764.2" y1="760" x2="764.2" y2="781" stroke-width="6.6" stroke="#383b3d" stroke-linecap="round"/>
<line x1="818.4" y1="656" x2="818.4" y2="780.2" stroke-width="1.3" stroke="#383b3d"/>
<polygon points="818.4,671.6 819.6,673.8 820.8,676.1 822,678.3 823.2,680.5 824.3,682.8 825.4,685 826.4,687.1 827.4,689.2 828.5,691.3 829.5,693.4 830.5,695.6 831.3,697.7 831.9,699.8 832.3,701.9 832.5,704 832.4,706 832.1,708 831.6,710 831,712 830.4,714 829.7,716 829,718 828.4,720 827.8,722 827.2,724 826.5,726 825.9,728 825.2,730 824.6,732 824,734 823.4,736 822.9,738 822.5,740 822,742 821.6,744 821.2,746 820.8,748 820.4,750 819.9,752.1 819.4,754.2 818.9,756.4 818.4,758.5 818.4,758.5 817.9,756.4 817.4,754.2 816.9,752.1 816.4,750 816,748 815.6,746 815.2,744 814.8,742 814.3,740 813.9,738 813.4,736 812.8,734 812.2,732 811.6,730 810.9,728 810.3,726 809.6,724 809,722 808.4,720 807.8,718 807.1,716 806.4,714 805.8,712 805.2,710 804.7,708 804.4,706 804.3,704 804.5,701.9 804.9,699.8 805.5,697.7 806.3,695.6 807.3,693.4 808.3,691.3 809.4,689.2 810.4,687.1 811.4,685 812.5,682.8 813.6,680.5 814.8,678.3 816,676.1 817.2,673.8 818.4,671.6" fill="#ea1d2f" stroke="#383b3d" stroke-width="1.6" stroke-linejoin="round"/>
<line x1="818.4" y1="671.6" x2="818.4" y2="758.5" stroke-width="1.3" stroke="#383b3d"/>
<rect x="815.2" y="698" width="6.4" height="25.2" fill="#ea1d2f" stroke="#383b3d" stroke-width="1.3"/>
<line x1="815.2" y1="708.8" x2="821.6" y2="708.8" stroke-width="2.2" stroke="#383b3d"/>
<line x1="818.4" y1="656" x2="818.4" y2="662" stroke-width="6.6" stroke="#383b3d" stroke-linecap="round"/>
<line x1="818.4" y1="762.7" x2="818.4" y2="767" stroke-width="6.6" stroke="#383b3d" stroke-linecap="round"/>
<circle cx="818.4" cy="774" r="3.3" fill="#383b3d"/>
<circle cx="818.4" cy="780.2" r="3.3" fill="#383b3d"/>
<line x1="872.3" y1="628.5" x2="872.3" y2="767" stroke-width="1.3" stroke="#383b3d"/>
<polygon points="872.3,667.4 873.1,669.5 873.9,671.6 874.8,673.7 875.6,675.8 876.4,677.9 877.3,680 878.3,682.1 879.4,684.2 880.5,686.3 881.8,688.4 883,690.5 884.1,692.7 885.2,694.8 886.1,696.9 886.8,699 887.2,701.1 887.4,703.2 887.3,705.3 886.8,707.4 886.2,709.5 885.5,711.6 884.7,713.7 883.8,715.8 883,717.9 882.3,720 881.7,722 881,724 880.4,726 879.7,728 879.1,730 878.4,732 877.9,734 877.3,736 876.8,738 876.4,740 876,742 875.6,744 875.2,746 874.8,748 874.3,750 873.7,752.3 873,754.7 872.3,757 872.3,757 871.6,754.7 870.9,752.3 870.3,750 869.8,748 869.4,746 869,744 868.6,742 868.2,740 867.8,738 867.3,736 866.7,734 866.2,732 865.5,730 864.9,728 864.2,726 863.6,724 862.9,722 862.3,720 861.6,717.9 860.8,715.8 859.9,713.7 859.1,711.6 858.4,709.5 857.8,707.4 857.3,705.3 857.2,703.2 857.4,701.1 857.8,699 858.5,696.9 859.4,694.8 860.5,692.7 861.6,690.5 862.8,688.4 864.1,686.3 865.2,684.2 866.3,682.1 867.3,680 868.2,677.9 869,675.8 869.8,673.7 870.7,671.6 871.5,669.5 872.3,667.4" fill="#3a5ba8" stroke="#383b3d" stroke-width="1.6" stroke-linejoin="round"/>
<line x1="872.3" y1="667.4" x2="872.3" y2="757" stroke-width="1.3" stroke="#383b3d"/>
<rect x="869.1" y="698.2" width="6.4" height="23.6" fill="#3a5ba8" stroke="#383b3d" stroke-width="1.3"/>
<line x1="869.1" y1="708" x2="875.5" y2="708" stroke-width="2.2" stroke="#383b3d"/>
<circle cx="872.3" cy="628.5" r="3.3" fill="#383b3d"/>
<circle cx="872.3" cy="663" r="3.3" fill="#383b3d"/>
<line x1="872.3" y1="758.5" x2="872.3" y2="767" stroke-width="6.6" stroke="#383b3d" stroke-linecap="round"/>
<line x1="926.7" y1="644.3" x2="926.7" y2="785.8" stroke-width="1.3" stroke="#383b3d"/>
<polygon points="926.7,717.8 927.5,720.2 928.3,722.6 929.7,725 931.4,727 933.5,729 935.9,731 938.3,733 940.7,735 943.9,737.2 947.4,739.4 950.4,741.6 951.6,743.8 950.4,745.8 947.4,747.9 943.8,750 940.7,752 938.3,754 935.8,756 933.5,758 931.3,760 929.3,762 927.7,764 927.1,765.5 926.7,767 926.7,767 926.3,765.5 925.7,764 924.1,762 922.1,760 919.9,758 917.6,756 915.1,754 912.7,752 909.6,750 906,747.9 903,745.8 901.8,743.8 903,741.6 906,739.4 909.5,737.2 912.7,735 915.1,733 917.5,731 919.9,729 922,727 923.7,725 925.1,722.6 925.9,720.2 926.7,717.8" fill="#f5a32b" stroke="#383b3d" stroke-width="1.6" stroke-linejoin="round"/>
<line x1="926.7" y1="717.8" x2="926.7" y2="767" stroke-width="1.3" stroke="#383b3d"/>
<rect x="923.5" y="735.4" width="6.4" height="14" fill="#f5a32b" stroke="#383b3d" stroke-width="1.3"/>
<line x1="923.5" y1="742.4" x2="929.9" y2="742.4" stroke-width="2.2" stroke="#383b3d"/>
<circle cx="926.7" cy="644.3" r="3.3" fill="#383b3d"/>
<line x1="926.7" y1="673" x2="926.7" y2="680" stroke-width="6.6" stroke="#383b3d" stroke-linecap="round"/>
<line x1="926.7" y1="690.5" x2="926.7" y2="717.8" stroke-width="6.6" stroke="#383b3d" stroke-linecap="round"/>
<line x1="926.7" y1="766.9" x2="926.7" y2="785.8" stroke-width="6.6" stroke="#383b3d" stroke-linecap="round"/>
<line x1="731.3" y1="621.2" x2="731.3" y2="794.1" stroke-width="1.6" stroke="#000"/>
<line x1="730.5" y1="793.3" x2="959" y2="793.3" stroke-width="1.6" stroke="#000"/>
<line x1="726.3" y1="737.5" x2="731.3" y2="737.5" stroke-width="1.4" stroke="#333"/>
<text x="723.8" y="742.4" font-size="18.5" text-anchor="end">0.02</text>
<line x1="726.3" y1="680.7" x2="731.3" y2="680.7" stroke-width="1.4" stroke="#333"/>
<text x="723.8" y="685.6" font-size="18.5" text-anchor="end">0.04</text>
<line x1="726.3" y1="623.3" x2="731.3" y2="623.3" stroke-width="1.4" stroke="#333"/>
<text x="723.8" y="628.2" font-size="18.5" text-anchor="end">0.06</text>
<line x1="764.2" y1="793.3" x2="764.2" y2="797.8" stroke-width="1.4" stroke="#333"/>
<text x="774.7" y="802" font-size="23.6" text-anchor="end" transform="rotate(-90 774.7 802)">DMSO</text>
<line x1="818.4" y1="793.3" x2="818.4" y2="797.8" stroke-width="1.4" stroke="#333"/>
<text x="828.9" y="802" font-size="23.6" text-anchor="end" transform="rotate(-90 828.9 802)">Enza</text>
<line x1="872.3" y1="793.3" x2="872.3" y2="797.8" stroke-width="1.4" stroke="#333"/>
<text x="882.8" y="802" font-size="23.6" text-anchor="end" transform="rotate(-90 882.8 802)">ARV110</text>
<line x1="926.7" y1="793.3" x2="926.7" y2="797.8" stroke-width="1.4" stroke="#333"/>
<text x="937.2" y="802" font-size="23.6" text-anchor="end" transform="rotate(-90 937.2 802)">SMARCA2_4.1</text>
<text x="1006.5" y="689" font-size="19.5" text-anchor="middle" transform="rotate(-90 1006.5 689)">activity</text>
<text x="1179.5" y="582.6" font-size="23.5" text-anchor="middle">LNCaP</text>
<line x1="1141.6" y1="586" x2="1217.4" y2="586" stroke-width="1.6"/>
<line x1="1101.7" y1="628.5" x2="1101.7" y2="785.8" stroke-width="1.3" stroke="#383b3d"/>
<polygon points="1101.7,680 1102.3,682 1102.9,684 1103.5,686 1104.1,688 1104.7,690 1105.4,692.1 1106.2,694.3 1107,696.4 1107.7,698.6 1108.5,700.7 1109.1,702.9 1109.7,705 1110.2,707 1110.7,709.1 1111.1,711.1 1111.5,713.2 1111.8,715.2 1112.1,717.3 1112.3,719.3 1112.5,721.4 1112.5,723.4 1112.4,725.5 1112,727.6 1111.5,729.7 1110.8,731.7 1110.1,733.8 1109.4,735.9 1108.7,738 1108.1,740 1107.4,742 1106.6,744 1105.9,746 1105.3,748 1104.7,750 1104.2,752.1 1103.8,754.2 1103.4,756.3 1103,758.5 1102.7,760.6 1102.4,762.7 1102.1,764.8 1101.7,766.9 1101.7,766.9 1101.3,764.8 1101,762.7 1100.7,760.6 1100.4,758.5 1100,756.3 1099.6,754.2 1099.2,752.1 1098.7,750 1098.1,748 1097.5,746 1096.8,744 1096,742 1095.3,740 1094.7,738 1094,735.9 1093.3,733.8 1092.6,731.7 1091.9,729.7 1091.4,727.6 1091,725.5 1090.9,723.4 1090.9,721.4 1091.1,719.3 1091.3,717.3 1091.6,715.2 1091.9,713.2 1092.3,711.1 1092.7,709.1 1093.2,707 1093.7,705 1094.3,702.9 1094.9,700.7 1095.7,698.6 1096.4,696.4 1097.2,694.3 1098,692.1 1098.7,690 1099.3,688 1099.9,686 1100.5,684 1101.1,682 1101.7,680" fill="#b4b7b9" stroke="#383b3d" stroke-width="1.6" stroke-linejoin="round"/>
<line x1="1101.7" y1="680" x2="1101.7" y2="766.9" stroke-width="1.3" stroke="#383b3d"/>
<rect x="1098.5" y="710.8" width="6.4" height="23.2" fill="#b4b7b9" stroke="#383b3d" stroke-width="1.3"/>
<line x1="1098.5" y1="722.7" x2="1104.9" y2="722.7" stroke-width="2.2" stroke="#383b3d"/>
<circle cx="1101.7" cy="628.5" r="3.3" fill="#383b3d"/>
<circle cx="1101.7" cy="645" r="3.3" fill="#383b3d"/>
<circle cx="1101.7" cy="654.8" r="3.3" fill="#383b3d"/>
<circle cx="1101.7" cy="664.6" r="3.3" fill="#383b3d"/>
<line x1="1101.7" y1="671.6" x2="1101.7" y2="678.6" stroke-width="6.6" stroke="#383b3d" stroke-linecap="round"/>
<line x1="1101.7" y1="768.3" x2="1101.7" y2="785.8" stroke-width="6.6" stroke="#383b3d" stroke-linecap="round"/>
<line x1="1156.1" y1="685.6" x2="1156.1" y2="785.8" stroke-width="1.3" stroke="#383b3d"/>
<polygon points="1156.1,705 1156.7,707 1157.3,709 1157.8,711 1158.4,713 1159.1,715 1159.9,717.1 1160.7,719.3 1161.6,721.4 1162.4,723.6 1163.3,725.7 1164.2,727.9 1165.1,730 1166.1,732.2 1167.3,734.3 1168.4,736.5 1169.6,738.7 1170.5,740.9 1171.2,743 1171.4,745.2 1170.6,747.7 1168.7,750.1 1166.3,752.5 1164.1,755 1162.3,757.1 1160.6,759.2 1159.1,761.3 1158,763.7 1157.3,766.1 1156.7,768.6 1156.1,771 1156.1,771 1155.5,768.6 1154.9,766.1 1154.2,763.7 1153.1,761.3 1151.6,759.2 1149.9,757.1 1148.1,755 1145.9,752.5 1143.5,750.1 1141.6,747.7 1140.8,745.2 1141,743 1141.7,740.9 1142.6,738.7 1143.8,736.5 1144.9,734.3 1146.1,732.2 1147.1,730 1148,727.9 1148.9,725.7 1149.8,723.6 1150.6,721.4 1151.5,719.3 1152.3,717.1 1153.1,715 1153.8,713 1154.4,711 1154.9,709 1155.5,707 1156.1,705" fill="#ea1d2f" stroke="#383b3d" stroke-width="1.6" stroke-linejoin="round"/>
<line x1="1156.1" y1="705" x2="1156.1" y2="771" stroke-width="1.3" stroke="#383b3d"/>
<rect x="1152.9" y="731.9" width="6.4" height="18.1" fill="#ea1d2f" stroke="#383b3d" stroke-width="1.3"/>
<line x1="1152.9" y1="742" x2="1159.3" y2="742" stroke-width="2.2" stroke="#383b3d"/>
<line x1="1156.1" y1="685.6" x2="1156.1" y2="705" stroke-width="6.6" stroke="#383b3d" stroke-linecap="round"/>
<line x1="1156.1" y1="778" x2="1156.1" y2="785.8" stroke-width="6.6" stroke="#383b3d" stroke-linecap="round"/>
<line x1="1210.3" y1="689.1" x2="1210.3" y2="785.8" stroke-width="1.3" stroke="#383b3d"/>
<polygon points="1210.3,716.4 1211.7,719.2 1213.3,722 1214.7,724.2 1216.2,726.3 1217.8,728.5 1219.3,730.7 1220.9,732.8 1222.3,735 1223.7,737 1225.3,739.1 1226.7,741.1 1227.7,743.2 1228.1,745.2 1227.1,747.7 1224.8,750.1 1222,752.5 1219.3,755 1217.2,757.1 1215.1,759.2 1213.3,761.3 1212,763.5 1211.2,765.8 1210.3,768 1210.3,768 1209.4,765.8 1208.6,763.5 1207.3,761.3 1205.5,759.2 1203.4,757.1 1201.3,755 1198.6,752.5 1195.8,750.1 1193.5,747.7 1192.5,745.2 1192.9,743.2 1193.9,741.1 1195.3,739.1 1196.9,737 1198.3,735 1199.7,732.8 1201.3,730.7 1202.8,728.5 1204.4,726.3 1205.9,724.2 1207.3,722 1208.9,719.2 1210.3,716.4" fill="#3a5ba8" stroke="#383b3d" stroke-width="1.6" stroke-linejoin="round"/>
<line x1="1210.3" y1="716.4" x2="1210.3" y2="768" stroke-width="1.3" stroke="#383b3d"/>
<rect x="1207.1" y="735.4" width="6.4" height="14" fill="#3a5ba8" stroke="#383b3d" stroke-width="1.3"/>
<line x1="1207.1" y1="742.4" x2="1213.5" y2="742.4" stroke-width="2.2" stroke="#383b3d"/>
<line x1="1210.3" y1="689.1" x2="1210.3" y2="716.4" stroke-width="6.6" stroke="#383b3d" stroke-linecap="round"/>
<line x1="1210.3" y1="769.7" x2="1210.3" y2="779.5" stroke-width="6.6" stroke="#383b3d" stroke-linecap="round"/>
<circle cx="1210.3" cy="785.8" r="3.3" fill="#383b3d"/>
<line x1="1264.5" y1="682.1" x2="1264.5" y2="785.8" stroke-width="1.3" stroke="#383b3d"/>
<polygon points="1264.5,738.8 1265.4,740.9 1266.3,742.9 1267.5,745 1269,747 1270.6,749 1272.5,751 1274.4,753 1276.5,755 1279.3,757.1 1282.6,759.2 1285.9,761.3 1288.3,763.4 1289.3,765.5 1286.5,767.7 1280.4,769.8 1274.5,772 1269.4,774.4 1265.5,776.7 1264.7,778.4 1264.5,780 1264.5,780 1264.3,778.4 1263.5,776.7 1259.6,774.4 1254.5,772 1248.6,769.8 1242.5,767.7 1239.7,765.5 1240.7,763.4 1243.1,761.3 1246.4,759.2 1249.7,757.1 1252.5,755 1254.6,753 1256.5,751 1258.4,749 1260,747 1261.5,745 1262.7,742.9 1263.6,740.9 1264.5,738.8" fill="#f5a32b" stroke="#383b3d" stroke-width="1.6" stroke-linejoin="round"/>
<line x1="1264.5" y1="738.8" x2="1264.5" y2="780" stroke-width="1.3" stroke="#383b3d"/>
<rect x="1261.3" y="754.3" width="6.4" height="12.6" fill="#f5a32b" stroke="#383b3d" stroke-width="1.3"/>
<line x1="1261.3" y1="761.3" x2="1267.7" y2="761.3" stroke-width="2.2" stroke="#383b3d"/>
<circle cx="1264.5" cy="682.1" r="3.3" fill="#383b3d"/>
<circle cx="1264.5" cy="700.3" r="3.3" fill="#383b3d"/>
<line x1="1264.5" y1="706.6" x2="1264.5" y2="738.8" stroke-width="6.6" stroke="#383b3d" stroke-linecap="round"/>
<circle cx="1264.5" cy="785.8" r="3.3" fill="#383b3d"/>
<line x1="1069" y1="621.2" x2="1069" y2="794.1" stroke-width="1.6" stroke="#000"/>
<line x1="1068.2" y1="793.3" x2="1296.5" y2="793.3" stroke-width="1.6" stroke="#000"/>
<line x1="1064" y1="785.1" x2="1069" y2="785.1" stroke-width="1.4" stroke="#333"/>
<text x="1061.5" y="790" font-size="18.5" text-anchor="end">0.00</text>
<line x1="1064" y1="745.6" x2="1069" y2="745.6" stroke-width="1.4" stroke="#333"/>
<text x="1061.5" y="750.5" font-size="18.5" text-anchor="end">0.02</text>
<line x1="1064" y1="706.4" x2="1069" y2="706.4" stroke-width="1.4" stroke="#333"/>
<text x="1061.5" y="711.3" font-size="18.5" text-anchor="end">0.04</text>
<line x1="1064" y1="667" x2="1069" y2="667" stroke-width="1.4" stroke="#333"/>
<text x="1061.5" y="671.9" font-size="18.5" text-anchor="end">0.06</text>
<line x1="1064" y1="627.5" x2="1069" y2="627.5" stroke-width="1.4" stroke="#333"/>
<text x="1061.5" y="632.4" font-size="18.5" text-anchor="end">0.08</text>
<line x1="1101.7" y1="793.3" x2="1101.7" y2="797.8" stroke-width="1.4" stroke="#333"/>
<text x="1112.2" y="802" font-size="23.6" text-anchor="end" transform="rotate(-90 1112.2 802)">DMSO</text>
<line x1="1156.1" y1="793.3" x2="1156.1" y2="797.8" stroke-width="1.4" stroke="#333"/>
<text x="1166.6" y="802" font-size="23.6" text-anchor="end" transform="rotate(-90 1166.6 802)">Enza</text>
<line x1="1210.3" y1="793.3" x2="1210.3" y2="797.8" stroke-width="1.4" stroke="#333"/>
<text x="1220.8" y="802" font-size="23.6" text-anchor="end" transform="rotate(-90 1220.8 802)">ARV110</text>
<line x1="1264.5" y1="793.3" x2="1264.5" y2="797.8" stroke-width="1.4" stroke="#333"/>
<text x="1275" y="802" font-size="23.6" text-anchor="end" transform="rotate(-90 1275 802)">SMARCA2_4.1</text>
<text x="1329.5" y="689" font-size="19.5" text-anchor="middle" transform="rotate(-90 1329.5 689)">activity</text>
<text x="1502.9" y="582.6" font-size="23.5" text-anchor="middle">H660</text>
<line x1="1474.8" y1="586" x2="1531" y2="586" stroke-width="1.6"/>
<line x1="1420.3" y1="646.7" x2="1420.3" y2="769.4" stroke-width="1.3" stroke="#383b3d"/>
<polygon points="1420.3,652 1420.8,654.2 1421.3,656.3 1421.7,658.5 1422.2,660.7 1422.7,662.8 1423.3,665 1423.9,667.1 1424.7,669.3 1425.4,671.4 1426.2,673.5 1427,675.7 1427.8,677.8 1428.5,679.9 1429.2,682.1 1429.7,684.2 1430.1,686.7 1430.3,689.1 1430.4,691.5 1430.8,694 1431.4,696.2 1432,698.4 1432.8,700.6 1433.6,702.8 1434.3,705 1435,707 1435.8,709.1 1436.6,711.1 1437.3,713.1 1437.9,715.1 1438.3,717.2 1438.5,719.2 1438.1,721.3 1437.2,723.5 1435.9,725.6 1434.3,727.7 1432.7,729.9 1431.3,732 1429.9,734.2 1428.4,736.4 1426.9,738.6 1425.5,740.8 1424.3,743 1423.5,745 1422.8,747 1422.2,749 1421.8,751 1421.3,753 1420.8,755 1420.3,757 1420.3,757 1419.8,755 1419.3,753 1418.8,751 1418.4,749 1417.8,747 1417.1,745 1416.3,743 1415.1,740.8 1413.7,738.6 1412.2,736.4 1410.7,734.2 1409.3,732 1407.9,729.9 1406.3,727.7 1404.7,725.6 1403.4,723.5 1402.5,721.3 1402.1,719.2 1402.3,717.2 1402.7,715.1 1403.3,713.1 1404,711.1 1404.8,709.1 1405.6,707 1406.3,705 1407,702.8 1407.8,700.6 1408.6,698.4 1409.2,696.2 1409.8,694 1410.2,691.5 1410.3,689.1 1410.5,686.7 1410.9,684.2 1411.4,682.1 1412.1,679.9 1412.8,677.8 1413.6,675.7 1414.4,673.5 1415.2,671.4 1415.9,669.3 1416.7,667.1 1417.3,665 1417.9,662.8 1418.4,660.7 1418.9,658.5 1419.3,656.3 1419.8,654.2 1420.3,652" fill="#b4b7b9" stroke="#383b3d" stroke-width="1.6" stroke-linejoin="round"/>
<line x1="1420.3" y1="652" x2="1420.3" y2="757" stroke-width="1.3" stroke="#383b3d"/>
<rect x="1417.1" y="693.3" width="6.4" height="28.7" fill="#b4b7b9" stroke="#383b3d" stroke-width="1.3"/>
<line x1="1417.1" y1="710.2" x2="1423.5" y2="710.2" stroke-width="2.2" stroke="#383b3d"/>
<circle cx="1420.3" cy="646.7" r="3.3" fill="#383b3d"/>
<circle cx="1420.3" cy="769.4" r="3.3" fill="#383b3d"/>
<line x1="1474.5" y1="627.5" x2="1474.5" y2="771" stroke-width="1.3" stroke="#383b3d"/>
<polygon points="1474.5,660.4 1475.1,662.5 1475.6,664.6 1476.1,666.7 1476.7,668.7 1477.2,670.8 1477.8,672.9 1478.5,675 1479.2,677 1480,679 1480.8,681 1481.6,683 1482.4,685 1483.3,687 1484.1,689 1485,691 1485.8,693 1486.5,695 1487.3,697.1 1488.2,699.3 1489.1,701.4 1490,703.6 1490.9,705.7 1491.7,707.8 1492.4,710 1492.9,712.1 1493.3,714.3 1493.4,716.4 1493.1,718.7 1492.2,720.9 1491,723.2 1489.5,725.5 1488,727.7 1486.5,730 1485.1,732.2 1483.5,734.3 1481.8,736.5 1480.2,738.7 1478.7,740.8 1477.5,743 1476.7,745 1476.1,747 1475.7,749 1475.3,751 1474.9,753 1474.5,755 1474.5,755 1474.1,753 1473.7,751 1473.3,749 1472.9,747 1472.3,745 1471.5,743 1470.3,740.8 1468.8,738.7 1467.2,736.5 1465.5,734.3 1463.9,732.2 1462.5,730 1461,727.7 1459.5,725.5 1458,723.2 1456.8,720.9 1455.9,718.7 1455.6,716.4 1455.7,714.3 1456.1,712.1 1456.6,710 1457.3,707.8 1458.1,705.7 1459,703.6 1459.9,701.4 1460.8,699.3 1461.7,697.1 1462.5,695 1463.2,693 1464,691 1464.9,689 1465.7,687 1466.6,685 1467.4,683 1468.2,681 1469,679 1469.8,677 1470.5,675 1471.2,672.9 1471.8,670.8 1472.3,668.7 1472.9,666.7 1473.4,664.6 1473.9,662.5 1474.5,660.4" fill="#ea1d2f" stroke="#383b3d" stroke-width="1.6" stroke-linejoin="round"/>
<line x1="1474.5" y1="660.4" x2="1474.5" y2="755" stroke-width="1.3" stroke="#383b3d"/>
<rect x="1471.3" y="696.8" width="6.4" height="25.2" fill="#ea1d2f" stroke="#383b3d" stroke-width="1.3"/>
<line x1="1471.3" y1="710.2" x2="1477.7" y2="710.2" stroke-width="2.2" stroke="#383b3d"/>
<circle cx="1474.5" cy="627.5" r="3.3" fill="#383b3d"/>
<circle cx="1474.5" cy="633.8" r="3.3" fill="#383b3d"/>
<line x1="1474.5" y1="647.8" x2="1474.5" y2="660.4" stroke-width="6.6" stroke="#383b3d" stroke-linecap="round"/>
<circle cx="1474.5" cy="761.3" r="3.3" fill="#383b3d"/>
<circle cx="1474.5" cy="771" r="3.3" fill="#383b3d"/>
<line x1="1528.7" y1="646.4" x2="1528.7" y2="766.9" stroke-width="1.3" stroke="#383b3d"/>
<polygon points="1528.7,668.8 1529.3,671 1529.8,673.3 1530.4,675.5 1531,677.8 1531.7,680 1532.5,682 1533.3,684 1534.2,686 1535.1,688 1536.1,690 1537.1,692 1538,694 1539,696 1539.9,698 1540.7,700 1541.6,702.1 1542.5,704.3 1543.5,706.4 1544.5,708.5 1545.4,710.6 1546.3,712.8 1547.1,714.9 1547.7,717 1548.3,719.1 1548.6,721.3 1548.7,723.4 1548.3,725.5 1547.3,727.6 1545.8,729.7 1544,731.7 1542.1,733.8 1540.3,735.9 1538.7,738 1537.2,740.1 1535.7,742.3 1534.2,744.4 1532.9,746.6 1531.7,748.7 1530.7,751 1530,753.4 1529.4,755.7 1528.7,758 1528.7,758 1528,755.7 1527.4,753.4 1526.7,751 1525.7,748.7 1524.5,746.6 1523.2,744.4 1521.7,742.3 1520.2,740.1 1518.7,738 1517.1,735.9 1515.3,733.8 1513.4,731.7 1511.6,729.7 1510.1,727.6 1509.1,725.5 1508.7,723.4 1508.8,721.3 1509.1,719.1 1509.7,717 1510.3,714.9 1511.1,712.8 1512,710.6 1512.9,708.5 1513.9,706.4 1514.9,704.3 1515.8,702.1 1516.7,700 1517.5,698 1518.4,696 1519.4,694 1520.3,692 1521.3,690 1522.3,688 1523.2,686 1524.1,684 1524.9,682 1525.7,680 1526.4,677.8 1527,675.5 1527.6,673.3 1528.1,671 1528.7,668.8" fill="#3a5ba8" stroke="#383b3d" stroke-width="1.6" stroke-linejoin="round"/>
<line x1="1528.7" y1="668.8" x2="1528.7" y2="758" stroke-width="1.3" stroke="#383b3d"/>
<rect x="1525.5" y="702.4" width="6.4" height="24.6" fill="#3a5ba8" stroke="#383b3d" stroke-width="1.3"/>
<line x1="1525.5" y1="716.2" x2="1531.9" y2="716.2" stroke-width="2.2" stroke="#383b3d"/>
<circle cx="1528.7" cy="646.4" r="3.3" fill="#383b3d"/>
<line x1="1528.7" y1="654.8" x2="1528.7" y2="668.8" stroke-width="6.6" stroke="#383b3d" stroke-linecap="round"/>
<line x1="1528.7" y1="762.7" x2="1528.7" y2="766.9" stroke-width="6.6" stroke="#383b3d" stroke-linecap="round"/>
<line x1="1583.1" y1="670.2" x2="1583.1" y2="784.8" stroke-width="1.3" stroke="#383b3d"/>
<polygon points="1583.1,686.3 1584.7,689.1 1586.1,692 1587,694.2 1587.8,696.5 1588.6,698.8 1589.4,701 1590.2,703 1590.9,705 1591.7,707 1592.5,709 1593.4,711 1594.2,713 1595.1,715 1596.1,717 1597.3,719.1 1598.6,721.1 1600,723.2 1601.4,725.2 1602.8,727.3 1604,729.4 1605.2,731.4 1606.2,733.5 1606.9,735.5 1607.4,737.6 1607.6,739.6 1607,741.7 1605.2,743.7 1602.8,745.8 1600.1,747.9 1597.4,749.9 1595.1,752 1593.1,754 1591,756 1589,758 1587.1,760 1585.4,762 1584.1,764 1583.4,766 1583.3,768 1583.1,770 1583.1,770 1582.9,768 1582.8,766 1582.1,764 1580.8,762 1579.1,760 1577.2,758 1575.2,756 1573.1,754 1571.1,752 1568.8,749.9 1566.1,747.9 1563.4,745.8 1561,743.7 1559.2,741.7 1558.6,739.6 1558.8,737.6 1559.3,735.5 1560,733.5 1561,731.4 1562.2,729.4 1563.4,727.3 1564.8,725.2 1566.2,723.2 1567.6,721.1 1568.9,719.1 1570.1,717 1571.1,715 1572,713 1572.8,711 1573.7,709 1574.5,707 1575.3,705 1576,703 1576.8,701 1577.6,698.8 1578.4,696.5 1579.2,694.2 1580.1,692 1581.5,689.1 1583.1,686.3" fill="#f5a32b" stroke="#383b3d" stroke-width="1.6" stroke-linejoin="round"/>
<line x1="1583.1" y1="686.3" x2="1583.1" y2="770" stroke-width="1.3" stroke="#383b3d"/>
<rect x="1579.9" y="721.4" width="6.4" height="23.8" fill="#f5a32b" stroke="#383b3d" stroke-width="1.3"/>
<line x1="1579.9" y1="736.8" x2="1586.3" y2="736.8" stroke-width="2.2" stroke="#383b3d"/>
<line x1="1583.1" y1="670.2" x2="1583.1" y2="686.3" stroke-width="6.6" stroke="#383b3d" stroke-linecap="round"/>
<circle cx="1583.1" cy="784.8" r="3.3" fill="#383b3d"/>
<line x1="1388" y1="620.1" x2="1388" y2="793.2" stroke-width="1.6" stroke="#000"/>
<line x1="1387.2" y1="792.4" x2="1615.3" y2="792.4" stroke-width="1.6" stroke="#000"/>
<line x1="1383" y1="770.4" x2="1388" y2="770.4" stroke-width="1.4" stroke="#333"/>
<text x="1380.5" y="775.3" font-size="18.5" text-anchor="end">0.02</text>
<line x1="1383" y1="738.2" x2="1388" y2="738.2" stroke-width="1.4" stroke="#333"/>
<text x="1380.5" y="743.1" font-size="18.5" text-anchor="end">0.03</text>
<line x1="1383" y1="705.5" x2="1388" y2="705.5" stroke-width="1.4" stroke="#333"/>
<text x="1380.5" y="710.4" font-size="18.5" text-anchor="end">0.04</text>
<line x1="1383" y1="672.6" x2="1388" y2="672.6" stroke-width="1.4" stroke="#333"/>
<text x="1380.5" y="677.5" font-size="18.5" text-anchor="end">0.05</text>
<line x1="1383" y1="639.8" x2="1388" y2="639.8" stroke-width="1.4" stroke="#333"/>
<text x="1380.5" y="644.7" font-size="18.5" text-anchor="end">0.06</text>
<line x1="1420.3" y1="792.4" x2="1420.3" y2="796.9" stroke-width="1.4" stroke="#333"/>
<text x="1430.8" y="802" font-size="23.6" text-anchor="end" transform="rotate(-90 1430.8 802)">DMSO</text>
<line x1="1474.5" y1="792.4" x2="1474.5" y2="796.9" stroke-width="1.4" stroke="#333"/>
<text x="1485" y="802" font-size="23.6" text-anchor="end" transform="rotate(-90 1485 802)">Enza</text>
<line x1="1528.7" y1="792.4" x2="1528.7" y2="796.9" stroke-width="1.4" stroke="#333"/>
<text x="1539.2" y="802" font-size="23.6" text-anchor="end" transform="rotate(-90 1539.2 802)">ARV110</text>
<line x1="1583.1" y1="792.4" x2="1583.1" y2="796.9" stroke-width="1.4" stroke="#333"/>
<text x="1593.6" y="802" font-size="23.6" text-anchor="end" transform="rotate(-90 1593.6 802)">SMARCA2_4.1</text>
<text x="1660" y="689" font-size="19.5" text-anchor="middle" transform="rotate(-90 1660 689)">activity</text>
<text x="1829.4" y="582.6" font-size="23.5" text-anchor="middle">MDA-PCa-2b</text>
<line x1="1759.5" y1="586" x2="1899.3" y2="586" stroke-width="1.6"/>
<line x1="1757.8" y1="639.7" x2="1757.8" y2="778.8" stroke-width="1.3" stroke="#383b3d"/>
<polygon points="1757.8,716.4 1759.3,718.5 1760.7,720.7 1762.2,722.9 1763.8,725 1765.3,727 1767,729 1768.6,731 1770.2,733 1771.8,735 1774,737.5 1776.1,739.9 1777.1,742.4 1776.3,744.8 1774.4,747.2 1772,749.6 1769.8,752 1768.2,754 1766.6,756 1765,758 1763.4,760 1762,762 1760.8,764 1759.7,766.5 1759,769 1758.4,771.4 1757.8,773.9 1757.8,773.9 1757.2,771.4 1756.6,769 1755.9,766.5 1754.8,764 1753.6,762 1752.2,760 1750.6,758 1749,756 1747.4,754 1745.8,752 1743.6,749.6 1741.2,747.2 1739.3,744.8 1738.5,742.4 1739.5,739.9 1741.6,737.5 1743.8,735 1745.4,733 1747,731 1748.6,729 1750.3,727 1751.8,725 1753.4,722.9 1754.9,720.7 1756.3,718.5 1757.8,716.4" fill="#b4b7b9" stroke="#383b3d" stroke-width="1.6" stroke-linejoin="round"/>
<line x1="1757.8" y1="716.4" x2="1757.8" y2="773.9" stroke-width="1.3" stroke="#383b3d"/>
<rect x="1754.6" y="737.7" width="6.4" height="14.5" fill="#b4b7b9" stroke="#383b3d" stroke-width="1.3"/>
<line x1="1754.6" y1="744.5" x2="1761" y2="744.5" stroke-width="2.2" stroke="#383b3d"/>
<circle cx="1757.8" cy="639.7" r="3.3" fill="#383b3d"/>
<line x1="1757.8" y1="661.8" x2="1757.8" y2="684.2" stroke-width="6.6" stroke="#383b3d" stroke-linecap="round"/>
<circle cx="1757.8" cy="691" r="3.3" fill="#383b3d"/>
<line x1="1757.8" y1="701" x2="1757.8" y2="712.2" stroke-width="6.6" stroke="#383b3d" stroke-linecap="round"/>
<circle cx="1757.8" cy="778.8" r="3.3" fill="#383b3d"/>
<line x1="1811.5" y1="644" x2="1811.5" y2="764.8" stroke-width="1.3" stroke="#383b3d"/>
<polygon points="1811.5,718.5 1814.7,720.2 1817.5,722 1819.8,724 1821.6,726 1823.1,728 1824.5,730 1826.1,732.5 1827.4,735 1827.9,737.5 1827.8,740 1827.4,742.5 1826.5,745 1825.4,747 1823.9,749 1822.3,751 1820.8,753 1819.5,755 1818.4,757.5 1817.5,759.9 1816.8,762.3 1816,764.8 1807,764.8 1806.2,762.3 1805.5,759.9 1804.6,757.5 1803.5,755 1802.2,753 1800.7,751 1799.1,749 1797.6,747 1796.5,745 1795.6,742.5 1795.2,740 1795.1,737.5 1795.6,735 1796.9,732.5 1798.5,730 1799.9,728 1801.4,726 1803.2,724 1805.5,722 1808.3,720.2 1811.5,718.5" fill="#ea1d2f" stroke="#383b3d" stroke-width="1.6" stroke-linejoin="round"/>
<line x1="1811.5" y1="718.5" x2="1811.5" y2="764.8" stroke-width="1.3" stroke="#383b3d"/>
<rect x="1808.3" y="735.8" width="6.4" height="15" fill="#ea1d2f" stroke="#383b3d" stroke-width="1.3"/>
<line x1="1808.3" y1="741.7" x2="1814.7" y2="741.7" stroke-width="2.2" stroke="#383b3d"/>
<circle cx="1811.5" cy="644" r="3.3" fill="#383b3d"/>
<circle cx="1811.5" cy="680.5" r="3.3" fill="#383b3d"/>
<line x1="1865.4" y1="624.7" x2="1865.4" y2="770.4" stroke-width="1.3" stroke="#383b3d"/>
<polygon points="1865.4,720.6 1867.4,723 1869.4,725.3 1871.4,727.6 1873.4,730 1875.2,732 1877.2,734 1879.1,736 1880.8,738 1882.4,740 1883.9,742.2 1885.2,744.4 1885.7,746.6 1884.8,748.7 1882.7,750.8 1879.9,752.9 1877.4,755 1875,757.1 1872.4,759.2 1870.4,761.3 1868.9,763.6 1868.4,766 1868.4,768.2 1868.4,770.4 1862.4,770.4 1862.4,768.2 1862.4,766 1861.9,763.6 1860.4,761.3 1858.4,759.2 1855.8,757.1 1853.4,755 1850.9,752.9 1848.1,750.8 1846,748.7 1845.1,746.6 1845.6,744.4 1846.9,742.2 1848.4,740 1850,738 1851.7,736 1853.6,734 1855.6,732 1857.4,730 1859.4,727.6 1861.4,725.3 1863.4,723 1865.4,720.6" fill="#3a5ba8" stroke="#383b3d" stroke-width="1.6" stroke-linejoin="round"/>
<line x1="1865.4" y1="720.6" x2="1865.4" y2="770.4" stroke-width="1.3" stroke="#383b3d"/>
<rect x="1862.2" y="740.3" width="6.4" height="14" fill="#3a5ba8" stroke="#383b3d" stroke-width="1.3"/>
<line x1="1862.2" y1="747" x2="1868.6" y2="747" stroke-width="2.2" stroke="#383b3d"/>
<circle cx="1865.4" cy="624.7" r="3.3" fill="#383b3d"/>
<circle cx="1865.4" cy="653.8" r="3.3" fill="#383b3d"/>
<circle cx="1865.4" cy="673.7" r="3.3" fill="#383b3d"/>
<line x1="1865.4" y1="687" x2="1865.4" y2="691.2" stroke-width="6.6" stroke="#383b3d" stroke-linecap="round"/>
<line x1="1865.4" y1="701" x2="1865.4" y2="716.4" stroke-width="6.6" stroke="#383b3d" stroke-linecap="round"/>
<line x1="1919.2" y1="667.7" x2="1919.2" y2="781.2" stroke-width="1.3" stroke="#383b3d"/>
<polygon points="1919.2,734.7 1921.1,737.1 1923,739.6 1925.2,742 1927.4,744 1929.9,746 1932.5,748 1935,750 1937.2,752 1939.9,754.4 1942.3,756.8 1943.4,759.2 1942,761.4 1938.7,763.6 1934.7,765.8 1931.2,768 1928.4,770.2 1925.7,772.4 1923.2,774.5 1921.2,776.7 1920,778.9 1919.2,781 1919.2,781 1918.4,778.9 1917.2,776.7 1915.2,774.5 1912.7,772.4 1910,770.2 1907.2,768 1903.7,765.8 1899.7,763.6 1896.4,761.4 1895,759.2 1896.1,756.8 1898.5,754.4 1901.2,752 1903.4,750 1905.9,748 1908.5,746 1911,744 1913.2,742 1915.4,739.6 1917.3,737.1 1919.2,734.7" fill="#f5a32b" stroke="#383b3d" stroke-width="1.6" stroke-linejoin="round"/>
<line x1="1919.2" y1="734.7" x2="1919.2" y2="781" stroke-width="1.3" stroke="#383b3d"/>
<rect x="1916" y="752.2" width="6.4" height="11.6" fill="#f5a32b" stroke="#383b3d" stroke-width="1.3"/>
<line x1="1916" y1="757.8" x2="1922.4" y2="757.8" stroke-width="2.2" stroke="#383b3d"/>
<circle cx="1919.2" cy="667.7" r="3.3" fill="#383b3d"/>
<line x1="1919.2" y1="686.3" x2="1919.2" y2="733.3" stroke-width="6.6" stroke="#383b3d" stroke-linecap="round"/>
<circle cx="1919.2" cy="781.2" r="3.3" fill="#383b3d"/>
<line x1="1725.6" y1="617.3" x2="1725.6" y2="790.1" stroke-width="1.6" stroke="#000"/>
<line x1="1724.8" y1="789.3" x2="1951" y2="789.3" stroke-width="1.6" stroke="#000"/>
<line x1="1720.6" y1="777.1" x2="1725.6" y2="777.1" stroke-width="1.4" stroke="#333"/>
<text x="1718.1" y="782" font-size="18.5" text-anchor="end">0.010</text>
<line x1="1720.6" y1="746.8" x2="1725.6" y2="746.8" stroke-width="1.4" stroke="#333"/>
<text x="1718.1" y="751.7" font-size="18.5" text-anchor="end">0.015</text>
<line x1="1720.6" y1="716" x2="1725.6" y2="716" stroke-width="1.4" stroke="#333"/>
<text x="1718.1" y="720.9" font-size="18.5" text-anchor="end">0.020</text>
<line x1="1720.6" y1="685.2" x2="1725.6" y2="685.2" stroke-width="1.4" stroke="#333"/>
<text x="1718.1" y="690.1" font-size="18.5" text-anchor="end">0.025</text>
<line x1="1720.6" y1="654.4" x2="1725.6" y2="654.4" stroke-width="1.4" stroke="#333"/>
<text x="1718.1" y="659.3" font-size="18.5" text-anchor="end">0.030</text>
<line x1="1720.6" y1="623.6" x2="1725.6" y2="623.6" stroke-width="1.4" stroke="#333"/>
<text x="1718.1" y="628.5" font-size="18.5" text-anchor="end">0.035</text>
<line x1="1757.8" y1="789.3" x2="1757.8" y2="793.8" stroke-width="1.4" stroke="#333"/>
<text x="1768.3" y="802" font-size="23.6" text-anchor="end" transform="rotate(-90 1768.3 802)">DMSO</text>
<line x1="1811.5" y1="789.3" x2="1811.5" y2="793.8" stroke-width="1.4" stroke="#333"/>
<text x="1822" y="802" font-size="23.6" text-anchor="end" transform="rotate(-90 1822 802)">Enza</text>
<line x1="1865.4" y1="789.3" x2="1865.4" y2="793.8" stroke-width="1.4" stroke="#333"/>
<text x="1875.9" y="802" font-size="23.6" text-anchor="end" transform="rotate(-90 1875.9 802)">ARV110</text>
<line x1="1919.2" y1="789.3" x2="1919.2" y2="793.8" stroke-width="1.4" stroke="#333"/>
<text x="1929.7" y="802" font-size="23.6" text-anchor="end" transform="rotate(-90 1929.7 802)">SMARCA2_4.1</text>
<text x="7.5" y="1102" font-size="31" font-weight="bold">c</text>
<text x="364.8" y="1161.6" font-size="23.5" text-anchor="middle">MDA-PCa-2b</text>
<line x1="294.9" y1="1165" x2="434.7" y2="1165" stroke-width="1.6"/>
<line x1="372" y1="1207" x2="372" y2="1634.4" stroke-width="1.6" stroke="#b8b8b8" stroke-dasharray="6 5"/>
<line x1="88.6" y1="1207" x2="88.6" y2="1635.4" stroke-width="2.2" stroke="#000"/>
<line x1="87.6" y1="1634.4" x2="567.4" y2="1634.4" stroke-width="2.2" stroke="#000"/>
<line x1="82.1" y1="1225.7" x2="88.6" y2="1225.7" stroke-width="1.6" stroke="#333"/>
<text x="77.1" y="1233.5" font-size="24" text-anchor="end">100</text>
<line x1="82.1" y1="1322.9" x2="88.6" y2="1322.9" stroke-width="1.6" stroke="#333"/>
<text x="77.1" y="1330.7" font-size="24" text-anchor="end">75</text>
<line x1="82.1" y1="1420.1" x2="88.6" y2="1420.1" stroke-width="1.6" stroke="#333"/>
<text x="77.1" y="1427.9" font-size="24" text-anchor="end">50</text>
<line x1="82.1" y1="1517.3" x2="88.6" y2="1517.3" stroke-width="1.6" stroke="#333"/>
<text x="77.1" y="1525.1" font-size="24" text-anchor="end">25</text>
<line x1="82.1" y1="1614.5" x2="88.6" y2="1614.5" stroke-width="1.6" stroke="#333"/>
<text x="77.1" y="1622.3" font-size="24" text-anchor="end">0</text>
<line x1="110.3" y1="1634.4" x2="110.3" y2="1640.9" stroke-width="1.6" stroke="#333"/>
<text x="116.3" y="1661.5" font-size="24" text-anchor="middle">−1.5</text>
<line x1="197.6" y1="1634.4" x2="197.6" y2="1640.9" stroke-width="1.6" stroke="#333"/>
<text x="203.6" y="1661.5" font-size="24" text-anchor="middle">−1.0</text>
<line x1="284.8" y1="1634.4" x2="284.8" y2="1640.9" stroke-width="1.6" stroke="#333"/>
<text x="290.8" y="1661.5" font-size="24" text-anchor="middle">−0.5</text>
<line x1="372" y1="1634.4" x2="372" y2="1640.9" stroke-width="1.6" stroke="#333"/>
<text x="376.5" y="1661.5" font-size="24" text-anchor="middle">0.0</text>
<line x1="459.2" y1="1634.4" x2="459.2" y2="1640.9" stroke-width="1.6" stroke="#333"/>
<text x="463.7" y="1661.5" font-size="24" text-anchor="middle">0.5</text>
<line x1="546.4" y1="1634.4" x2="546.4" y2="1640.9" stroke-width="1.6" stroke="#333"/>
<text x="550.9" y="1661.5" font-size="24" text-anchor="middle">1.0</text>
<path d="M358.5 1612.8h0M321.8 1612h0M333.9 1612.5h0M354.9 1610.8h0M307.8 1613h0M332.8 1612.8h0M306.1 1611.8h0M350.7 1611.2h0M364.6 1613.2h0M307.9 1610.6h0M339.6 1613.3h0M329.6 1611.1h0M332.2 1610.6h0M319.7 1611.8h0M336.7 1611.2h0M320.3 1611.2h0M334.5 1611.4h0M307.3 1613h0M340.5 1612.4h0M317.5 1613.5h0M359.3 1610.9h0M351.7 1609.4h0M364.9 1608.6h0M358.4 1609.3h0M326 1609.1h0M361.6 1609.8h0M338.4 1609.1h0M309.5 1608h0M356.3 1608.5h0M318 1608.9h0M350.5 1609.3h0M330.4 1608.6h0M338.6 1609.6h0M339.4 1608.5h0M337.4 1607.4h0M310 1609.4h0M367.8 1609.1h0M331.5 1607.8h0M338.2 1610.2h0M354.7 1608.9h0M360.2 1608h0M338.9 1610.2h0M336.6 1604.9h0M342.1 1607h0M309 1606.5h0M358.7 1606.8h0M353.8 1606.5h0M340.3 1605.8h0M334.6 1604.3h0M361.7 1605.8h0M320.8 1605.6h0M338.2 1605.2h0M329.8 1605.7h0M346.7 1605.9h0M336.6 1604.2h0M322.7 1604.6h0M344.3 1606.7h0M357.3 1606.5h0M358.4 1604.9h0M360 1606.1h0M313.7 1604.2h0M309.6 1606.4h0M323.9 1604.4h0M330.8 1601.1h0M319.6 1602.5h0M320.2 1601.7h0M353 1602.3h0M329.4 1602.3h0M311.4 1602.1h0M335.4 1601.5h0M316.6 1603.6h0M340.8 1601.5h0M346.6 1603.4h0M311.3 1601h0M318.8 1603.1h0M319.7 1603h0M351 1602.5h0M323.3 1603.8h0M358.2 1602.4h0M323.5 1602.8h0M333.9 1602.6h0M329.4 1602.8h0M313.6 1601.8h0M368.5 1603.5h0M362.4 1598.6h0M367.3 1599.9h0M336.1 1598.5h0M311.7 1600.3h0M313.5 1600.2h0M368.6 1599.4h0M321.5 1600.3h0M369.3 1599.8h0M341.6 1598.8h0M331.9 1598.3h0M351.4 1599h0M322.8 1598h0M351 1598.6h0M341 1598.7h0M363.2 1600.4h0M312.3 1598.3h0M330.8 1600.7h0M357.9 1598.7h0M323.9 1599.7h0M361.2 1600.5h0M331.7 1600.3h0M340.4 1597.5h0M325.8 1596.7h0M317.1 1595h0M365.2 1595.1h0M356.4 1596.3h0M361.2 1595.6h0M332 1595.4h0M362.7 1596.3h0M367.8 1597.2h0M320 1596.2h0M318.2 1594.6h0M316.4 1597.1h0M358.1 1597h0M332 1596.3h0M357.7 1595.6h0M345.4 1595.2h0M316.9 1595.3h0M364.1 1596.2h0M366.1 1595.9h0M328.3 1596.9h0M360.4 1594.5h0M318.3 1591.6h0M363.4 1591.4h0M326.7 1594.3h0M337 1591.6h0M322.6 1592h0M355.4 1591.6h0M364.9 1592.4h0M368.3 1594h0M329.8 1592.1h0M340.2 1591.6h0M350.2 1591.4h0M313.7 1594.2h0M329.9 1593.1h0M338.7 1592.2h0M316.6 1594h0M368.3 1594.2h0M319.4 1591.9h0M348.2 1594.2h0M344 1593.4h0M350.7 1592.1h0M331 1588.8h0M318.5 1588.9h0M368.6 1589.4h0M350.2 1590h0M366.2 1589.3h0M331 1589.1h0M331.6 1590.6h0M363.6 1589h0M332.5 1589.7h0M346.1 1589.9h0M327.6 1588.2h0M327.5 1588.3h0M344.6 1588.3h0M318.1 1590h0M330.1 1590.5h0M341.4 1590.7h0M322.5 1589.6h0M358.1 1588.3h0M366.7 1588.6h0M368.2 1587.4h0M332.2 1585.2h0M342.7 1587.7h0M330.8 1587.6h0M322.6 1587.6h0M316.6 1585.8h0M363.8 1587.3h0M364 1587.4h0M355.3 1587h0M324.5 1586.2h0M323.4 1587h0M351.1 1585.7h0M318.4 1587.8h0M358.7 1586.5h0M344.2 1587.5h0M339.4 1586.1h0M333.2 1585.7h0M316.2 1586.8h0M337.5 1586.6h0M334.1 1582.1h0M322 1582.5h0M359.2 1582.9h0M336.6 1583.5h0M327.7 1581.7h0M343.3 1583.2h0M349.7 1583h0M351.6 1583.9h0M328 1583.2h0M340.7 1582.4h0M337.2 1583.4h0M363.3 1584.5h0M329.9 1583.6h0M317.9 1581.9h0M342.4 1584.3h0M323.8 1584h0M362 1582.6h0M352 1584.2h0M351.9 1580.7h0M346.4 1581.1h0M362 1581.4h0M345.2 1579h0M328.7 1579.2h0M345.1 1580.8h0M318.5 1580.5h0M352.7 1579.5h0M342.3 1579h0M353.4 1578.6h0M366.3 1580.9h0M348.2 1579.3h0M362.8 1581.4h0M323 1580.8h0M359.2 1580.5h0M351.9 1579.8h0M363.4 1581.4h0M335.5 1580.9h0M324.6 1576.3h0M322.6 1578h0M364.3 1575.7h0M346.4 1576.5h0M322.2 1576.2h0M328.7 1577.5h0M316.5 1575.9h0M338.3 1575.4h0M347.7 1577.1h0M358.1 1575.9h0M330.6 1576.9h0M330 1577.1h0M328.9 1577.4h0M355.9 1577.7h0M365.1 1576.9h0M340.9 1577.9h0M354.8 1577h0M330.6 1572.4h0M356.1 1572.5h0M353.2 1573.7h0M363.8 1574.4h0M364.2 1572.5h0M341.1 1573.8h0M331.9 1573.6h0M334.1 1573.7h0M316.8 1573.4h0M338.7 1573h0M336.2 1574.4h0M350 1573.6h0M348.3 1573.2h0M326.7 1572.1h0M330.3 1573.9h0M359.7 1574.6h0M341.6 1575.1h0M356.7 1570.1h0M352.4 1571.9h0M331.4 1569.4h0M346.5 1570.5h0M334 1568.9h0M335.4 1570.2h0M336.2 1571.5h0M344.8 1571.1h0M359.8 1571.1h0M340.4 1571.1h0M347.4 1570.8h0M346.9 1570.1h0M346.9 1570.8h0M361.6 1571.2h0M357.3 1571.2h0M355.8 1570.7h0M333.5 1569.7h0M358 1567.3h0M323.6 1568.2h0M339.4 1567.1h0M318.5 1567.2h0M351.8 1567h0M333.2 1567.7h0M317.3 1567.2h0M361.4 1567.8h0M335.5 1567.8h0M345.1 1566.3h0M326.2 1568.4h0M329.1 1565.9h0M355.9 1567.3h0M333.9 1567.2h0M351.4 1566.2h0M347.4 1567.8h0M355.2 1566.5h0M326.9 1564.2h0M324 1564.9h0M357 1563.5h0M326.4 1565.4h0M349.4 1565h0M317.3 1565.2h0M345.4 1563.4h0M336.3 1564.8h0M353.1 1563.1h0M345.5 1563h0M362 1563.8h0M359.2 1564.7h0M344.6 1563.3h0M340.8 1562.9h0M322.4 1564.6h0M333 1564.8h0M327.3 1564.7h0M329.8 1559.6h0M334.1 1560.8h0M320.1 1559.9h0M318 1561.1h0M357.4 1559.9h0M317 1561.4h0M353.9 1562.2h0M344.3 1560.3h0M354.9 1559.7h0M348.1 1559.6h0M334.3 1560.8h0M333.2 1559.8h0M326.3 1561.8h0M337.2 1561h0M325.4 1561.4h0M331 1561.1h0M358.3 1562.3h0M352.4 1558.7h0M330 1557.2h0M342.2 1558.9h0M333.8 1558.7h0M350.6 1556.6h0M357.9 1556.1h0M321.8 1558.1h0M317.7 1557.2h0M321.1 1557.5h0M354.4 1558.8h0M316.6 1556.3h0M354.5 1556.2h0M327.8 1556.5h0M319.2 1556.2h0M344.9 1558.3h0M347.2 1558.6h0M333 1554.8h0M360.1 1554.8h0M326.1 1553.1h0M358.5 1554.7h0M331.1 1554.7h0M340.9 1554.5h0M317.6 1554h0M334 1553.5h0M355.9 1554.2h0M345.7 1555h0M349.5 1555.1h0M349.9 1553.7h0M360.4 1553.4h0M357.7 1555.5h0M354.6 1553.1h0M319 1555.3h0M336.7 1554h0M316.4 1551.3h0M335.1 1550.1h0M332.9 1551.8h0M355.6 1549.8h0M338.9 1550h0M351.7 1550h0M316.1 1550.9h0M348.6 1550.6h0M351.1 1548.9h0M353.9 1547.4h0M333.9 1547.2h0M340.1 1547.5h0M330 1548.9h0M358.5 1548.3h0M319.1 1548.5h0M359.6 1545.5h0M352.5 1545.4h0M338.7 1546h0M352.4 1544.2h0M321.3 1544.4h0M338.1 1543.6h0M330 1545h0M351.4 1542.1h0M329.1 1541h0M330.9 1541.1h0M348.5 1541.6h0M338.6 1540.5h0M355.9 1541.1h0M329.8 1540.3h0M337.1 1539.6h0M356.1 1539.8h0M351.4 1539.7h0M355.9 1539.3h0M322.5 1538.5h0M341.2 1539.9h0M350 1539h0M333 1536.5h0M344.4 1534.9h0M337.1 1536.6h0M339.9 1534.2h0M324.4 1535.8h0M341.1 1536.4h0M325.8 1534.9h0M321.9 1530.8h0M340.9 1531.3h0M324.1 1531.3h0M344.2 1532.1h0M323 1530.7h0M352.6 1532.4h0M352.5 1527.4h0M334.6 1529.8h0M347 1528.2h0M353.6 1529.1h0M352.6 1530h0M345.1 1525.7h0M354.2 1526.5h0M346.8 1526.5h0M356.1 1524.9h0M329.1 1526.3h0M339.4 1522.4h0M335.9 1523.5h0M348.3 1522.7h0M324.4 1523.5h0M337.6 1521.5h0M344.3 1517.7h0M327.6 1518.6h0M350.1 1519.9h0M339.7 1516.2h0M339.9 1516.1h0M339.6 1517h0M335.7 1513.2h0M332.9 1512.2h0M338.3 1513.1h0M350.9 1508.6h0M341.6 1511.1h0M344.3 1509.8h0M334.8 1507.7h0M348.4 1506.9h0M348.5 1507.7h0M333.9 1503.1h0M345.4 1502.8h0M344.1 1503.1h0M335.9 1498.8h0M333.2 1499.7h0M324.2 1499h0M346.2 1497.1h0M331.9 1498.3h0M337.7 1494.3h0M341.8 1493.4h0M337.2 1491h0M337.3 1491.8h0M342.1 1489.2h0" stroke="#7b7f81" stroke-width="8.8" stroke-linecap="round"/>
<path d="M243.4 1611h0M268 1611h0M276 1608h0M287 1611h0M297.5 1611h0M380 1611h0M385.3 1599.4h0M389 1603h0M399.3 1611h0M409 1611h0M436 1611h0M444.8 1611h0M454.6 1611h0M264.4 1564.4h0M271 1568h0M268 1595.2h0M298.4 1540.5h0M304.7 1556.7h0M301.2 1521.6h0M313.5 1521.6h0M320.5 1517h0M311.7 1564h0M305 1605h0M300 1608h0M292 1611h0M315.2 1490.8h0M340.5 1482.8h0M345 1494.3h0M348.5 1507.6h0M347.5 1521.6h0M354.5 1533h0M357.3 1540.5h0M363 1580h0M366 1595h0M368 1603h0M372 1600h0M376 1605h0" stroke="#7b7f81" stroke-width="8.8" stroke-linecap="round"/>
<path d="M325.7 1358.4h0M327.5 1385.7h0M331 1393.4h0M329.2 1412.7h0M335.5 1440h0M334.5 1467h0M331 1471h0M327.5 1476.8h0M324 1479h0" stroke="#e3262e" stroke-width="9" stroke-linecap="round"/>
<text x="345" y="1349" font-size="20.8" text-anchor="middle">AR</text>
<text x="281.5" y="1378.7" font-size="20.8" text-anchor="middle">FOXA1</text>
<text x="372.7" y="1405" font-size="20.8" text-anchor="middle">EP300</text>
<text x="267.1" y="1408.5" font-size="20.8" text-anchor="middle">RAD21</text>
<text x="300.4" y="1437.6" font-size="20.8" text-anchor="middle">BRD4</text>
<text x="411.9" y="1434.8" font-size="20.8" text-anchor="middle">SMARCA4</text>
<text x="378.2" y="1463.5" font-size="20.8" text-anchor="middle">FOXP1</text>
<text x="282.2" y="1468" font-size="20.8" text-anchor="middle">ARID1A</text>
<text x="387.4" y="1493.6" font-size="20.8" text-anchor="middle">TCF12</text>
<text x="269.9" y="1497.8" font-size="20.8" text-anchor="middle">KMT2C</text>
<line x1="305.8" y1="1401.5" x2="327.5" y2="1411.3" stroke-width="1.8" stroke="#000"/>
<line x1="355.5" y1="1429.5" x2="335.2" y2="1464.6" stroke-width="1.8" stroke="#000"/>
<line x1="335.5" y1="1471.5" x2="350.3" y2="1482.8" stroke-width="1.8" stroke="#000"/>
<line x1="310.7" y1="1487.3" x2="324" y2="1478.6" stroke-width="1.8" stroke="#000"/>
<text x="335.4" y="1700.5" font-size="23.5" text-anchor="middle">logFC in activity with respect to DMSO</text>
<text x="17.5" y="1408.5" font-size="23.5" text-anchor="middle" transform="rotate(-90 17.5 1408.5)">Altered regulon size</text>
<text x="7.5" y="1804.5" font-size="31" font-weight="bold">f</text>
<text x="329.8" y="1859.8" font-size="23.5" text-anchor="middle">DU145</text>
<line x1="293.2" y1="1863" x2="366.4" y2="1863" stroke-width="1.6"/>
<line x1="372.7" y1="1938.6" x2="372.7" y2="2364.9" stroke-width="1.6" stroke="#b8b8b8" stroke-dasharray="6 5"/>
<line x1="89.3" y1="1938.6" x2="89.3" y2="2365.9" stroke-width="2.2" stroke="#000"/>
<line x1="88.3" y1="2364.9" x2="568" y2="2364.9" stroke-width="2.2" stroke="#000"/>
<line x1="82.8" y1="1956.8" x2="89.3" y2="1956.8" stroke-width="1.6" stroke="#333"/>
<text x="77.8" y="1964.6" font-size="24" text-anchor="end">500</text>
<line x1="82.8" y1="2034.6" x2="89.3" y2="2034.6" stroke-width="1.6" stroke="#333"/>
<text x="77.8" y="2042.4" font-size="24" text-anchor="end">400</text>
<line x1="82.8" y1="2112.3" x2="89.3" y2="2112.3" stroke-width="1.6" stroke="#333"/>
<text x="77.8" y="2120.1" font-size="24" text-anchor="end">300</text>
<line x1="82.8" y1="2190.1" x2="89.3" y2="2190.1" stroke-width="1.6" stroke="#333"/>
<text x="77.8" y="2197.9" font-size="24" text-anchor="end">200</text>
<line x1="82.8" y1="2267.8" x2="89.3" y2="2267.8" stroke-width="1.6" stroke="#333"/>
<text x="77.8" y="2275.6" font-size="24" text-anchor="end">100</text>
<line x1="82.8" y1="2345.6" x2="89.3" y2="2345.6" stroke-width="1.6" stroke="#333"/>
<text x="77.8" y="2353.4" font-size="24" text-anchor="end">0</text>
<line x1="111.2" y1="2364.9" x2="111.2" y2="2371.4" stroke-width="1.6" stroke="#333"/>
<text x="117.2" y="2395.5" font-size="24" text-anchor="middle">−1.5</text>
<line x1="198.4" y1="2364.9" x2="198.4" y2="2371.4" stroke-width="1.6" stroke="#333"/>
<text x="204.4" y="2395.5" font-size="24" text-anchor="middle">−1.0</text>
<line x1="285.5" y1="2364.9" x2="285.5" y2="2371.4" stroke-width="1.6" stroke="#333"/>
<text x="291.5" y="2395.5" font-size="24" text-anchor="middle">−0.5</text>
<line x1="372.7" y1="2364.9" x2="372.7" y2="2371.4" stroke-width="1.6" stroke="#333"/>
<text x="377.2" y="2395.5" font-size="24" text-anchor="middle">0.0</text>
<line x1="459.9" y1="2364.9" x2="459.9" y2="2371.4" stroke-width="1.6" stroke="#333"/>
<text x="464.4" y="2395.5" font-size="24" text-anchor="middle">0.5</text>
<line x1="547" y1="2364.9" x2="547" y2="2371.4" stroke-width="1.6" stroke="#333"/>
<text x="551.5" y="2395.5" font-size="24" text-anchor="middle">1.0</text>
<path d="M347.8 2341.7h0M179.6 2344h0M306.5 2343.5h0M223.1 2343.3h0M281.3 2343.2h0M193.9 2342.8h0M239.7 2343.7h0M357 2344.3h0M269.1 2342.8h0M215.3 2341.6h0M168.4 2342.9h0M225.1 2342.6h0M336.9 2343.1h0M272.3 2342.2h0M167.7 2342.5h0M189.7 2343h0M357.7 2343.5h0M198.5 2344.2h0M318.4 2343.7h0M339.8 2343.8h0M317 2342.6h0M354.3 2344.4h0M194.4 2343.8h0M302.5 2342.9h0M266.4 2343h0M343.3 2343h0M325.1 2342.6h0M335.2 2344.2h0M252.9 2343.2h0M342.5 2343.7h0M257.9 2342.2h0M226.3 2343.6h0M195.4 2344.2h0M215.3 2344.2h0M223.4 2344.4h0M300.7 2343h0M264 2343.5h0M277.6 2342.4h0M203.5 2343h0M345.2 2343.4h0M177.7 2344h0M304.6 2344.2h0M200.3 2343.7h0M174.5 2343.5h0M216.3 2342.2h0M333.7 2341.8h0M264.9 2344.1h0M210.7 2342.1h0M334.7 2342.8h0M302.8 2341.6h0M233.7 2342h0M294.2 2341.7h0M349.1 2341.6h0M305.2 2341.6h0M212.9 2343.9h0M193.6 2342.1h0M297.8 2342.7h0M171.4 2344.5h0M192.5 2341.6h0M279.6 2340.5h0M186.7 2339.3h0M171.5 2339.6h0M307.5 2340.5h0M332.7 2340.6h0M325.4 2340.4h0M253.3 2339h0M288.1 2339.2h0M184.7 2339.6h0M327.6 2338.7h0M274 2339.5h0M261 2338.7h0M343.4 2339.1h0M277.9 2339.6h0M169.1 2340h0M191.8 2338.5h0M172 2338.8h0M183.5 2340.2h0M259.8 2341.3h0M338.6 2341.3h0M208.8 2339.6h0M212.2 2340.1h0M281.3 2340.7h0M297.1 2339.1h0M244.1 2339.9h0M166.7 2338.4h0M241.4 2338.6h0M299.7 2339h0M184.3 2338.8h0M208.6 2339h0M262.1 2339.7h0M223.1 2340.2h0M205.1 2341h0M344 2340.5h0M246 2339.8h0M273.3 2338.5h0M243.1 2339.9h0M199.3 2338.6h0M314.3 2339.4h0M261.9 2341.1h0M278.7 2339.2h0M347.8 2339.4h0M169.3 2340.4h0M184.5 2339.2h0M321.3 2340.3h0M168.7 2339.7h0M241.8 2339.8h0M204.3 2340.1h0M179.5 2339.2h0M234.8 2341.1h0M180 2340.6h0M201.4 2340h0M238.3 2339.7h0M305.2 2339.5h0M188.3 2338.7h0M317.4 2337h0M336.5 2337.2h0M172.9 2337.1h0M304.6 2337.3h0M255.7 2336.2h0M248.6 2337.5h0M215.7 2336.7h0M252.2 2338h0M309.4 2337.9h0M314.9 2336h0M209.1 2336.6h0M214 2336.4h0M287.4 2337.9h0M271.1 2337.6h0M185.4 2336.2h0M343.2 2335.5h0M241.5 2335.3h0M183.7 2337.8h0M341.6 2337h0M191.1 2336h0M209.1 2337.1h0M287.8 2336.4h0M260.3 2335.4h0M263.3 2337.9h0M300.9 2335.4h0M259 2337.2h0M213.6 2337.8h0M249.3 2337.2h0M239.3 2338.1h0M305.6 2336.8h0M193.9 2336.4h0M173.7 2336.9h0M322.9 2335.6h0M257.9 2336.5h0M239.5 2337.2h0M332.5 2337.2h0M251.3 2338h0M226.5 2337.3h0M283.8 2337.4h0M317.7 2335.8h0M277.3 2336.3h0M285.3 2338h0M279.7 2335.1h0M249.9 2337.2h0M323.2 2337.1h0M311.4 2335.2h0M333.7 2337.3h0M274.7 2337.8h0M323.4 2335.4h0M311.3 2337.4h0M203.5 2337.3h0M271.2 2335.7h0M194.2 2333.7h0M243.4 2332.7h0M265.3 2333.3h0M205.3 2334.8h0M183.4 2331.9h0M251.9 2334.4h0M280.6 2334.2h0M251.8 2333.9h0M226.9 2332.7h0M254.8 2332h0M184.5 2334.2h0M200.1 2334.2h0M301.5 2333.1h0M283.4 2334.3h0M314.8 2332.3h0M198.3 2333h0M248.4 2332.8h0M173 2333.6h0M331.8 2333h0M260.6 2333h0M244.8 2334.5h0M222.5 2333.8h0M251.6 2333.5h0M323.2 2332.1h0M308.2 2332.8h0M278.6 2334.3h0M279.8 2333.1h0M310.9 2332.2h0M276.4 2333.1h0M259.4 2334.5h0M303.8 2333.8h0M222.4 2332.6h0M247.3 2332.6h0M217.4 2334.8h0M189.9 2334.4h0M234.2 2333h0M224.1 2332.1h0M247.2 2332.4h0M244.7 2332.8h0M319.8 2334.7h0M244.7 2333.8h0M325.7 2332.9h0M187.8 2332.6h0M202.8 2333.9h0M233.3 2333h0M303.3 2332.6h0M305.5 2333.8h0M237.7 2334.4h0M228.1 2334.5h0M325 2333.4h0M323.9 2330.9h0M292.6 2331.3h0M321.8 2331h0M328.7 2329.6h0M272.3 2330.7h0M232 2329.9h0M201.5 2331.6h0M229.8 2330.1h0M315.2 2329.3h0M325.8 2329.1h0M178.3 2329.8h0M230.6 2331.5h0M313.5 2331h0M242.9 2330.3h0M211.3 2331.2h0M235.5 2329.6h0M274.7 2329.2h0M223.9 2331.5h0M188.9 2329.1h0M206.2 2329.5h0M240.3 2329.5h0M228 2329.4h0M211.8 2330.5h0M227.1 2329.8h0M295.3 2328.9h0M196.6 2331.3h0M241.8 2331h0M194.8 2330.3h0M307.5 2329.7h0M295.3 2330.5h0M236.2 2331.7h0M235.9 2330.1h0M271.8 2329.7h0M306.3 2330.5h0M266.8 2330.3h0M329.6 2331.7h0M306.8 2330.1h0M239 2330.3h0M181.1 2329h0M331.2 2329.1h0M322.1 2330.7h0M318.6 2328.9h0M222.2 2331.1h0M175.2 2329h0M229.3 2329.2h0M197.1 2330.7h0M188.4 2331.6h0M276.5 2328.8h0M212.7 2326.9h0M260.4 2325.9h0M251.9 2325.7h0M206.4 2328.3h0M299.9 2327.1h0M278.9 2328.1h0M197.4 2327h0M196.2 2325.8h0M192.7 2326.1h0M184.4 2326.1h0M233.4 2327.4h0M305.4 2328.2h0M284.2 2327h0M314.2 2326h0M192.2 2328h0M270.6 2326.1h0M233.1 2326.4h0M241.1 2326.8h0M236.2 2327.9h0M298.3 2327.2h0M247.4 2326.4h0M291.4 2328.5h0M210.8 2327.6h0M281.4 2327.5h0M181 2327.2h0M206.8 2326.1h0M263.5 2327.4h0M270.4 2327.7h0M282 2326.9h0M183.6 2327.8h0M300.1 2328h0M266.3 2325.6h0M205.8 2325.8h0M271.9 2327.1h0M204.4 2328.4h0M323.4 2328.2h0M246.1 2326.4h0M207.8 2328h0M281.7 2326.3h0M312 2327.2h0M238.4 2326.7h0M284.7 2326.9h0M275.5 2325.9h0M281.9 2326.3h0M313.2 2326.1h0M255.6 2323.5h0M253.8 2325.1h0M207.6 2324.6h0M277.7 2324.7h0M242.7 2323.7h0M228.2 2323.7h0M215.2 2322.9h0M246.7 2322.9h0M245.8 2324h0M223 2322.8h0M265.1 2324.9h0M210.6 2324.1h0M272.7 2325h0M276.1 2323.2h0M208.5 2324.8h0M221.6 2322.3h0M302.9 2322.9h0M223.5 2323.3h0M215.4 2324.5h0M227.8 2323.6h0M238.7 2324.8h0M181.6 2324h0M197.7 2322.8h0M265.4 2323.4h0M188.2 2324.1h0M309.1 2324.2h0M249.5 2324.7h0M309.4 2322.8h0M221.6 2325.2h0M310.8 2322.9h0M279.1 2324.9h0M263.1 2324.4h0M253.6 2323h0M209.3 2322.5h0M273.7 2322.7h0M267.4 2323.5h0M241.1 2325.2h0M234.7 2323.7h0M233.1 2322.9h0M210.9 2323.9h0M295.3 2322.6h0M313.6 2324.3h0M186.6 2324.4h0M250.7 2319.4h0M250.1 2320.7h0M286.7 2320.8h0M276.3 2321.3h0M211.3 2319.2h0M245.9 2319.5h0M200.6 2320.1h0M253.8 2320.9h0M268.4 2321.9h0M195.2 2320.8h0M193.2 2321.1h0M240.3 2319.5h0M223.3 2321.1h0M245.2 2321.9h0M229.3 2320.1h0M305.6 2320.9h0M195.9 2321.5h0M230.4 2321.9h0M267 2321.5h0M302 2320.6h0M311.6 2319.2h0M227.3 2321.6h0M182.6 2321.1h0M315.9 2321.2h0M297.5 2319.3h0M254.2 2320.9h0M240.1 2320.4h0M287.8 2319.6h0M187.6 2320.9h0M311.5 2321.6h0M272 2320h0M303.1 2319.2h0M214.7 2321.5h0M301.8 2320.3h0M303.8 2319.4h0M261.8 2319.3h0M212.9 2319.7h0M182.4 2320.3h0M248.8 2319.9h0M269.2 2319.3h0M251.4 2317.1h0M301.4 2316.3h0M238.4 2317.3h0M231.4 2318.8h0M257.1 2317.4h0M240.1 2317.2h0M306.1 2318.3h0M266.9 2316.4h0M260.1 2316.3h0M228.6 2316h0M274.3 2318.8h0M265.6 2317.6h0M215.6 2317.2h0M243.3 2317.2h0M218.1 2316.6h0M280.2 2318.8h0M289.3 2317.8h0M186.9 2316.8h0M291.7 2318.8h0M254 2317.6h0M271.9 2316.6h0M275.2 2317h0M292.7 2317.3h0M268.9 2317.6h0M252.3 2317.3h0M306.2 2318.2h0M237.5 2317.4h0M299.2 2318.1h0M267.6 2318.8h0M198.4 2317.7h0M263.9 2317.3h0M307.6 2318.8h0M233.7 2317.7h0M282.2 2318h0M230.1 2318.3h0M228.3 2316.3h0M269.1 2317.8h0M236 2317.4h0M310.8 2318.3h0M298.2 2314.4h0M235.2 2314.6h0M282.3 2315.4h0M268.2 2314.7h0M234.7 2312.8h0M241.4 2313h0M302 2313.8h0M260.1 2314.9h0M207.1 2315.2h0M225.4 2312.9h0M259.5 2313.9h0M299.1 2314h0M196.6 2312.8h0M188.7 2314.2h0M273.7 2312.9h0M225.9 2314.1h0M296.5 2315.6h0M293.7 2314.6h0M256.4 2313.4h0M261 2313.2h0M222.6 2315.2h0M255.5 2314.9h0M242.7 2313.5h0M247.5 2314.4h0M214.9 2315.2h0M306.9 2313.2h0M215 2315.1h0M274.6 2313.4h0M257.7 2313.4h0M292.1 2314.5h0M248.4 2313.2h0M235.3 2314.1h0M229.9 2313.2h0M209.5 2314.8h0M299.9 2315.2h0M261.4 2315.1h0M201.5 2313.3h0M186.7 2309.8h0M279.6 2310.1h0M208.6 2310.7h0M286.5 2309.5h0M291.4 2310.4h0M254.7 2310.9h0M201 2312.4h0M207.5 2311.9h0M291.5 2310.9h0M301.2 2309.7h0M204.2 2311h0M195.4 2311.9h0M249.4 2311.9h0M220.7 2309.6h0M292.9 2310.1h0M236.3 2309.9h0M256.6 2310.9h0M210.2 2309.6h0M226.9 2311.9h0M204.9 2310.2h0M260.4 2311.4h0M282.6 2311.4h0M288.1 2310h0M296.7 2309.6h0M200.7 2309.8h0M279.1 2311h0M296.6 2312.4h0M300.3 2311.3h0M228.5 2312.4h0M274 2310.1h0M252.6 2309.6h0M188.6 2311.4h0M272.5 2312.1h0M276.5 2309.9h0M274.7 2312.4h0M267.4 2310.9h0M195.4 2308.2h0M298.4 2306.6h0M282.3 2309h0M228.5 2308.8h0M206 2307.2h0M253.1 2308.9h0M249.6 2306.6h0M294.8 2308h0M277.4 2307h0M226.5 2306.6h0M209.5 2307.6h0M235.2 2308.3h0M283.7 2307.3h0M294.3 2308.3h0M227.7 2306.9h0M297.8 2308.3h0M193 2308.4h0M231.5 2307.6h0M275.9 2307h0M218.9 2307.9h0M291.9 2306.6h0M283.8 2308.5h0M208.4 2308.3h0M259.3 2308.4h0M249.7 2307.2h0M245.7 2307h0M240.3 2307.5h0M200.3 2307h0M227.6 2307.5h0M252.7 2308.5h0M217.8 2308h0M226.8 2307h0M204.1 2309.2h0M295 2308.8h0M206.3 2303.4h0M222.7 2304.4h0M190.5 2304.4h0M265.4 2305.6h0M210.6 2303.1h0M277.1 2304.2h0M224.2 2303.6h0M219.2 2303.9h0M217.9 2303.8h0M246.6 2305.5h0M223.7 2304.3h0M242.8 2305.6h0M273.9 2306.1h0M208.7 2305.5h0M222.1 2304.8h0M247.6 2304.8h0M225.1 2303.3h0M190.6 2305.9h0M287.1 2304.5h0M199.6 2305.6h0M244.8 2304.5h0M259.9 2303.6h0M213.7 2305.5h0M270.4 2306.1h0M237.3 2306h0M287.4 2304.6h0M287.7 2303.6h0M197.4 2305.5h0M205.2 2304.6h0M270.7 2305.1h0M213.9 2305.5h0M194.4 2304.8h0M288.4 2304.7h0M296.1 2302.1h0M274.5 2302.6h0M289.6 2301.6h0M277.9 2301.4h0M218.1 2300.7h0M218.8 2300h0M256.5 2301.1h0M287 2300.1h0M273.6 2300.5h0M225.3 2300.8h0M291.9 2301.8h0M240.4 2300.5h0M196.3 2301h0M293.7 2301.2h0M262.3 2302.5h0M196.3 2300.9h0M235.2 2300.6h0M231.6 2301.9h0M205.5 2302h0M222.5 2301.9h0M209.6 2302.3h0M235.4 2302.4h0M293 2301.6h0M193.5 2301h0M293.9 2301.9h0M271 2301.3h0M290.1 2302.6h0M255.7 2301.7h0M202.1 2299.9h0M212.9 2302.1h0M280.3 2302.2h0M196 2296.8h0M218.6 2296.8h0M251.8 2299.5h0M283.2 2297h0M259.6 2298.7h0M258.9 2297.9h0M216.7 2299.4h0M283.7 2298.8h0M247.5 2296.8h0M220.7 2297.4h0M217.3 2297.3h0M260 2298.7h0M210.6 2299.4h0M193 2299.6h0M251.5 2298.6h0M221.2 2298.8h0M280.9 2297.3h0M270 2294.2h0M204.8 2295h0M212.5 2294.1h0M221.8 2293.8h0M273 2295.2h0M257.2 2294.4h0M268.8 2296.4h0M290.3 2293.6h0M224.4 2293.8h0M240.1 2295.5h0M252.9 2294.6h0M286.9 2295.4h0M290 2294.8h0M256.4 2293.8h0M245.9 2295.4h0M253.2 2290.7h0M238.4 2292.1h0M240 2290.8h0M213.7 2291.4h0M255.7 2291.6h0M214.6 2291.3h0M224.4 2290.7h0M250 2291.7h0M226 2290.3h0M279.5 2290.4h0M206.8 2291.2h0M268.2 2293.1h0M265.4 2290.9h0M272.7 2290.4h0M206.6 2290.6h0M249.3 2289h0M279.9 2289.4h0M262.3 2287.6h0M276.6 2289.9h0M269.5 2287.3h0M259.7 2288.7h0M244.4 2287.9h0M264.8 2289.5h0M264.5 2288h0M261.6 2287.4h0M256.8 2287.2h0M198.6 2287.4h0M254.4 2290.1h0M238.4 2289h0M268.4 2286.8h0M266.5 2284.9h0M205.7 2286.6h0M222.5 2286.2h0M270.4 2284.4h0M215.6 2285.2h0M268.7 2286.5h0M280.8 2284.7h0M250.6 2286.5h0M230.5 2285.7h0M218.1 2286.5h0M235.9 2285.4h0M253.3 2284.9h0M266.1 2285.3h0M258.1 2282.7h0M256.8 2283.3h0M264.7 2281.9h0M251.6 2283.3h0M205.2 2282.7h0M242.5 2281.9h0M210.2 2281.6h0M260 2283.4h0M278.7 2283h0M270.3 2283.2h0M213.8 2282.8h0M269.4 2283h0M222.7 2282.8h0M234.9 2279.7h0M253.5 2277.9h0M250.8 2277.7h0M217.6 2280h0M271.6 2278.3h0M260.3 2278h0M239.9 2278.5h0M208.2 2278.8h0M244 2280.1h0M209.7 2278.4h0M202.1 2278.1h0M222.2 2280h0M273.6 2278.1h0M241.6 2275.8h0M273.8 2277.2h0M205.6 2275.5h0M241.9 2276.2h0M242.1 2276.8h0M210.1 2275.7h0M264.3 2274.8h0M215.6 2276.1h0M213.5 2275.9h0M212 2274.9h0M227.5 2276.6h0M248 2276.1h0M232.2 2274h0M246.4 2273h0M208.5 2271.8h0M245.7 2274h0M254.2 2271.3h0M261.6 2271.7h0M246.4 2271.7h0M208.1 2273.4h0M238.6 2272.9h0M254.3 2272.9h0M233.6 2272.1h0M241.7 2271.8h0M260.9 2268.9h0M254.6 2269.9h0M236.9 2270.3h0M227.6 2267.9h0M263.5 2270.1h0M255.8 2270.7h0M233 2269.2h0M247.1 2270.5h0M224.2 2270.2h0M271 2268.7h0M205.9 2268.4h0M220.1 2267.5h0M211.8 2267.4h0M229.3 2267.5h0M228.3 2265h0M250.8 2265.6h0M268.5 2267.2h0M222.8 2266.2h0M242.5 2267h0M223.3 2266.4h0M240.3 2266.5h0M242.8 2266h0M232.1 2264.5h0M240.3 2261.8h0M232 2263.8h0M250.6 2261.7h0M233.3 2262.9h0M261.2 2262.3h0M265.8 2263.9h0M207.8 2263h0M241 2263.4h0M263.9 2262.1h0M260.1 2261.5h0M223.8 2258.4h0M258.2 2261.2h0M248.5 2260.6h0M232.2 2259h0M257.1 2255.9h0M230.9 2255.9h0M224.2 2257.7h0M208.7 2255.2h0M254.8 2253.6h0M253.2 2254h0M260.8 2253.7h0M210.4 2252.2h0M216.6 2249.6h0M225.4 2251.7h0M264.1 2250.7h0M233.6 2249.9h0M235 2245.9h0M239.3 2247.9h0M232.2 2247.6h0M258.5 2243.6h0M223.5 2245h0M237 2243.1h0M246.5 2244.9h0M230.5 2239.9h0M224.2 2240h0M222.6 2241.9h0M243.2 2239.3h0M221.3 2238.8h0M228.7 2238.3h0M223.1 2236.5h0M216.6 2234.2h0M236.9 2233.7h0M247.1 2235.3h0M226.7 2231h0M234.3 2231.4h0M246.9 2230.5h0M233.1 2226.4h0M231.7 2227.9h0M222 2228.9h0M235.4 2224h0M220.5 2223.9h0M240.1 2225.1h0M217.5 2222.2h0M241.5 2221.9h0M235.3 2222.5h0M237.1 2218h0M235.6 2219.1h0M240.3 2219h0M237.3 2214.2h0M236.5 2213.5h0M241.7 2213h0M234 2212.9h0M219.6 2208.8h0M230.1 2208.3h0M243.4 2206.5h0M230 2205.6h0M241.6 2202.5h0M234.9 2203.1h0M245.1 2198h0M226.7 2199.5h0M232.1 2194.5h0M223.4 2195.1h0M243.3 2191.7h0M233.8 2192.4h0M247.3 2189.8h0M227.8 2186.4h0M245.6 2182.1h0M235.4 2179.1h0M246.8 2176.6h0M248.8 2172h0M235.5 2169.4h0M233.7 2166.7h0M231.6 2163.2h0M243.5 2158.9h0M237.4 2155.6h0" stroke="#7b7f81" stroke-width="8.8" stroke-linecap="round"/>
<path d="M122.6 2343h0M127 2345h0M136.6 2341h0M143.6 2332.7h0M155.9 2329.2h0M162 2338h0M210 2217h0M213.7 2194.3h0M222 2205h0M259 2154h0M255.5 2184h0M248.5 2199h0M297.7 2301h0M308 2322h0M343 2336h0M356.6 2345h0M350 2343h0M330 2340h0M320 2330h0M201.4 2282h0M194.4 2294h0M276.7 2285h0M283.7 2294h0M238 2143.5h0M244 2143.5h0M248.7 2143.5h0M226 2160h0M232 2170h0M250 2165h0M229 2230h0M240 2240h0M262 2232h0M270 2255h0M275 2270h0M290 2290h0M300 2310h0M186 2310h0M176 2325h0M168 2333h0" stroke="#7b7f81" stroke-width="8.8" stroke-linecap="round"/>
<path d="M232.9 2068.9h0M240 2071h0M227.7 2091h0M241.7 2096.2h0M242.5 2098.5h0M234 2111.3h0M245.2 2112.7h0M234 2125h0M245.9 2127.8h0M227.7 2130.2h0M230 2133h0M153.4 2294.1h0M353 2322.2h0" stroke="#e3262e" stroke-width="9" stroke-linecap="round"/>
<text x="220.1" y="2052.5" font-size="20.8" text-anchor="middle">SMAD3</text>
<text x="306.1" y="2055.3" font-size="20.8" text-anchor="middle">NR3C1</text>
<text x="188.4" y="2081.5" font-size="20.8" text-anchor="middle">FOSL1</text>
<text x="282.3" y="2085" font-size="20.8" text-anchor="middle">TCF12</text>
<text x="359.5" y="2085" font-size="20.8" text-anchor="middle">STAT3</text>
<text x="197.6" y="2115.5" font-size="20.8" text-anchor="middle">YAP1</text>
<text x="325.2" y="2114.5" font-size="20.8" text-anchor="middle">SMARCC1</text>
<text x="418.6" y="2127" font-size="20.8" text-anchor="middle">SS18</text>
<text x="188.8" y="2145.3" font-size="20.8" text-anchor="middle">BRD9</text>
<text x="292.1" y="2143.5" font-size="20.8" text-anchor="middle">RAD21</text>
<text x="183.1" y="2175" font-size="20.8" text-anchor="middle">TEAD1</text>
<text x="133.6" y="2283.6" font-size="20.8" text-anchor="middle">EPAS1</text>
<text x="372.5" y="2312.7" font-size="20.8" text-anchor="middle">AR</text>
<line x1="241" y1="2070" x2="268" y2="2049" stroke-width="1.8" stroke="#000"/>
<line x1="243.4" y1="2097.3" x2="325.7" y2="2077" stroke-width="1.8" stroke="#000"/>
<line x1="247" y1="2112" x2="270.4" y2="2106" stroke-width="1.8" stroke="#000"/>
<line x1="236.4" y1="2125.3" x2="389.5" y2="2119.7" stroke-width="1.8" stroke="#000"/>
<line x1="228.7" y1="2134" x2="221.7" y2="2165.2" stroke-width="1.8" stroke="#000"/>
<text x="346.2" y="2434.9" font-size="23.5" text-anchor="middle">logFC in activity with respect to DMSO</text>
<text x="17.5" y="2148" font-size="23.5" text-anchor="middle" transform="rotate(-90 17.5 2148)">Altered regulon size</text>
<text x="616.1" y="1102.1" font-size="31" font-weight="bold">d</text>
<rect x="939" y="1103.2" width="99.4" height="45.4" rx="22.7" fill="#c6949c" stroke="#231f20" stroke-width="2"/>
<rect x="908.9" y="1146.4" width="82.1" height="55.3" rx="18" ry="27" fill="#efe6c8" stroke="#231f20" stroke-width="2"/>
<rect x="988.8" y="1146.4" width="82" height="55.3" rx="18" ry="27" fill="#efe6c8" stroke="#231f20" stroke-width="2"/>
<ellipse cx="944.8" cy="1191.1" rx="5.2" ry="11" transform="rotate(28 944.8 1191.1)" fill="#8d8f92" stroke="#4d4e50" stroke-width="0.8"/>
<ellipse cx="941.6" cy="1189.9" rx="5.2" ry="11" transform="rotate(28 941.6 1189.9)" fill="#8d8f92" stroke="#4d4e50" stroke-width="0.8"/>
<ellipse cx="938.4" cy="1188.7" rx="5.2" ry="11" transform="rotate(28 938.4 1188.7)" fill="#a5a7aa" stroke="#4d4e50" stroke-width="0.8"/>
<ellipse cx="991.4" cy="1191.1" rx="5.2" ry="11" transform="rotate(28 991.4 1191.1)" fill="#8d8f92" stroke="#4d4e50" stroke-width="0.8"/>
<ellipse cx="988.2" cy="1189.9" rx="5.2" ry="11" transform="rotate(28 988.2 1189.9)" fill="#8d8f92" stroke="#4d4e50" stroke-width="0.8"/>
<ellipse cx="985" cy="1188.7" rx="5.2" ry="11" transform="rotate(28 985 1188.7)" fill="#a5a7aa" stroke="#4d4e50" stroke-width="0.8"/>
<ellipse cx="1041.2" cy="1191.1" rx="5.2" ry="11" transform="rotate(28 1041.2 1191.1)" fill="#8d8f92" stroke="#4d4e50" stroke-width="0.8"/>
<ellipse cx="1038" cy="1189.9" rx="5.2" ry="11" transform="rotate(28 1038 1189.9)" fill="#8d8f92" stroke="#4d4e50" stroke-width="0.8"/>
<ellipse cx="1034.8" cy="1188.7" rx="5.2" ry="11" transform="rotate(28 1034.8 1188.7)" fill="#a5a7aa" stroke="#4d4e50" stroke-width="0.8"/>
<line x1="913.9" y1="1201.7" x2="1065.8" y2="1201.7" stroke-width="1.0" stroke="#6d6e71"/>
<polyline points="1060,1201.7 1060,1121.8 1087,1121.8" fill="none" stroke="#231f20" stroke-width="2.2"/>
<polygon points="1086,1113.3 1102,1121.8 1086,1130.3" fill="#231f20"/>
<text x="989.2" y="1131.3" font-size="18.6" text-anchor="middle">SMARCA4</text>
<text x="934.8" y="1168.9" font-size="18.6" text-anchor="middle">AR</text>
<text x="1030.5" y="1168.9" font-size="18.6" text-anchor="middle">FOXA1</text>
<text x="812.8" y="1230.6" font-size="18.6" text-anchor="middle">SMARCA4</text>
<line x1="767.8" y1="1233.5" x2="857.7" y2="1233.5" stroke-width="1.4"/>
<text x="978" y="1230.6" font-size="18.6" text-anchor="middle">AR</text>
<line x1="965.1" y1="1233.5" x2="990.9" y2="1233.5" stroke-width="1.4"/>
<text x="1200.8" y="1230.6" font-size="18.6" text-anchor="middle">FOXA1</text>
<line x1="1170.3" y1="1233.5" x2="1231.2" y2="1233.5" stroke-width="1.4"/>
<text x="751.6" y="1251.8" font-size="15.5" text-anchor="middle">DMSO</text>
<text x="852" y="1251.8" font-size="15.5" text-anchor="middle">SMARCA2_4.1</text>
<text x="943" y="1251.8" font-size="15.5" text-anchor="middle">DMSO</text>
<text x="1042.3" y="1251.8" font-size="15.5" text-anchor="middle">SMARCA2_4.1</text>
<text x="1133.9" y="1251.8" font-size="15.5" text-anchor="middle">DMSO</text>
<text x="1232.8" y="1251.8" font-size="15.5" text-anchor="middle">SMARCA2_4.1</text>
<polyline points="740.3,1321.1 741.2,1321 742.2,1320.9 743.1,1320.8 744,1320.7 745,1320.6 745.9,1320.4 746.8,1320.2 747.8,1319.9 748.7,1319.5 749.6,1319.1 750.6,1318.6 751.5,1318 752.4,1317.2 753.4,1316.2 754.3,1315.1 755.2,1313.8 756.2,1312.2 757.1,1310.5 758,1308.5 759,1306.4 759.9,1304.2 760.8,1301.8 761.8,1299.5 762.7,1297.1 763.6,1295 764.6,1293.1 765.5,1291.4 766.4,1290.2 767.4,1289.5 768.3,1289.2 769.2,1289.5 770.2,1290.2 771.1,1291.4 772,1293.1 773,1295 773.9,1297.1 774.8,1299.5 775.8,1301.8 776.7,1304.2 777.6,1306.4 778.6,1308.5 779.5,1310.5 780.4,1312.2 781.4,1313.8 782.3,1315.1 783.2,1316.2 784.2,1317.2 785.1,1318 786,1318.6 787,1319.1 787.9,1319.5 788.8,1319.9 789.8,1320.2 790.7,1320.4 791.6,1320.6 792.6,1320.7 793.5,1320.8 794.4,1320.9 795.4,1321 796.3,1321.1" fill="none" stroke="#2e3192" stroke-width="1.3"/>
<rect x="740.3" y="1260.6" width="56" height="70.6" fill="none" stroke="#6d6e71" stroke-width="1.5"/>
<line x1="740.3" y1="1331.2" x2="740.3" y2="1334.7" stroke-width="1.3" stroke="#6d6e71"/>
<line x1="768.3" y1="1331.2" x2="768.3" y2="1334.7" stroke-width="1.3" stroke="#6d6e71"/>
<line x1="796.3" y1="1331.2" x2="796.3" y2="1334.7" stroke-width="1.3" stroke="#6d6e71"/>
<line x1="736.8" y1="1317.4" x2="740.3" y2="1317.4" stroke-width="1.3" stroke="#6d6e71"/>
<text x="731.5" y="1322.9" font-size="15.5" text-anchor="end">2</text>
<line x1="736.8" y1="1303.3" x2="740.3" y2="1303.3" stroke-width="1.3" stroke="#6d6e71"/>
<text x="731.5" y="1308.8" font-size="15.5" text-anchor="end">4</text>
<line x1="736.8" y1="1289.2" x2="740.3" y2="1289.2" stroke-width="1.3" stroke="#6d6e71"/>
<text x="731.5" y="1294.7" font-size="15.5" text-anchor="end">6</text>
<line x1="736.8" y1="1275.1" x2="740.3" y2="1275.1" stroke-width="1.3" stroke="#6d6e71"/>
<text x="731.5" y="1280.6" font-size="15.5" text-anchor="end">8</text>
<line x1="736.8" y1="1261" x2="740.3" y2="1261" stroke-width="1.3" stroke="#6d6e71"/>
<text x="737.3" y="1266.5" font-size="15.5" text-anchor="end">10</text>
<polyline points="825.6,1325.6 826.5,1325.5 827.5,1325.5 828.4,1325.5 829.4,1325.4 830.3,1325.4 831.3,1325.3 832.2,1325.2 833.2,1325.2 834.1,1325 835.1,1324.9 836,1324.8 837,1324.6 837.9,1324.4 838.9,1324.2 839.8,1323.9 840.8,1323.6 841.7,1323.3 842.7,1323 843.6,1322.6 844.6,1322.2 845.5,1321.8 846.5,1321.4 847.4,1321.1 848.4,1320.7 849.3,1320.4 850.3,1320.1 851.2,1319.8 852.2,1319.7 853.1,1319.6 854,1319.5 855,1319.6 855.9,1319.7 856.9,1319.8 857.8,1320.1 858.8,1320.4 859.7,1320.7 860.7,1321.1 861.6,1321.4 862.6,1321.8 863.5,1322.2 864.5,1322.6 865.4,1323 866.4,1323.3 867.3,1323.6 868.3,1323.9 869.2,1324.2 870.2,1324.4 871.1,1324.6 872.1,1324.8 873,1324.9 874,1325 874.9,1325.2 875.9,1325.2 876.8,1325.3 877.8,1325.4 878.7,1325.4 879.7,1325.5 880.6,1325.5 881.6,1325.5 882.5,1325.6" fill="none" stroke="#2e3192" stroke-width="1.3"/>
<rect x="825.6" y="1260.6" width="56.9" height="70.6" fill="none" stroke="#6d6e71" stroke-width="1.5"/>
<line x1="825.6" y1="1331.2" x2="825.6" y2="1334.7" stroke-width="1.3" stroke="#6d6e71"/>
<line x1="854" y1="1331.2" x2="854" y2="1334.7" stroke-width="1.3" stroke="#6d6e71"/>
<line x1="882.5" y1="1331.2" x2="882.5" y2="1334.7" stroke-width="1.3" stroke="#6d6e71"/>
<line x1="822.1" y1="1317.4" x2="825.6" y2="1317.4" stroke-width="1.3" stroke="#6d6e71"/>
<text x="816.8" y="1322.9" font-size="15.5" text-anchor="end">2</text>
<line x1="822.1" y1="1303.3" x2="825.6" y2="1303.3" stroke-width="1.3" stroke="#6d6e71"/>
<text x="816.8" y="1308.8" font-size="15.5" text-anchor="end">4</text>
<line x1="822.1" y1="1289.2" x2="825.6" y2="1289.2" stroke-width="1.3" stroke="#6d6e71"/>
<text x="816.8" y="1294.7" font-size="15.5" text-anchor="end">6</text>
<line x1="822.1" y1="1275.1" x2="825.6" y2="1275.1" stroke-width="1.3" stroke="#6d6e71"/>
<text x="816.8" y="1280.6" font-size="15.5" text-anchor="end">8</text>
<line x1="822.1" y1="1261" x2="825.6" y2="1261" stroke-width="1.3" stroke="#6d6e71"/>
<text x="822.6" y="1266.5" font-size="15.5" text-anchor="end">10</text>
<polyline points="923.3,1325.1 924.2,1324.9 925.2,1324.8 926.1,1324.6 927.1,1324.4 928,1324.1 928.9,1323.9 929.9,1323.5 930.8,1323 931.8,1322.5 932.7,1321.8 933.6,1321 934.6,1319.9 935.5,1318.6 936.5,1317.1 937.4,1315.2 938.3,1313.1 939.3,1310.6 940.2,1307.7 941.2,1304.6 942.1,1301.2 943,1297.5 944,1293.7 944.9,1289.9 945.9,1286.1 946.8,1282.6 947.7,1279.5 948.7,1276.8 949.6,1274.9 950.6,1273.6 951.5,1273.2 952.4,1273.6 953.4,1274.9 954.3,1276.8 955.3,1279.5 956.2,1282.6 957.1,1286.1 958.1,1289.9 959,1293.7 960,1297.5 960.9,1301.2 961.8,1304.6 962.8,1307.7 963.7,1310.6 964.7,1313.1 965.6,1315.2 966.5,1317.1 967.5,1318.6 968.4,1319.9 969.4,1321 970.3,1321.8 971.2,1322.5 972.2,1323 973.1,1323.5 974.1,1323.9 975,1324.1 975.9,1324.4 976.9,1324.6 977.8,1324.8 978.8,1324.9 979.7,1325.1" fill="none" stroke="#2e3192" stroke-width="1.3"/>
<rect x="923.3" y="1260.6" width="56.4" height="70.6" fill="none" stroke="#6d6e71" stroke-width="1.5"/>
<line x1="923.3" y1="1331.2" x2="923.3" y2="1334.7" stroke-width="1.3" stroke="#6d6e71"/>
<line x1="951.5" y1="1331.2" x2="951.5" y2="1334.7" stroke-width="1.3" stroke="#6d6e71"/>
<line x1="979.7" y1="1331.2" x2="979.7" y2="1334.7" stroke-width="1.3" stroke="#6d6e71"/>
<line x1="919.8" y1="1308.3" x2="923.3" y2="1308.3" stroke-width="1.3" stroke="#6d6e71"/>
<text x="914.5" y="1313.8" font-size="15.5" text-anchor="end">5</text>
<line x1="919.8" y1="1284.9" x2="923.3" y2="1284.9" stroke-width="1.3" stroke="#6d6e71"/>
<text x="920.3" y="1290.4" font-size="15.5" text-anchor="end">10</text>
<line x1="919.8" y1="1261.5" x2="923.3" y2="1261.5" stroke-width="1.3" stroke="#6d6e71"/>
<text x="920.3" y="1267" font-size="15.5" text-anchor="end">15</text>
<polyline points="1009,1326.3 1009.9,1326.3 1010.9,1326.2 1011.8,1326.1 1012.8,1326 1013.7,1325.9 1014.7,1325.8 1015.6,1325.7 1016.6,1325.5 1017.5,1325.3 1018.5,1325 1019.4,1324.7 1020.3,1324.3 1021.3,1323.8 1022.2,1323.2 1023.2,1322.6 1024.1,1321.9 1025.1,1321.1 1026,1320.1 1027,1319.2 1027.9,1318.1 1028.8,1317 1029.8,1315.9 1030.7,1314.8 1031.7,1313.7 1032.6,1312.7 1033.6,1311.9 1034.5,1311.2 1035.5,1310.6 1036.4,1310.3 1037.3,1310.2 1038.3,1310.3 1039.2,1310.6 1040.2,1311.2 1041.1,1311.9 1042.1,1312.7 1043,1313.7 1044,1314.8 1044.9,1315.9 1045.9,1317 1046.8,1318.1 1047.7,1319.2 1048.7,1320.1 1049.6,1321.1 1050.6,1321.9 1051.5,1322.6 1052.5,1323.2 1053.4,1323.8 1054.4,1324.3 1055.3,1324.7 1056.2,1325 1057.2,1325.3 1058.1,1325.5 1059.1,1325.7 1060,1325.8 1061,1325.9 1061.9,1326 1062.9,1326.1 1063.8,1326.2 1064.8,1326.3 1065.7,1326.3" fill="none" stroke="#2e3192" stroke-width="1.3"/>
<rect x="1009" y="1260.6" width="56.7" height="70.6" fill="none" stroke="#6d6e71" stroke-width="1.5"/>
<line x1="1009" y1="1331.2" x2="1009" y2="1334.7" stroke-width="1.3" stroke="#6d6e71"/>
<line x1="1037.3" y1="1331.2" x2="1037.3" y2="1334.7" stroke-width="1.3" stroke="#6d6e71"/>
<line x1="1065.7" y1="1331.2" x2="1065.7" y2="1334.7" stroke-width="1.3" stroke="#6d6e71"/>
<line x1="1005.5" y1="1308.3" x2="1009" y2="1308.3" stroke-width="1.3" stroke="#6d6e71"/>
<text x="1000.2" y="1313.8" font-size="15.5" text-anchor="end">5</text>
<line x1="1005.5" y1="1284.9" x2="1009" y2="1284.9" stroke-width="1.3" stroke="#6d6e71"/>
<text x="1006" y="1290.4" font-size="15.5" text-anchor="end">10</text>
<line x1="1005.5" y1="1261.5" x2="1009" y2="1261.5" stroke-width="1.3" stroke="#6d6e71"/>
<text x="1006" y="1267" font-size="15.5" text-anchor="end">15</text>
<polyline points="1106.3,1325.7 1107.2,1325.6 1108.2,1325.4 1109.1,1325.3 1110.1,1325.1 1111,1324.9 1112,1324.7 1112.9,1324.4 1113.8,1324 1114.8,1323.6 1115.7,1323 1116.7,1322.3 1117.6,1321.5 1118.6,1320.3 1119.5,1318.9 1120.5,1317.2 1121.4,1315.2 1122.3,1312.7 1123.3,1309.8 1124.2,1306.5 1125.2,1302.8 1126.1,1298.7 1127.1,1294.4 1128,1289.9 1128.9,1285.4 1129.9,1281.2 1130.8,1277.3 1131.8,1274.1 1132.7,1271.6 1133.7,1270.1 1134.6,1269.5 1135.5,1270.1 1136.5,1271.6 1137.4,1274.1 1138.4,1277.3 1139.3,1281.2 1140.3,1285.4 1141.2,1289.9 1142.1,1294.4 1143.1,1298.7 1144,1302.8 1145,1306.5 1145.9,1309.8 1146.9,1312.7 1147.8,1315.2 1148.8,1317.2 1149.7,1318.9 1150.6,1320.3 1151.6,1321.5 1152.5,1322.3 1153.5,1323 1154.4,1323.6 1155.4,1324 1156.3,1324.4 1157.2,1324.7 1158.2,1324.9 1159.1,1325.1 1160.1,1325.3 1161,1325.4 1162,1325.6 1162.9,1325.7" fill="none" stroke="#2e3192" stroke-width="1.3"/>
<rect x="1106.3" y="1260.6" width="56.6" height="70.6" fill="none" stroke="#6d6e71" stroke-width="1.5"/>
<line x1="1106.3" y1="1331.2" x2="1106.3" y2="1334.7" stroke-width="1.3" stroke="#6d6e71"/>
<line x1="1134.6" y1="1331.2" x2="1134.6" y2="1334.7" stroke-width="1.3" stroke="#6d6e71"/>
<line x1="1162.9" y1="1331.2" x2="1162.9" y2="1334.7" stroke-width="1.3" stroke="#6d6e71"/>
<line x1="1102.8" y1="1314.9" x2="1106.3" y2="1314.9" stroke-width="1.3" stroke="#6d6e71"/>
<text x="1097.5" y="1320.4" font-size="15.5" text-anchor="end">5</text>
<line x1="1102.8" y1="1296.9" x2="1106.3" y2="1296.9" stroke-width="1.3" stroke="#6d6e71"/>
<text x="1103.3" y="1302.4" font-size="15.5" text-anchor="end">10</text>
<line x1="1102.8" y1="1278.9" x2="1106.3" y2="1278.9" stroke-width="1.3" stroke="#6d6e71"/>
<text x="1103.3" y="1284.4" font-size="15.5" text-anchor="end">15</text>
<line x1="1102.8" y1="1260.9" x2="1106.3" y2="1260.9" stroke-width="1.3" stroke="#6d6e71"/>
<text x="1103.3" y="1266.4" font-size="15.5" text-anchor="end">20</text>
<polyline points="1192.6,1328.2 1193.5,1328.2 1194.4,1328.1 1195.4,1328 1196.3,1327.8 1197.2,1327.7 1198.1,1327.5 1199.1,1327.3 1200,1327 1200.9,1326.7 1201.8,1326.3 1202.8,1325.8 1203.7,1325.2 1204.6,1324.5 1205.5,1323.6 1206.4,1322.7 1207.4,1321.6 1208.3,1320.4 1209.2,1319 1210.1,1317.5 1211.1,1316 1212,1314.3 1212.9,1312.7 1213.8,1311 1214.8,1309.4 1215.7,1308 1216.6,1306.6 1217.5,1305.6 1218.5,1304.8 1219.4,1304.3 1220.3,1304.1 1221.2,1304.3 1222.1,1304.8 1223.1,1305.6 1224,1306.6 1224.9,1308 1225.8,1309.4 1226.8,1311 1227.7,1312.7 1228.6,1314.3 1229.5,1316 1230.5,1317.5 1231.4,1319 1232.3,1320.4 1233.2,1321.6 1234.2,1322.7 1235.1,1323.6 1236,1324.5 1236.9,1325.2 1237.8,1325.8 1238.8,1326.3 1239.7,1326.7 1240.6,1327 1241.5,1327.3 1242.5,1327.5 1243.4,1327.7 1244.3,1327.8 1245.2,1328 1246.2,1328.1 1247.1,1328.2 1248,1328.2" fill="none" stroke="#2e3192" stroke-width="1.3"/>
<rect x="1192.6" y="1260.6" width="55.4" height="70.6" fill="none" stroke="#6d6e71" stroke-width="1.5"/>
<line x1="1192.6" y1="1331.2" x2="1192.6" y2="1334.7" stroke-width="1.3" stroke="#6d6e71"/>
<line x1="1220.3" y1="1331.2" x2="1220.3" y2="1334.7" stroke-width="1.3" stroke="#6d6e71"/>
<line x1="1248" y1="1331.2" x2="1248" y2="1334.7" stroke-width="1.3" stroke="#6d6e71"/>
<line x1="1189.1" y1="1314.9" x2="1192.6" y2="1314.9" stroke-width="1.3" stroke="#6d6e71"/>
<text x="1183.8" y="1320.4" font-size="15.5" text-anchor="end">5</text>
<line x1="1189.1" y1="1296.9" x2="1192.6" y2="1296.9" stroke-width="1.3" stroke="#6d6e71"/>
<text x="1189.6" y="1302.4" font-size="15.5" text-anchor="end">10</text>
<line x1="1189.1" y1="1278.9" x2="1192.6" y2="1278.9" stroke-width="1.3" stroke="#6d6e71"/>
<text x="1189.6" y="1284.4" font-size="15.5" text-anchor="end">15</text>
<line x1="1189.1" y1="1260.9" x2="1192.6" y2="1260.9" stroke-width="1.3" stroke="#6d6e71"/>
<text x="1189.6" y="1266.4" font-size="15.5" text-anchor="end">20</text>
<g clip-path="url(#chd0)">
<rect x="732.2" y="1346.8" width="75.8" height="311.9" fill="#e4f5df"/>
<g filter="url(#hb)">
<rect x="733.9" y="1346.8" width="72.5" height="2.8" fill="url(#hd010)"/>
<rect x="733.8" y="1349.3" width="73.3" height="2.8" fill="url(#hd010)"/>
<rect x="736" y="1351.8" width="68.2" height="2.8" fill="url(#hd010)"/>
<rect x="736.9" y="1354.3" width="67.4" height="2.8" fill="url(#hd010)"/>
<rect x="738" y="1356.9" width="64.9" height="2.8" fill="url(#hd010)"/>
<rect x="737.2" y="1359.4" width="65.3" height="2.8" fill="url(#hd010)"/>
<rect x="738.1" y="1361.9" width="64.3" height="2.8" fill="url(#hd010)"/>
<rect x="739.7" y="1364.4" width="61.3" height="2.8" fill="url(#hd010)"/>
<rect x="738.2" y="1366.9" width="64.1" height="2.8" fill="url(#hd010)"/>
<rect x="740.8" y="1369.4" width="58" height="2.8" fill="url(#hd09)"/>
<rect x="740.9" y="1372" width="58" height="2.8" fill="url(#hd010)"/>
<rect x="741.8" y="1374.5" width="56.7" height="2.8" fill="url(#hd010)"/>
<rect x="743" y="1377" width="54.3" height="2.8" fill="url(#hd09)"/>
<rect x="742.9" y="1379.5" width="53.9" height="2.8" fill="url(#hd010)"/>
<rect x="743.8" y="1382" width="52.6" height="2.8" fill="url(#hd09)"/>
<rect x="742.9" y="1384.5" width="54.6" height="2.8" fill="url(#hd09)"/>
<rect x="744.4" y="1387" width="51.6" height="2.8" fill="url(#hd09)"/>
<rect x="743.4" y="1389.6" width="52.7" height="2.8" fill="url(#hd09)"/>
<rect x="744.8" y="1392.1" width="49.9" height="2.8" fill="url(#hd09)"/>
<rect x="743.8" y="1394.6" width="52.5" height="2.8" fill="url(#hd09)"/>
<rect x="745.4" y="1397.1" width="48.9" height="2.8" fill="url(#hd09)"/>
<rect x="745.8" y="1399.6" width="47.9" height="2.8" fill="url(#hd09)"/>
<rect x="746.7" y="1402.1" width="47.1" height="2.8" fill="url(#hd09)"/>
<rect x="745.8" y="1404.7" width="48.6" height="2.8" fill="url(#hd09)"/>
<rect x="746.3" y="1407.2" width="46.6" height="2.8" fill="url(#hd08)"/>
<rect x="747.2" y="1409.7" width="45.4" height="2.8" fill="url(#hd09)"/>
<rect x="747.7" y="1412.2" width="45" height="2.8" fill="url(#hd08)"/>
<rect x="747.4" y="1414.7" width="45.8" height="2.8" fill="url(#hd08)"/>
<rect x="748.6" y="1417.2" width="43.7" height="2.8" fill="url(#hd08)"/>
<rect x="748.1" y="1419.7" width="43.2" height="2.8" fill="url(#hd08)"/>
<rect x="749" y="1422.3" width="42" height="2.8" fill="url(#hd08)"/>
<rect x="749.3" y="1424.8" width="41.6" height="2.8" fill="url(#hd08)"/>
<rect x="750.3" y="1427.3" width="39.4" height="2.8" fill="url(#hd08)"/>
<rect x="749.9" y="1429.8" width="39.5" height="2.8" fill="url(#hd08)"/>
<rect x="750.1" y="1432.3" width="39" height="2.8" fill="url(#hd08)"/>
<rect x="751.6" y="1434.8" width="37" height="2.8" fill="url(#hd08)"/>
<rect x="751.4" y="1437.4" width="37.3" height="2.8" fill="url(#hd08)"/>
<rect x="751.7" y="1439.9" width="36.7" height="2.8" fill="url(#hd08)"/>
<rect x="751.5" y="1442.4" width="37.6" height="2.8" fill="url(#hd08)"/>
<rect x="752.2" y="1444.9" width="36.6" height="2.8" fill="url(#hd08)"/>
<rect x="752.6" y="1447.4" width="35.2" height="2.8" fill="url(#hd07)"/>
<rect x="752.1" y="1449.9" width="36.1" height="2.8" fill="url(#hd08)"/>
<rect x="752.7" y="1452.4" width="35.4" height="2.8" fill="url(#hd08)"/>
<rect x="753" y="1455" width="35" height="2.8" fill="url(#hd08)"/>
<rect x="751.7" y="1457.5" width="36" height="2.8" fill="url(#hd08)"/>
<rect x="752.9" y="1460" width="35.4" height="2.8" fill="url(#hd08)"/>
<rect x="753.4" y="1462.5" width="33.8" height="2.8" fill="url(#hd08)"/>
<rect x="753.3" y="1465" width="34.4" height="2.8" fill="url(#hd07)"/>
<rect x="753" y="1467.5" width="33.5" height="2.8" fill="url(#hd07)"/>
<rect x="753.3" y="1470.1" width="32.8" height="2.8" fill="url(#hd07)"/>
<rect x="752.9" y="1472.6" width="34.4" height="2.8" fill="url(#hd08)"/>
<rect x="753.3" y="1475.1" width="33.6" height="2.8" fill="url(#hd08)"/>
<rect x="753.5" y="1477.6" width="33.2" height="2.8" fill="url(#hd07)"/>
<rect x="754.1" y="1480.1" width="32.2" height="2.8" fill="url(#hd07)"/>
<rect x="754.4" y="1482.6" width="31.5" height="2.8" fill="url(#hd07)"/>
<rect x="753.8" y="1485.1" width="33" height="2.8" fill="url(#hd08)"/>
<rect x="753.9" y="1487.7" width="31.6" height="2.8" fill="url(#hd07)"/>
<rect x="754.6" y="1490.2" width="30.9" height="2.8" fill="url(#hd07)"/>
<rect x="754.1" y="1492.7" width="31.6" height="2.8" fill="url(#hd07)"/>
<rect x="754.6" y="1495.2" width="31" height="2.8" fill="url(#hd07)"/>
<rect x="754.7" y="1497.7" width="30.6" height="2.8" fill="url(#hd07)"/>
<rect x="754.8" y="1500.2" width="30.4" height="2.8" fill="url(#hd07)"/>
<rect x="755.2" y="1502.8" width="30.2" height="2.8" fill="url(#hd07)"/>
<rect x="754.6" y="1505.3" width="30.8" height="2.8" fill="url(#hd07)"/>
<rect x="755.1" y="1507.8" width="31" height="2.8" fill="url(#hd07)"/>
<rect x="756.1" y="1510.3" width="28.7" height="2.8" fill="url(#hd07)"/>
<rect x="755.7" y="1512.8" width="28.4" height="2.8" fill="url(#hd07)"/>
<rect x="755.2" y="1515.3" width="29.9" height="2.8" fill="url(#hd07)"/>
<rect x="755.5" y="1517.8" width="28.5" height="2.8" fill="url(#hd07)"/>
<rect x="755.7" y="1520.4" width="29.7" height="2.8" fill="url(#hd06)"/>
<rect x="755.9" y="1522.9" width="29.4" height="2.8" fill="url(#hd07)"/>
<rect x="755.6" y="1525.4" width="28.8" height="2.8" fill="url(#hd07)"/>
<rect x="755" y="1527.9" width="29.3" height="2.8" fill="url(#hd07)"/>
<rect x="755.6" y="1530.4" width="29.1" height="2.8" fill="url(#hd06)"/>
<rect x="755.9" y="1532.9" width="28.8" height="2.8" fill="url(#hd07)"/>
<rect x="755.9" y="1535.4" width="27.6" height="2.8" fill="url(#hd07)"/>
<rect x="756.8" y="1538" width="26.8" height="2.8" fill="url(#hd07)"/>
<rect x="756.5" y="1540.5" width="27.4" height="2.8" fill="url(#hd07)"/>
<rect x="756.9" y="1543" width="26.7" height="2.8" fill="url(#hd06)"/>
<rect x="755.5" y="1545.5" width="28.4" height="2.8" fill="url(#hd07)"/>
<rect x="756.4" y="1548" width="27.1" height="2.8" fill="url(#hd07)"/>
<rect x="756.4" y="1550.5" width="27.1" height="2.8" fill="url(#hd06)"/>
<rect x="756.5" y="1553.1" width="27.5" height="2.8" fill="url(#hd06)"/>
<rect x="757.1" y="1555.6" width="27" height="2.8" fill="url(#hd07)"/>
<rect x="756.9" y="1558.1" width="27.1" height="2.8" fill="url(#hd06)"/>
<rect x="756.9" y="1560.6" width="26.3" height="2.8" fill="url(#hd06)"/>
<rect x="756.8" y="1563.1" width="25.9" height="2.8" fill="url(#hd06)"/>
<rect x="757.6" y="1565.6" width="25.2" height="2.8" fill="url(#hd07)"/>
<rect x="757.1" y="1568.1" width="26.7" height="2.8" fill="url(#hd06)"/>
<rect x="757" y="1570.7" width="25.3" height="2.8" fill="url(#hd06)"/>
<rect x="758.1" y="1573.2" width="25" height="2.8" fill="url(#hd06)"/>
<rect x="758" y="1575.7" width="24.5" height="2.8" fill="url(#hd06)"/>
<rect x="758.4" y="1578.2" width="24.4" height="2.8" fill="url(#hd06)"/>
<rect x="757.5" y="1580.7" width="25" height="2.8" fill="url(#hd06)"/>
<rect x="757.7" y="1583.2" width="24" height="2.8" fill="url(#hd06)"/>
<rect x="757.6" y="1585.8" width="25" height="2.8" fill="url(#hd06)"/>
<rect x="757.3" y="1588.3" width="25" height="2.8" fill="url(#hd06)"/>
<rect x="757.9" y="1590.8" width="24.3" height="2.8" fill="url(#hd06)"/>
<rect x="757.6" y="1593.3" width="24.7" height="2.8" fill="url(#hd06)"/>
<rect x="757.4" y="1595.8" width="24.6" height="2.8" fill="url(#hd06)"/>
<rect x="757.9" y="1598.3" width="24" height="2.8" fill="url(#hd06)"/>
<rect x="758.6" y="1600.8" width="23.7" height="2.8" fill="url(#hd06)"/>
<rect x="758.2" y="1603.4" width="24" height="2.8" fill="url(#hd06)"/>
<rect x="758" y="1605.9" width="23.1" height="2.8" fill="url(#hd06)"/>
<rect x="758.7" y="1608.4" width="23.2" height="2.8" fill="url(#hd06)"/>
<rect x="758.6" y="1610.9" width="23" height="2.8" fill="url(#hd06)"/>
<rect x="758.6" y="1613.4" width="22.4" height="2.8" fill="url(#hd06)"/>
<rect x="758.2" y="1615.9" width="23.2" height="2.8" fill="url(#hd06)"/>
<rect x="758.5" y="1618.5" width="22.3" height="2.8" fill="url(#hd06)"/>
<rect x="759.9" y="1621" width="21.2" height="2.8" fill="url(#hd06)"/>
<rect x="759" y="1623.5" width="22.6" height="2.8" fill="url(#hd06)"/>
<rect x="759.6" y="1626" width="21.9" height="2.8" fill="url(#hd06)"/>
<rect x="759.4" y="1628.5" width="21" height="2.8" fill="url(#hd05)"/>
<rect x="759.4" y="1631" width="20.9" height="2.8" fill="url(#hd06)"/>
<rect x="759.4" y="1633.5" width="21.3" height="2.8" fill="url(#hd06)"/>
<rect x="759.5" y="1636.1" width="20.2" height="2.8" fill="url(#hd06)"/>
<rect x="760.3" y="1638.6" width="20.1" height="2.8" fill="url(#hd05)"/>
<rect x="760" y="1641.1" width="20" height="2.8" fill="url(#hd06)"/>
<rect x="760.1" y="1643.6" width="20.3" height="2.8" fill="url(#hd05)"/>
<rect x="759.7" y="1646.1" width="20.9" height="2.8" fill="url(#hd05)"/>
<rect x="760.1" y="1648.6" width="19.9" height="2.8" fill="url(#hd05)"/>
<rect x="760.6" y="1651.2" width="19.2" height="2.8" fill="url(#hd05)"/>
<rect x="759.9" y="1653.7" width="20.1" height="2.8" fill="url(#hd05)"/>
<rect x="760.2" y="1656.2" width="19.2" height="2.8" fill="url(#hd05)"/>
</g>
<path d="M732.2 1490.5h75.8M732.2 1394.7h75.8M732.2 1371.3h75.8M732.2 1510.5h75.8M732.2 1390.7h75.8M732.2 1379.4h75.8M732.2 1384.3h75.8M732.2 1566.8h75.8M732.2 1598.4h75.8M732.2 1599.4h75.8M732.2 1526.4h75.8M732.2 1544.9h75.8M732.2 1581.9h75.8M732.2 1480.2h75.8M732.2 1505.8h75.8M732.2 1569.2h75.8M732.2 1544.5h75.8M732.2 1536.7h75.8M732.2 1548.4h75.8M732.2 1513.8h75.8M732.2 1413.5h75.8M732.2 1442.2h75.8M732.2 1562.4h75.8M732.2 1477.5h75.8M732.2 1614.5h75.8M732.2 1463.5h75.8M732.2 1555.6h75.8M732.2 1382.8h75.8M732.2 1440.2h75.8M732.2 1612.3h75.8M732.2 1401.6h75.8M732.2 1542h75.8M732.2 1355.5h75.8M732.2 1536.8h75.8M732.2 1487.6h75.8M732.2 1627.3h75.8M732.2 1604.3h75.8M732.2 1588h75.8M732.2 1452.4h75.8M732.2 1555.5h75.8" stroke="#fff" stroke-width="0.7" opacity="0.12"/>
</g>
<rect x="732.2" y="1346.8" width="75.8" height="311.9" fill="none" stroke="#555" stroke-width="1.1"/>
<line x1="732.2" y1="1347.4" x2="808" y2="1347.4" stroke-width="1.8" stroke="#555"/>
<g clip-path="url(#chd1)">
<rect x="815.1" y="1346.8" width="75.9" height="311.9" fill="#e6f5e1"/>
<g filter="url(#hb)">
<rect x="831.9" y="1346.8" width="43.1" height="2.8" fill="url(#hd15)"/>
<rect x="832.1" y="1349.3" width="42.1" height="2.8" fill="url(#hd14)"/>
<rect x="832.6" y="1351.8" width="41.2" height="2.8" fill="url(#hd14)"/>
<rect x="833.4" y="1354.3" width="39" height="2.8" fill="url(#hd14)"/>
<rect x="833" y="1356.9" width="40.4" height="2.8" fill="url(#hd14)"/>
<rect x="833.5" y="1359.4" width="40" height="2.8" fill="url(#hd13)"/>
<rect x="833.7" y="1361.9" width="38" height="2.8" fill="url(#hd13)"/>
<rect x="834.2" y="1364.4" width="36.9" height="2.8" fill="url(#hd13)"/>
<rect x="835" y="1366.9" width="35.2" height="2.8" fill="url(#hd13)"/>
<rect x="835.9" y="1369.4" width="34.9" height="2.8" fill="url(#hd13)"/>
<rect x="835.5" y="1372" width="35.1" height="2.8" fill="url(#hd13)"/>
<rect x="835.6" y="1374.5" width="34.5" height="2.8" fill="url(#hd13)"/>
<rect x="835.4" y="1377" width="36" height="2.8" fill="url(#hd13)"/>
<rect x="835.8" y="1379.5" width="34" height="2.8" fill="url(#hd13)"/>
<rect x="836.7" y="1382" width="33.3" height="2.8" fill="url(#hd13)"/>
<rect x="835.2" y="1384.5" width="35.4" height="2.8" fill="url(#hd13)"/>
<rect x="834.9" y="1387" width="35.4" height="2.8" fill="url(#hd13)"/>
<rect x="835.3" y="1389.6" width="35.5" height="2.8" fill="url(#hd12)"/>
<rect x="835.6" y="1392.1" width="34.1" height="2.8" fill="url(#hd13)"/>
<rect x="835.3" y="1394.6" width="35.1" height="2.8" fill="url(#hd13)"/>
<rect x="836.6" y="1397.1" width="33.8" height="2.8" fill="url(#hd12)"/>
<rect x="836.2" y="1399.6" width="33.2" height="2.8" fill="url(#hd13)"/>
<rect x="836.9" y="1402.1" width="33" height="2.8" fill="url(#hd12)"/>
<rect x="835.9" y="1404.7" width="34.3" height="2.8" fill="url(#hd12)"/>
<rect x="835.3" y="1407.2" width="34.7" height="2.8" fill="url(#hd12)"/>
<rect x="836.5" y="1409.7" width="33" height="2.8" fill="url(#hd13)"/>
<rect x="836.8" y="1412.2" width="33.4" height="2.8" fill="url(#hd12)"/>
<rect x="836.7" y="1414.7" width="33.4" height="2.8" fill="url(#hd13)"/>
<rect x="836.6" y="1417.2" width="33.6" height="2.8" fill="url(#hd12)"/>
<rect x="837.1" y="1419.7" width="32.8" height="2.8" fill="url(#hd12)"/>
<rect x="836.7" y="1422.3" width="33.2" height="2.8" fill="url(#hd12)"/>
<rect x="836" y="1424.8" width="33.2" height="2.8" fill="url(#hd12)"/>
<rect x="835.8" y="1427.3" width="34" height="2.8" fill="url(#hd12)"/>
<rect x="836.3" y="1429.8" width="33.4" height="2.8" fill="url(#hd12)"/>
<rect x="836.3" y="1432.3" width="33.6" height="2.8" fill="url(#hd12)"/>
<rect x="836.3" y="1434.8" width="32.8" height="2.8" fill="url(#hd12)"/>
<rect x="835.6" y="1437.4" width="34.4" height="2.8" fill="url(#hd12)"/>
<rect x="836.4" y="1439.9" width="34.2" height="2.8" fill="url(#hd12)"/>
<rect x="836.1" y="1442.4" width="34.7" height="2.8" fill="url(#hd12)"/>
<rect x="836" y="1444.9" width="33.3" height="2.8" fill="url(#hd12)"/>
<rect x="835.5" y="1447.4" width="34.7" height="2.8" fill="url(#hd12)"/>
<rect x="837" y="1449.9" width="32.7" height="2.8" fill="url(#hd12)"/>
<rect x="836.3" y="1452.4" width="32.8" height="2.8" fill="url(#hd12)"/>
<rect x="836.7" y="1455" width="32.2" height="2.8" fill="url(#hd12)"/>
<rect x="836.1" y="1457.5" width="34.2" height="2.8" fill="url(#hd12)"/>
<rect x="835.6" y="1460" width="34.3" height="2.8" fill="url(#hd12)"/>
<rect x="836.7" y="1462.5" width="32.6" height="2.8" fill="url(#hd12)"/>
<rect x="836.8" y="1465" width="32.3" height="2.8" fill="url(#hd12)"/>
<rect x="836.9" y="1467.5" width="32.1" height="2.8" fill="url(#hd12)"/>
<rect x="836" y="1470.1" width="34.3" height="2.8" fill="url(#hd12)"/>
<rect x="836.1" y="1472.6" width="33.2" height="2.8" fill="url(#hd12)"/>
<rect x="837.6" y="1475.1" width="31.7" height="2.8" fill="url(#hd12)"/>
<rect x="835.5" y="1477.6" width="34.1" height="2.8" fill="url(#hd12)"/>
<rect x="836.9" y="1480.1" width="32.8" height="2.8" fill="url(#hd12)"/>
<rect x="835.5" y="1482.6" width="34.2" height="2.8" fill="url(#hd12)"/>
<rect x="836.7" y="1485.1" width="33.4" height="2.8" fill="url(#hd12)"/>
<rect x="836.7" y="1487.7" width="33.3" height="2.8" fill="url(#hd12)"/>
<rect x="837.1" y="1490.2" width="32.3" height="2.8" fill="url(#hd12)"/>
<rect x="836.1" y="1492.7" width="33.6" height="2.8" fill="url(#hd12)"/>
<rect x="836.3" y="1495.2" width="33.6" height="2.8" fill="url(#hd12)"/>
<rect x="837" y="1497.7" width="32.3" height="2.8" fill="url(#hd12)"/>
<rect x="837.5" y="1500.2" width="31.5" height="2.8" fill="url(#hd12)"/>
<rect x="836.5" y="1502.8" width="33.5" height="2.8" fill="url(#hd12)"/>
<rect x="836.6" y="1505.3" width="33.1" height="2.8" fill="url(#hd12)"/>
<rect x="836" y="1507.8" width="33.3" height="2.8" fill="url(#hd12)"/>
<rect x="837.6" y="1510.3" width="31.2" height="2.8" fill="url(#hd12)"/>
<rect x="837.4" y="1512.8" width="31.7" height="2.8" fill="url(#hd12)"/>
<rect x="837.2" y="1515.3" width="32.6" height="2.8" fill="url(#hd12)"/>
<rect x="837.3" y="1517.8" width="31" height="2.8" fill="url(#hd12)"/>
<rect x="837" y="1520.4" width="31.5" height="2.8" fill="url(#hd12)"/>
<rect x="836.7" y="1522.9" width="32.6" height="2.8" fill="url(#hd12)"/>
<rect x="837.3" y="1525.4" width="31.8" height="2.8" fill="url(#hd12)"/>
<rect x="837.4" y="1527.9" width="32" height="2.8" fill="url(#hd12)"/>
<rect x="836.4" y="1530.4" width="33.1" height="2.8" fill="url(#hd12)"/>
<rect x="836.9" y="1532.9" width="31.6" height="2.8" fill="url(#hd12)"/>
<rect x="836.9" y="1535.4" width="32.9" height="2.8" fill="url(#hd12)"/>
<rect x="836.2" y="1538" width="33.2" height="2.8" fill="url(#hd12)"/>
<rect x="836.9" y="1540.5" width="31.9" height="2.8" fill="url(#hd12)"/>
<rect x="837.3" y="1543" width="31.7" height="2.8" fill="url(#hd12)"/>
<rect x="837.7" y="1545.5" width="31.4" height="2.8" fill="url(#hd12)"/>
<rect x="836.7" y="1548" width="31.8" height="2.8" fill="url(#hd12)"/>
<rect x="836.2" y="1550.5" width="32.8" height="2.8" fill="url(#hd12)"/>
<rect x="836.9" y="1553.1" width="32" height="2.8" fill="url(#hd12)"/>
<rect x="837.4" y="1555.6" width="30.6" height="2.8" fill="url(#hd12)"/>
<rect x="838.1" y="1558.1" width="30.5" height="2.8" fill="url(#hd12)"/>
<rect x="837.2" y="1560.6" width="30.8" height="2.8" fill="url(#hd12)"/>
<rect x="837.4" y="1563.1" width="31.5" height="2.8" fill="url(#hd12)"/>
<rect x="837.3" y="1565.6" width="32.4" height="2.8" fill="url(#hd12)"/>
<rect x="837.6" y="1568.1" width="30.8" height="2.8" fill="url(#hd12)"/>
<rect x="837.9" y="1570.7" width="30.3" height="2.8" fill="url(#hd12)"/>
<rect x="837.5" y="1573.2" width="30.7" height="2.8" fill="url(#hd12)"/>
<rect x="837.1" y="1575.7" width="32" height="2.8" fill="url(#hd12)"/>
<rect x="836.9" y="1578.2" width="32.1" height="2.8" fill="url(#hd12)"/>
<rect x="836.4" y="1580.7" width="32.4" height="2.8" fill="url(#hd12)"/>
<rect x="836.7" y="1583.2" width="32" height="2.8" fill="url(#hd12)"/>
<rect x="837.6" y="1585.8" width="31.7" height="2.8" fill="url(#hd12)"/>
<rect x="837.7" y="1588.3" width="31.5" height="2.8" fill="url(#hd12)"/>
<rect x="836.8" y="1590.8" width="32.4" height="2.8" fill="url(#hd12)"/>
<rect x="838" y="1593.3" width="30.5" height="2.8" fill="url(#hd12)"/>
<rect x="837.5" y="1595.8" width="31.6" height="2.8" fill="url(#hd12)"/>
<rect x="837.4" y="1598.3" width="32.2" height="2.8" fill="url(#hd11)"/>
<rect x="837.7" y="1600.8" width="31.2" height="2.8" fill="url(#hd12)"/>
<rect x="837.3" y="1603.4" width="32.1" height="2.8" fill="url(#hd11)"/>
<rect x="838" y="1605.9" width="30" height="2.8" fill="url(#hd11)"/>
<rect x="837.2" y="1608.4" width="31.7" height="2.8" fill="url(#hd12)"/>
<rect x="836.7" y="1610.9" width="31.8" height="2.8" fill="url(#hd11)"/>
<rect x="837.8" y="1613.4" width="30.2" height="2.8" fill="url(#hd12)"/>
<rect x="837.7" y="1615.9" width="30" height="2.8" fill="url(#hd12)"/>
<rect x="837.7" y="1618.5" width="31.5" height="2.8" fill="url(#hd11)"/>
<rect x="837.1" y="1621" width="32" height="2.8" fill="url(#hd11)"/>
<rect x="837.9" y="1623.5" width="29.8" height="2.8" fill="url(#hd12)"/>
<rect x="838.1" y="1626" width="30.3" height="2.8" fill="url(#hd11)"/>
<rect x="838" y="1628.5" width="30.8" height="2.8" fill="url(#hd11)"/>
<rect x="837.8" y="1631" width="30.3" height="2.8" fill="url(#hd11)"/>
<rect x="836.9" y="1633.5" width="31.7" height="2.8" fill="url(#hd11)"/>
<rect x="837.2" y="1636.1" width="31.8" height="2.8" fill="url(#hd11)"/>
<rect x="838.1" y="1638.6" width="29.9" height="2.8" fill="url(#hd11)"/>
<rect x="837.2" y="1641.1" width="30.8" height="2.8" fill="url(#hd11)"/>
<rect x="837.7" y="1643.6" width="30.6" height="2.8" fill="url(#hd11)"/>
<rect x="837.7" y="1646.1" width="30.7" height="2.8" fill="url(#hd11)"/>
<rect x="838.4" y="1648.6" width="29.4" height="2.8" fill="url(#hd11)"/>
<rect x="837.7" y="1651.2" width="31.6" height="2.8" fill="url(#hd11)"/>
<rect x="837.5" y="1653.7" width="30.3" height="2.8" fill="url(#hd11)"/>
<rect x="837.9" y="1656.2" width="31.1" height="2.8" fill="url(#hd11)"/>
</g>
<path d="M815.1 1495.4h75.9M815.1 1445.7h75.9M815.1 1406.5h75.9M815.1 1539.5h75.9M815.1 1635.4h75.9M815.1 1387.2h75.9M815.1 1589.9h75.9M815.1 1353.9h75.9M815.1 1407.3h75.9M815.1 1417.7h75.9M815.1 1561.1h75.9M815.1 1447.3h75.9M815.1 1457.6h75.9M815.1 1540.1h75.9M815.1 1379.5h75.9M815.1 1574.8h75.9M815.1 1385.1h75.9M815.1 1506h75.9M815.1 1424.9h75.9M815.1 1408.5h75.9M815.1 1512.2h75.9M815.1 1483h75.9M815.1 1464h75.9M815.1 1475.7h75.9M815.1 1511.9h75.9M815.1 1396.6h75.9M815.1 1410.5h75.9M815.1 1543.7h75.9M815.1 1545.9h75.9M815.1 1512h75.9M815.1 1612.3h75.9M815.1 1537.6h75.9M815.1 1614h75.9M815.1 1419.4h75.9M815.1 1577.8h75.9M815.1 1599.6h75.9M815.1 1628.3h75.9M815.1 1445.3h75.9M815.1 1445h75.9M815.1 1634.6h75.9" stroke="#fff" stroke-width="0.7" opacity="0.12"/>
</g>
<rect x="815.1" y="1346.8" width="75.9" height="311.9" fill="none" stroke="#555" stroke-width="1.1"/>
<line x1="815.1" y1="1347.4" x2="891" y2="1347.4" stroke-width="1.8" stroke="#555"/>
<g clip-path="url(#chd2)">
<rect x="914.1" y="1346.8" width="75.1" height="311.9" fill="#f4f2f8"/>
<g filter="url(#hb)">
<rect x="901" y="1346.8" width="101.5" height="2.8" fill="url(#hd210)"/>
<rect x="903.9" y="1349.3" width="95.3" height="2.8" fill="url(#hd29)"/>
<rect x="901.6" y="1351.8" width="100.5" height="2.8" fill="url(#hd210)"/>
<rect x="903.1" y="1354.3" width="97.4" height="2.8" fill="url(#hd210)"/>
<rect x="903.6" y="1356.9" width="95.3" height="2.8" fill="url(#hd29)"/>
<rect x="906.3" y="1359.4" width="91.3" height="2.8" fill="url(#hd210)"/>
<rect x="904" y="1361.9" width="94.9" height="2.8" fill="url(#hd29)"/>
<rect x="903.7" y="1364.4" width="94.9" height="2.8" fill="url(#hd210)"/>
<rect x="904.5" y="1366.9" width="94.3" height="2.8" fill="url(#hd29)"/>
<rect x="905.3" y="1369.4" width="93.7" height="2.8" fill="url(#hd29)"/>
<rect x="907" y="1372" width="88.5" height="2.8" fill="url(#hd29)"/>
<rect x="906.9" y="1374.5" width="88.8" height="2.8" fill="url(#hd210)"/>
<rect x="909.5" y="1377" width="83.7" height="2.8" fill="url(#hd210)"/>
<rect x="909.1" y="1379.5" width="85" height="2.8" fill="url(#hd210)"/>
<rect x="909.3" y="1382" width="84.4" height="2.8" fill="url(#hd210)"/>
<rect x="909.7" y="1384.5" width="84.9" height="2.8" fill="url(#hd29)"/>
<rect x="909.8" y="1387" width="83.4" height="2.8" fill="url(#hd210)"/>
<rect x="910.6" y="1389.6" width="82.4" height="2.8" fill="url(#hd210)"/>
<rect x="912.3" y="1392.1" width="78.3" height="2.8" fill="url(#hd29)"/>
<rect x="911.2" y="1394.6" width="80.9" height="2.8" fill="url(#hd210)"/>
<rect x="911.7" y="1397.1" width="79.8" height="2.8" fill="url(#hd29)"/>
<rect x="914.1" y="1399.6" width="75" height="2.8" fill="url(#hd210)"/>
<rect x="912.7" y="1402.1" width="77.2" height="2.8" fill="url(#hd210)"/>
<rect x="915.6" y="1404.7" width="72.5" height="2.8" fill="url(#hd210)"/>
<rect x="915.5" y="1407.2" width="72" height="2.8" fill="url(#hd29)"/>
<rect x="916.7" y="1409.7" width="69.8" height="2.8" fill="url(#hd210)"/>
<rect x="916.5" y="1412.2" width="70.3" height="2.8" fill="url(#hd29)"/>
<rect x="916.8" y="1414.7" width="70.6" height="2.8" fill="url(#hd210)"/>
<rect x="915.4" y="1417.2" width="72.3" height="2.8" fill="url(#hd29)"/>
<rect x="916.9" y="1419.7" width="70.4" height="2.8" fill="url(#hd29)"/>
<rect x="918.4" y="1422.3" width="67" height="2.8" fill="url(#hd29)"/>
<rect x="918.2" y="1424.8" width="66" height="2.8" fill="url(#hd29)"/>
<rect x="918.5" y="1427.3" width="67.2" height="2.8" fill="url(#hd29)"/>
<rect x="918.3" y="1429.8" width="65.7" height="2.8" fill="url(#hd210)"/>
<rect x="918.8" y="1432.3" width="66.4" height="2.8" fill="url(#hd29)"/>
<rect x="920.3" y="1434.8" width="62.7" height="2.8" fill="url(#hd210)"/>
<rect x="919.5" y="1437.4" width="63.9" height="2.8" fill="url(#hd210)"/>
<rect x="919.1" y="1439.9" width="64.4" height="2.8" fill="url(#hd210)"/>
<rect x="919.7" y="1442.4" width="63.4" height="2.8" fill="url(#hd29)"/>
<rect x="921.4" y="1444.9" width="60.8" height="2.8" fill="url(#hd210)"/>
<rect x="922.2" y="1447.4" width="58.5" height="2.8" fill="url(#hd210)"/>
<rect x="921.9" y="1449.9" width="59.9" height="2.8" fill="url(#hd29)"/>
<rect x="921.5" y="1452.4" width="60.1" height="2.8" fill="url(#hd29)"/>
<rect x="923.6" y="1455" width="57.1" height="2.8" fill="url(#hd29)"/>
<rect x="923.5" y="1457.5" width="57.2" height="2.8" fill="url(#hd210)"/>
<rect x="923.1" y="1460" width="56.9" height="2.8" fill="url(#hd210)"/>
<rect x="923.6" y="1462.5" width="56.7" height="2.8" fill="url(#hd210)"/>
<rect x="924.8" y="1465" width="53.4" height="2.8" fill="url(#hd210)"/>
<rect x="924.4" y="1467.5" width="53.5" height="2.8" fill="url(#hd210)"/>
<rect x="924.9" y="1470.1" width="54.1" height="2.8" fill="url(#hd210)"/>
<rect x="925" y="1472.6" width="53.3" height="2.8" fill="url(#hd210)"/>
<rect x="926.1" y="1475.1" width="50.3" height="2.8" fill="url(#hd210)"/>
<rect x="927.5" y="1477.6" width="49.2" height="2.8" fill="url(#hd29)"/>
<rect x="927.1" y="1480.1" width="49.3" height="2.8" fill="url(#hd210)"/>
<rect x="927.6" y="1482.6" width="48.4" height="2.8" fill="url(#hd29)"/>
<rect x="928.3" y="1485.1" width="46.5" height="2.8" fill="url(#hd29)"/>
<rect x="927.5" y="1487.7" width="47.7" height="2.8" fill="url(#hd29)"/>
<rect x="928.9" y="1490.2" width="45.9" height="2.8" fill="url(#hd29)"/>
<rect x="928.7" y="1492.7" width="46.9" height="2.8" fill="url(#hd29)"/>
<rect x="929.5" y="1495.2" width="44.2" height="2.8" fill="url(#hd29)"/>
<rect x="929.6" y="1497.7" width="44.4" height="2.8" fill="url(#hd29)"/>
<rect x="929.3" y="1500.2" width="44.3" height="2.8" fill="url(#hd29)"/>
<rect x="930" y="1502.8" width="43.1" height="2.8" fill="url(#hd29)"/>
<rect x="929.8" y="1505.3" width="43.5" height="2.8" fill="url(#hd29)"/>
<rect x="928.8" y="1507.8" width="45.7" height="2.8" fill="url(#hd28)"/>
<rect x="930.3" y="1510.3" width="42.7" height="2.8" fill="url(#hd29)"/>
<rect x="929.1" y="1512.8" width="44.7" height="2.8" fill="url(#hd29)"/>
<rect x="929.8" y="1515.3" width="44.4" height="2.8" fill="url(#hd28)"/>
<rect x="930.4" y="1517.8" width="42.9" height="2.8" fill="url(#hd28)"/>
<rect x="930.3" y="1520.4" width="43.1" height="2.8" fill="url(#hd28)"/>
<rect x="930.7" y="1522.9" width="42.3" height="2.8" fill="url(#hd29)"/>
<rect x="930.2" y="1525.4" width="42.5" height="2.8" fill="url(#hd28)"/>
<rect x="931" y="1527.9" width="41" height="2.8" fill="url(#hd28)"/>
<rect x="931.6" y="1530.4" width="40.2" height="2.8" fill="url(#hd28)"/>
<rect x="932.3" y="1532.9" width="39.2" height="2.8" fill="url(#hd28)"/>
<rect x="930.9" y="1535.4" width="41.7" height="2.8" fill="url(#hd28)"/>
<rect x="931.6" y="1538" width="41" height="2.8" fill="url(#hd28)"/>
<rect x="932.7" y="1540.5" width="38.2" height="2.8" fill="url(#hd27)"/>
<rect x="932.3" y="1543" width="39.2" height="2.8" fill="url(#hd28)"/>
<rect x="932" y="1545.5" width="38.8" height="2.8" fill="url(#hd27)"/>
<rect x="932.7" y="1548" width="37.6" height="2.8" fill="url(#hd27)"/>
<rect x="932.1" y="1550.5" width="38.4" height="2.8" fill="url(#hd27)"/>
<rect x="934" y="1553.1" width="36.3" height="2.8" fill="url(#hd27)"/>
<rect x="934.4" y="1555.6" width="35.3" height="2.8" fill="url(#hd27)"/>
<rect x="933" y="1558.1" width="37" height="2.8" fill="url(#hd27)"/>
<rect x="933.7" y="1560.6" width="35.1" height="2.8" fill="url(#hd27)"/>
<rect x="933.3" y="1563.1" width="36.1" height="2.8" fill="url(#hd27)"/>
<rect x="934.8" y="1565.6" width="33.4" height="2.8" fill="url(#hd27)"/>
<rect x="934.6" y="1568.1" width="33.4" height="2.8" fill="url(#hd26)"/>
<rect x="934.7" y="1570.7" width="33.3" height="2.8" fill="url(#hd27)"/>
<rect x="935.6" y="1573.2" width="32.8" height="2.8" fill="url(#hd26)"/>
<rect x="935.9" y="1575.7" width="31.8" height="2.8" fill="url(#hd26)"/>
<rect x="935.5" y="1578.2" width="32.3" height="2.8" fill="url(#hd26)"/>
<rect x="935.3" y="1580.7" width="32.7" height="2.8" fill="url(#hd26)"/>
<rect x="936.1" y="1583.2" width="31.4" height="2.8" fill="url(#hd26)"/>
<rect x="936.3" y="1585.8" width="30.8" height="2.8" fill="url(#hd26)"/>
<rect x="937.1" y="1588.3" width="30" height="2.8" fill="url(#hd26)"/>
<rect x="936.4" y="1590.8" width="31" height="2.8" fill="url(#hd25)"/>
<rect x="936.5" y="1593.3" width="30.1" height="2.8" fill="url(#hd26)"/>
<rect x="937.2" y="1595.8" width="29.4" height="2.8" fill="url(#hd25)"/>
<rect x="937.3" y="1598.3" width="27.9" height="2.8" fill="url(#hd25)"/>
<rect x="937.5" y="1600.8" width="27.3" height="2.8" fill="url(#hd25)"/>
<rect x="937.6" y="1603.4" width="27.2" height="2.8" fill="url(#hd25)"/>
<rect x="938.3" y="1605.9" width="27.6" height="2.8" fill="url(#hd25)"/>
<rect x="938.4" y="1608.4" width="27.4" height="2.8" fill="url(#hd25)"/>
<rect x="939.2" y="1610.9" width="25.8" height="2.8" fill="url(#hd24)"/>
<rect x="939.2" y="1613.4" width="25.3" height="2.8" fill="url(#hd24)"/>
<rect x="938.7" y="1615.9" width="25.6" height="2.8" fill="url(#hd24)"/>
<rect x="939.7" y="1618.5" width="24.2" height="2.8" fill="url(#hd24)"/>
<rect x="939.2" y="1621" width="25.5" height="2.8" fill="url(#hd24)"/>
<rect x="939.5" y="1623.5" width="23.8" height="2.8" fill="url(#hd24)"/>
<rect x="939.9" y="1626" width="23.8" height="2.8" fill="url(#hd24)"/>
<rect x="940.2" y="1628.5" width="22.8" height="2.8" fill="url(#hd23)"/>
<rect x="940.1" y="1631" width="23.5" height="2.8" fill="url(#hd23)"/>
<rect x="940.8" y="1633.5" width="22.4" height="2.8" fill="url(#hd23)"/>
<rect x="940.2" y="1636.1" width="22.2" height="2.8" fill="url(#hd23)"/>
<rect x="940.5" y="1638.6" width="22" height="2.8" fill="url(#hd23)"/>
<rect x="941.1" y="1641.1" width="21.4" height="2.8" fill="url(#hd22)"/>
<rect x="941.5" y="1643.6" width="21.3" height="2.8" fill="url(#hd22)"/>
<rect x="941.3" y="1646.1" width="20.5" height="2.8" fill="url(#hd22)"/>
<rect x="941.3" y="1648.6" width="20.9" height="2.8" fill="url(#hd22)"/>
<rect x="941.6" y="1651.2" width="20.3" height="2.8" fill="url(#hd22)"/>
<rect x="941.6" y="1653.7" width="19.6" height="2.8" fill="url(#hd22)"/>
<rect x="941.4" y="1656.2" width="20.3" height="2.8" fill="url(#hd22)"/>
</g>
<path d="M914.1 1503.5h75.1M914.1 1490.2h75.1M914.1 1400.8h75.1M914.1 1471.5h75.1M914.1 1410.7h75.1M914.1 1447.3h75.1M914.1 1461.3h75.1M914.1 1455.9h75.1M914.1 1639.3h75.1M914.1 1439.4h75.1M914.1 1450.5h75.1M914.1 1551.9h75.1M914.1 1470.7h75.1M914.1 1507.7h75.1M914.1 1548.8h75.1M914.1 1369.8h75.1M914.1 1556.3h75.1M914.1 1378.4h75.1M914.1 1424.8h75.1M914.1 1599.4h75.1M914.1 1655.4h75.1M914.1 1556.9h75.1M914.1 1400.3h75.1M914.1 1483.5h75.1M914.1 1435h75.1M914.1 1609.2h75.1M914.1 1419.5h75.1M914.1 1408h75.1M914.1 1545.8h75.1M914.1 1545.5h75.1M914.1 1530.7h75.1M914.1 1496.2h75.1M914.1 1645.9h75.1M914.1 1489.8h75.1M914.1 1639.1h75.1M914.1 1469h75.1M914.1 1491.9h75.1M914.1 1458.9h75.1M914.1 1569.8h75.1M914.1 1581.2h75.1" stroke="#fff" stroke-width="0.7" opacity="0.12"/>
</g>
<rect x="914.1" y="1346.8" width="75.1" height="311.9" fill="none" stroke="#555" stroke-width="1.1"/>
<line x1="914.1" y1="1347.4" x2="989.2" y2="1347.4" stroke-width="1.8" stroke="#555"/>
<g clip-path="url(#chd3)">
<rect x="996.7" y="1346.8" width="75.4" height="311.9" fill="#f4f2f8"/>
<g filter="url(#hb)">
<rect x="997.8" y="1346.8" width="73.5" height="2.8" fill="url(#hd39)"/>
<rect x="999.6" y="1349.3" width="69.1" height="2.8" fill="url(#hd39)"/>
<rect x="1000.7" y="1351.8" width="67.8" height="2.8" fill="url(#hd39)"/>
<rect x="1000.1" y="1354.3" width="67.9" height="2.8" fill="url(#hd38)"/>
<rect x="1001.8" y="1356.9" width="65.8" height="2.8" fill="url(#hd38)"/>
<rect x="1003.1" y="1359.4" width="62.1" height="2.8" fill="url(#hd38)"/>
<rect x="1002.2" y="1361.9" width="65" height="2.8" fill="url(#hd38)"/>
<rect x="1003.1" y="1364.4" width="63.1" height="2.8" fill="url(#hd38)"/>
<rect x="1003.5" y="1366.9" width="61.4" height="2.8" fill="url(#hd38)"/>
<rect x="1005.5" y="1369.4" width="58.3" height="2.8" fill="url(#hd38)"/>
<rect x="1006" y="1372" width="56.5" height="2.8" fill="url(#hd37)"/>
<rect x="1006.8" y="1374.5" width="54.4" height="2.8" fill="url(#hd37)"/>
<rect x="1007.3" y="1377" width="55.1" height="2.8" fill="url(#hd37)"/>
<rect x="1007.9" y="1379.5" width="53.4" height="2.8" fill="url(#hd37)"/>
<rect x="1007.7" y="1382" width="53.3" height="2.8" fill="url(#hd37)"/>
<rect x="1009.1" y="1384.5" width="50.7" height="2.8" fill="url(#hd36)"/>
<rect x="1008.9" y="1387" width="51.2" height="2.8" fill="url(#hd36)"/>
<rect x="1009.8" y="1389.6" width="49.3" height="2.8" fill="url(#hd36)"/>
<rect x="1009.6" y="1392.1" width="49.1" height="2.8" fill="url(#hd36)"/>
<rect x="1010.6" y="1394.6" width="47.8" height="2.8" fill="url(#hd36)"/>
<rect x="1010.4" y="1397.1" width="48.5" height="2.8" fill="url(#hd37)"/>
<rect x="1010.8" y="1399.6" width="46.6" height="2.8" fill="url(#hd36)"/>
<rect x="1010" y="1402.1" width="49" height="2.8" fill="url(#hd36)"/>
<rect x="1011.4" y="1404.7" width="46.8" height="2.8" fill="url(#hd36)"/>
<rect x="1010.3" y="1407.2" width="47.6" height="2.8" fill="url(#hd36)"/>
<rect x="1011.9" y="1409.7" width="45.4" height="2.8" fill="url(#hd36)"/>
<rect x="1011" y="1412.2" width="47" height="2.8" fill="url(#hd35)"/>
<rect x="1012.7" y="1414.7" width="43.6" height="2.8" fill="url(#hd36)"/>
<rect x="1012.1" y="1417.2" width="44.4" height="2.8" fill="url(#hd35)"/>
<rect x="1012.7" y="1419.7" width="42.9" height="2.8" fill="url(#hd35)"/>
<rect x="1012.3" y="1422.3" width="43.5" height="2.8" fill="url(#hd35)"/>
<rect x="1014.1" y="1424.8" width="40.8" height="2.8" fill="url(#hd35)"/>
<rect x="1013" y="1427.3" width="41.8" height="2.8" fill="url(#hd35)"/>
<rect x="1013.7" y="1429.8" width="40.5" height="2.8" fill="url(#hd35)"/>
<rect x="1013" y="1432.3" width="42" height="2.8" fill="url(#hd34)"/>
<rect x="1015" y="1434.8" width="39.1" height="2.8" fill="url(#hd35)"/>
<rect x="1014.7" y="1437.4" width="39.1" height="2.8" fill="url(#hd34)"/>
<rect x="1015.7" y="1439.9" width="37.1" height="2.8" fill="url(#hd35)"/>
<rect x="1014.6" y="1442.4" width="39.6" height="2.8" fill="url(#hd34)"/>
<rect x="1015.1" y="1444.9" width="38.3" height="2.8" fill="url(#hd34)"/>
<rect x="1016.1" y="1447.4" width="37.3" height="2.8" fill="url(#hd34)"/>
<rect x="1016.5" y="1449.9" width="36.2" height="2.8" fill="url(#hd34)"/>
<rect x="1016.6" y="1452.4" width="35.8" height="2.8" fill="url(#hd34)"/>
<rect x="1016.5" y="1455" width="35.3" height="2.8" fill="url(#hd34)"/>
<rect x="1016.3" y="1457.5" width="35.2" height="2.8" fill="url(#hd34)"/>
<rect x="1017.7" y="1460" width="34" height="2.8" fill="url(#hd34)"/>
<rect x="1018" y="1462.5" width="33.4" height="2.8" fill="url(#hd34)"/>
<rect x="1017.3" y="1465" width="34.3" height="2.8" fill="url(#hd34)"/>
<rect x="1017.7" y="1467.5" width="33.3" height="2.8" fill="url(#hd34)"/>
<rect x="1016.8" y="1470.1" width="34.4" height="2.8" fill="url(#hd33)"/>
<rect x="1018.1" y="1472.6" width="32.3" height="2.8" fill="url(#hd34)"/>
<rect x="1018.4" y="1475.1" width="31.4" height="2.8" fill="url(#hd33)"/>
<rect x="1018.8" y="1477.6" width="32" height="2.8" fill="url(#hd33)"/>
<rect x="1019.2" y="1480.1" width="30.5" height="2.8" fill="url(#hd33)"/>
<rect x="1018.2" y="1482.6" width="32" height="2.8" fill="url(#hd33)"/>
<rect x="1018.6" y="1485.1" width="30.9" height="2.8" fill="url(#hd33)"/>
<rect x="1019.9" y="1487.7" width="29.8" height="2.8" fill="url(#hd33)"/>
<rect x="1019.3" y="1490.2" width="29.9" height="2.8" fill="url(#hd33)"/>
<rect x="1019" y="1492.7" width="30.2" height="2.8" fill="url(#hd33)"/>
<rect x="1020.1" y="1495.2" width="29.5" height="2.8" fill="url(#hd33)"/>
<rect x="1019.5" y="1497.7" width="29.6" height="2.8" fill="url(#hd33)"/>
<rect x="1020.5" y="1500.2" width="28.5" height="2.8" fill="url(#hd33)"/>
<rect x="1020.5" y="1502.8" width="27.1" height="2.8" fill="url(#hd33)"/>
<rect x="1020.2" y="1505.3" width="28.5" height="2.8" fill="url(#hd33)"/>
<rect x="1019.8" y="1507.8" width="28.8" height="2.8" fill="url(#hd32)"/>
<rect x="1020.6" y="1510.3" width="26.7" height="2.8" fill="url(#hd32)"/>
<rect x="1021.3" y="1512.8" width="26.7" height="2.8" fill="url(#hd33)"/>
<rect x="1020.4" y="1515.3" width="28.5" height="2.8" fill="url(#hd33)"/>
<rect x="1020.9" y="1517.8" width="27.6" height="2.8" fill="url(#hd32)"/>
<rect x="1021.3" y="1520.4" width="26.8" height="2.8" fill="url(#hd32)"/>
<rect x="1021.5" y="1522.9" width="26.7" height="2.8" fill="url(#hd32)"/>
<rect x="1021.4" y="1525.4" width="26.5" height="2.8" fill="url(#hd32)"/>
<rect x="1021" y="1527.9" width="25.8" height="2.8" fill="url(#hd32)"/>
<rect x="1021.6" y="1530.4" width="26.4" height="2.8" fill="url(#hd32)"/>
<rect x="1021" y="1532.9" width="27.5" height="2.8" fill="url(#hd32)"/>
<rect x="1020.8" y="1535.4" width="27.6" height="2.8" fill="url(#hd32)"/>
<rect x="1021.4" y="1538" width="26" height="2.8" fill="url(#hd32)"/>
<rect x="1020.9" y="1540.5" width="26.5" height="2.8" fill="url(#hd32)"/>
<rect x="1021" y="1543" width="26.2" height="2.8" fill="url(#hd32)"/>
<rect x="1022.1" y="1545.5" width="25.2" height="2.8" fill="url(#hd32)"/>
<rect x="1021.9" y="1548" width="25.2" height="2.8" fill="url(#hd32)"/>
<rect x="1021" y="1550.5" width="26.8" height="2.8" fill="url(#hd32)"/>
<rect x="1020.8" y="1553.1" width="26.6" height="2.8" fill="url(#hd32)"/>
<rect x="1021.3" y="1555.6" width="26.1" height="2.8" fill="url(#hd32)"/>
<rect x="1022.4" y="1558.1" width="24.7" height="2.8" fill="url(#hd32)"/>
<rect x="1020.9" y="1560.6" width="26.3" height="2.8" fill="url(#hd32)"/>
<rect x="1022.1" y="1563.1" width="25.5" height="2.8" fill="url(#hd32)"/>
<rect x="1021.8" y="1565.6" width="25.3" height="2.8" fill="url(#hd32)"/>
<rect x="1021.3" y="1568.1" width="25.3" height="2.8" fill="url(#hd32)"/>
<rect x="1021.4" y="1570.7" width="25.7" height="2.8" fill="url(#hd32)"/>
<rect x="1022.5" y="1573.2" width="24.1" height="2.8" fill="url(#hd32)"/>
<rect x="1021.8" y="1575.7" width="25.8" height="2.8" fill="url(#hd32)"/>
<rect x="1022" y="1578.2" width="25.6" height="2.8" fill="url(#hd32)"/>
<rect x="1021.9" y="1580.7" width="25.4" height="2.8" fill="url(#hd32)"/>
<rect x="1022" y="1583.2" width="24.9" height="2.8" fill="url(#hd32)"/>
<rect x="1022.7" y="1585.8" width="23.8" height="2.8" fill="url(#hd32)"/>
<rect x="1022.8" y="1588.3" width="23.5" height="2.8" fill="url(#hd32)"/>
<rect x="1022.5" y="1590.8" width="24.3" height="2.8" fill="url(#hd32)"/>
<rect x="1022.7" y="1593.3" width="24" height="2.8" fill="url(#hd32)"/>
<rect x="1022.2" y="1595.8" width="24.2" height="2.8" fill="url(#hd32)"/>
<rect x="1022.9" y="1598.3" width="23.9" height="2.8" fill="url(#hd32)"/>
<rect x="1022.7" y="1600.8" width="24.2" height="2.8" fill="url(#hd32)"/>
<rect x="1022.2" y="1603.4" width="23.5" height="2.8" fill="url(#hd32)"/>
<rect x="1023" y="1605.9" width="23.5" height="2.8" fill="url(#hd31)"/>
<rect x="1022.1" y="1608.4" width="24.5" height="2.8" fill="url(#hd32)"/>
<rect x="1022.9" y="1610.9" width="23.6" height="2.8" fill="url(#hd31)"/>
<rect x="1022.6" y="1613.4" width="22.8" height="2.8" fill="url(#hd31)"/>
<rect x="1023.4" y="1615.9" width="22.9" height="2.8" fill="url(#hd31)"/>
<rect x="1022.2" y="1618.5" width="24" height="2.8" fill="url(#hd31)"/>
<rect x="1022" y="1621" width="23.9" height="2.8" fill="url(#hd31)"/>
<rect x="1022.8" y="1623.5" width="22.3" height="2.8" fill="url(#hd31)"/>
<rect x="1022.9" y="1626" width="22.3" height="2.8" fill="url(#hd31)"/>
<rect x="1022.4" y="1628.5" width="23.1" height="2.8" fill="url(#hd31)"/>
<rect x="1023.4" y="1631" width="22.8" height="2.8" fill="url(#hd31)"/>
<rect x="1023.1" y="1633.5" width="22.9" height="2.8" fill="url(#hd31)"/>
<rect x="1022.5" y="1636.1" width="23.1" height="2.8" fill="url(#hd31)"/>
<rect x="1023.1" y="1638.6" width="22.5" height="2.8" fill="url(#hd31)"/>
<rect x="1022.7" y="1641.1" width="22.7" height="2.8" fill="url(#hd31)"/>
<rect x="1023.3" y="1643.6" width="22" height="2.8" fill="url(#hd31)"/>
<rect x="1023.7" y="1646.1" width="21.6" height="2.8" fill="url(#hd31)"/>
<rect x="1022.9" y="1648.6" width="22.6" height="2.8" fill="url(#hd31)"/>
<rect x="1024" y="1651.2" width="21.1" height="2.8" fill="url(#hd31)"/>
<rect x="1023.7" y="1653.7" width="22.3" height="2.8" fill="url(#hd31)"/>
<rect x="1023.1" y="1656.2" width="22.1" height="2.8" fill="url(#hd31)"/>
</g>
<path d="M996.7 1442.1h75.4M996.7 1379h75.4M996.7 1484.5h75.4M996.7 1379.3h75.4M996.7 1566.5h75.4M996.7 1526.3h75.4M996.7 1477.8h75.4M996.7 1568.2h75.4M996.7 1419.6h75.4M996.7 1450.3h75.4M996.7 1460.2h75.4M996.7 1347.4h75.4M996.7 1623.4h75.4M996.7 1374.3h75.4M996.7 1378.3h75.4M996.7 1595.7h75.4M996.7 1602.1h75.4M996.7 1486.4h75.4M996.7 1478.2h75.4M996.7 1390.2h75.4M996.7 1347.2h75.4M996.7 1509.1h75.4M996.7 1422.8h75.4M996.7 1393.9h75.4M996.7 1629.3h75.4M996.7 1352.8h75.4M996.7 1459.8h75.4M996.7 1581.2h75.4M996.7 1579.7h75.4M996.7 1380.2h75.4M996.7 1578.3h75.4M996.7 1522.5h75.4M996.7 1543.3h75.4M996.7 1641h75.4M996.7 1595.9h75.4M996.7 1533.7h75.4M996.7 1586.9h75.4M996.7 1500.2h75.4M996.7 1518.9h75.4M996.7 1601.8h75.4" stroke="#fff" stroke-width="0.7" opacity="0.12"/>
</g>
<rect x="996.7" y="1346.8" width="75.4" height="311.9" fill="none" stroke="#555" stroke-width="1.1"/>
<line x1="996.7" y1="1347.4" x2="1072.1" y2="1347.4" stroke-width="1.8" stroke="#555"/>
<g clip-path="url(#chd4)">
<rect x="1095.3" y="1346.8" width="76.2" height="311.9" fill="#fee9d4"/>
<g filter="url(#hb)">
<rect x="1102.7" y="1346.8" width="61.7" height="2.8" fill="url(#hd410)"/>
<rect x="1103.6" y="1349.3" width="59.1" height="2.8" fill="url(#hd410)"/>
<rect x="1103" y="1351.8" width="60.4" height="2.8" fill="url(#hd410)"/>
<rect x="1104.4" y="1354.3" width="58.6" height="2.8" fill="url(#hd410)"/>
<rect x="1105.2" y="1356.9" width="57.3" height="2.8" fill="url(#hd410)"/>
<rect x="1105.2" y="1359.4" width="57" height="2.8" fill="url(#hd410)"/>
<rect x="1105.5" y="1361.9" width="55.9" height="2.8" fill="url(#hd410)"/>
<rect x="1105.8" y="1364.4" width="55.5" height="2.8" fill="url(#hd410)"/>
<rect x="1105.1" y="1366.9" width="55.7" height="2.8" fill="url(#hd410)"/>
<rect x="1104.3" y="1369.4" width="58.1" height="2.8" fill="url(#hd410)"/>
<rect x="1105.9" y="1372" width="55.2" height="2.8" fill="url(#hd410)"/>
<rect x="1105.1" y="1374.5" width="55.7" height="2.8" fill="url(#hd410)"/>
<rect x="1105.6" y="1377" width="55" height="2.8" fill="url(#hd410)"/>
<rect x="1105.7" y="1379.5" width="55.5" height="2.8" fill="url(#hd410)"/>
<rect x="1106.6" y="1382" width="53.1" height="2.8" fill="url(#hd410)"/>
<rect x="1106.6" y="1384.5" width="52.8" height="2.8" fill="url(#hd410)"/>
<rect x="1107.9" y="1387" width="50.6" height="2.8" fill="url(#hd410)"/>
<rect x="1106.6" y="1389.6" width="52.7" height="2.8" fill="url(#hd49)"/>
<rect x="1108.6" y="1392.1" width="49.5" height="2.8" fill="url(#hd410)"/>
<rect x="1107.9" y="1394.6" width="50.8" height="2.8" fill="url(#hd410)"/>
<rect x="1108.5" y="1397.1" width="49.9" height="2.8" fill="url(#hd410)"/>
<rect x="1108.4" y="1399.6" width="49.5" height="2.8" fill="url(#hd49)"/>
<rect x="1107.5" y="1402.1" width="50.8" height="2.8" fill="url(#hd410)"/>
<rect x="1108.8" y="1404.7" width="49.4" height="2.8" fill="url(#hd49)"/>
<rect x="1109.4" y="1407.2" width="48.8" height="2.8" fill="url(#hd49)"/>
<rect x="1109.9" y="1409.7" width="47.1" height="2.8" fill="url(#hd410)"/>
<rect x="1110" y="1412.2" width="46.4" height="2.8" fill="url(#hd410)"/>
<rect x="1109.7" y="1414.7" width="47.4" height="2.8" fill="url(#hd49)"/>
<rect x="1109.8" y="1417.2" width="46.2" height="2.8" fill="url(#hd49)"/>
<rect x="1109.5" y="1419.7" width="48" height="2.8" fill="url(#hd49)"/>
<rect x="1109.5" y="1422.3" width="47.5" height="2.8" fill="url(#hd49)"/>
<rect x="1111.1" y="1424.8" width="43.9" height="2.8" fill="url(#hd49)"/>
<rect x="1111.7" y="1427.3" width="44.2" height="2.8" fill="url(#hd49)"/>
<rect x="1111.5" y="1429.8" width="43.9" height="2.8" fill="url(#hd49)"/>
<rect x="1111.8" y="1432.3" width="43.7" height="2.8" fill="url(#hd410)"/>
<rect x="1111.3" y="1434.8" width="44.4" height="2.8" fill="url(#hd49)"/>
<rect x="1111.1" y="1437.4" width="44.7" height="2.8" fill="url(#hd49)"/>
<rect x="1111.8" y="1439.9" width="43" height="2.8" fill="url(#hd49)"/>
<rect x="1112.1" y="1442.4" width="43.2" height="2.8" fill="url(#hd49)"/>
<rect x="1111.4" y="1444.9" width="44.2" height="2.8" fill="url(#hd49)"/>
<rect x="1111.4" y="1447.4" width="43.9" height="2.8" fill="url(#hd49)"/>
<rect x="1112.4" y="1449.9" width="41.2" height="2.8" fill="url(#hd49)"/>
<rect x="1111.9" y="1452.4" width="42.3" height="2.8" fill="url(#hd48)"/>
<rect x="1112.9" y="1455" width="41.2" height="2.8" fill="url(#hd48)"/>
<rect x="1112.1" y="1457.5" width="42" height="2.8" fill="url(#hd48)"/>
<rect x="1112.7" y="1460" width="40.6" height="2.8" fill="url(#hd48)"/>
<rect x="1113.9" y="1462.5" width="39.5" height="2.8" fill="url(#hd48)"/>
<rect x="1112.6" y="1465" width="40.9" height="2.8" fill="url(#hd48)"/>
<rect x="1112.9" y="1467.5" width="40.7" height="2.8" fill="url(#hd48)"/>
<rect x="1113.2" y="1470.1" width="40.4" height="2.8" fill="url(#hd49)"/>
<rect x="1113.5" y="1472.6" width="39.4" height="2.8" fill="url(#hd48)"/>
<rect x="1113.3" y="1475.1" width="40.8" height="2.8" fill="url(#hd48)"/>
<rect x="1113.9" y="1477.6" width="39.8" height="2.8" fill="url(#hd48)"/>
<rect x="1114.9" y="1480.1" width="37.7" height="2.8" fill="url(#hd48)"/>
<rect x="1113.6" y="1482.6" width="40.3" height="2.8" fill="url(#hd48)"/>
<rect x="1113" y="1485.1" width="39.9" height="2.8" fill="url(#hd48)"/>
<rect x="1114.2" y="1487.7" width="37.7" height="2.8" fill="url(#hd48)"/>
<rect x="1113.7" y="1490.2" width="38.3" height="2.8" fill="url(#hd48)"/>
<rect x="1114" y="1492.7" width="38.7" height="2.8" fill="url(#hd48)"/>
<rect x="1115.4" y="1495.2" width="37" height="2.8" fill="url(#hd48)"/>
<rect x="1114.6" y="1497.7" width="37.9" height="2.8" fill="url(#hd47)"/>
<rect x="1113.8" y="1500.2" width="38.6" height="2.8" fill="url(#hd47)"/>
<rect x="1114.7" y="1502.8" width="38.2" height="2.8" fill="url(#hd48)"/>
<rect x="1115.2" y="1505.3" width="36.4" height="2.8" fill="url(#hd48)"/>
<rect x="1114.1" y="1507.8" width="37.7" height="2.8" fill="url(#hd47)"/>
<rect x="1114.9" y="1510.3" width="37.5" height="2.8" fill="url(#hd47)"/>
<rect x="1114.8" y="1512.8" width="37.3" height="2.8" fill="url(#hd47)"/>
<rect x="1116" y="1515.3" width="35.6" height="2.8" fill="url(#hd47)"/>
<rect x="1115.8" y="1517.8" width="35.3" height="2.8" fill="url(#hd47)"/>
<rect x="1116.1" y="1520.4" width="35" height="2.8" fill="url(#hd47)"/>
<rect x="1115.7" y="1522.9" width="34.8" height="2.8" fill="url(#hd47)"/>
<rect x="1115.5" y="1525.4" width="35.8" height="2.8" fill="url(#hd46)"/>
<rect x="1115.7" y="1527.9" width="34.6" height="2.8" fill="url(#hd47)"/>
<rect x="1116.4" y="1530.4" width="33.6" height="2.8" fill="url(#hd46)"/>
<rect x="1116.3" y="1532.9" width="33.4" height="2.8" fill="url(#hd47)"/>
<rect x="1115.9" y="1535.4" width="34" height="2.8" fill="url(#hd47)"/>
<rect x="1116.5" y="1538" width="34.1" height="2.8" fill="url(#hd47)"/>
<rect x="1116.5" y="1540.5" width="33.2" height="2.8" fill="url(#hd47)"/>
<rect x="1116.9" y="1543" width="33.5" height="2.8" fill="url(#hd46)"/>
<rect x="1117.3" y="1545.5" width="32.6" height="2.8" fill="url(#hd46)"/>
<rect x="1116.9" y="1548" width="32.9" height="2.8" fill="url(#hd46)"/>
<rect x="1117.4" y="1550.5" width="31.9" height="2.8" fill="url(#hd46)"/>
<rect x="1117.3" y="1553.1" width="31.5" height="2.8" fill="url(#hd46)"/>
<rect x="1118.4" y="1555.6" width="30.7" height="2.8" fill="url(#hd46)"/>
<rect x="1117.3" y="1558.1" width="32.3" height="2.8" fill="url(#hd46)"/>
<rect x="1118.1" y="1560.6" width="31" height="2.8" fill="url(#hd45)"/>
<rect x="1117.8" y="1563.1" width="30.9" height="2.8" fill="url(#hd46)"/>
<rect x="1119" y="1565.6" width="29.4" height="2.8" fill="url(#hd46)"/>
<rect x="1118" y="1568.1" width="29.9" height="2.8" fill="url(#hd45)"/>
<rect x="1118.9" y="1570.7" width="29.7" height="2.8" fill="url(#hd45)"/>
<rect x="1118.9" y="1573.2" width="29" height="2.8" fill="url(#hd45)"/>
<rect x="1119" y="1575.7" width="28.5" height="2.8" fill="url(#hd45)"/>
<rect x="1118.9" y="1578.2" width="28.6" height="2.8" fill="url(#hd45)"/>
<rect x="1118.7" y="1580.7" width="29.3" height="2.8" fill="url(#hd45)"/>
<rect x="1120.1" y="1583.2" width="27.3" height="2.8" fill="url(#hd45)"/>
<rect x="1120.3" y="1585.8" width="26.8" height="2.8" fill="url(#hd45)"/>
<rect x="1119.2" y="1588.3" width="27.8" height="2.8" fill="url(#hd45)"/>
<rect x="1119.5" y="1590.8" width="26.9" height="2.8" fill="url(#hd45)"/>
<rect x="1120.5" y="1593.3" width="26.2" height="2.8" fill="url(#hd45)"/>
<rect x="1121.2" y="1595.8" width="25.1" height="2.8" fill="url(#hd45)"/>
<rect x="1120.9" y="1598.3" width="25.1" height="2.8" fill="url(#hd45)"/>
<rect x="1121" y="1600.8" width="25.4" height="2.8" fill="url(#hd44)"/>
<rect x="1120.5" y="1603.4" width="25" height="2.8" fill="url(#hd44)"/>
<rect x="1121.3" y="1605.9" width="24.9" height="2.8" fill="url(#hd44)"/>
<rect x="1120.6" y="1608.4" width="24.7" height="2.8" fill="url(#hd44)"/>
<rect x="1122.1" y="1610.9" width="23.4" height="2.8" fill="url(#hd44)"/>
<rect x="1121.6" y="1613.4" width="23.5" height="2.8" fill="url(#hd44)"/>
<rect x="1122.4" y="1615.9" width="22.4" height="2.8" fill="url(#hd44)"/>
<rect x="1122.5" y="1618.5" width="22.6" height="2.8" fill="url(#hd44)"/>
<rect x="1122.3" y="1621" width="22.1" height="2.8" fill="url(#hd43)"/>
<rect x="1122.2" y="1623.5" width="22.7" height="2.8" fill="url(#hd43)"/>
<rect x="1122.1" y="1626" width="21.7" height="2.8" fill="url(#hd43)"/>
<rect x="1122.4" y="1628.5" width="21.4" height="2.8" fill="url(#hd43)"/>
<rect x="1123" y="1631" width="21.5" height="2.8" fill="url(#hd43)"/>
<rect x="1122.3" y="1633.5" width="22" height="2.8" fill="url(#hd43)"/>
<rect x="1122.4" y="1636.1" width="21.9" height="2.8" fill="url(#hd43)"/>
<rect x="1122.7" y="1638.6" width="21.5" height="2.8" fill="url(#hd43)"/>
<rect x="1123.3" y="1641.1" width="21.1" height="2.8" fill="url(#hd43)"/>
<rect x="1122.8" y="1643.6" width="21.3" height="2.8" fill="url(#hd42)"/>
<rect x="1123.1" y="1646.1" width="20.1" height="2.8" fill="url(#hd42)"/>
<rect x="1124" y="1648.6" width="19.7" height="2.8" fill="url(#hd42)"/>
<rect x="1123.7" y="1651.2" width="19.6" height="2.8" fill="url(#hd42)"/>
<rect x="1123.5" y="1653.7" width="19.4" height="2.8" fill="url(#hd42)"/>
<rect x="1124.2" y="1656.2" width="18.9" height="2.8" fill="url(#hd42)"/>
</g>
<path d="M1095.3 1552.4h76.2M1095.3 1443.5h76.2M1095.3 1627.3h76.2M1095.3 1521.3h76.2M1095.3 1415.4h76.2M1095.3 1647.8h76.2M1095.3 1418.4h76.2M1095.3 1599.3h76.2M1095.3 1601.5h76.2M1095.3 1347.7h76.2M1095.3 1611h76.2M1095.3 1478h76.2M1095.3 1503.4h76.2M1095.3 1641.8h76.2M1095.3 1487.7h76.2M1095.3 1422.2h76.2M1095.3 1362.2h76.2M1095.3 1623h76.2M1095.3 1488.7h76.2M1095.3 1568.6h76.2M1095.3 1546.7h76.2M1095.3 1652.4h76.2M1095.3 1638.8h76.2M1095.3 1638.7h76.2M1095.3 1504.2h76.2M1095.3 1630.7h76.2M1095.3 1442.4h76.2M1095.3 1385.5h76.2M1095.3 1546.2h76.2M1095.3 1355.7h76.2M1095.3 1650.1h76.2M1095.3 1448.1h76.2M1095.3 1479.1h76.2M1095.3 1437.5h76.2M1095.3 1447.5h76.2M1095.3 1514.4h76.2M1095.3 1596.7h76.2M1095.3 1351.3h76.2M1095.3 1453.8h76.2M1095.3 1423.7h76.2" stroke="#fff" stroke-width="0.7" opacity="0.12"/>
</g>
<rect x="1095.3" y="1346.8" width="76.2" height="311.9" fill="none" stroke="#555" stroke-width="1.1"/>
<line x1="1095.3" y1="1347.4" x2="1171.5" y2="1347.4" stroke-width="1.8" stroke="#555"/>
<g clip-path="url(#chd5)">
<rect x="1177.8" y="1346.8" width="76.2" height="311.9" fill="#fee9d4"/>
<g filter="url(#hb)">
<rect x="1183.1" y="1346.8" width="66.1" height="2.8" fill="url(#hd510)"/>
<rect x="1180.6" y="1349.3" width="69.6" height="2.8" fill="url(#hd59)"/>
<rect x="1183.1" y="1351.8" width="66.2" height="2.8" fill="url(#hd510)"/>
<rect x="1184.6" y="1354.3" width="62.2" height="2.8" fill="url(#hd510)"/>
<rect x="1185.3" y="1356.9" width="60.7" height="2.8" fill="url(#hd510)"/>
<rect x="1185.4" y="1359.4" width="61.7" height="2.8" fill="url(#hd59)"/>
<rect x="1187.8" y="1361.9" width="57" height="2.8" fill="url(#hd59)"/>
<rect x="1188.2" y="1364.4" width="55.3" height="2.8" fill="url(#hd59)"/>
<rect x="1189.5" y="1366.9" width="52.9" height="2.8" fill="url(#hd59)"/>
<rect x="1189.7" y="1369.4" width="53.3" height="2.8" fill="url(#hd58)"/>
<rect x="1190.5" y="1372" width="51.4" height="2.8" fill="url(#hd59)"/>
<rect x="1190.8" y="1374.5" width="51.1" height="2.8" fill="url(#hd59)"/>
<rect x="1191.1" y="1377" width="48.9" height="2.8" fill="url(#hd58)"/>
<rect x="1190.9" y="1379.5" width="50.4" height="2.8" fill="url(#hd58)"/>
<rect x="1191.8" y="1382" width="48.9" height="2.8" fill="url(#hd58)"/>
<rect x="1192.1" y="1384.5" width="46.7" height="2.8" fill="url(#hd57)"/>
<rect x="1191.6" y="1387" width="48.7" height="2.8" fill="url(#hd58)"/>
<rect x="1192.2" y="1389.6" width="46.7" height="2.8" fill="url(#hd57)"/>
<rect x="1192.9" y="1392.1" width="45.4" height="2.8" fill="url(#hd58)"/>
<rect x="1192.5" y="1394.6" width="46.4" height="2.8" fill="url(#hd57)"/>
<rect x="1193.9" y="1397.1" width="43.9" height="2.8" fill="url(#hd57)"/>
<rect x="1193.6" y="1399.6" width="45.2" height="2.8" fill="url(#hd57)"/>
<rect x="1195" y="1402.1" width="41.7" height="2.8" fill="url(#hd57)"/>
<rect x="1194.6" y="1404.7" width="43.5" height="2.8" fill="url(#hd57)"/>
<rect x="1195" y="1407.2" width="40.9" height="2.8" fill="url(#hd57)"/>
<rect x="1194.3" y="1409.7" width="42.6" height="2.8" fill="url(#hd57)"/>
<rect x="1196" y="1412.2" width="40.7" height="2.8" fill="url(#hd56)"/>
<rect x="1196.7" y="1414.7" width="39" height="2.8" fill="url(#hd56)"/>
<rect x="1196.2" y="1417.2" width="39.9" height="2.8" fill="url(#hd56)"/>
<rect x="1195.5" y="1419.7" width="40.3" height="2.8" fill="url(#hd56)"/>
<rect x="1196.8" y="1422.3" width="37.8" height="2.8" fill="url(#hd56)"/>
<rect x="1196.4" y="1424.8" width="38.6" height="2.8" fill="url(#hd56)"/>
<rect x="1196.3" y="1427.3" width="39.3" height="2.8" fill="url(#hd56)"/>
<rect x="1196.6" y="1429.8" width="39.3" height="2.8" fill="url(#hd56)"/>
<rect x="1195.8" y="1432.3" width="39.2" height="2.8" fill="url(#hd56)"/>
<rect x="1197.2" y="1434.8" width="37.2" height="2.8" fill="url(#hd56)"/>
<rect x="1197.6" y="1437.4" width="36.2" height="2.8" fill="url(#hd55)"/>
<rect x="1198.1" y="1439.9" width="36.4" height="2.8" fill="url(#hd56)"/>
<rect x="1197.7" y="1442.4" width="36" height="2.8" fill="url(#hd55)"/>
<rect x="1197.3" y="1444.9" width="36.8" height="2.8" fill="url(#hd55)"/>
<rect x="1198.8" y="1447.4" width="34.9" height="2.8" fill="url(#hd55)"/>
<rect x="1199" y="1449.9" width="34.4" height="2.8" fill="url(#hd55)"/>
<rect x="1199" y="1452.4" width="34.7" height="2.8" fill="url(#hd55)"/>
<rect x="1198.9" y="1455" width="33.7" height="2.8" fill="url(#hd54)"/>
<rect x="1198.5" y="1457.5" width="34.7" height="2.8" fill="url(#hd55)"/>
<rect x="1199.2" y="1460" width="34.1" height="2.8" fill="url(#hd55)"/>
<rect x="1198.1" y="1462.5" width="34.9" height="2.8" fill="url(#hd54)"/>
<rect x="1198.7" y="1465" width="34.8" height="2.8" fill="url(#hd54)"/>
<rect x="1199.3" y="1467.5" width="33.8" height="2.8" fill="url(#hd54)"/>
<rect x="1199.6" y="1470.1" width="32.7" height="2.8" fill="url(#hd54)"/>
<rect x="1199.9" y="1472.6" width="32.2" height="2.8" fill="url(#hd54)"/>
<rect x="1200.1" y="1475.1" width="32" height="2.8" fill="url(#hd54)"/>
<rect x="1200.1" y="1477.6" width="32.3" height="2.8" fill="url(#hd54)"/>
<rect x="1199.4" y="1480.1" width="32.9" height="2.8" fill="url(#hd54)"/>
<rect x="1200" y="1482.6" width="31.3" height="2.8" fill="url(#hd54)"/>
<rect x="1200.9" y="1485.1" width="30.9" height="2.8" fill="url(#hd54)"/>
<rect x="1199.3" y="1487.7" width="32.5" height="2.8" fill="url(#hd54)"/>
<rect x="1200.7" y="1490.2" width="30.8" height="2.8" fill="url(#hd54)"/>
<rect x="1200" y="1492.7" width="31.9" height="2.8" fill="url(#hd54)"/>
<rect x="1200.4" y="1495.2" width="30.4" height="2.8" fill="url(#hd54)"/>
<rect x="1201" y="1497.7" width="29.7" height="2.8" fill="url(#hd54)"/>
<rect x="1200" y="1500.2" width="31.5" height="2.8" fill="url(#hd53)"/>
<rect x="1200.7" y="1502.8" width="30.4" height="2.8" fill="url(#hd53)"/>
<rect x="1200.9" y="1505.3" width="30.1" height="2.8" fill="url(#hd53)"/>
<rect x="1201.4" y="1507.8" width="29.9" height="2.8" fill="url(#hd53)"/>
<rect x="1201.7" y="1510.3" width="29.3" height="2.8" fill="url(#hd53)"/>
<rect x="1201.7" y="1512.8" width="29.3" height="2.8" fill="url(#hd53)"/>
<rect x="1201.4" y="1515.3" width="29.9" height="2.8" fill="url(#hd53)"/>
<rect x="1200.8" y="1517.8" width="29.2" height="2.8" fill="url(#hd53)"/>
<rect x="1201.6" y="1520.4" width="29.1" height="2.8" fill="url(#hd53)"/>
<rect x="1201" y="1522.9" width="29.7" height="2.8" fill="url(#hd53)"/>
<rect x="1200.9" y="1525.4" width="29.4" height="2.8" fill="url(#hd53)"/>
<rect x="1201.6" y="1527.9" width="28.5" height="2.8" fill="url(#hd53)"/>
<rect x="1201.6" y="1530.4" width="28.6" height="2.8" fill="url(#hd53)"/>
<rect x="1202.3" y="1532.9" width="27.7" height="2.8" fill="url(#hd53)"/>
<rect x="1201.9" y="1535.4" width="28.5" height="2.8" fill="url(#hd53)"/>
<rect x="1202.5" y="1538" width="27.5" height="2.8" fill="url(#hd53)"/>
<rect x="1202.7" y="1540.5" width="27" height="2.8" fill="url(#hd52)"/>
<rect x="1202.9" y="1543" width="26.7" height="2.8" fill="url(#hd53)"/>
<rect x="1202.5" y="1545.5" width="26.9" height="2.8" fill="url(#hd52)"/>
<rect x="1202.8" y="1548" width="26.5" height="2.8" fill="url(#hd52)"/>
<rect x="1203.2" y="1550.5" width="26.3" height="2.8" fill="url(#hd52)"/>
<rect x="1202.6" y="1553.1" width="27.2" height="2.8" fill="url(#hd52)"/>
<rect x="1202.7" y="1555.6" width="26.6" height="2.8" fill="url(#hd52)"/>
<rect x="1202.4" y="1558.1" width="27" height="2.8" fill="url(#hd52)"/>
<rect x="1203.1" y="1560.6" width="26.1" height="2.8" fill="url(#hd52)"/>
<rect x="1202.3" y="1563.1" width="26.8" height="2.8" fill="url(#hd52)"/>
<rect x="1202.3" y="1565.6" width="27" height="2.8" fill="url(#hd52)"/>
<rect x="1203" y="1568.1" width="25.1" height="2.8" fill="url(#hd52)"/>
<rect x="1202.5" y="1570.7" width="26.2" height="2.8" fill="url(#hd52)"/>
<rect x="1203.7" y="1573.2" width="24.8" height="2.8" fill="url(#hd52)"/>
<rect x="1203.1" y="1575.7" width="25.1" height="2.8" fill="url(#hd52)"/>
<rect x="1202.9" y="1578.2" width="25.4" height="2.8" fill="url(#hd52)"/>
<rect x="1203.4" y="1580.7" width="26" height="2.8" fill="url(#hd52)"/>
<rect x="1203.4" y="1583.2" width="25.3" height="2.8" fill="url(#hd52)"/>
<rect x="1203.3" y="1585.8" width="25.2" height="2.8" fill="url(#hd52)"/>
<rect x="1203.3" y="1588.3" width="25.6" height="2.8" fill="url(#hd52)"/>
<rect x="1202.7" y="1590.8" width="25.5" height="2.8" fill="url(#hd52)"/>
<rect x="1203.7" y="1593.3" width="24.2" height="2.8" fill="url(#hd52)"/>
<rect x="1203.7" y="1595.8" width="24.7" height="2.8" fill="url(#hd52)"/>
<rect x="1203.7" y="1598.3" width="24.2" height="2.8" fill="url(#hd52)"/>
<rect x="1203.2" y="1600.8" width="25.2" height="2.8" fill="url(#hd52)"/>
<rect x="1203.8" y="1603.4" width="25" height="2.8" fill="url(#hd52)"/>
<rect x="1203.6" y="1605.9" width="24.4" height="2.8" fill="url(#hd52)"/>
<rect x="1203.4" y="1608.4" width="24.9" height="2.8" fill="url(#hd52)"/>
<rect x="1203.4" y="1610.9" width="24.2" height="2.8" fill="url(#hd52)"/>
<rect x="1204.2" y="1613.4" width="24" height="2.8" fill="url(#hd52)"/>
<rect x="1204.2" y="1615.9" width="23.1" height="2.8" fill="url(#hd52)"/>
<rect x="1204.1" y="1618.5" width="22.8" height="2.8" fill="url(#hd52)"/>
<rect x="1204.1" y="1621" width="24.3" height="2.8" fill="url(#hd52)"/>
<rect x="1204.6" y="1623.5" width="22.5" height="2.8" fill="url(#hd52)"/>
<rect x="1204.5" y="1626" width="23.4" height="2.8" fill="url(#hd51)"/>
<rect x="1204.3" y="1628.5" width="23.5" height="2.8" fill="url(#hd52)"/>
<rect x="1204.2" y="1631" width="22.8" height="2.8" fill="url(#hd51)"/>
<rect x="1204.5" y="1633.5" width="23.8" height="2.8" fill="url(#hd52)"/>
<rect x="1204.4" y="1636.1" width="23.4" height="2.8" fill="url(#hd52)"/>
<rect x="1205.2" y="1638.6" width="22" height="2.8" fill="url(#hd51)"/>
<rect x="1204.6" y="1641.1" width="23.3" height="2.8" fill="url(#hd51)"/>
<rect x="1204.6" y="1643.6" width="23.1" height="2.8" fill="url(#hd51)"/>
<rect x="1204.9" y="1646.1" width="21.6" height="2.8" fill="url(#hd51)"/>
<rect x="1204.2" y="1648.6" width="23" height="2.8" fill="url(#hd51)"/>
<rect x="1204.5" y="1651.2" width="22.5" height="2.8" fill="url(#hd51)"/>
<rect x="1204.7" y="1653.7" width="22.2" height="2.8" fill="url(#hd51)"/>
<rect x="1205.1" y="1656.2" width="22.1" height="2.8" fill="url(#hd51)"/>
</g>
<path d="M1177.8 1575h76.2M1177.8 1540.1h76.2M1177.8 1399.6h76.2M1177.8 1632.1h76.2M1177.8 1640.8h76.2M1177.8 1378.7h76.2M1177.8 1461.5h76.2M1177.8 1405.2h76.2M1177.8 1388h76.2M1177.8 1527.4h76.2M1177.8 1482h76.2M1177.8 1388.4h76.2M1177.8 1497.1h76.2M1177.8 1563.8h76.2M1177.8 1389.2h76.2M1177.8 1548.3h76.2M1177.8 1552.4h76.2M1177.8 1606.3h76.2M1177.8 1658.3h76.2M1177.8 1621.5h76.2M1177.8 1463.4h76.2M1177.8 1372.7h76.2M1177.8 1450.8h76.2M1177.8 1399.6h76.2M1177.8 1612.8h76.2M1177.8 1461h76.2M1177.8 1521.6h76.2M1177.8 1573.4h76.2M1177.8 1490.5h76.2M1177.8 1658.1h76.2M1177.8 1552.3h76.2M1177.8 1532.8h76.2M1177.8 1398.6h76.2M1177.8 1421.7h76.2M1177.8 1561.5h76.2M1177.8 1483.9h76.2M1177.8 1527.6h76.2M1177.8 1621h76.2M1177.8 1558h76.2M1177.8 1608.1h76.2" stroke="#fff" stroke-width="0.7" opacity="0.12"/>
</g>
<rect x="1177.8" y="1346.8" width="76.2" height="311.9" fill="none" stroke="#555" stroke-width="1.1"/>
<line x1="1177.8" y1="1347.4" x2="1254" y2="1347.4" stroke-width="1.8" stroke="#555"/>
<line x1="732.2" y1="1658" x2="732.2" y2="1663" stroke-width="1.2" stroke="#555"/>
<line x1="770.1" y1="1658" x2="770.1" y2="1663" stroke-width="1.2" stroke="#555"/>
<line x1="808" y1="1658" x2="808" y2="1663" stroke-width="1.2" stroke="#555"/>
<text x="728.7" y="1677.5" font-size="15.5">-0.5</text>
<text x="770.1" y="1677.5" font-size="15.5" text-anchor="middle">0</text>
<text x="808.5" y="1677.5" font-size="15.5" text-anchor="end">0.5</text>
<text x="770.1" y="1693" font-size="15.5" text-anchor="middle">Kb</text>
<line x1="815.1" y1="1658" x2="815.1" y2="1663" stroke-width="1.2" stroke="#555"/>
<line x1="853" y1="1658" x2="853" y2="1663" stroke-width="1.2" stroke="#555"/>
<line x1="891" y1="1658" x2="891" y2="1663" stroke-width="1.2" stroke="#555"/>
<text x="811.6" y="1677.5" font-size="15.5">-0.5</text>
<text x="853" y="1677.5" font-size="15.5" text-anchor="middle">0</text>
<text x="891.5" y="1677.5" font-size="15.5" text-anchor="end">0.5</text>
<text x="853" y="1693" font-size="15.5" text-anchor="middle">Kb</text>
<line x1="914.1" y1="1658" x2="914.1" y2="1663" stroke-width="1.2" stroke="#555"/>
<line x1="951.7" y1="1658" x2="951.7" y2="1663" stroke-width="1.2" stroke="#555"/>
<line x1="989.2" y1="1658" x2="989.2" y2="1663" stroke-width="1.2" stroke="#555"/>
<text x="910.6" y="1677.5" font-size="15.5">-0.5</text>
<text x="951.7" y="1677.5" font-size="15.5" text-anchor="middle">0</text>
<text x="989.7" y="1677.5" font-size="15.5" text-anchor="end">0.5</text>
<text x="951.7" y="1693" font-size="15.5" text-anchor="middle">Kb</text>
<line x1="996.7" y1="1658" x2="996.7" y2="1663" stroke-width="1.2" stroke="#555"/>
<line x1="1034.4" y1="1658" x2="1034.4" y2="1663" stroke-width="1.2" stroke="#555"/>
<line x1="1072.1" y1="1658" x2="1072.1" y2="1663" stroke-width="1.2" stroke="#555"/>
<text x="993.2" y="1677.5" font-size="15.5">-0.5</text>
<text x="1034.4" y="1677.5" font-size="15.5" text-anchor="middle">0</text>
<text x="1072.6" y="1677.5" font-size="15.5" text-anchor="end">0.5</text>
<text x="1034.4" y="1693" font-size="15.5" text-anchor="middle">Kb</text>
<line x1="1095.3" y1="1658" x2="1095.3" y2="1663" stroke-width="1.2" stroke="#555"/>
<line x1="1133.4" y1="1658" x2="1133.4" y2="1663" stroke-width="1.2" stroke="#555"/>
<line x1="1171.5" y1="1658" x2="1171.5" y2="1663" stroke-width="1.2" stroke="#555"/>
<text x="1091.8" y="1677.5" font-size="15.5">-0.5</text>
<text x="1133.4" y="1677.5" font-size="15.5" text-anchor="middle">0</text>
<text x="1172" y="1677.5" font-size="15.5" text-anchor="end">0.5</text>
<text x="1133.4" y="1693" font-size="15.5" text-anchor="middle">Kb</text>
<line x1="1177.8" y1="1658" x2="1177.8" y2="1663" stroke-width="1.2" stroke="#555"/>
<line x1="1215.9" y1="1658" x2="1215.9" y2="1663" stroke-width="1.2" stroke="#555"/>
<line x1="1254" y1="1658" x2="1254" y2="1663" stroke-width="1.2" stroke="#555"/>
<text x="1174.3" y="1677.5" font-size="15.5">-0.5</text>
<text x="1215.9" y="1677.5" font-size="15.5" text-anchor="middle">0</text>
<text x="1254.5" y="1677.5" font-size="15.5" text-anchor="end">0.5</text>
<text x="1215.9" y="1693" font-size="15.5" text-anchor="middle">Kb</text>
<rect x="732.2" y="1698" width="75.8" height="7.4" fill="url(#cbG)" stroke="#555" stroke-width="1"/>
<text x="732.2" y="1724.1" font-size="14.5" text-anchor="middle">0</text>
<text x="761" y="1724.1" font-size="14.5" text-anchor="middle">4</text>
<text x="791.3" y="1724.1" font-size="14.5" text-anchor="middle">8</text>
<rect x="815.1" y="1698" width="75.9" height="7.4" fill="url(#cbG)" stroke="#555" stroke-width="1"/>
<text x="815.1" y="1724.1" font-size="14.5" text-anchor="middle">0</text>
<text x="843.9" y="1724.1" font-size="14.5" text-anchor="middle">4</text>
<text x="874.3" y="1724.1" font-size="14.5" text-anchor="middle">8</text>
<rect x="914.1" y="1698" width="75.1" height="7.4" fill="url(#cbP)" stroke="#555" stroke-width="1"/>
<text x="914.1" y="1724.1" font-size="14.5" text-anchor="middle">0</text>
<text x="936.6" y="1724.1" font-size="14.5" text-anchor="middle">5</text>
<text x="962.9" y="1724.1" font-size="14.5" text-anchor="middle">10</text>
<text x="981.7" y="1724.1" font-size="14.5" text-anchor="middle">15</text>
<rect x="996.7" y="1698" width="75.4" height="7.4" fill="url(#cbP)" stroke="#555" stroke-width="1"/>
<text x="996.7" y="1724.1" font-size="14.5" text-anchor="middle">0</text>
<text x="1019.3" y="1724.1" font-size="14.5" text-anchor="middle">5</text>
<text x="1045.7" y="1724.1" font-size="14.5" text-anchor="middle">10</text>
<text x="1064.6" y="1724.1" font-size="14.5" text-anchor="middle">15</text>
<rect x="1095.3" y="1698" width="76.2" height="7.4" fill="url(#cbO)" stroke="#555" stroke-width="1"/>
<text x="1099.9" y="1724.1" font-size="14.5" text-anchor="middle">0</text>
<text x="1128.1" y="1724.1" font-size="14.5" text-anchor="middle">8</text>
<text x="1156.3" y="1724.1" font-size="14.5" text-anchor="middle">16</text>
<rect x="1177.8" y="1698" width="76.2" height="7.4" fill="url(#cbO)" stroke="#555" stroke-width="1"/>
<text x="1182.4" y="1724.1" font-size="14.5" text-anchor="middle">0</text>
<text x="1210.6" y="1724.1" font-size="14.5" text-anchor="middle">8</text>
<text x="1238.8" y="1724.1" font-size="14.5" text-anchor="middle">16</text>
<text x="1013.3" y="1759.6" font-size="23.5" text-anchor="middle">ChIP-seq intensity (Fold change with respect with input)</text>
<text x="699.5" y="1645.6" font-size="23.5" transform="rotate(-90 699.5 1645.6)">SMARCA4 binding sites(n=50,019)</text>
<text x="643" y="1804.5" font-size="31" font-weight="bold">g</text>
<rect x="950.8" y="1783.8" width="98.4" height="44.5" rx="22.2" fill="#c6949c" stroke="#231f20" stroke-width="2"/>
<rect x="919.7" y="1827" width="82" height="56.1" rx="18" ry="27" fill="#efe6c8" stroke="#231f20" stroke-width="2"/>
<rect x="999.6" y="1827" width="81.2" height="56.1" rx="18" ry="27" fill="#efe6c8" stroke="#231f20" stroke-width="2"/>
<ellipse cx="955.6" cy="1872.5" rx="5.2" ry="11" transform="rotate(28 955.6 1872.5)" fill="#8d8f92" stroke="#4d4e50" stroke-width="0.8"/>
<ellipse cx="952.4" cy="1871.3" rx="5.2" ry="11" transform="rotate(28 952.4 1871.3)" fill="#8d8f92" stroke="#4d4e50" stroke-width="0.8"/>
<ellipse cx="949.2" cy="1870.1" rx="5.2" ry="11" transform="rotate(28 949.2 1870.1)" fill="#a5a7aa" stroke="#4d4e50" stroke-width="0.8"/>
<ellipse cx="1002.1" cy="1872.5" rx="5.2" ry="11" transform="rotate(28 1002.1 1872.5)" fill="#8d8f92" stroke="#4d4e50" stroke-width="0.8"/>
<ellipse cx="998.9" cy="1871.3" rx="5.2" ry="11" transform="rotate(28 998.9 1871.3)" fill="#8d8f92" stroke="#4d4e50" stroke-width="0.8"/>
<ellipse cx="995.7" cy="1870.1" rx="5.2" ry="11" transform="rotate(28 995.7 1870.1)" fill="#a5a7aa" stroke="#4d4e50" stroke-width="0.8"/>
<ellipse cx="1051.2" cy="1872.5" rx="5.2" ry="11" transform="rotate(28 1051.2 1872.5)" fill="#8d8f92" stroke="#4d4e50" stroke-width="0.8"/>
<ellipse cx="1048" cy="1871.3" rx="5.2" ry="11" transform="rotate(28 1048 1871.3)" fill="#8d8f92" stroke="#4d4e50" stroke-width="0.8"/>
<ellipse cx="1044.8" cy="1870.1" rx="5.2" ry="11" transform="rotate(28 1044.8 1870.1)" fill="#a5a7aa" stroke="#4d4e50" stroke-width="0.8"/>
<line x1="924.7" y1="1883.1" x2="1075.8" y2="1883.1" stroke-width="1.0" stroke="#6d6e71"/>
<polyline points="1070.8,1883.1 1070.8,1801.9 1097,1801.9" fill="none" stroke="#231f20" stroke-width="2.2"/>
<polygon points="1096,1793.4 1113,1801.9 1096,1810.4" fill="#231f20"/>
<text x="1000.7" y="1811.8" font-size="18.6" text-anchor="middle">SMARCA4</text>
<text x="962.5" y="1849.8" font-size="18.6" text-anchor="middle">TEAD1</text>
<text x="1040" y="1849.8" font-size="18.6" text-anchor="middle">FOSL1</text>
<text x="816.4" y="1925" font-size="18.6" text-anchor="middle">SMARCA4</text>
<line x1="771.4" y1="1928" x2="861.4" y2="1928" stroke-width="1.4"/>
<text x="998.4" y="1925" font-size="18.6" text-anchor="middle">FOSL1</text>
<line x1="969" y1="1928" x2="1027.9" y2="1928" stroke-width="1.4"/>
<text x="1204.3" y="1925" font-size="18.6" text-anchor="middle">TEAD1</text>
<line x1="1174.3" y1="1928" x2="1234.3" y2="1928" stroke-width="1.4"/>
<text x="747.8" y="1946.6" font-size="15.5" text-anchor="middle">DMSO</text>
<text x="838.2" y="1946.6" font-size="15.5" text-anchor="middle">SMARCA2_4.1</text>
<text x="941.8" y="1946.6" font-size="15.5" text-anchor="middle">DMSO</text>
<text x="1042.1" y="1946.6" font-size="15.5" text-anchor="middle">SMARCA2_4.1</text>
<text x="1136.6" y="1946.6" font-size="15.5" text-anchor="middle">DMSO</text>
<text x="1237" y="1946.6" font-size="15.5" text-anchor="middle">SMARCA2_4.1</text>
<polyline points="731.7,2022.8 732.9,2022.6 734.2,2022.5 735.4,2022.4 736.7,2022.2 737.9,2022 739.2,2021.7 740.4,2021.4 741.7,2021.1 742.9,2020.6 744.2,2020 745.4,2019.3 746.7,2018.4 747.9,2017.3 749.2,2016 750.4,2014.4 751.6,2012.6 752.9,2010.5 754.1,2008.1 755.4,2005.4 756.6,2002.5 757.9,1999.4 759.1,1996.2 760.4,1992.9 761.6,1989.7 762.9,1986.7 764.1,1984.1 765.4,1981.9 766.6,1980.2 767.9,1979.1 769.1,1978.8 770.3,1979.1 771.6,1980.2 772.8,1981.9 774.1,1984.1 775.3,1986.7 776.6,1989.7 777.8,1992.9 779.1,1996.2 780.3,1999.4 781.6,2002.5 782.8,2005.4 784.1,2008.1 785.3,2010.5 786.6,2012.6 787.8,2014.4 789,2016 790.3,2017.3 791.5,2018.4 792.8,2019.3 794,2020 795.3,2020.6 796.5,2021.1 797.8,2021.4 799,2021.7 800.3,2022 801.5,2022.2 802.8,2022.4 804,2022.5 805.3,2022.6 806.5,2022.8" fill="none" stroke="#2e3192" stroke-width="1.3"/>
<rect x="731.7" y="1956.5" width="74.8" height="71.3" fill="none" stroke="#6d6e71" stroke-width="1.5"/>
<line x1="731.7" y1="2027.8" x2="731.7" y2="2031.3" stroke-width="1.3" stroke="#6d6e71"/>
<line x1="769.1" y1="2027.8" x2="769.1" y2="2031.3" stroke-width="1.3" stroke="#6d6e71"/>
<line x1="806.5" y1="2027.8" x2="806.5" y2="2031.3" stroke-width="1.3" stroke="#6d6e71"/>
<line x1="728.2" y1="2014" x2="731.7" y2="2014" stroke-width="1.3" stroke="#6d6e71"/>
<text x="728.7" y="2019.5" font-size="15.5" text-anchor="end">2</text>
<line x1="728.2" y1="1993.3" x2="731.7" y2="1993.3" stroke-width="1.3" stroke="#6d6e71"/>
<text x="728.7" y="1998.8" font-size="15.5" text-anchor="end">4</text>
<line x1="728.2" y1="1972.5" x2="731.7" y2="1972.5" stroke-width="1.3" stroke="#6d6e71"/>
<text x="728.7" y="1978" font-size="15.5" text-anchor="end">6</text>
<polyline points="813.8,2026.5 815.1,2026.4 816.3,2026.4 817.6,2026.3 818.8,2026.3 820.1,2026.2 821.4,2026.1 822.6,2026 823.9,2025.8 825.1,2025.6 826.4,2025.4 827.7,2025.2 828.9,2024.9 830.2,2024.5 831.4,2024.1 832.7,2023.7 834,2023.2 835.2,2022.7 836.5,2022.1 837.7,2021.4 839,2020.8 840.3,2020.1 841.5,2019.4 842.8,2018.8 844,2018.2 845.3,2017.6 846.6,2017.1 847.8,2016.7 849.1,2016.4 850.3,2016.2 851.6,2016.1 852.9,2016.2 854.1,2016.4 855.4,2016.7 856.6,2017.1 857.9,2017.6 859.2,2018.2 860.4,2018.8 861.7,2019.4 862.9,2020.1 864.2,2020.8 865.5,2021.4 866.7,2022.1 868,2022.7 869.2,2023.2 870.5,2023.7 871.8,2024.1 873,2024.5 874.3,2024.9 875.5,2025.2 876.8,2025.4 878.1,2025.6 879.3,2025.8 880.6,2026 881.8,2026.1 883.1,2026.2 884.4,2026.3 885.6,2026.3 886.9,2026.4 888.1,2026.4 889.4,2026.5" fill="none" stroke="#2e3192" stroke-width="1.3"/>
<rect x="813.8" y="1956.5" width="75.6" height="71.3" fill="none" stroke="#6d6e71" stroke-width="1.5"/>
<line x1="813.8" y1="2027.8" x2="813.8" y2="2031.3" stroke-width="1.3" stroke="#6d6e71"/>
<line x1="851.6" y1="2027.8" x2="851.6" y2="2031.3" stroke-width="1.3" stroke="#6d6e71"/>
<line x1="889.4" y1="2027.8" x2="889.4" y2="2031.3" stroke-width="1.3" stroke="#6d6e71"/>
<line x1="810.3" y1="2014" x2="813.8" y2="2014" stroke-width="1.3" stroke="#6d6e71"/>
<line x1="810.3" y1="1993.3" x2="813.8" y2="1993.3" stroke-width="1.3" stroke="#6d6e71"/>
<line x1="810.3" y1="1972.5" x2="813.8" y2="1972.5" stroke-width="1.3" stroke="#6d6e71"/>
<polyline points="917.5,2022.4 918.7,2022.2 920,2022.1 921.2,2021.9 922.5,2021.7 923.7,2021.5 925,2021.2 926.2,2020.9 927.5,2020.5 928.7,2020 930,2019.4 931.2,2018.6 932.4,2017.6 933.7,2016.3 934.9,2014.8 936.2,2012.9 937.4,2010.5 938.7,2007.7 939.9,2004.5 941.2,2000.7 942.4,1996.5 943.6,1991.9 944.9,1987 946.1,1982 947.4,1977 948.6,1972.2 949.9,1967.9 951.1,1964.2 952.4,1961.4 953.6,1959.7 954.9,1959.1 956.1,1959.7 957.3,1961.4 958.6,1964.2 959.8,1967.9 961.1,1972.2 962.3,1977 963.6,1982 964.8,1987 966.1,1991.9 967.3,1996.5 968.5,2000.7 969.8,2004.5 971,2007.7 972.3,2010.5 973.5,2012.9 974.8,2014.8 976,2016.3 977.3,2017.6 978.5,2018.6 979.8,2019.4 981,2020 982.2,2020.5 983.5,2020.9 984.7,2021.2 986,2021.5 987.2,2021.7 988.5,2021.9 989.7,2022.1 991,2022.2 992.2,2022.4" fill="none" stroke="#2e3192" stroke-width="1.3"/>
<rect x="917.5" y="1956.5" width="74.7" height="71.3" fill="none" stroke="#6d6e71" stroke-width="1.5"/>
<line x1="917.5" y1="2027.8" x2="917.5" y2="2031.3" stroke-width="1.3" stroke="#6d6e71"/>
<line x1="954.9" y1="2027.8" x2="954.9" y2="2031.3" stroke-width="1.3" stroke="#6d6e71"/>
<line x1="992.2" y1="2027.8" x2="992.2" y2="2031.3" stroke-width="1.3" stroke="#6d6e71"/>
<line x1="914" y1="2014" x2="917.5" y2="2014" stroke-width="1.3" stroke="#6d6e71"/>
<text x="914.5" y="2019.5" font-size="15.5" text-anchor="end">2</text>
<line x1="914" y1="1993.3" x2="917.5" y2="1993.3" stroke-width="1.3" stroke="#6d6e71"/>
<text x="914.5" y="1998.8" font-size="15.5" text-anchor="end">4</text>
<line x1="914" y1="1972.5" x2="917.5" y2="1972.5" stroke-width="1.3" stroke="#6d6e71"/>
<text x="914.5" y="1978" font-size="15.5" text-anchor="end">6</text>
<polyline points="999.6,2025.9 1000.9,2025.9 1002.1,2025.8 1003.4,2025.8 1004.6,2025.7 1005.9,2025.6 1007.2,2025.5 1008.4,2025.4 1009.7,2025.2 1010.9,2025 1012.2,2024.8 1013.5,2024.6 1014.7,2024.2 1016,2023.9 1017.2,2023.5 1018.5,2023 1019.8,2022.5 1021,2021.9 1022.3,2021.3 1023.5,2020.7 1024.8,2020 1026.1,2019.3 1027.3,2018.6 1028.6,2017.9 1029.8,2017.2 1031.1,2016.6 1032.4,2016.1 1033.6,2015.7 1034.9,2015.4 1036.1,2015.2 1037.4,2015.1 1038.7,2015.2 1039.9,2015.4 1041.2,2015.7 1042.4,2016.1 1043.7,2016.6 1045,2017.2 1046.2,2017.9 1047.5,2018.6 1048.7,2019.3 1050,2020 1051.3,2020.7 1052.5,2021.3 1053.8,2021.9 1055,2022.5 1056.3,2023 1057.6,2023.5 1058.8,2023.9 1060.1,2024.2 1061.3,2024.6 1062.6,2024.8 1063.9,2025 1065.1,2025.2 1066.4,2025.4 1067.6,2025.5 1068.9,2025.6 1070.2,2025.7 1071.4,2025.8 1072.7,2025.8 1073.9,2025.9 1075.2,2025.9" fill="none" stroke="#2e3192" stroke-width="1.3"/>
<rect x="999.6" y="1956.5" width="75.6" height="71.3" fill="none" stroke="#6d6e71" stroke-width="1.5"/>
<line x1="999.6" y1="2027.8" x2="999.6" y2="2031.3" stroke-width="1.3" stroke="#6d6e71"/>
<line x1="1037.4" y1="2027.8" x2="1037.4" y2="2031.3" stroke-width="1.3" stroke="#6d6e71"/>
<line x1="1075.2" y1="2027.8" x2="1075.2" y2="2031.3" stroke-width="1.3" stroke="#6d6e71"/>
<line x1="996.1" y1="2014" x2="999.6" y2="2014" stroke-width="1.3" stroke="#6d6e71"/>
<line x1="996.1" y1="1993.3" x2="999.6" y2="1993.3" stroke-width="1.3" stroke="#6d6e71"/>
<line x1="996.1" y1="1972.5" x2="999.6" y2="1972.5" stroke-width="1.3" stroke="#6d6e71"/>
<polyline points="1098.9,2022.5 1100.2,2022.3 1101.4,2022.2 1102.7,2022 1103.9,2021.8 1105.2,2021.5 1106.5,2021.3 1107.7,2020.9 1109,2020.4 1110.2,2019.9 1111.5,2019.2 1112.8,2018.3 1114,2017.3 1115.3,2016 1116.5,2014.5 1117.8,2012.6 1119.1,2010.5 1120.3,2007.9 1121.6,2005.1 1122.8,2001.9 1124.1,1998.5 1125.4,1994.8 1126.6,1991 1127.9,1987.2 1129.1,1983.4 1130.4,1979.9 1131.7,1976.7 1132.9,1974.1 1134.2,1972.1 1135.4,1970.9 1136.7,1970.5 1138,1970.9 1139.2,1972.1 1140.5,1974.1 1141.7,1976.7 1143,1979.9 1144.3,1983.4 1145.5,1987.2 1146.8,1991 1148,1994.8 1149.3,1998.5 1150.6,2001.9 1151.8,2005.1 1153.1,2007.9 1154.3,2010.5 1155.6,2012.6 1156.9,2014.5 1158.1,2016 1159.4,2017.3 1160.6,2018.3 1161.9,2019.2 1163.2,2019.9 1164.4,2020.4 1165.7,2020.9 1166.9,2021.3 1168.2,2021.5 1169.5,2021.8 1170.7,2022 1172,2022.2 1173.2,2022.3 1174.5,2022.5" fill="none" stroke="#2e3192" stroke-width="1.3"/>
<rect x="1098.9" y="1956.5" width="75.6" height="71.3" fill="none" stroke="#6d6e71" stroke-width="1.5"/>
<line x1="1098.9" y1="2027.8" x2="1098.9" y2="2031.3" stroke-width="1.3" stroke="#6d6e71"/>
<line x1="1136.7" y1="2027.8" x2="1136.7" y2="2031.3" stroke-width="1.3" stroke="#6d6e71"/>
<line x1="1174.5" y1="2027.8" x2="1174.5" y2="2031.3" stroke-width="1.3" stroke="#6d6e71"/>
<line x1="1095.4" y1="2014" x2="1098.9" y2="2014" stroke-width="1.3" stroke="#6d6e71"/>
<text x="1095.9" y="2019.5" font-size="15.5" text-anchor="end">2</text>
<line x1="1095.4" y1="1993.3" x2="1098.9" y2="1993.3" stroke-width="1.3" stroke="#6d6e71"/>
<text x="1095.9" y="1998.8" font-size="15.5" text-anchor="end">4</text>
<line x1="1095.4" y1="1972.5" x2="1098.9" y2="1972.5" stroke-width="1.3" stroke="#6d6e71"/>
<text x="1095.9" y="1978" font-size="15.5" text-anchor="end">6</text>
<polyline points="1181.9,2025 1183.2,2024.9 1184.4,2024.8 1185.7,2024.6 1186.9,2024.5 1188.2,2024.3 1189.5,2024.1 1190.7,2023.8 1192,2023.5 1193.2,2023.2 1194.5,2022.8 1195.8,2022.3 1197,2021.7 1198.3,2021.1 1199.5,2020.4 1200.8,2019.7 1202.1,2018.8 1203.3,2017.9 1204.6,2017 1205.8,2015.9 1207.1,2014.9 1208.4,2013.8 1209.6,2012.8 1210.9,2011.8 1212.1,2010.9 1213.4,2010 1214.7,2009.3 1215.9,2008.6 1217.2,2008.2 1218.4,2007.9 1219.7,2007.8 1221,2007.9 1222.2,2008.2 1223.5,2008.6 1224.7,2009.3 1226,2010 1227.3,2010.9 1228.5,2011.8 1229.8,2012.8 1231,2013.8 1232.3,2014.9 1233.6,2015.9 1234.8,2017 1236.1,2017.9 1237.3,2018.8 1238.6,2019.7 1239.9,2020.4 1241.1,2021.1 1242.4,2021.7 1243.6,2022.3 1244.9,2022.8 1246.2,2023.2 1247.4,2023.5 1248.7,2023.8 1249.9,2024.1 1251.2,2024.3 1252.5,2024.5 1253.7,2024.6 1255,2024.8 1256.2,2024.9 1257.5,2025" fill="none" stroke="#2e3192" stroke-width="1.3"/>
<rect x="1181.9" y="1956.5" width="75.6" height="71.3" fill="none" stroke="#6d6e71" stroke-width="1.5"/>
<line x1="1181.9" y1="2027.8" x2="1181.9" y2="2031.3" stroke-width="1.3" stroke="#6d6e71"/>
<line x1="1219.7" y1="2027.8" x2="1219.7" y2="2031.3" stroke-width="1.3" stroke="#6d6e71"/>
<line x1="1257.5" y1="2027.8" x2="1257.5" y2="2031.3" stroke-width="1.3" stroke="#6d6e71"/>
<line x1="1178.4" y1="2014" x2="1181.9" y2="2014" stroke-width="1.3" stroke="#6d6e71"/>
<line x1="1178.4" y1="1993.3" x2="1181.9" y2="1993.3" stroke-width="1.3" stroke="#6d6e71"/>
<line x1="1178.4" y1="1972.5" x2="1181.9" y2="1972.5" stroke-width="1.3" stroke="#6d6e71"/>
<g clip-path="url(#chg0)">
<rect x="731.4" y="2042.3" width="75.5" height="322.8" fill="#e4f5df"/>
<g filter="url(#hb)">
<rect x="737" y="2042.3" width="63.5" height="2.9" fill="url(#hg08)"/>
<rect x="737.6" y="2044.9" width="62.7" height="2.9" fill="url(#hg08)"/>
<rect x="737.4" y="2047.5" width="64.6" height="2.9" fill="url(#hg07)"/>
<rect x="736.6" y="2050.1" width="66" height="2.9" fill="url(#hg08)"/>
<rect x="738.3" y="2052.7" width="61" height="2.9" fill="url(#hg07)"/>
<rect x="737.9" y="2055.3" width="63.3" height="2.9" fill="url(#hg08)"/>
<rect x="737.6" y="2057.9" width="63.2" height="2.9" fill="url(#hg08)"/>
<rect x="739.6" y="2060.5" width="59.7" height="2.9" fill="url(#hg07)"/>
<rect x="737.7" y="2063.1" width="63.1" height="2.9" fill="url(#hg08)"/>
<rect x="738.5" y="2065.7" width="62.1" height="2.9" fill="url(#hg08)"/>
<rect x="738.4" y="2068.3" width="61" height="2.9" fill="url(#hg07)"/>
<rect x="737.6" y="2070.9" width="62.5" height="2.9" fill="url(#hg08)"/>
<rect x="739.4" y="2073.5" width="59.1" height="2.9" fill="url(#hg07)"/>
<rect x="739.6" y="2076.1" width="59.6" height="2.9" fill="url(#hg08)"/>
<rect x="738.9" y="2078.7" width="59.8" height="2.9" fill="url(#hg07)"/>
<rect x="739.8" y="2081.3" width="59.4" height="2.9" fill="url(#hg08)"/>
<rect x="739.2" y="2084" width="59.1" height="2.9" fill="url(#hg08)"/>
<rect x="738.8" y="2086.6" width="60.7" height="2.9" fill="url(#hg08)"/>
<rect x="738.8" y="2089.2" width="60.3" height="2.9" fill="url(#hg07)"/>
<rect x="739.9" y="2091.8" width="58.8" height="2.9" fill="url(#hg07)"/>
<rect x="739.6" y="2094.4" width="59.1" height="2.9" fill="url(#hg08)"/>
<rect x="740.9" y="2097" width="56" height="2.9" fill="url(#hg07)"/>
<rect x="741.1" y="2099.6" width="56.6" height="2.9" fill="url(#hg07)"/>
<rect x="740.7" y="2102.2" width="56.6" height="2.9" fill="url(#hg08)"/>
<rect x="741.6" y="2104.8" width="55.7" height="2.9" fill="url(#hg08)"/>
<rect x="740.6" y="2107.4" width="56.8" height="2.9" fill="url(#hg08)"/>
<rect x="741.3" y="2110" width="56.7" height="2.9" fill="url(#hg07)"/>
<rect x="742" y="2112.6" width="54.7" height="2.9" fill="url(#hg07)"/>
<rect x="741.4" y="2115.2" width="54.5" height="2.9" fill="url(#hg07)"/>
<rect x="742.1" y="2117.8" width="53.9" height="2.9" fill="url(#hg07)"/>
<rect x="741" y="2120.4" width="55.4" height="2.9" fill="url(#hg08)"/>
<rect x="743.3" y="2123" width="52.4" height="2.9" fill="url(#hg07)"/>
<rect x="741" y="2125.6" width="55.8" height="2.9" fill="url(#hg07)"/>
<rect x="743.3" y="2128.2" width="52.5" height="2.9" fill="url(#hg08)"/>
<rect x="743.6" y="2130.8" width="52" height="2.9" fill="url(#hg07)"/>
<rect x="743.1" y="2133.4" width="52.3" height="2.9" fill="url(#hg08)"/>
<rect x="743.2" y="2136" width="51.8" height="2.9" fill="url(#hg07)"/>
<rect x="743.1" y="2138.6" width="52.6" height="2.9" fill="url(#hg08)"/>
<rect x="742.2" y="2141.2" width="54" height="2.9" fill="url(#hg08)"/>
<rect x="743.1" y="2143.8" width="52" height="2.9" fill="url(#hg08)"/>
<rect x="743.8" y="2146.4" width="50.8" height="2.9" fill="url(#hg07)"/>
<rect x="742.6" y="2149" width="52.5" height="2.9" fill="url(#hg07)"/>
<rect x="742.8" y="2151.6" width="51.9" height="2.9" fill="url(#hg07)"/>
<rect x="742.4" y="2154.2" width="52.7" height="2.9" fill="url(#hg07)"/>
<rect x="744.1" y="2156.8" width="50.1" height="2.9" fill="url(#hg07)"/>
<rect x="743.2" y="2159.4" width="52" height="2.9" fill="url(#hg07)"/>
<rect x="743.3" y="2162" width="52.2" height="2.9" fill="url(#hg07)"/>
<rect x="744.2" y="2164.7" width="50" height="2.9" fill="url(#hg07)"/>
<rect x="744.6" y="2167.3" width="49.5" height="2.9" fill="url(#hg07)"/>
<rect x="744.6" y="2169.9" width="48.9" height="2.9" fill="url(#hg07)"/>
<rect x="744.8" y="2172.5" width="49" height="2.9" fill="url(#hg07)"/>
<rect x="744.8" y="2175.1" width="48.6" height="2.9" fill="url(#hg07)"/>
<rect x="743.8" y="2177.7" width="50.5" height="2.9" fill="url(#hg07)"/>
<rect x="744.1" y="2180.3" width="50.7" height="2.9" fill="url(#hg07)"/>
<rect x="745.1" y="2182.9" width="47.7" height="2.9" fill="url(#hg07)"/>
<rect x="744.2" y="2185.5" width="49.9" height="2.9" fill="url(#hg07)"/>
<rect x="743.5" y="2188.1" width="50.4" height="2.9" fill="url(#hg07)"/>
<rect x="744.1" y="2190.7" width="50.1" height="2.9" fill="url(#hg07)"/>
<rect x="744.5" y="2193.3" width="48.6" height="2.9" fill="url(#hg07)"/>
<rect x="744.1" y="2195.9" width="49" height="2.9" fill="url(#hg07)"/>
<rect x="745.5" y="2198.5" width="47.2" height="2.9" fill="url(#hg07)"/>
<rect x="744.8" y="2201.1" width="48.7" height="2.9" fill="url(#hg07)"/>
<rect x="746.5" y="2203.7" width="45.7" height="2.9" fill="url(#hg07)"/>
<rect x="744.9" y="2206.3" width="47.6" height="2.9" fill="url(#hg07)"/>
<rect x="745.2" y="2208.9" width="47.5" height="2.9" fill="url(#hg07)"/>
<rect x="745.2" y="2211.5" width="47.6" height="2.9" fill="url(#hg07)"/>
<rect x="745.6" y="2214.1" width="46.3" height="2.9" fill="url(#hg07)"/>
<rect x="746.2" y="2216.7" width="46.6" height="2.9" fill="url(#hg07)"/>
<rect x="745.4" y="2219.3" width="46.8" height="2.9" fill="url(#hg07)"/>
<rect x="746" y="2221.9" width="45.9" height="2.9" fill="url(#hg07)"/>
<rect x="746.3" y="2224.5" width="44.8" height="2.9" fill="url(#hg07)"/>
<rect x="746" y="2227.1" width="45.5" height="2.9" fill="url(#hg07)"/>
<rect x="746.1" y="2229.7" width="47" height="2.9" fill="url(#hg07)"/>
<rect x="746.3" y="2232.3" width="45.9" height="2.9" fill="url(#hg07)"/>
<rect x="746.7" y="2234.9" width="44.8" height="2.9" fill="url(#hg07)"/>
<rect x="746.5" y="2237.5" width="44.7" height="2.9" fill="url(#hg07)"/>
<rect x="746.5" y="2240.1" width="46.2" height="2.9" fill="url(#hg07)"/>
<rect x="747" y="2242.7" width="43.8" height="2.9" fill="url(#hg07)"/>
<rect x="746.2" y="2245.4" width="45.2" height="2.9" fill="url(#hg07)"/>
<rect x="746.5" y="2248" width="45.7" height="2.9" fill="url(#hg07)"/>
<rect x="746.7" y="2250.6" width="45.2" height="2.9" fill="url(#hg07)"/>
<rect x="746.6" y="2253.2" width="44.5" height="2.9" fill="url(#hg07)"/>
<rect x="746" y="2255.8" width="45.4" height="2.9" fill="url(#hg07)"/>
<rect x="747" y="2258.4" width="45" height="2.9" fill="url(#hg07)"/>
<rect x="747.7" y="2261" width="42" height="2.9" fill="url(#hg07)"/>
<rect x="747.9" y="2263.6" width="42" height="2.9" fill="url(#hg07)"/>
<rect x="747.4" y="2266.2" width="44.2" height="2.9" fill="url(#hg07)"/>
<rect x="747.4" y="2268.8" width="44.3" height="2.9" fill="url(#hg07)"/>
<rect x="746.7" y="2271.4" width="44.6" height="2.9" fill="url(#hg07)"/>
<rect x="747" y="2274" width="43.7" height="2.9" fill="url(#hg07)"/>
<rect x="747.9" y="2276.6" width="42.9" height="2.9" fill="url(#hg07)"/>
<rect x="747.3" y="2279.2" width="43.1" height="2.9" fill="url(#hg07)"/>
<rect x="748.1" y="2281.8" width="42.8" height="2.9" fill="url(#hg07)"/>
<rect x="747.6" y="2284.4" width="42.2" height="2.9" fill="url(#hg07)"/>
<rect x="748.5" y="2287" width="40.8" height="2.9" fill="url(#hg07)"/>
<rect x="748.2" y="2289.6" width="41.6" height="2.9" fill="url(#hg07)"/>
<rect x="748.6" y="2292.2" width="40.2" height="2.9" fill="url(#hg07)"/>
<rect x="749" y="2294.8" width="41.2" height="2.9" fill="url(#hg07)"/>
<rect x="748.5" y="2297.4" width="41.4" height="2.9" fill="url(#hg07)"/>
<rect x="748.4" y="2300" width="41.4" height="2.9" fill="url(#hg06)"/>
<rect x="748.8" y="2302.6" width="39.7" height="2.9" fill="url(#hg07)"/>
<rect x="749.1" y="2305.2" width="40.2" height="2.9" fill="url(#hg07)"/>
<rect x="749.3" y="2307.8" width="39" height="2.9" fill="url(#hg07)"/>
<rect x="749" y="2310.4" width="40.2" height="2.9" fill="url(#hg06)"/>
<rect x="749.2" y="2313" width="39.5" height="2.9" fill="url(#hg06)"/>
<rect x="748.9" y="2315.6" width="39.6" height="2.9" fill="url(#hg07)"/>
<rect x="749.5" y="2318.2" width="39" height="2.9" fill="url(#hg07)"/>
<rect x="749.8" y="2320.8" width="39.1" height="2.9" fill="url(#hg07)"/>
<rect x="749.2" y="2323.4" width="39.1" height="2.9" fill="url(#hg07)"/>
<rect x="748.6" y="2326.1" width="40.3" height="2.9" fill="url(#hg07)"/>
<rect x="749.8" y="2328.7" width="39.5" height="2.9" fill="url(#hg07)"/>
<rect x="749.5" y="2331.3" width="39.8" height="2.9" fill="url(#hg07)"/>
<rect x="750" y="2333.9" width="38.4" height="2.9" fill="url(#hg07)"/>
<rect x="750.5" y="2336.5" width="38.2" height="2.9" fill="url(#hg07)"/>
<rect x="750.4" y="2339.1" width="38" height="2.9" fill="url(#hg07)"/>
<rect x="750.1" y="2341.7" width="37.9" height="2.9" fill="url(#hg07)"/>
<rect x="750.8" y="2344.3" width="37.1" height="2.9" fill="url(#hg07)"/>
<rect x="750.4" y="2346.9" width="36.7" height="2.9" fill="url(#hg07)"/>
<rect x="750.4" y="2349.5" width="38.2" height="2.9" fill="url(#hg07)"/>
<rect x="749.9" y="2352.1" width="38.7" height="2.9" fill="url(#hg06)"/>
<rect x="750.3" y="2354.7" width="37.1" height="2.9" fill="url(#hg06)"/>
<rect x="750.4" y="2357.3" width="36.8" height="2.9" fill="url(#hg07)"/>
<rect x="750.6" y="2359.9" width="36.5" height="2.9" fill="url(#hg06)"/>
<rect x="750.9" y="2362.5" width="36.8" height="2.9" fill="url(#hg07)"/>
</g>
<path d="M731.4 2181.8h75.5M731.4 2167.2h75.5M731.4 2194.4h75.5M731.4 2195.6h75.5M731.4 2069.9h75.5M731.4 2088.2h75.5M731.4 2069.9h75.5M731.4 2279.9h75.5M731.4 2277.7h75.5M731.4 2067h75.5M731.4 2112h75.5M731.4 2345.7h75.5M731.4 2278.5h75.5M731.4 2045.5h75.5M731.4 2183.5h75.5M731.4 2338.1h75.5M731.4 2275.1h75.5M731.4 2148.4h75.5M731.4 2309.9h75.5M731.4 2255h75.5M731.4 2351.5h75.5M731.4 2307.3h75.5M731.4 2069.1h75.5M731.4 2205.3h75.5M731.4 2279.5h75.5M731.4 2314.7h75.5M731.4 2294.4h75.5M731.4 2296.5h75.5M731.4 2114.8h75.5M731.4 2185.6h75.5M731.4 2115.3h75.5M731.4 2342.7h75.5M731.4 2361.5h75.5M731.4 2165.3h75.5M731.4 2156.9h75.5M731.4 2127.6h75.5M731.4 2079.9h75.5M731.4 2060.9h75.5M731.4 2072.9h75.5M731.4 2348.9h75.5" stroke="#fff" stroke-width="0.7" opacity="0.12"/>
</g>
<rect x="731.4" y="2042.3" width="75.5" height="322.8" fill="none" stroke="#555" stroke-width="1.1"/>
<line x1="731.4" y1="2042.9" x2="806.9" y2="2042.9" stroke-width="1.8" stroke="#555"/>
<g clip-path="url(#chg1)">
<rect x="814.4" y="2042.3" width="75.4" height="322.8" fill="#e6f5e1"/>
<g filter="url(#hb)">
<rect x="803.5" y="2042.3" width="97.1" height="2.9" fill="url(#hg14)"/>
<rect x="810.4" y="2044.9" width="82.7" height="2.9" fill="url(#hg14)"/>
<rect x="816" y="2047.5" width="71.5" height="2.9" fill="url(#hg13)"/>
<rect x="823.9" y="2050.1" width="55.7" height="2.9" fill="url(#hg13)"/>
<rect x="826.3" y="2052.7" width="51.4" height="2.9" fill="url(#hg13)"/>
<rect x="826.7" y="2055.3" width="49.8" height="2.9" fill="url(#hg13)"/>
<rect x="826.4" y="2057.9" width="50.9" height="2.9" fill="url(#hg13)"/>
<rect x="827.3" y="2060.5" width="50.6" height="2.9" fill="url(#hg13)"/>
<rect x="827.3" y="2063.1" width="49.8" height="2.9" fill="url(#hg13)"/>
<rect x="826.1" y="2065.7" width="52.7" height="2.9" fill="url(#hg13)"/>
<rect x="827.7" y="2068.3" width="49.5" height="2.9" fill="url(#hg13)"/>
<rect x="828" y="2070.9" width="48.7" height="2.9" fill="url(#hg13)"/>
<rect x="826.3" y="2073.5" width="51" height="2.9" fill="url(#hg13)"/>
<rect x="826.2" y="2076.1" width="51.2" height="2.9" fill="url(#hg13)"/>
<rect x="827.1" y="2078.7" width="49" height="2.9" fill="url(#hg13)"/>
<rect x="827.3" y="2081.3" width="49.3" height="2.9" fill="url(#hg13)"/>
<rect x="827" y="2084" width="51.2" height="2.9" fill="url(#hg13)"/>
<rect x="826.6" y="2086.6" width="51.6" height="2.9" fill="url(#hg13)"/>
<rect x="828.1" y="2089.2" width="48.2" height="2.9" fill="url(#hg13)"/>
<rect x="826.7" y="2091.8" width="50.1" height="2.9" fill="url(#hg13)"/>
<rect x="826.8" y="2094.4" width="50.9" height="2.9" fill="url(#hg12)"/>
<rect x="828.3" y="2097" width="47.5" height="2.9" fill="url(#hg13)"/>
<rect x="827.8" y="2099.6" width="49.5" height="2.9" fill="url(#hg13)"/>
<rect x="828.1" y="2102.2" width="48.6" height="2.9" fill="url(#hg12)"/>
<rect x="827.3" y="2104.8" width="49.8" height="2.9" fill="url(#hg13)"/>
<rect x="829.1" y="2107.4" width="46.9" height="2.9" fill="url(#hg12)"/>
<rect x="828.4" y="2110" width="47.2" height="2.9" fill="url(#hg12)"/>
<rect x="827.3" y="2112.6" width="49.6" height="2.9" fill="url(#hg13)"/>
<rect x="827.3" y="2115.2" width="49.1" height="2.9" fill="url(#hg13)"/>
<rect x="828.1" y="2117.8" width="48.3" height="2.9" fill="url(#hg12)"/>
<rect x="828.6" y="2120.4" width="46.3" height="2.9" fill="url(#hg12)"/>
<rect x="828.4" y="2123" width="48.3" height="2.9" fill="url(#hg13)"/>
<rect x="829.1" y="2125.6" width="46.5" height="2.9" fill="url(#hg13)"/>
<rect x="828.2" y="2128.2" width="46.7" height="2.9" fill="url(#hg13)"/>
<rect x="828.6" y="2130.8" width="46.3" height="2.9" fill="url(#hg12)"/>
<rect x="829.7" y="2133.4" width="45.6" height="2.9" fill="url(#hg12)"/>
<rect x="828.2" y="2136" width="47.3" height="2.9" fill="url(#hg12)"/>
<rect x="827.9" y="2138.6" width="47.9" height="2.9" fill="url(#hg12)"/>
<rect x="829.1" y="2141.2" width="46.4" height="2.9" fill="url(#hg12)"/>
<rect x="828.1" y="2143.8" width="47.7" height="2.9" fill="url(#hg12)"/>
<rect x="828.5" y="2146.4" width="47.1" height="2.9" fill="url(#hg12)"/>
<rect x="828.7" y="2149" width="46" height="2.9" fill="url(#hg12)"/>
<rect x="828.8" y="2151.6" width="47" height="2.9" fill="url(#hg12)"/>
<rect x="828.9" y="2154.2" width="46.5" height="2.9" fill="url(#hg13)"/>
<rect x="828.2" y="2156.8" width="47" height="2.9" fill="url(#hg12)"/>
<rect x="829.9" y="2159.4" width="44.2" height="2.9" fill="url(#hg12)"/>
<rect x="829.8" y="2162" width="45.1" height="2.9" fill="url(#hg12)"/>
<rect x="830.2" y="2164.7" width="44.3" height="2.9" fill="url(#hg12)"/>
<rect x="828.5" y="2167.3" width="46.3" height="2.9" fill="url(#hg12)"/>
<rect x="828.7" y="2169.9" width="46.4" height="2.9" fill="url(#hg12)"/>
<rect x="829" y="2172.5" width="45.9" height="2.9" fill="url(#hg12)"/>
<rect x="829.1" y="2175.1" width="45.8" height="2.9" fill="url(#hg12)"/>
<rect x="830.2" y="2177.7" width="43.5" height="2.9" fill="url(#hg12)"/>
<rect x="830.4" y="2180.3" width="43.9" height="2.9" fill="url(#hg12)"/>
<rect x="830.6" y="2182.9" width="43.3" height="2.9" fill="url(#hg12)"/>
<rect x="830.5" y="2185.5" width="44" height="2.9" fill="url(#hg12)"/>
<rect x="830.2" y="2188.1" width="42.8" height="2.9" fill="url(#hg12)"/>
<rect x="830.6" y="2190.7" width="43" height="2.9" fill="url(#hg12)"/>
<rect x="831" y="2193.3" width="41.9" height="2.9" fill="url(#hg12)"/>
<rect x="831.1" y="2195.9" width="42.8" height="2.9" fill="url(#hg12)"/>
<rect x="830.9" y="2198.5" width="43" height="2.9" fill="url(#hg12)"/>
<rect x="830.7" y="2201.1" width="43.5" height="2.9" fill="url(#hg12)"/>
<rect x="830.5" y="2203.7" width="42.4" height="2.9" fill="url(#hg12)"/>
<rect x="831" y="2206.3" width="41.9" height="2.9" fill="url(#hg12)"/>
<rect x="830.1" y="2208.9" width="44.4" height="2.9" fill="url(#hg12)"/>
<rect x="829.9" y="2211.5" width="44.1" height="2.9" fill="url(#hg12)"/>
<rect x="830.5" y="2214.1" width="43.4" height="2.9" fill="url(#hg12)"/>
<rect x="831.2" y="2216.7" width="42.4" height="2.9" fill="url(#hg12)"/>
<rect x="830" y="2219.3" width="43.3" height="2.9" fill="url(#hg12)"/>
<rect x="830.3" y="2221.9" width="43.2" height="2.9" fill="url(#hg12)"/>
<rect x="829.9" y="2224.5" width="43.5" height="2.9" fill="url(#hg12)"/>
<rect x="831.4" y="2227.1" width="42.4" height="2.9" fill="url(#hg12)"/>
<rect x="831.5" y="2229.7" width="40.8" height="2.9" fill="url(#hg12)"/>
<rect x="831.1" y="2232.3" width="42" height="2.9" fill="url(#hg12)"/>
<rect x="831.1" y="2234.9" width="41" height="2.9" fill="url(#hg12)"/>
<rect x="831.1" y="2237.5" width="41.9" height="2.9" fill="url(#hg12)"/>
<rect x="831.1" y="2240.1" width="42.7" height="2.9" fill="url(#hg12)"/>
<rect x="830.6" y="2242.7" width="42.8" height="2.9" fill="url(#hg12)"/>
<rect x="832.2" y="2245.4" width="40.6" height="2.9" fill="url(#hg12)"/>
<rect x="831.5" y="2248" width="42.1" height="2.9" fill="url(#hg12)"/>
<rect x="831.3" y="2250.6" width="41.4" height="2.9" fill="url(#hg12)"/>
<rect x="831.3" y="2253.2" width="42.3" height="2.9" fill="url(#hg12)"/>
<rect x="830.8" y="2255.8" width="42.4" height="2.9" fill="url(#hg12)"/>
<rect x="831" y="2258.4" width="42.6" height="2.9" fill="url(#hg12)"/>
<rect x="831.4" y="2261" width="42.3" height="2.9" fill="url(#hg12)"/>
<rect x="831.6" y="2263.6" width="41.6" height="2.9" fill="url(#hg12)"/>
<rect x="832.1" y="2266.2" width="40.2" height="2.9" fill="url(#hg12)"/>
<rect x="830.5" y="2268.8" width="42.5" height="2.9" fill="url(#hg12)"/>
<rect x="831.8" y="2271.4" width="40.3" height="2.9" fill="url(#hg12)"/>
<rect x="831.5" y="2274" width="40.9" height="2.9" fill="url(#hg12)"/>
<rect x="831.8" y="2276.6" width="40.9" height="2.9" fill="url(#hg12)"/>
<rect x="831.8" y="2279.2" width="40" height="2.9" fill="url(#hg12)"/>
<rect x="830.6" y="2281.8" width="42.3" height="2.9" fill="url(#hg12)"/>
<rect x="832.6" y="2284.4" width="39.6" height="2.9" fill="url(#hg12)"/>
<rect x="831.2" y="2287" width="41.7" height="2.9" fill="url(#hg12)"/>
<rect x="832.7" y="2289.6" width="39.4" height="2.9" fill="url(#hg12)"/>
<rect x="831.6" y="2292.2" width="40.6" height="2.9" fill="url(#hg12)"/>
<rect x="831.4" y="2294.8" width="40.6" height="2.9" fill="url(#hg12)"/>
<rect x="832.5" y="2297.4" width="39.9" height="2.9" fill="url(#hg12)"/>
<rect x="831" y="2300" width="41.4" height="2.9" fill="url(#hg12)"/>
<rect x="832.1" y="2302.6" width="40.8" height="2.9" fill="url(#hg12)"/>
<rect x="831.9" y="2305.2" width="40.5" height="2.9" fill="url(#hg12)"/>
<rect x="832.4" y="2307.8" width="39.5" height="2.9" fill="url(#hg12)"/>
<rect x="831.9" y="2310.4" width="40.5" height="2.9" fill="url(#hg12)"/>
<rect x="831" y="2313" width="41.7" height="2.9" fill="url(#hg12)"/>
<rect x="831.5" y="2315.6" width="40.4" height="2.9" fill="url(#hg12)"/>
<rect x="832.2" y="2318.2" width="39.9" height="2.9" fill="url(#hg12)"/>
<rect x="831.2" y="2320.8" width="41.1" height="2.9" fill="url(#hg12)"/>
<rect x="832.6" y="2323.4" width="38.8" height="2.9" fill="url(#hg12)"/>
<rect x="831.5" y="2326.1" width="41" height="2.9" fill="url(#hg12)"/>
<rect x="831.9" y="2328.7" width="41" height="2.9" fill="url(#hg12)"/>
<rect x="832.4" y="2331.3" width="39.6" height="2.9" fill="url(#hg12)"/>
<rect x="833.2" y="2333.9" width="38.4" height="2.9" fill="url(#hg12)"/>
<rect x="832.3" y="2336.5" width="40.2" height="2.9" fill="url(#hg12)"/>
<rect x="833" y="2339.1" width="39" height="2.9" fill="url(#hg12)"/>
<rect x="833.5" y="2341.7" width="38" height="2.9" fill="url(#hg12)"/>
<rect x="832.5" y="2344.3" width="38.6" height="2.9" fill="url(#hg12)"/>
<rect x="832.3" y="2346.9" width="40.2" height="2.9" fill="url(#hg12)"/>
<rect x="832.6" y="2349.5" width="38.2" height="2.9" fill="url(#hg12)"/>
<rect x="832.4" y="2352.1" width="38.5" height="2.9" fill="url(#hg12)"/>
<rect x="831.7" y="2354.7" width="40" height="2.9" fill="url(#hg12)"/>
<rect x="832.3" y="2357.3" width="39" height="2.9" fill="url(#hg12)"/>
<rect x="833" y="2359.9" width="37.6" height="2.9" fill="url(#hg12)"/>
<rect x="832.3" y="2362.5" width="39.9" height="2.9" fill="url(#hg12)"/>
</g>
<path d="M814.4 2332.7h75.4M814.4 2147.3h75.4M814.4 2122.8h75.4M814.4 2323.1h75.4M814.4 2238h75.4M814.4 2340.4h75.4M814.4 2158.2h75.4M814.4 2175.6h75.4M814.4 2274h75.4M814.4 2327.1h75.4M814.4 2095.8h75.4M814.4 2127.2h75.4M814.4 2046.7h75.4M814.4 2222.9h75.4M814.4 2340.4h75.4M814.4 2225.6h75.4M814.4 2090.3h75.4M814.4 2265.4h75.4M814.4 2252.1h75.4M814.4 2076.3h75.4M814.4 2337.4h75.4M814.4 2255.3h75.4M814.4 2200.7h75.4M814.4 2153.4h75.4M814.4 2094.1h75.4M814.4 2193.3h75.4M814.4 2160.4h75.4M814.4 2117.5h75.4M814.4 2251h75.4M814.4 2255.9h75.4M814.4 2350.4h75.4M814.4 2354.9h75.4M814.4 2192.7h75.4M814.4 2273.5h75.4M814.4 2163.4h75.4M814.4 2182.2h75.4M814.4 2225.3h75.4M814.4 2359.1h75.4M814.4 2055.8h75.4M814.4 2191.8h75.4" stroke="#fff" stroke-width="0.7" opacity="0.12"/>
</g>
<rect x="814.4" y="2042.3" width="75.4" height="322.8" fill="none" stroke="#555" stroke-width="1.1"/>
<line x1="814.4" y1="2042.9" x2="889.8" y2="2042.9" stroke-width="1.8" stroke="#555"/>
<g clip-path="url(#chg2)">
<rect x="917.1" y="2042.3" width="75.4" height="322.8" fill="#f4f2f8"/>
<g filter="url(#hb)">
<rect x="906.4" y="2042.3" width="96.4" height="2.9" fill="url(#hg28)"/>
<rect x="906.1" y="2044.9" width="97.8" height="2.9" fill="url(#hg29)"/>
<rect x="906.6" y="2047.5" width="97" height="2.9" fill="url(#hg28)"/>
<rect x="905.4" y="2050.1" width="99.5" height="2.9" fill="url(#hg29)"/>
<rect x="909.4" y="2052.7" width="91.4" height="2.9" fill="url(#hg29)"/>
<rect x="909.7" y="2055.3" width="90.6" height="2.9" fill="url(#hg28)"/>
<rect x="907.3" y="2057.9" width="96" height="2.9" fill="url(#hg29)"/>
<rect x="909.7" y="2060.5" width="89.5" height="2.9" fill="url(#hg29)"/>
<rect x="910" y="2063.1" width="88.9" height="2.9" fill="url(#hg29)"/>
<rect x="910.6" y="2065.7" width="87.6" height="2.9" fill="url(#hg28)"/>
<rect x="910.8" y="2068.3" width="87.6" height="2.9" fill="url(#hg29)"/>
<rect x="911.7" y="2070.9" width="86.7" height="2.9" fill="url(#hg29)"/>
<rect x="910.5" y="2073.5" width="88.7" height="2.9" fill="url(#hg29)"/>
<rect x="910.5" y="2076.1" width="88" height="2.9" fill="url(#hg29)"/>
<rect x="912.3" y="2078.7" width="84.7" height="2.9" fill="url(#hg29)"/>
<rect x="911.8" y="2081.3" width="85.1" height="2.9" fill="url(#hg29)"/>
<rect x="911.3" y="2084" width="86.9" height="2.9" fill="url(#hg29)"/>
<rect x="913.8" y="2086.6" width="81.1" height="2.9" fill="url(#hg29)"/>
<rect x="914.6" y="2089.2" width="80" height="2.9" fill="url(#hg29)"/>
<rect x="914.3" y="2091.8" width="80.1" height="2.9" fill="url(#hg29)"/>
<rect x="912.9" y="2094.4" width="84.2" height="2.9" fill="url(#hg28)"/>
<rect x="915.1" y="2097" width="80.4" height="2.9" fill="url(#hg29)"/>
<rect x="914.7" y="2099.6" width="80.3" height="2.9" fill="url(#hg29)"/>
<rect x="916.2" y="2102.2" width="77" height="2.9" fill="url(#hg29)"/>
<rect x="917.2" y="2104.8" width="75.9" height="2.9" fill="url(#hg29)"/>
<rect x="916.2" y="2107.4" width="77.9" height="2.9" fill="url(#hg29)"/>
<rect x="917.3" y="2110" width="74.5" height="2.9" fill="url(#hg29)"/>
<rect x="918.5" y="2112.6" width="73.4" height="2.9" fill="url(#hg28)"/>
<rect x="915.7" y="2115.2" width="78.7" height="2.9" fill="url(#hg29)"/>
<rect x="916.1" y="2117.8" width="78.2" height="2.9" fill="url(#hg29)"/>
<rect x="918.4" y="2120.4" width="72.4" height="2.9" fill="url(#hg29)"/>
<rect x="917.6" y="2123" width="73.6" height="2.9" fill="url(#hg28)"/>
<rect x="916.1" y="2125.6" width="76.8" height="2.9" fill="url(#hg29)"/>
<rect x="917.8" y="2128.2" width="74" height="2.9" fill="url(#hg29)"/>
<rect x="918.9" y="2130.8" width="72.3" height="2.9" fill="url(#hg29)"/>
<rect x="916.8" y="2133.4" width="75.3" height="2.9" fill="url(#hg28)"/>
<rect x="917.9" y="2136" width="74.3" height="2.9" fill="url(#hg28)"/>
<rect x="918.1" y="2138.6" width="73.2" height="2.9" fill="url(#hg29)"/>
<rect x="920.2" y="2141.2" width="70.2" height="2.9" fill="url(#hg28)"/>
<rect x="920.1" y="2143.8" width="69.2" height="2.9" fill="url(#hg29)"/>
<rect x="918" y="2146.4" width="72.6" height="2.9" fill="url(#hg29)"/>
<rect x="920.6" y="2149" width="68.4" height="2.9" fill="url(#hg29)"/>
<rect x="921.7" y="2151.6" width="67" height="2.9" fill="url(#hg28)"/>
<rect x="919.4" y="2154.2" width="71.5" height="2.9" fill="url(#hg29)"/>
<rect x="921.8" y="2156.8" width="66.1" height="2.9" fill="url(#hg29)"/>
<rect x="920.4" y="2159.4" width="68" height="2.9" fill="url(#hg29)"/>
<rect x="920.2" y="2162" width="70.1" height="2.9" fill="url(#hg28)"/>
<rect x="922" y="2164.7" width="66.1" height="2.9" fill="url(#hg28)"/>
<rect x="922.8" y="2167.3" width="64.9" height="2.9" fill="url(#hg29)"/>
<rect x="921.6" y="2169.9" width="65.4" height="2.9" fill="url(#hg29)"/>
<rect x="921" y="2172.5" width="67" height="2.9" fill="url(#hg29)"/>
<rect x="922" y="2175.1" width="66.4" height="2.9" fill="url(#hg28)"/>
<rect x="922.6" y="2177.7" width="64.6" height="2.9" fill="url(#hg28)"/>
<rect x="923.4" y="2180.3" width="62.3" height="2.9" fill="url(#hg29)"/>
<rect x="923.3" y="2182.9" width="62.2" height="2.9" fill="url(#hg28)"/>
<rect x="924.2" y="2185.5" width="61.9" height="2.9" fill="url(#hg28)"/>
<rect x="922.5" y="2188.1" width="65.2" height="2.9" fill="url(#hg28)"/>
<rect x="924.5" y="2190.7" width="60.7" height="2.9" fill="url(#hg28)"/>
<rect x="923.4" y="2193.3" width="62.1" height="2.9" fill="url(#hg28)"/>
<rect x="923.4" y="2195.9" width="62.8" height="2.9" fill="url(#hg29)"/>
<rect x="923.1" y="2198.5" width="63.1" height="2.9" fill="url(#hg28)"/>
<rect x="923.6" y="2201.1" width="61.5" height="2.9" fill="url(#hg29)"/>
<rect x="925.9" y="2203.7" width="58.4" height="2.9" fill="url(#hg28)"/>
<rect x="926.4" y="2206.3" width="57.7" height="2.9" fill="url(#hg28)"/>
<rect x="925" y="2208.9" width="59.8" height="2.9" fill="url(#hg29)"/>
<rect x="924" y="2211.5" width="61.1" height="2.9" fill="url(#hg28)"/>
<rect x="925.6" y="2214.1" width="58.4" height="2.9" fill="url(#hg28)"/>
<rect x="924.9" y="2216.7" width="59.9" height="2.9" fill="url(#hg28)"/>
<rect x="925.5" y="2219.3" width="59.3" height="2.9" fill="url(#hg28)"/>
<rect x="925.1" y="2221.9" width="59.1" height="2.9" fill="url(#hg28)"/>
<rect x="926.9" y="2224.5" width="56.1" height="2.9" fill="url(#hg28)"/>
<rect x="926.2" y="2227.1" width="57.4" height="2.9" fill="url(#hg28)"/>
<rect x="926.5" y="2229.7" width="56.7" height="2.9" fill="url(#hg28)"/>
<rect x="926.7" y="2232.3" width="55.7" height="2.9" fill="url(#hg28)"/>
<rect x="927.3" y="2234.9" width="55.6" height="2.9" fill="url(#hg28)"/>
<rect x="927.2" y="2237.5" width="55.4" height="2.9" fill="url(#hg28)"/>
<rect x="927.1" y="2240.1" width="55.9" height="2.9" fill="url(#hg28)"/>
<rect x="927.5" y="2242.7" width="54.4" height="2.9" fill="url(#hg27)"/>
<rect x="927.4" y="2245.4" width="54.2" height="2.9" fill="url(#hg28)"/>
<rect x="926.9" y="2248" width="54.9" height="2.9" fill="url(#hg28)"/>
<rect x="928" y="2250.6" width="53.5" height="2.9" fill="url(#hg28)"/>
<rect x="929.2" y="2253.2" width="50.4" height="2.9" fill="url(#hg28)"/>
<rect x="928.3" y="2255.8" width="52.3" height="2.9" fill="url(#hg28)"/>
<rect x="929.3" y="2258.4" width="51.1" height="2.9" fill="url(#hg27)"/>
<rect x="930.1" y="2261" width="49.7" height="2.9" fill="url(#hg28)"/>
<rect x="929.9" y="2263.6" width="50.8" height="2.9" fill="url(#hg27)"/>
<rect x="929.3" y="2266.2" width="51.4" height="2.9" fill="url(#hg27)"/>
<rect x="931" y="2268.8" width="48.2" height="2.9" fill="url(#hg27)"/>
<rect x="930.1" y="2271.4" width="48.7" height="2.9" fill="url(#hg28)"/>
<rect x="929.9" y="2274" width="49.5" height="2.9" fill="url(#hg27)"/>
<rect x="931" y="2276.6" width="46.9" height="2.9" fill="url(#hg27)"/>
<rect x="929.9" y="2279.2" width="49" height="2.9" fill="url(#hg27)"/>
<rect x="930.8" y="2281.8" width="47.5" height="2.9" fill="url(#hg27)"/>
<rect x="930.5" y="2284.4" width="48" height="2.9" fill="url(#hg27)"/>
<rect x="932.3" y="2287" width="44.9" height="2.9" fill="url(#hg27)"/>
<rect x="931.6" y="2289.6" width="45.7" height="2.9" fill="url(#hg27)"/>
<rect x="932.5" y="2292.2" width="44.5" height="2.9" fill="url(#hg27)"/>
<rect x="932.6" y="2294.8" width="44.4" height="2.9" fill="url(#hg27)"/>
<rect x="932.9" y="2297.4" width="44.6" height="2.9" fill="url(#hg26)"/>
<rect x="933.5" y="2300" width="43.3" height="2.9" fill="url(#hg27)"/>
<rect x="933.1" y="2302.6" width="44.4" height="2.9" fill="url(#hg27)"/>
<rect x="933.2" y="2305.2" width="43.7" height="2.9" fill="url(#hg27)"/>
<rect x="934.6" y="2307.8" width="40.4" height="2.9" fill="url(#hg26)"/>
<rect x="934.5" y="2310.4" width="40.3" height="2.9" fill="url(#hg26)"/>
<rect x="935.1" y="2313" width="38.9" height="2.9" fill="url(#hg26)"/>
<rect x="935.3" y="2315.6" width="38.4" height="2.9" fill="url(#hg26)"/>
<rect x="934.2" y="2318.2" width="40.7" height="2.9" fill="url(#hg26)"/>
<rect x="936.1" y="2320.8" width="37.2" height="2.9" fill="url(#hg26)"/>
<rect x="935.1" y="2323.4" width="38.5" height="2.9" fill="url(#hg25)"/>
<rect x="936.5" y="2326.1" width="36.1" height="2.9" fill="url(#hg26)"/>
<rect x="936.6" y="2328.7" width="35.8" height="2.9" fill="url(#hg25)"/>
<rect x="936.4" y="2331.3" width="36.5" height="2.9" fill="url(#hg25)"/>
<rect x="938.1" y="2333.9" width="34.1" height="2.9" fill="url(#hg25)"/>
<rect x="936.9" y="2336.5" width="36.2" height="2.9" fill="url(#hg26)"/>
<rect x="937.6" y="2339.1" width="33.8" height="2.9" fill="url(#hg25)"/>
<rect x="938.5" y="2341.7" width="33.5" height="2.9" fill="url(#hg25)"/>
<rect x="938.2" y="2344.3" width="33.6" height="2.9" fill="url(#hg25)"/>
<rect x="937.9" y="2346.9" width="32.8" height="2.9" fill="url(#hg25)"/>
<rect x="939.1" y="2349.5" width="31.6" height="2.9" fill="url(#hg25)"/>
<rect x="938.9" y="2352.1" width="31.2" height="2.9" fill="url(#hg25)"/>
<rect x="939.2" y="2354.7" width="30.1" height="2.9" fill="url(#hg24)"/>
<rect x="941.1" y="2357.3" width="27.5" height="2.9" fill="url(#hg24)"/>
<rect x="941.2" y="2359.9" width="26.5" height="2.9" fill="url(#hg24)"/>
<rect x="940.9" y="2362.5" width="26.8" height="2.9" fill="url(#hg24)"/>
</g>
<path d="M917.1 2193.5h75.4M917.1 2298.6h75.4M917.1 2292.8h75.4M917.1 2169.2h75.4M917.1 2044.9h75.4M917.1 2241.7h75.4M917.1 2215.5h75.4M917.1 2178.5h75.4M917.1 2234.7h75.4M917.1 2230.9h75.4M917.1 2197.7h75.4M917.1 2219.6h75.4M917.1 2223.6h75.4M917.1 2291.4h75.4M917.1 2297.7h75.4M917.1 2049.3h75.4M917.1 2295.5h75.4M917.1 2120.8h75.4M917.1 2178.5h75.4M917.1 2112.5h75.4M917.1 2141.8h75.4M917.1 2170.8h75.4M917.1 2188.8h75.4M917.1 2076.6h75.4M917.1 2137.2h75.4M917.1 2189.7h75.4M917.1 2166.9h75.4M917.1 2213.4h75.4M917.1 2064.6h75.4M917.1 2222.6h75.4M917.1 2334.5h75.4M917.1 2280.8h75.4M917.1 2222.2h75.4M917.1 2302.4h75.4M917.1 2164.9h75.4M917.1 2099.4h75.4M917.1 2240h75.4M917.1 2121.2h75.4M917.1 2130.5h75.4M917.1 2290.5h75.4" stroke="#fff" stroke-width="0.7" opacity="0.12"/>
</g>
<rect x="917.1" y="2042.3" width="75.4" height="322.8" fill="none" stroke="#555" stroke-width="1.1"/>
<line x1="917.1" y1="2042.9" x2="992.5" y2="2042.9" stroke-width="1.8" stroke="#555"/>
<g clip-path="url(#chg3)">
<rect x="1000" y="2042.3" width="75.5" height="322.8" fill="#f4f2f8"/>
<g filter="url(#hb)">
<rect x="999.2" y="2042.3" width="77.7" height="2.9" fill="url(#hg36)"/>
<rect x="1000.1" y="2044.9" width="76.1" height="2.9" fill="url(#hg36)"/>
<rect x="1002" y="2047.5" width="71.8" height="2.9" fill="url(#hg36)"/>
<rect x="1002.2" y="2050.1" width="72" height="2.9" fill="url(#hg36)"/>
<rect x="1003.2" y="2052.7" width="70" height="2.9" fill="url(#hg36)"/>
<rect x="1003.7" y="2055.3" width="67.6" height="2.9" fill="url(#hg36)"/>
<rect x="1005.5" y="2057.9" width="64.7" height="2.9" fill="url(#hg36)"/>
<rect x="1005.6" y="2060.5" width="65.1" height="2.9" fill="url(#hg36)"/>
<rect x="1005.9" y="2063.1" width="64.1" height="2.9" fill="url(#hg36)"/>
<rect x="1008.2" y="2065.7" width="60" height="2.9" fill="url(#hg35)"/>
<rect x="1008.5" y="2068.3" width="59.2" height="2.9" fill="url(#hg35)"/>
<rect x="1009" y="2070.9" width="57.2" height="2.9" fill="url(#hg35)"/>
<rect x="1009.1" y="2073.5" width="56.3" height="2.9" fill="url(#hg35)"/>
<rect x="1010.2" y="2076.1" width="54.9" height="2.9" fill="url(#hg35)"/>
<rect x="1011.1" y="2078.7" width="52.4" height="2.9" fill="url(#hg35)"/>
<rect x="1011" y="2081.3" width="53.5" height="2.9" fill="url(#hg35)"/>
<rect x="1012.7" y="2084" width="49.4" height="2.9" fill="url(#hg35)"/>
<rect x="1013.8" y="2086.6" width="47.5" height="2.9" fill="url(#hg35)"/>
<rect x="1014.7" y="2089.2" width="46.4" height="2.9" fill="url(#hg35)"/>
<rect x="1014.2" y="2091.8" width="46.7" height="2.9" fill="url(#hg35)"/>
<rect x="1014" y="2094.4" width="47.2" height="2.9" fill="url(#hg35)"/>
<rect x="1014.9" y="2097" width="45.4" height="2.9" fill="url(#hg34)"/>
<rect x="1016.4" y="2099.6" width="43.4" height="2.9" fill="url(#hg35)"/>
<rect x="1015.6" y="2102.2" width="44.2" height="2.9" fill="url(#hg34)"/>
<rect x="1015.6" y="2104.8" width="44.7" height="2.9" fill="url(#hg34)"/>
<rect x="1016.5" y="2107.4" width="42.6" height="2.9" fill="url(#hg34)"/>
<rect x="1017.6" y="2110" width="40.6" height="2.9" fill="url(#hg34)"/>
<rect x="1017.1" y="2112.6" width="41.1" height="2.9" fill="url(#hg34)"/>
<rect x="1018.2" y="2115.2" width="39.8" height="2.9" fill="url(#hg34)"/>
<rect x="1017.4" y="2117.8" width="39.8" height="2.9" fill="url(#hg34)"/>
<rect x="1017.5" y="2120.4" width="40.1" height="2.9" fill="url(#hg34)"/>
<rect x="1019.2" y="2123" width="37.5" height="2.9" fill="url(#hg34)"/>
<rect x="1019.3" y="2125.6" width="37.1" height="2.9" fill="url(#hg34)"/>
<rect x="1018.8" y="2128.2" width="38.5" height="2.9" fill="url(#hg34)"/>
<rect x="1019.5" y="2130.8" width="37.3" height="2.9" fill="url(#hg34)"/>
<rect x="1019.6" y="2133.4" width="36.4" height="2.9" fill="url(#hg34)"/>
<rect x="1019.9" y="2136" width="36" height="2.9" fill="url(#hg33)"/>
<rect x="1020.5" y="2138.6" width="33.7" height="2.9" fill="url(#hg33)"/>
<rect x="1020.6" y="2141.2" width="34.4" height="2.9" fill="url(#hg33)"/>
<rect x="1021.7" y="2143.8" width="33.1" height="2.9" fill="url(#hg33)"/>
<rect x="1020.6" y="2146.4" width="34.8" height="2.9" fill="url(#hg33)"/>
<rect x="1020.6" y="2149" width="34.7" height="2.9" fill="url(#hg33)"/>
<rect x="1020.5" y="2151.6" width="34.3" height="2.9" fill="url(#hg33)"/>
<rect x="1020.5" y="2154.2" width="33.7" height="2.9" fill="url(#hg33)"/>
<rect x="1022.4" y="2156.8" width="31.4" height="2.9" fill="url(#hg33)"/>
<rect x="1021.5" y="2159.4" width="31.6" height="2.9" fill="url(#hg33)"/>
<rect x="1021.6" y="2162" width="32.9" height="2.9" fill="url(#hg33)"/>
<rect x="1021.5" y="2164.7" width="33" height="2.9" fill="url(#hg33)"/>
<rect x="1022.1" y="2167.3" width="30.3" height="2.9" fill="url(#hg33)"/>
<rect x="1021.8" y="2169.9" width="31.6" height="2.9" fill="url(#hg33)"/>
<rect x="1022.3" y="2172.5" width="30.6" height="2.9" fill="url(#hg33)"/>
<rect x="1022.1" y="2175.1" width="30.7" height="2.9" fill="url(#hg33)"/>
<rect x="1022.5" y="2177.7" width="29.8" height="2.9" fill="url(#hg32)"/>
<rect x="1022.4" y="2180.3" width="30.1" height="2.9" fill="url(#hg32)"/>
<rect x="1022.7" y="2182.9" width="30.1" height="2.9" fill="url(#hg33)"/>
<rect x="1022.7" y="2185.5" width="29.1" height="2.9" fill="url(#hg32)"/>
<rect x="1023.1" y="2188.1" width="29.1" height="2.9" fill="url(#hg32)"/>
<rect x="1023.7" y="2190.7" width="28.8" height="2.9" fill="url(#hg32)"/>
<rect x="1023.2" y="2193.3" width="28.8" height="2.9" fill="url(#hg32)"/>
<rect x="1022.9" y="2195.9" width="29.2" height="2.9" fill="url(#hg32)"/>
<rect x="1024.4" y="2198.5" width="27.7" height="2.9" fill="url(#hg32)"/>
<rect x="1024.6" y="2201.1" width="27.3" height="2.9" fill="url(#hg32)"/>
<rect x="1023.1" y="2203.7" width="29" height="2.9" fill="url(#hg32)"/>
<rect x="1024" y="2206.3" width="27" height="2.9" fill="url(#hg32)"/>
<rect x="1024" y="2208.9" width="28" height="2.9" fill="url(#hg32)"/>
<rect x="1022.9" y="2211.5" width="28.8" height="2.9" fill="url(#hg32)"/>
<rect x="1023.9" y="2214.1" width="27.2" height="2.9" fill="url(#hg32)"/>
<rect x="1024.2" y="2216.7" width="27.7" height="2.9" fill="url(#hg32)"/>
<rect x="1024" y="2219.3" width="28.3" height="2.9" fill="url(#hg32)"/>
<rect x="1024.3" y="2221.9" width="27.2" height="2.9" fill="url(#hg32)"/>
<rect x="1023.5" y="2224.5" width="28.4" height="2.9" fill="url(#hg32)"/>
<rect x="1024.6" y="2227.1" width="26.8" height="2.9" fill="url(#hg32)"/>
<rect x="1023.8" y="2229.7" width="27.1" height="2.9" fill="url(#hg32)"/>
<rect x="1024" y="2232.3" width="27.4" height="2.9" fill="url(#hg32)"/>
<rect x="1024.3" y="2234.9" width="27.4" height="2.9" fill="url(#hg32)"/>
<rect x="1024.4" y="2237.5" width="26.8" height="2.9" fill="url(#hg32)"/>
<rect x="1023.6" y="2240.1" width="28.5" height="2.9" fill="url(#hg32)"/>
<rect x="1024.1" y="2242.7" width="28.3" height="2.9" fill="url(#hg32)"/>
<rect x="1023.9" y="2245.4" width="27.5" height="2.9" fill="url(#hg32)"/>
<rect x="1024.2" y="2248" width="28.1" height="2.9" fill="url(#hg32)"/>
<rect x="1023.9" y="2250.6" width="27.4" height="2.9" fill="url(#hg32)"/>
<rect x="1023.8" y="2253.2" width="27.5" height="2.9" fill="url(#hg32)"/>
<rect x="1023.4" y="2255.8" width="28.2" height="2.9" fill="url(#hg32)"/>
<rect x="1024.7" y="2258.4" width="26.9" height="2.9" fill="url(#hg32)"/>
<rect x="1024.2" y="2261" width="28" height="2.9" fill="url(#hg32)"/>
<rect x="1023.5" y="2263.6" width="27.9" height="2.9" fill="url(#hg32)"/>
<rect x="1023.5" y="2266.2" width="27.9" height="2.9" fill="url(#hg32)"/>
<rect x="1024.2" y="2268.8" width="28" height="2.9" fill="url(#hg32)"/>
<rect x="1024.1" y="2271.4" width="26.3" height="2.9" fill="url(#hg32)"/>
<rect x="1023.9" y="2274" width="27.2" height="2.9" fill="url(#hg32)"/>
<rect x="1024.2" y="2276.6" width="27.4" height="2.9" fill="url(#hg32)"/>
<rect x="1024.6" y="2279.2" width="26.6" height="2.9" fill="url(#hg32)"/>
<rect x="1024.1" y="2281.8" width="26.5" height="2.9" fill="url(#hg32)"/>
<rect x="1023.4" y="2284.4" width="27.8" height="2.9" fill="url(#hg32)"/>
<rect x="1024.7" y="2287" width="26" height="2.9" fill="url(#hg32)"/>
<rect x="1023.8" y="2289.6" width="27.7" height="2.9" fill="url(#hg32)"/>
<rect x="1024.2" y="2292.2" width="26.5" height="2.9" fill="url(#hg32)"/>
<rect x="1024.3" y="2294.8" width="25.9" height="2.9" fill="url(#hg32)"/>
<rect x="1024.3" y="2297.4" width="27.3" height="2.9" fill="url(#hg32)"/>
<rect x="1023.4" y="2300" width="27.8" height="2.9" fill="url(#hg32)"/>
<rect x="1024.3" y="2302.6" width="26.3" height="2.9" fill="url(#hg32)"/>
<rect x="1023.8" y="2305.2" width="27.1" height="2.9" fill="url(#hg32)"/>
<rect x="1024" y="2307.8" width="27.3" height="2.9" fill="url(#hg32)"/>
<rect x="1024.5" y="2310.4" width="26.2" height="2.9" fill="url(#hg32)"/>
<rect x="1024.8" y="2313" width="26.2" height="2.9" fill="url(#hg32)"/>
<rect x="1024.5" y="2315.6" width="26.6" height="2.9" fill="url(#hg32)"/>
<rect x="1024.5" y="2318.2" width="27.3" height="2.9" fill="url(#hg32)"/>
<rect x="1024.3" y="2320.8" width="26.3" height="2.9" fill="url(#hg32)"/>
<rect x="1024.4" y="2323.4" width="26" height="2.9" fill="url(#hg32)"/>
<rect x="1025" y="2326.1" width="25.8" height="2.9" fill="url(#hg32)"/>
<rect x="1025.2" y="2328.7" width="25.3" height="2.9" fill="url(#hg32)"/>
<rect x="1025" y="2331.3" width="26" height="2.9" fill="url(#hg31)"/>
<rect x="1025.1" y="2333.9" width="25.9" height="2.9" fill="url(#hg32)"/>
<rect x="1023.8" y="2336.5" width="27.2" height="2.9" fill="url(#hg32)"/>
<rect x="1025.1" y="2339.1" width="25.3" height="2.9" fill="url(#hg32)"/>
<rect x="1024.5" y="2341.7" width="27" height="2.9" fill="url(#hg32)"/>
<rect x="1024.9" y="2344.3" width="25.9" height="2.9" fill="url(#hg32)"/>
<rect x="1024.8" y="2346.9" width="26.3" height="2.9" fill="url(#hg32)"/>
<rect x="1024.4" y="2349.5" width="27" height="2.9" fill="url(#hg32)"/>
<rect x="1024.4" y="2352.1" width="26.5" height="2.9" fill="url(#hg32)"/>
<rect x="1025.2" y="2354.7" width="25.7" height="2.9" fill="url(#hg32)"/>
<rect x="1024.8" y="2357.3" width="26.8" height="2.9" fill="url(#hg32)"/>
<rect x="1024.6" y="2359.9" width="25.9" height="2.9" fill="url(#hg31)"/>
<rect x="1024.3" y="2362.5" width="26.7" height="2.9" fill="url(#hg31)"/>
</g>
<path d="M1000 2110.2h75.5M1000 2286.7h75.5M1000 2335.9h75.5M1000 2108.8h75.5M1000 2087.2h75.5M1000 2078.5h75.5M1000 2220.4h75.5M1000 2310.9h75.5M1000 2122.2h75.5M1000 2297.7h75.5M1000 2057.3h75.5M1000 2109.8h75.5M1000 2218.8h75.5M1000 2287h75.5M1000 2201.7h75.5M1000 2264.3h75.5M1000 2158.4h75.5M1000 2164.2h75.5M1000 2210.4h75.5M1000 2042.9h75.5M1000 2107h75.5M1000 2155.6h75.5M1000 2254.2h75.5M1000 2105.8h75.5M1000 2120.9h75.5M1000 2362.1h75.5M1000 2252.4h75.5M1000 2174.9h75.5M1000 2295.1h75.5M1000 2273.1h75.5M1000 2306h75.5M1000 2222.7h75.5M1000 2240.7h75.5M1000 2073.6h75.5M1000 2180.7h75.5M1000 2168.9h75.5M1000 2124.9h75.5M1000 2160.1h75.5M1000 2328.3h75.5M1000 2114.2h75.5" stroke="#fff" stroke-width="0.7" opacity="0.12"/>
</g>
<rect x="1000" y="2042.3" width="75.5" height="322.8" fill="none" stroke="#555" stroke-width="1.1"/>
<line x1="1000" y1="2042.9" x2="1075.5" y2="2042.9" stroke-width="1.8" stroke="#555"/>
<g clip-path="url(#chg4)">
<rect x="1098.3" y="2042.3" width="76.2" height="322.8" fill="#fee9d4"/>
<g filter="url(#hb)">
<rect x="1100.8" y="2042.3" width="72" height="2.9" fill="url(#hg410)"/>
<rect x="1099.8" y="2044.9" width="72.9" height="2.9" fill="url(#hg410)"/>
<rect x="1101.4" y="2047.5" width="69.6" height="2.9" fill="url(#hg410)"/>
<rect x="1101.4" y="2050.1" width="69.3" height="2.9" fill="url(#hg49)"/>
<rect x="1102.1" y="2052.7" width="69.2" height="2.9" fill="url(#hg49)"/>
<rect x="1103.2" y="2055.3" width="65.6" height="2.9" fill="url(#hg410)"/>
<rect x="1103.1" y="2057.9" width="67.4" height="2.9" fill="url(#hg49)"/>
<rect x="1102.2" y="2060.5" width="68.7" height="2.9" fill="url(#hg410)"/>
<rect x="1103.9" y="2063.1" width="64.5" height="2.9" fill="url(#hg410)"/>
<rect x="1104" y="2065.7" width="65.1" height="2.9" fill="url(#hg49)"/>
<rect x="1104.5" y="2068.3" width="63.6" height="2.9" fill="url(#hg49)"/>
<rect x="1104" y="2070.9" width="65" height="2.9" fill="url(#hg49)"/>
<rect x="1104" y="2073.5" width="64.3" height="2.9" fill="url(#hg410)"/>
<rect x="1106.4" y="2076.1" width="60.9" height="2.9" fill="url(#hg49)"/>
<rect x="1106.3" y="2078.7" width="60.8" height="2.9" fill="url(#hg410)"/>
<rect x="1104.8" y="2081.3" width="62.4" height="2.9" fill="url(#hg49)"/>
<rect x="1105.1" y="2084" width="62.5" height="2.9" fill="url(#hg49)"/>
<rect x="1107.2" y="2086.6" width="57.9" height="2.9" fill="url(#hg49)"/>
<rect x="1106.9" y="2089.2" width="58.2" height="2.9" fill="url(#hg49)"/>
<rect x="1108" y="2091.8" width="56.8" height="2.9" fill="url(#hg49)"/>
<rect x="1108.4" y="2094.4" width="56.9" height="2.9" fill="url(#hg49)"/>
<rect x="1107.9" y="2097" width="57.9" height="2.9" fill="url(#hg49)"/>
<rect x="1106.8" y="2099.6" width="59.4" height="2.9" fill="url(#hg49)"/>
<rect x="1109.2" y="2102.2" width="54.8" height="2.9" fill="url(#hg49)"/>
<rect x="1108.9" y="2104.8" width="55.5" height="2.9" fill="url(#hg49)"/>
<rect x="1108.7" y="2107.4" width="55.1" height="2.9" fill="url(#hg49)"/>
<rect x="1107.9" y="2110" width="57.2" height="2.9" fill="url(#hg48)"/>
<rect x="1108.5" y="2112.6" width="54.9" height="2.9" fill="url(#hg48)"/>
<rect x="1109.7" y="2115.2" width="54.3" height="2.9" fill="url(#hg48)"/>
<rect x="1109.6" y="2117.8" width="54" height="2.9" fill="url(#hg49)"/>
<rect x="1109.8" y="2120.4" width="54.2" height="2.9" fill="url(#hg48)"/>
<rect x="1109.5" y="2123" width="54.7" height="2.9" fill="url(#hg48)"/>
<rect x="1110" y="2125.6" width="53.7" height="2.9" fill="url(#hg48)"/>
<rect x="1110.6" y="2128.2" width="51.7" height="2.9" fill="url(#hg48)"/>
<rect x="1111.4" y="2130.8" width="50.4" height="2.9" fill="url(#hg49)"/>
<rect x="1110.5" y="2133.4" width="52.4" height="2.9" fill="url(#hg48)"/>
<rect x="1111" y="2136" width="50.8" height="2.9" fill="url(#hg48)"/>
<rect x="1111.6" y="2138.6" width="49.6" height="2.9" fill="url(#hg48)"/>
<rect x="1111.4" y="2141.2" width="49.3" height="2.9" fill="url(#hg48)"/>
<rect x="1110.6" y="2143.8" width="51.2" height="2.9" fill="url(#hg48)"/>
<rect x="1111.1" y="2146.4" width="50.5" height="2.9" fill="url(#hg48)"/>
<rect x="1111.6" y="2149" width="50.4" height="2.9" fill="url(#hg48)"/>
<rect x="1112" y="2151.6" width="49.3" height="2.9" fill="url(#hg48)"/>
<rect x="1112.7" y="2154.2" width="46.9" height="2.9" fill="url(#hg48)"/>
<rect x="1112.2" y="2156.8" width="48.7" height="2.9" fill="url(#hg48)"/>
<rect x="1112" y="2159.4" width="49.3" height="2.9" fill="url(#hg48)"/>
<rect x="1111.7" y="2162" width="49" height="2.9" fill="url(#hg48)"/>
<rect x="1113.1" y="2164.7" width="47.4" height="2.9" fill="url(#hg48)"/>
<rect x="1113.4" y="2167.3" width="46.5" height="2.9" fill="url(#hg48)"/>
<rect x="1112.7" y="2169.9" width="48.3" height="2.9" fill="url(#hg47)"/>
<rect x="1113.8" y="2172.5" width="44.8" height="2.9" fill="url(#hg48)"/>
<rect x="1112.8" y="2175.1" width="46.3" height="2.9" fill="url(#hg47)"/>
<rect x="1114.5" y="2177.7" width="44.6" height="2.9" fill="url(#hg47)"/>
<rect x="1113.3" y="2180.3" width="47.1" height="2.9" fill="url(#hg47)"/>
<rect x="1112.9" y="2182.9" width="46.8" height="2.9" fill="url(#hg47)"/>
<rect x="1114.3" y="2185.5" width="44" height="2.9" fill="url(#hg47)"/>
<rect x="1114.4" y="2188.1" width="44.9" height="2.9" fill="url(#hg47)"/>
<rect x="1113.1" y="2190.7" width="45.6" height="2.9" fill="url(#hg48)"/>
<rect x="1114.3" y="2193.3" width="44.6" height="2.9" fill="url(#hg47)"/>
<rect x="1113.6" y="2195.9" width="45.2" height="2.9" fill="url(#hg47)"/>
<rect x="1114.2" y="2198.5" width="43.8" height="2.9" fill="url(#hg47)"/>
<rect x="1115.3" y="2201.1" width="42.6" height="2.9" fill="url(#hg47)"/>
<rect x="1115.4" y="2203.7" width="42.4" height="2.9" fill="url(#hg47)"/>
<rect x="1113.8" y="2206.3" width="44.7" height="2.9" fill="url(#hg46)"/>
<rect x="1115.6" y="2208.9" width="42.4" height="2.9" fill="url(#hg47)"/>
<rect x="1116" y="2211.5" width="41.4" height="2.9" fill="url(#hg47)"/>
<rect x="1115.9" y="2214.1" width="41.5" height="2.9" fill="url(#hg47)"/>
<rect x="1115.3" y="2216.7" width="42.8" height="2.9" fill="url(#hg47)"/>
<rect x="1115.5" y="2219.3" width="40.8" height="2.9" fill="url(#hg46)"/>
<rect x="1116" y="2221.9" width="40.5" height="2.9" fill="url(#hg47)"/>
<rect x="1116.9" y="2224.5" width="39.9" height="2.9" fill="url(#hg47)"/>
<rect x="1116.8" y="2227.1" width="39.8" height="2.9" fill="url(#hg46)"/>
<rect x="1116.8" y="2229.7" width="39.2" height="2.9" fill="url(#hg47)"/>
<rect x="1116.4" y="2232.3" width="39.6" height="2.9" fill="url(#hg46)"/>
<rect x="1116.7" y="2234.9" width="38.9" height="2.9" fill="url(#hg47)"/>
<rect x="1116.5" y="2237.5" width="39.7" height="2.9" fill="url(#hg46)"/>
<rect x="1116.9" y="2240.1" width="38.2" height="2.9" fill="url(#hg46)"/>
<rect x="1117" y="2242.7" width="39.4" height="2.9" fill="url(#hg46)"/>
<rect x="1116.4" y="2245.4" width="40.3" height="2.9" fill="url(#hg46)"/>
<rect x="1116.2" y="2248" width="39.6" height="2.9" fill="url(#hg46)"/>
<rect x="1117.1" y="2250.6" width="37.7" height="2.9" fill="url(#hg46)"/>
<rect x="1118.3" y="2253.2" width="36.6" height="2.9" fill="url(#hg46)"/>
<rect x="1116.5" y="2255.8" width="38.8" height="2.9" fill="url(#hg46)"/>
<rect x="1117" y="2258.4" width="38.9" height="2.9" fill="url(#hg46)"/>
<rect x="1117.9" y="2261" width="37.3" height="2.9" fill="url(#hg46)"/>
<rect x="1118.1" y="2263.6" width="36.2" height="2.9" fill="url(#hg46)"/>
<rect x="1118.5" y="2266.2" width="36.1" height="2.9" fill="url(#hg46)"/>
<rect x="1117.9" y="2268.8" width="37.6" height="2.9" fill="url(#hg46)"/>
<rect x="1118.2" y="2271.4" width="36.5" height="2.9" fill="url(#hg46)"/>
<rect x="1118.9" y="2274" width="34.6" height="2.9" fill="url(#hg45)"/>
<rect x="1118.2" y="2276.6" width="35.5" height="2.9" fill="url(#hg45)"/>
<rect x="1118.9" y="2279.2" width="34.8" height="2.9" fill="url(#hg45)"/>
<rect x="1118.8" y="2281.8" width="35.8" height="2.9" fill="url(#hg45)"/>
<rect x="1119.2" y="2284.4" width="33.5" height="2.9" fill="url(#hg45)"/>
<rect x="1119.6" y="2287" width="34.5" height="2.9" fill="url(#hg45)"/>
<rect x="1118.8" y="2289.6" width="34.5" height="2.9" fill="url(#hg45)"/>
<rect x="1119.7" y="2292.2" width="33.7" height="2.9" fill="url(#hg45)"/>
<rect x="1120.1" y="2294.8" width="32.8" height="2.9" fill="url(#hg45)"/>
<rect x="1120.9" y="2297.4" width="31" height="2.9" fill="url(#hg45)"/>
<rect x="1119.6" y="2300" width="33" height="2.9" fill="url(#hg45)"/>
<rect x="1121" y="2302.6" width="30.6" height="2.9" fill="url(#hg45)"/>
<rect x="1121.6" y="2305.2" width="30.2" height="2.9" fill="url(#hg44)"/>
<rect x="1121.5" y="2307.8" width="30.8" height="2.9" fill="url(#hg45)"/>
<rect x="1121.8" y="2310.4" width="30" height="2.9" fill="url(#hg45)"/>
<rect x="1121.1" y="2313" width="30.1" height="2.9" fill="url(#hg44)"/>
<rect x="1121.3" y="2315.6" width="29.4" height="2.9" fill="url(#hg44)"/>
<rect x="1122.5" y="2318.2" width="28.2" height="2.9" fill="url(#hg44)"/>
<rect x="1122.8" y="2320.8" width="27.8" height="2.9" fill="url(#hg44)"/>
<rect x="1123" y="2323.4" width="26.6" height="2.9" fill="url(#hg44)"/>
<rect x="1122.3" y="2326.1" width="27.4" height="2.9" fill="url(#hg44)"/>
<rect x="1122.8" y="2328.7" width="27.7" height="2.9" fill="url(#hg44)"/>
<rect x="1123.2" y="2331.3" width="25.6" height="2.9" fill="url(#hg44)"/>
<rect x="1122.8" y="2333.9" width="26.7" height="2.9" fill="url(#hg44)"/>
<rect x="1123.5" y="2336.5" width="26.4" height="2.9" fill="url(#hg43)"/>
<rect x="1123.5" y="2339.1" width="25.5" height="2.9" fill="url(#hg43)"/>
<rect x="1124.6" y="2341.7" width="24.2" height="2.9" fill="url(#hg43)"/>
<rect x="1124.1" y="2344.3" width="25.1" height="2.9" fill="url(#hg43)"/>
<rect x="1124.9" y="2346.9" width="23.3" height="2.9" fill="url(#hg43)"/>
<rect x="1124.8" y="2349.5" width="23.9" height="2.9" fill="url(#hg43)"/>
<rect x="1125.1" y="2352.1" width="22.7" height="2.9" fill="url(#hg43)"/>
<rect x="1124.4" y="2354.7" width="23.1" height="2.9" fill="url(#hg43)"/>
<rect x="1125.4" y="2357.3" width="22.9" height="2.9" fill="url(#hg43)"/>
<rect x="1125.3" y="2359.9" width="22" height="2.9" fill="url(#hg42)"/>
<rect x="1125.9" y="2362.5" width="21.6" height="2.9" fill="url(#hg42)"/>
</g>
<path d="M1098.3 2219.4h76.2M1098.3 2241.5h76.2M1098.3 2075.1h76.2M1098.3 2323.2h76.2M1098.3 2194.7h76.2M1098.3 2187.1h76.2M1098.3 2168.3h76.2M1098.3 2342.1h76.2M1098.3 2343.7h76.2M1098.3 2295.5h76.2M1098.3 2356.9h76.2M1098.3 2159h76.2M1098.3 2360h76.2M1098.3 2283.8h76.2M1098.3 2291.3h76.2M1098.3 2327.2h76.2M1098.3 2101.3h76.2M1098.3 2052h76.2M1098.3 2087.4h76.2M1098.3 2346.7h76.2M1098.3 2205.4h76.2M1098.3 2042.8h76.2M1098.3 2254.4h76.2M1098.3 2301.4h76.2M1098.3 2117h76.2M1098.3 2203.3h76.2M1098.3 2123h76.2M1098.3 2208.4h76.2M1098.3 2137.8h76.2M1098.3 2149.1h76.2M1098.3 2245.3h76.2M1098.3 2279.5h76.2M1098.3 2364.7h76.2M1098.3 2126.2h76.2M1098.3 2358.1h76.2M1098.3 2157.8h76.2M1098.3 2180h76.2M1098.3 2179.1h76.2M1098.3 2142.9h76.2M1098.3 2202.4h76.2" stroke="#fff" stroke-width="0.7" opacity="0.12"/>
</g>
<rect x="1098.3" y="2042.3" width="76.2" height="322.8" fill="none" stroke="#555" stroke-width="1.1"/>
<line x1="1098.3" y1="2042.9" x2="1174.5" y2="2042.9" stroke-width="1.8" stroke="#555"/>
<g clip-path="url(#chg5)">
<rect x="1181.2" y="2042.3" width="76.2" height="322.8" fill="#fee9d4"/>
<g filter="url(#hb)">
<rect x="1182.2" y="2042.3" width="74.7" height="2.9" fill="url(#hg59)"/>
<rect x="1184.5" y="2044.9" width="70.5" height="2.9" fill="url(#hg59)"/>
<rect x="1183.8" y="2047.5" width="71.6" height="2.9" fill="url(#hg58)"/>
<rect x="1185.5" y="2050.1" width="67.4" height="2.9" fill="url(#hg59)"/>
<rect x="1185.8" y="2052.7" width="67.6" height="2.9" fill="url(#hg58)"/>
<rect x="1184.8" y="2055.3" width="68" height="2.9" fill="url(#hg58)"/>
<rect x="1187.1" y="2057.9" width="63.4" height="2.9" fill="url(#hg58)"/>
<rect x="1188.9" y="2060.5" width="60.3" height="2.9" fill="url(#hg57)"/>
<rect x="1189.3" y="2063.1" width="59.3" height="2.9" fill="url(#hg57)"/>
<rect x="1188.3" y="2065.7" width="61.1" height="2.9" fill="url(#hg56)"/>
<rect x="1191.6" y="2068.3" width="56.3" height="2.9" fill="url(#hg56)"/>
<rect x="1190.3" y="2070.9" width="58.9" height="2.9" fill="url(#hg56)"/>
<rect x="1191.2" y="2073.5" width="56" height="2.9" fill="url(#hg56)"/>
<rect x="1191.7" y="2076.1" width="56.1" height="2.9" fill="url(#hg56)"/>
<rect x="1191.7" y="2078.7" width="55.9" height="2.9" fill="url(#hg56)"/>
<rect x="1192" y="2081.3" width="54.6" height="2.9" fill="url(#hg56)"/>
<rect x="1193.4" y="2084" width="52.5" height="2.9" fill="url(#hg56)"/>
<rect x="1192.6" y="2086.6" width="52.9" height="2.9" fill="url(#hg56)"/>
<rect x="1194.5" y="2089.2" width="50.1" height="2.9" fill="url(#hg56)"/>
<rect x="1195.2" y="2091.8" width="48.4" height="2.9" fill="url(#hg56)"/>
<rect x="1193.3" y="2094.4" width="51.3" height="2.9" fill="url(#hg55)"/>
<rect x="1194.3" y="2097" width="50.1" height="2.9" fill="url(#hg55)"/>
<rect x="1195.8" y="2099.6" width="47.6" height="2.9" fill="url(#hg55)"/>
<rect x="1195.2" y="2102.2" width="47.8" height="2.9" fill="url(#hg55)"/>
<rect x="1196.1" y="2104.8" width="45.6" height="2.9" fill="url(#hg55)"/>
<rect x="1196.7" y="2107.4" width="45.5" height="2.9" fill="url(#hg55)"/>
<rect x="1197.5" y="2110" width="43.7" height="2.9" fill="url(#hg55)"/>
<rect x="1196" y="2112.6" width="45.9" height="2.9" fill="url(#hg55)"/>
<rect x="1198.1" y="2115.2" width="42.5" height="2.9" fill="url(#hg55)"/>
<rect x="1197.8" y="2117.8" width="43.4" height="2.9" fill="url(#hg55)"/>
<rect x="1199" y="2120.4" width="41.3" height="2.9" fill="url(#hg55)"/>
<rect x="1198.9" y="2123" width="41.2" height="2.9" fill="url(#hg55)"/>
<rect x="1198.8" y="2125.6" width="41.7" height="2.9" fill="url(#hg55)"/>
<rect x="1198.3" y="2128.2" width="41.5" height="2.9" fill="url(#hg54)"/>
<rect x="1198.8" y="2130.8" width="40.5" height="2.9" fill="url(#hg55)"/>
<rect x="1199.1" y="2133.4" width="40.4" height="2.9" fill="url(#hg55)"/>
<rect x="1200" y="2136" width="39.2" height="2.9" fill="url(#hg54)"/>
<rect x="1199.7" y="2138.6" width="39.8" height="2.9" fill="url(#hg54)"/>
<rect x="1200.7" y="2141.2" width="38" height="2.9" fill="url(#hg54)"/>
<rect x="1199.6" y="2143.8" width="39.7" height="2.9" fill="url(#hg54)"/>
<rect x="1199.5" y="2146.4" width="39.2" height="2.9" fill="url(#hg54)"/>
<rect x="1200.3" y="2149" width="37.6" height="2.9" fill="url(#hg54)"/>
<rect x="1200.5" y="2151.6" width="37.6" height="2.9" fill="url(#hg54)"/>
<rect x="1200.1" y="2154.2" width="37.8" height="2.9" fill="url(#hg54)"/>
<rect x="1201.1" y="2156.8" width="36.6" height="2.9" fill="url(#hg54)"/>
<rect x="1200.4" y="2159.4" width="36.8" height="2.9" fill="url(#hg54)"/>
<rect x="1201.3" y="2162" width="35.9" height="2.9" fill="url(#hg54)"/>
<rect x="1202" y="2164.7" width="35.2" height="2.9" fill="url(#hg54)"/>
<rect x="1201.6" y="2167.3" width="35.4" height="2.9" fill="url(#hg53)"/>
<rect x="1202.3" y="2169.9" width="35.1" height="2.9" fill="url(#hg53)"/>
<rect x="1202.1" y="2172.5" width="35" height="2.9" fill="url(#hg53)"/>
<rect x="1201.9" y="2175.1" width="35.4" height="2.9" fill="url(#hg53)"/>
<rect x="1201.8" y="2177.7" width="34.7" height="2.9" fill="url(#hg53)"/>
<rect x="1201.3" y="2180.3" width="35.3" height="2.9" fill="url(#hg53)"/>
<rect x="1202.9" y="2182.9" width="33.4" height="2.9" fill="url(#hg53)"/>
<rect x="1202.8" y="2185.5" width="33.1" height="2.9" fill="url(#hg53)"/>
<rect x="1202.3" y="2188.1" width="33.5" height="2.9" fill="url(#hg53)"/>
<rect x="1202" y="2190.7" width="34" height="2.9" fill="url(#hg53)"/>
<rect x="1203" y="2193.3" width="33.3" height="2.9" fill="url(#hg53)"/>
<rect x="1201.9" y="2195.9" width="33.9" height="2.9" fill="url(#hg53)"/>
<rect x="1202.3" y="2198.5" width="33.7" height="2.9" fill="url(#hg53)"/>
<rect x="1203.2" y="2201.1" width="32" height="2.9" fill="url(#hg53)"/>
<rect x="1203.6" y="2203.7" width="32.3" height="2.9" fill="url(#hg53)"/>
<rect x="1203" y="2206.3" width="32.2" height="2.9" fill="url(#hg53)"/>
<rect x="1202.2" y="2208.9" width="33.7" height="2.9" fill="url(#hg53)"/>
<rect x="1202.7" y="2211.5" width="32.4" height="2.9" fill="url(#hg53)"/>
<rect x="1203.5" y="2214.1" width="31.7" height="2.9" fill="url(#hg53)"/>
<rect x="1202.6" y="2216.7" width="33.4" height="2.9" fill="url(#hg53)"/>
<rect x="1203" y="2219.3" width="31.7" height="2.9" fill="url(#hg53)"/>
<rect x="1202.6" y="2221.9" width="32.4" height="2.9" fill="url(#hg53)"/>
<rect x="1202.4" y="2224.5" width="33.5" height="2.9" fill="url(#hg53)"/>
<rect x="1202.5" y="2227.1" width="33.1" height="2.9" fill="url(#hg53)"/>
<rect x="1203.1" y="2229.7" width="32.3" height="2.9" fill="url(#hg53)"/>
<rect x="1202.8" y="2232.3" width="32.7" height="2.9" fill="url(#hg53)"/>
<rect x="1202.5" y="2234.9" width="33.4" height="2.9" fill="url(#hg53)"/>
<rect x="1202.3" y="2237.5" width="33.3" height="2.9" fill="url(#hg53)"/>
<rect x="1203.1" y="2240.1" width="33.2" height="2.9" fill="url(#hg53)"/>
<rect x="1204" y="2242.7" width="31.4" height="2.9" fill="url(#hg53)"/>
<rect x="1203.3" y="2245.4" width="31.3" height="2.9" fill="url(#hg52)"/>
<rect x="1203" y="2248" width="31.9" height="2.9" fill="url(#hg53)"/>
<rect x="1202.7" y="2250.6" width="33.2" height="2.9" fill="url(#hg52)"/>
<rect x="1204.1" y="2253.2" width="31.4" height="2.9" fill="url(#hg53)"/>
<rect x="1203" y="2255.8" width="31.9" height="2.9" fill="url(#hg53)"/>
<rect x="1204" y="2258.4" width="31.5" height="2.9" fill="url(#hg53)"/>
<rect x="1203.5" y="2261" width="32.1" height="2.9" fill="url(#hg52)"/>
<rect x="1203.3" y="2263.6" width="33" height="2.9" fill="url(#hg53)"/>
<rect x="1204.4" y="2266.2" width="30.7" height="2.9" fill="url(#hg53)"/>
<rect x="1203.4" y="2268.8" width="31.4" height="2.9" fill="url(#hg52)"/>
<rect x="1203.5" y="2271.4" width="31" height="2.9" fill="url(#hg52)"/>
<rect x="1202.7" y="2274" width="32.4" height="2.9" fill="url(#hg52)"/>
<rect x="1203" y="2276.6" width="31.9" height="2.9" fill="url(#hg52)"/>
<rect x="1204.1" y="2279.2" width="30.4" height="2.9" fill="url(#hg53)"/>
<rect x="1204.2" y="2281.8" width="30.5" height="2.9" fill="url(#hg52)"/>
<rect x="1203.4" y="2284.4" width="31.5" height="2.9" fill="url(#hg52)"/>
<rect x="1203.6" y="2287" width="30.5" height="2.9" fill="url(#hg52)"/>
<rect x="1203.1" y="2289.6" width="32" height="2.9" fill="url(#hg52)"/>
<rect x="1203.5" y="2292.2" width="31.5" height="2.9" fill="url(#hg52)"/>
<rect x="1203.4" y="2294.8" width="31.6" height="2.9" fill="url(#hg52)"/>
<rect x="1203.4" y="2297.4" width="32.1" height="2.9" fill="url(#hg52)"/>
<rect x="1203.4" y="2300" width="32" height="2.9" fill="url(#hg52)"/>
<rect x="1203.2" y="2302.6" width="32.2" height="2.9" fill="url(#hg52)"/>
<rect x="1204.3" y="2305.2" width="30.2" height="2.9" fill="url(#hg52)"/>
<rect x="1203.5" y="2307.8" width="32.1" height="2.9" fill="url(#hg52)"/>
<rect x="1204.1" y="2310.4" width="31.3" height="2.9" fill="url(#hg52)"/>
<rect x="1204.6" y="2313" width="30.3" height="2.9" fill="url(#hg52)"/>
<rect x="1203.9" y="2315.6" width="30.4" height="2.9" fill="url(#hg52)"/>
<rect x="1203.7" y="2318.2" width="31.4" height="2.9" fill="url(#hg52)"/>
<rect x="1204.1" y="2320.8" width="31.1" height="2.9" fill="url(#hg52)"/>
<rect x="1204.1" y="2323.4" width="30.9" height="2.9" fill="url(#hg52)"/>
<rect x="1204.6" y="2326.1" width="30" height="2.9" fill="url(#hg52)"/>
<rect x="1204.7" y="2328.7" width="29.8" height="2.9" fill="url(#hg52)"/>
<rect x="1204.2" y="2331.3" width="29.8" height="2.9" fill="url(#hg52)"/>
<rect x="1203.8" y="2333.9" width="30.9" height="2.9" fill="url(#hg52)"/>
<rect x="1204.5" y="2336.5" width="29.7" height="2.9" fill="url(#hg52)"/>
<rect x="1204.6" y="2339.1" width="29.9" height="2.9" fill="url(#hg52)"/>
<rect x="1204" y="2341.7" width="31" height="2.9" fill="url(#hg52)"/>
<rect x="1203.2" y="2344.3" width="32" height="2.9" fill="url(#hg52)"/>
<rect x="1204.3" y="2346.9" width="29.8" height="2.9" fill="url(#hg52)"/>
<rect x="1203.5" y="2349.5" width="31.8" height="2.9" fill="url(#hg52)"/>
<rect x="1203.3" y="2352.1" width="31" height="2.9" fill="url(#hg52)"/>
<rect x="1204.9" y="2354.7" width="29.4" height="2.9" fill="url(#hg52)"/>
<rect x="1204.8" y="2357.3" width="29.8" height="2.9" fill="url(#hg52)"/>
<rect x="1204.1" y="2359.9" width="30.3" height="2.9" fill="url(#hg52)"/>
<rect x="1203.5" y="2362.5" width="30.6" height="2.9" fill="url(#hg52)"/>
</g>
<path d="M1181.2 2356.1h76.2M1181.2 2323.4h76.2M1181.2 2344h76.2M1181.2 2362.1h76.2M1181.2 2057.5h76.2M1181.2 2081.9h76.2M1181.2 2102.4h76.2M1181.2 2206.4h76.2M1181.2 2112.4h76.2M1181.2 2079.4h76.2M1181.2 2237.2h76.2M1181.2 2340.8h76.2M1181.2 2178.8h76.2M1181.2 2124.7h76.2M1181.2 2320.5h76.2M1181.2 2268.9h76.2M1181.2 2221.4h76.2M1181.2 2072.1h76.2M1181.2 2263.5h76.2M1181.2 2050.8h76.2M1181.2 2246.3h76.2M1181.2 2311.8h76.2M1181.2 2306.9h76.2M1181.2 2274h76.2M1181.2 2047.6h76.2M1181.2 2282.7h76.2M1181.2 2141.5h76.2M1181.2 2067.5h76.2M1181.2 2247.4h76.2M1181.2 2221h76.2M1181.2 2287.6h76.2M1181.2 2282.4h76.2M1181.2 2044.9h76.2M1181.2 2224.4h76.2M1181.2 2096.4h76.2M1181.2 2159.5h76.2M1181.2 2065h76.2M1181.2 2124.1h76.2M1181.2 2187.9h76.2M1181.2 2218.1h76.2" stroke="#fff" stroke-width="0.7" opacity="0.12"/>
</g>
<rect x="1181.2" y="2042.3" width="76.2" height="322.8" fill="none" stroke="#555" stroke-width="1.1"/>
<line x1="1181.2" y1="2042.9" x2="1257.4" y2="2042.9" stroke-width="1.8" stroke="#555"/>
<line x1="731.4" y1="2364.5" x2="731.4" y2="2369.5" stroke-width="1.2" stroke="#555"/>
<line x1="769.1" y1="2364.5" x2="769.1" y2="2369.5" stroke-width="1.2" stroke="#555"/>
<line x1="806.9" y1="2364.5" x2="806.9" y2="2369.5" stroke-width="1.2" stroke="#555"/>
<text x="727.9" y="2384" font-size="15.5">-0.5</text>
<text x="769.1" y="2384" font-size="15.5" text-anchor="middle">0</text>
<text x="807.4" y="2384" font-size="15.5" text-anchor="end">0.5</text>
<text x="769.1" y="2401.7" font-size="15.5" text-anchor="middle">Kb</text>
<line x1="814.4" y1="2364.5" x2="814.4" y2="2369.5" stroke-width="1.2" stroke="#555"/>
<line x1="852.1" y1="2364.5" x2="852.1" y2="2369.5" stroke-width="1.2" stroke="#555"/>
<line x1="889.8" y1="2364.5" x2="889.8" y2="2369.5" stroke-width="1.2" stroke="#555"/>
<text x="810.9" y="2384" font-size="15.5">-0.5</text>
<text x="852.1" y="2384" font-size="15.5" text-anchor="middle">0</text>
<text x="890.3" y="2384" font-size="15.5" text-anchor="end">0.5</text>
<text x="852.1" y="2401.7" font-size="15.5" text-anchor="middle">Kb</text>
<line x1="917.1" y1="2364.5" x2="917.1" y2="2369.5" stroke-width="1.2" stroke="#555"/>
<line x1="954.8" y1="2364.5" x2="954.8" y2="2369.5" stroke-width="1.2" stroke="#555"/>
<line x1="992.5" y1="2364.5" x2="992.5" y2="2369.5" stroke-width="1.2" stroke="#555"/>
<text x="913.6" y="2384" font-size="15.5">-0.5</text>
<text x="954.8" y="2384" font-size="15.5" text-anchor="middle">0</text>
<text x="993" y="2384" font-size="15.5" text-anchor="end">0.5</text>
<text x="954.8" y="2401.7" font-size="15.5" text-anchor="middle">Kb</text>
<line x1="1000" y1="2364.5" x2="1000" y2="2369.5" stroke-width="1.2" stroke="#555"/>
<line x1="1037.8" y1="2364.5" x2="1037.8" y2="2369.5" stroke-width="1.2" stroke="#555"/>
<line x1="1075.5" y1="2364.5" x2="1075.5" y2="2369.5" stroke-width="1.2" stroke="#555"/>
<text x="996.5" y="2384" font-size="15.5">-0.5</text>
<text x="1037.8" y="2384" font-size="15.5" text-anchor="middle">0</text>
<text x="1076" y="2384" font-size="15.5" text-anchor="end">0.5</text>
<text x="1037.8" y="2401.7" font-size="15.5" text-anchor="middle">Kb</text>
<line x1="1098.3" y1="2364.5" x2="1098.3" y2="2369.5" stroke-width="1.2" stroke="#555"/>
<line x1="1136.4" y1="2364.5" x2="1136.4" y2="2369.5" stroke-width="1.2" stroke="#555"/>
<line x1="1174.5" y1="2364.5" x2="1174.5" y2="2369.5" stroke-width="1.2" stroke="#555"/>
<text x="1094.8" y="2384" font-size="15.5">-0.5</text>
<text x="1136.4" y="2384" font-size="15.5" text-anchor="middle">0</text>
<text x="1175" y="2384" font-size="15.5" text-anchor="end">0.5</text>
<text x="1136.4" y="2401.7" font-size="15.5" text-anchor="middle">Kb</text>
<line x1="1181.2" y1="2364.5" x2="1181.2" y2="2369.5" stroke-width="1.2" stroke="#555"/>
<line x1="1219.3" y1="2364.5" x2="1219.3" y2="2369.5" stroke-width="1.2" stroke="#555"/>
<line x1="1257.4" y1="2364.5" x2="1257.4" y2="2369.5" stroke-width="1.2" stroke="#555"/>
<text x="1177.7" y="2384" font-size="15.5">-0.5</text>
<text x="1219.3" y="2384" font-size="15.5" text-anchor="middle">0</text>
<text x="1257.9" y="2384" font-size="15.5" text-anchor="end">0.5</text>
<text x="1219.3" y="2401.7" font-size="15.5" text-anchor="middle">Kb</text>
<rect x="731" y="2409.9" width="75.9" height="8.6" fill="url(#cbG)" stroke="#555" stroke-width="1"/>
<text x="731" y="2434.6" font-size="14.5" text-anchor="middle">0</text>
<text x="759.1" y="2434.6" font-size="14.5" text-anchor="middle">4</text>
<text x="791" y="2434.6" font-size="14.5" text-anchor="middle">8</text>
<rect x="814.4" y="2409.9" width="75.4" height="8.6" fill="url(#cbG)" stroke="#555" stroke-width="1"/>
<text x="814.4" y="2434.6" font-size="14.5" text-anchor="middle">0</text>
<text x="842.3" y="2434.6" font-size="14.5" text-anchor="middle">4</text>
<text x="874" y="2434.6" font-size="14.5" text-anchor="middle">8</text>
<rect x="916.3" y="2409.9" width="76.2" height="8.6" fill="url(#cbP)" stroke="#555" stroke-width="1"/>
<text x="916.3" y="2434.6" font-size="14.5" text-anchor="middle">0</text>
<text x="944.5" y="2434.6" font-size="14.5" text-anchor="middle">4</text>
<text x="976.5" y="2434.6" font-size="14.5" text-anchor="middle">8</text>
<rect x="999.3" y="2409.9" width="76.2" height="8.6" fill="url(#cbP)" stroke="#555" stroke-width="1"/>
<text x="999.3" y="2434.6" font-size="14.5" text-anchor="middle">0</text>
<text x="1027.5" y="2434.6" font-size="14.5" text-anchor="middle">4</text>
<text x="1059.5" y="2434.6" font-size="14.5" text-anchor="middle">8</text>
<rect x="1106.5" y="2409.9" width="75.8" height="8.6" fill="url(#cbO)" stroke="#555" stroke-width="1"/>
<text x="1106.5" y="2434.6" font-size="14.5" text-anchor="middle">0</text>
<text x="1134.5" y="2434.6" font-size="14.5" text-anchor="middle">4</text>
<text x="1166.4" y="2434.6" font-size="14.5" text-anchor="middle">8</text>
<rect x="1189" y="2409.9" width="76.6" height="8.6" fill="url(#cbO)" stroke="#555" stroke-width="1"/>
<text x="1189" y="2434.6" font-size="14.5" text-anchor="middle">0</text>
<text x="1217.3" y="2434.6" font-size="14.5" text-anchor="middle">4</text>
<text x="1249.5" y="2434.6" font-size="14.5" text-anchor="middle">8</text>
<text x="991.7" y="2480.1" font-size="23.5" text-anchor="middle">ChIP-seq intensity (Fold change with respect with input)</text>
<text x="699.5" y="2353" font-size="23.5" transform="rotate(-90 699.5 2353)">SMARCA4 binding sites(n=14,943)</text>
<text x="1405.5" y="1102.3" font-size="31" font-weight="bold">e</text>
<text x="1653" y="1210" font-size="23.5">chr1:167,156,525-167,223,389</text>
<text x="1648.5" y="1241.7" font-size="23.5">Scale</text>
<text x="1716.5" y="1241.7" font-size="23.5">20 kb</text>
<line x1="1781.4" y1="1236.5" x2="1866.2" y2="1236.5" stroke-width="1.4"/>
<line x1="1781.4" y1="1227.8" x2="1781.4" y2="1244.8" stroke-width="1.4"/>
<line x1="1866.2" y1="1227.8" x2="1866.2" y2="1244.8" stroke-width="1.4"/>
<text x="1877.5" y="1239" font-size="23.5">hg38</text>
<line x1="1725.9" y1="1275.7" x2="1753" y2="1275.7" stroke-width="1.3" stroke="#0f6a37"/>
<line x1="1726" y1="1271" x2="1726" y2="1280.5" stroke-width="1.4" stroke="#0f6a37"/>
<line x1="1734" y1="1271" x2="1734" y2="1280.5" stroke-width="1.4" stroke="#0f6a37"/>
<line x1="1742.5" y1="1271" x2="1742.5" y2="1280.5" stroke-width="1.4" stroke="#0f6a37"/>
<line x1="1752.5" y1="1271" x2="1752.5" y2="1280.5" stroke-width="1.4" stroke="#0f6a37"/>
<rect x="1761.4" y="1289" width="7.4" height="10.5" fill="#0f6a37"/>
<line x1="1768.2" y1="1294.5" x2="1849.6" y2="1294.5" stroke-width="1.3" stroke="#0f6a37"/>
<polyline points="1776,1291.5 1773,1294.5 1776,1297.5" fill="none" stroke="#0f6a37" stroke-width="1.1"/>
<polyline points="1785,1291.5 1782,1294.5 1785,1297.5" fill="none" stroke="#0f6a37" stroke-width="1.1"/>
<polyline points="1794,1291.5 1791,1294.5 1794,1297.5" fill="none" stroke="#0f6a37" stroke-width="1.1"/>
<polyline points="1803,1291.5 1800,1294.5 1803,1297.5" fill="none" stroke="#0f6a37" stroke-width="1.1"/>
<polyline points="1812,1291.5 1809,1294.5 1812,1297.5" fill="none" stroke="#0f6a37" stroke-width="1.1"/>
<polyline points="1821,1291.5 1818,1294.5 1821,1297.5" fill="none" stroke="#0f6a37" stroke-width="1.1"/>
<polyline points="1830,1291.5 1827,1294.5 1830,1297.5" fill="none" stroke="#0f6a37" stroke-width="1.1"/>
<polyline points="1839,1291.5 1836,1294.5 1839,1297.5" fill="none" stroke="#0f6a37" stroke-width="1.1"/>
<polyline points="1848,1291.5 1845,1294.5 1848,1297.5" fill="none" stroke="#0f6a37" stroke-width="1.1"/>
<line x1="1791" y1="1290.5" x2="1791" y2="1298.5" stroke-width="1.3" stroke="#0f6a37"/>
<line x1="1846.5" y1="1290.5" x2="1846.5" y2="1298.5" stroke-width="1.3" stroke="#0f6a37"/>
<line x1="1849.6" y1="1290.5" x2="1849.6" y2="1298.5" stroke-width="1.3" stroke="#0f6a37"/>
<rect x="1883.3" y="1270.8" width="5" height="10" fill="#0f6a37"/>
<line x1="1888" y1="1275.7" x2="1954" y2="1275.7" stroke-width="1.3" stroke="#0f6a37"/>
<polyline points="1896,1272.7 1893,1275.7 1896,1278.7" fill="none" stroke="#0f6a37" stroke-width="1.1"/>
<polyline points="1904,1272.7 1901,1275.7 1904,1278.7" fill="none" stroke="#0f6a37" stroke-width="1.1"/>
<polyline points="1912,1272.7 1909,1275.7 1912,1278.7" fill="none" stroke="#0f6a37" stroke-width="1.1"/>
<polyline points="1920,1272.7 1917,1275.7 1920,1278.7" fill="none" stroke="#0f6a37" stroke-width="1.1"/>
<polyline points="1928,1272.7 1925,1275.7 1928,1278.7" fill="none" stroke="#0f6a37" stroke-width="1.1"/>
<polyline points="1936,1272.7 1933,1275.7 1936,1278.7" fill="none" stroke="#0f6a37" stroke-width="1.1"/>
<polyline points="1944,1272.7 1941,1275.7 1944,1278.7" fill="none" stroke="#0f6a37" stroke-width="1.1"/>
<polyline points="1952,1272.7 1949,1275.7 1952,1278.7" fill="none" stroke="#0f6a37" stroke-width="1.1"/>
<line x1="1954" y1="1271.5" x2="1954" y2="1280" stroke-width="1.3" stroke="#0f6a37"/>
<line x1="1764.4" y1="1327" x2="1849.6" y2="1327" stroke-width="1.3" stroke="#0f6a37"/>
<line x1="1764.4" y1="1323.5" x2="1764.4" y2="1330.5" stroke-width="1.3" stroke="#0f6a37"/>
<line x1="1791" y1="1323.5" x2="1791" y2="1330.5" stroke-width="1.3" stroke="#0f6a37"/>
<line x1="1849.6" y1="1323.5" x2="1849.6" y2="1330.5" stroke-width="1.3" stroke="#0f6a37"/>
<line x1="1953" y1="1306" x2="1953" y2="1319" stroke-width="1.8" stroke="#0f6a37" stroke-dasharray="4 3"/>
<rect x="1949.5" y="1324" width="5.7" height="5.6" fill="#0f6a37"/>
<line x1="1951" y1="1335" x2="1960" y2="1335" stroke-width="1.2" stroke="#0f6a37"/>
<line x1="1951" y1="1332" x2="1951" y2="1338" stroke-width="1.2" stroke="#0f6a37"/>
<line x1="1960" y1="1332" x2="1960" y2="1338" stroke-width="1.2" stroke="#0f6a37"/>
<line x1="1955" y1="1344.7" x2="1965" y2="1344.7" stroke-width="1.2" stroke="#2e3192"/>
<line x1="1955" y1="1341.7" x2="1955" y2="1347.7" stroke-width="1.2" stroke="#2e3192"/>
<line x1="1960" y1="1344.7" x2="1960" y2="1348.7" stroke-width="1.2" stroke="#2e3192"/>
<line x1="1955" y1="1354" x2="1965" y2="1354" stroke-width="1.2" stroke="#2e3192"/>
<line x1="1955" y1="1351" x2="1955" y2="1357" stroke-width="1.2" stroke="#2e3192"/>
<line x1="1960" y1="1354" x2="1960" y2="1358" stroke-width="1.2" stroke="#2e3192"/>
<line x1="1953" y1="1294.5" x2="1966" y2="1294.5" stroke-width="1.3" stroke="#1174b9"/>
<line x1="1956" y1="1290" x2="1956" y2="1299" stroke-width="1.3" stroke="#1174b9"/>
<polygon points="1958,1290 1964,1294.5 1958,1299" fill="none" stroke="#1174b9" stroke-width="1.2"/>
<text x="1909.7" y="1300.2" font-size="22.8" text-anchor="middle" fill="#1174b9">POU2F1</text>
<line x1="1681.4" y1="1361" x2="1681.4" y2="1716.5" stroke-width="1.3" stroke="#77787b"/>
<text x="1634.5" y="1394" font-size="23.2" text-anchor="end" fill="#2d5e42">SMARCA4_DMSO</text>
<text x="1671" y="1376.2" font-size="20" text-anchor="end" fill="#2d5e42">20</text>
<text x="1670" y="1415.8" font-size="20" text-anchor="end" fill="#2d5e42">1</text>
<line x1="1676" y1="1369.4" x2="1681.4" y2="1369.4" stroke-width="1.4" stroke="#2d5e42"/>
<line x1="1669.5" y1="1418.9" x2="1681" y2="1418.9" stroke-width="1.4" stroke="#2d5e42"/>
<path d="M1682.5 1419.1v-2.3M1683.5 1419.1v-4.2M1684.5 1419.1v-2.1M1685.5 1419.1v-2.8M1686.5 1419.1v-2.3M1687.5 1419.1v-6.4M1688.5 1419.1v-2M1689.5 1419.1v-4.7M1690.5 1419.1v-2M1691.5 1419.1v-2M1692.5 1419.1v-6.8M1693.5 1419.1v-6.7M1694.5 1419.1v-6.1M1695.5 1419.1v-2M1696.5 1419.1v-2M1700.5 1419.1v-5.6M1701.5 1419.1v-2M1702.5 1419.1v-3.8M1703.5 1419.1v-5M1704.5 1419.1v-2M1705.5 1419.1v-4.6M1706.5 1419.1v-2M1707.5 1419.1v-6.4M1708.5 1419.1v-4M1709.5 1419.1v-4M1710.5 1419.1v-6.6M1711.5 1419.1v-2M1712.5 1419.1v-2M1713.5 1419.1v-2.1M1714.5 1419.1v-5.3M1715.5 1419.1v-2.2M1716.5 1419.1v-5.1M1717.5 1419.1v-2M1718.5 1419.1v-3.2M1719.5 1419.1v-2M1720.5 1419.1v-6.3M1721.5 1419.1v-22M1722.5 1419.1v-52.4M1723.5 1419.1v-14.1M1724.5 1419.1v-4.4M1725.5 1419.1v-2.3M1726.5 1419.1v-2.4M1727.5 1419.1v-2M1728.5 1419.1v-2M1729.5 1419.1v-2M1730.5 1419.1v-2M1731.5 1419.1v-3.6M1732.5 1419.1v-2M1733.5 1419.1v-2M1734.5 1419.1v-4.6M1735.5 1419.1v-6.4M1736.5 1419.1v-2M1737.5 1419.1v-2M1738.5 1419.1v-4M1739.5 1419.1v-2M1740.5 1419.1v-2.2M1741.5 1419.1v-2.7M1742.5 1419.1v-5.6M1743.5 1419.1v-5.3M1744.5 1419.1v-2M1745.5 1419.1v-2M1746.5 1419.1v-5.5M1747.5 1419.1v-2M1748.5 1419.1v-2M1749.5 1419.1v-2M1750.5 1419.1v-2M1751.5 1419.1v-5.3M1752.5 1419.1v-2M1753.5 1419.1v-2M1754.5 1419.1v-4.3M1757.5 1419.1v-2M1758.5 1419.1v-2.2M1759.5 1419.1v-2M1760.5 1419.1v-2M1761.5 1419.1v-2M1762.5 1419.1v-2M1763.5 1419.1v-2M1764.5 1419.1v-4.2M1765.5 1419.1v-2M1766.5 1419.1v-2.2M1767.5 1419.1v-2M1768.5 1419.1v-2.9M1769.5 1419.1v-3.5M1770.5 1419.1v-2M1771.5 1419.1v-3.2M1772.5 1419.1v-2M1773.5 1419.1v-3.1M1774.5 1419.1v-2M1775.5 1419.1v-4.2M1776.5 1419.1v-2M1777.5 1419.1v-2.2M1780.5 1419.1v-4M1781.5 1419.1v-3.9M1782.5 1419.1v-5.4M1783.5 1419.1v-6.8M1784.5 1419.1v-2M1785.5 1419.1v-2M1786.5 1419.1v-4.3M1787.5 1419.1v-3.7M1788.5 1419.1v-2M1789.5 1419.1v-5.9M1790.5 1419.1v-5.4M1791.5 1419.1v-4.7M1792.5 1419.1v-2M1793.5 1419.1v-2M1794.5 1419.1v-2M1795.5 1419.1v-5.9M1796.5 1419.1v-2M1797.5 1419.1v-2.5M1798.5 1419.1v-3.9M1799.5 1419.1v-2M1800.5 1419.1v-2.7M1801.5 1419.1v-2M1802.5 1419.1v-6.4M1803.5 1419.1v-2.3M1804.5 1419.1v-2M1805.5 1419.1v-2M1806.5 1419.1v-2M1807.5 1419.1v-5.7M1808.5 1419.1v-3.5M1809.5 1419.1v-2M1810.5 1419.1v-3.7M1811.5 1419.1v-2M1812.5 1419.1v-2M1813.5 1419.1v-2M1814.5 1419.1v-2M1815.5 1419.1v-6.1M1816.5 1419.1v-2.7M1817.5 1419.1v-3.3M1818.5 1419.1v-5.4M1819.5 1419.1v-5.3M1820.5 1419.1v-15.7M1821.5 1419.1v-15.7M1822.5 1419.1v-5.8M1823.5 1419.1v-6.7M1824.5 1419.1v-6.2M1825.5 1419.1v-2M1826.5 1419.1v-2M1827.5 1419.1v-2M1828.5 1419.1v-4.3M1829.5 1419.1v-13.7M1830.5 1419.1v-50.7M1831.5 1419.1v-32.1M1832.5 1419.1v-6.3M1833.5 1419.1v-2M1834.5 1419.1v-2M1835.5 1419.1v-2M1836.5 1419.1v-4.8M1837.5 1419.1v-3.4M1838.5 1419.1v-2.8M1839.5 1419.1v-2M1840.5 1419.1v-2M1841.5 1419.1v-2M1842.5 1419.1v-4.7M1843.5 1419.1v-2.8M1844.5 1419.1v-2M1848.5 1419.1v-2M1849.5 1419.1v-2M1850.5 1419.1v-3.3M1851.5 1419.1v-4M1852.5 1419.1v-4.1M1853.5 1419.1v-5.7M1854.5 1419.1v-2M1855.5 1419.1v-2M1856.5 1419.1v-6.8M1857.5 1419.1v-2.8M1858.5 1419.1v-4.1M1859.5 1419.1v-5M1860.5 1419.1v-6.8M1861.5 1419.1v-2M1862.5 1419.1v-2.9M1863.5 1419.1v-2M1864.5 1419.1v-6.2M1865.5 1419.1v-2M1866.5 1419.1v-3.7M1867.5 1419.1v-2.8M1868.5 1419.1v-4.2M1869.5 1419.1v-2.6M1870.5 1419.1v-6.8M1871.5 1419.1v-3M1872.5 1419.1v-5M1873.5 1419.1v-4M1874.5 1419.1v-6.8M1882.5 1419.1v-5.2M1883.5 1419.1v-2.5M1884.5 1419.1v-5.5M1885.5 1419.1v-2M1886.5 1419.1v-2M1887.5 1419.1v-2M1888.5 1419.1v-2M1889.5 1419.1v-2M1890.5 1419.1v-4.8M1891.5 1419.1v-4.9M1892.5 1419.1v-2M1893.5 1419.1v-6.1M1894.5 1419.1v-6.7M1895.5 1419.1v-6.7M1896.5 1419.1v-5.6M1897.5 1419.1v-3.1M1898.5 1419.1v-2.4M1899.5 1419.1v-7.1M1900.5 1419.1v-2.6M1901.5 1419.1v-2.6M1902.5 1419.1v-2M1903.5 1419.1v-2M1904.5 1419.1v-2M1905.5 1419.1v-6M1906.5 1419.1v-3.4M1907.5 1419.1v-3.8M1908.5 1419.1v-2M1909.5 1419.1v-2M1910.5 1419.1v-2M1911.5 1419.1v-2M1912.5 1419.1v-5.4M1913.5 1419.1v-5.9M1914.5 1419.1v-10.7M1915.5 1419.1v-6.8M1916.5 1419.1v-2M1917.5 1419.1v-2M1918.5 1419.1v-5.9M1919.5 1419.1v-2M1920.5 1419.1v-2M1921.5 1419.1v-4M1922.5 1419.1v-2.2M1923.5 1419.1v-3.6M1924.5 1419.1v-7.7M1925.5 1419.1v-7.7M1926.5 1419.1v-2.9M1927.5 1419.1v-2M1928.5 1419.1v-2M1929.5 1419.1v-5.2M1930.5 1419.1v-2M1931.5 1419.1v-2M1932.5 1419.1v-6.7M1933.5 1419.1v-3.6M1934.5 1419.1v-2M1935.5 1419.1v-2.4M1936.5 1419.1v-3.8M1937.5 1419.1v-2M1938.5 1419.1v-4.3M1939.5 1419.1v-5.4M1940.5 1419.1v-7M1941.5 1419.1v-2M1942.5 1419.1v-2M1943.5 1419.1v-2M1944.5 1419.1v-5.4M1945.5 1419.1v-4.3M1946.5 1419.1v-2.7M1947.5 1419.1v-2M1948.5 1419.1v-3.2M1949.5 1419.1v-9M1950.5 1419.1v-15.7M1951.5 1419.1v-8.2M1952.5 1419.1v-2.2M1953.5 1419.1v-3M1954.5 1419.1v-2.5M1955.5 1419.1v-3.2M1956.5 1419.1v-2M1957.5 1419.1v-2.2M1958.5 1419.1v-2M1959.5 1419.1v-5.8M1960.5 1419.1v-4.4M1961.5 1419.1v-2M1962.5 1419.1v-2M1963.5 1419.1v-3.1M1964.5 1419.1v-6.4M1965.5 1419.1v-2.7M1966.5 1419.1v-2" stroke="#2d5e42" stroke-width="1.1" fill="none" opacity="0.88"/>
<text x="1634.5" y="1453.5" font-size="23.2" text-anchor="end" fill="#2d5e42">SMARCA4_SMARCA2_4.1</text>
<text x="1671" y="1436.6" font-size="20" text-anchor="end" fill="#2d5e42">20</text>
<text x="1670" y="1476.2" font-size="20" text-anchor="end" fill="#2d5e42">1</text>
<line x1="1676" y1="1429.8" x2="1681.4" y2="1429.8" stroke-width="1.4" stroke="#2d5e42"/>
<line x1="1669.5" y1="1478.5" x2="1681" y2="1478.5" stroke-width="1.4" stroke="#2d5e42"/>
<path d="M1682.5 1478.7v-2M1683.5 1478.7v-5.9M1684.5 1478.7v-3.6M1685.5 1478.7v-2M1686.5 1478.7v-3.8M1687.5 1478.7v-6.4M1688.5 1478.7v-2M1689.5 1478.7v-4.4M1690.5 1478.7v-2.3M1691.5 1478.7v-3.4M1692.5 1478.7v-2M1693.5 1478.7v-2M1694.5 1478.7v-4.9M1695.5 1478.7v-3.6M1696.5 1478.7v-2M1697.5 1478.7v-2M1698.5 1478.7v-3.6M1702.5 1478.7v-2M1703.5 1478.7v-2M1704.5 1478.7v-2M1705.5 1478.7v-6.5M1706.5 1478.7v-2M1707.5 1478.7v-2M1708.5 1478.7v-5M1709.5 1478.7v-2.9M1710.5 1478.7v-5.1M1711.5 1478.7v-5.4M1712.5 1478.7v-2.6M1713.5 1478.7v-6.2M1714.5 1478.7v-2.9M1715.5 1478.7v-3.9M1716.5 1478.7v-4.9M1717.5 1478.7v-3.2M1718.5 1478.7v-2.2M1719.5 1478.7v-3.7M1720.5 1478.7v-5M1721.5 1478.7v-9M1722.5 1478.7v-18.7M1723.5 1478.7v-8.9M1724.5 1478.7v-2.2M1725.5 1478.7v-2.7M1726.5 1478.7v-2.2M1727.5 1478.7v-3.7M1728.5 1478.7v-2M1729.5 1478.7v-2.2M1730.5 1478.7v-2.6M1731.5 1478.7v-6.3M1732.5 1478.7v-2M1733.5 1478.7v-2M1737.5 1478.7v-2.2M1738.5 1478.7v-4.8M1739.5 1478.7v-2M1740.5 1478.7v-2.8M1741.5 1478.7v-2M1742.5 1478.7v-2M1743.5 1478.7v-5.6M1744.5 1478.7v-2M1745.5 1478.7v-2M1746.5 1478.7v-2M1747.5 1478.7v-2M1748.5 1478.7v-3.6M1749.5 1478.7v-3.8M1750.5 1478.7v-3.6M1751.5 1478.7v-2M1752.5 1478.7v-2M1753.5 1478.7v-4.1M1754.5 1478.7v-2M1755.5 1478.7v-2M1756.5 1478.7v-2M1757.5 1478.7v-4.2M1758.5 1478.7v-3.6M1759.5 1478.7v-3.9M1760.5 1478.7v-4.5M1761.5 1478.7v-6.5M1762.5 1478.7v-2M1763.5 1478.7v-2.1M1764.5 1478.7v-3.2M1765.5 1478.7v-4.3M1766.5 1478.7v-2M1767.5 1478.7v-2M1768.5 1478.7v-3.8M1769.5 1478.7v-4.7M1770.5 1478.7v-4.1M1771.5 1478.7v-4M1772.5 1478.7v-2M1773.5 1478.7v-2M1774.5 1478.7v-2M1775.5 1478.7v-2M1776.5 1478.7v-4.1M1777.5 1478.7v-3.6M1778.5 1478.7v-2.1M1779.5 1478.7v-2M1780.5 1478.7v-4M1781.5 1478.7v-2.5M1782.5 1478.7v-3M1783.5 1478.7v-2M1784.5 1478.7v-5.7M1785.5 1478.7v-2.3M1786.5 1478.7v-2M1787.5 1478.7v-3.2M1788.5 1478.7v-6.6M1789.5 1478.7v-6.6M1790.5 1478.7v-2M1791.5 1478.7v-2M1792.5 1478.7v-6.6M1793.5 1478.7v-2M1794.5 1478.7v-2M1795.5 1478.7v-2M1796.5 1478.7v-5.9M1797.5 1478.7v-6M1798.5 1478.7v-2M1799.5 1478.7v-5.6M1800.5 1478.7v-2M1801.5 1478.7v-2M1802.5 1478.7v-5.9M1803.5 1478.7v-4.3M1804.5 1478.7v-2M1805.5 1478.7v-2M1806.5 1478.7v-2M1807.5 1478.7v-2M1808.5 1478.7v-3.6M1809.5 1478.7v-3.7M1810.5 1478.7v-4.6M1811.5 1478.7v-3.2M1812.5 1478.7v-5.2M1813.5 1478.7v-3.6M1814.5 1478.7v-3.5M1815.5 1478.7v-5.2M1816.5 1478.7v-6.1M1817.5 1478.7v-2M1820.5 1478.7v-2M1821.5 1478.7v-4.1M1822.5 1478.7v-3.5M1823.5 1478.7v-2.1M1824.5 1478.7v-4.9M1825.5 1478.7v-3.1M1826.5 1478.7v-2M1827.5 1478.7v-3.6M1828.5 1478.7v-2M1829.5 1478.7v-3.8M1830.5 1478.7v-8.7M1831.5 1478.7v-6.1M1832.5 1478.7v-2.4M1833.5 1478.7v-2M1834.5 1478.7v-2.3M1835.5 1478.7v-4.4M1836.5 1478.7v-2M1837.5 1478.7v-2.3M1838.5 1478.7v-2M1839.5 1478.7v-2M1840.5 1478.7v-2M1841.5 1478.7v-2.8M1842.5 1478.7v-4.3M1843.5 1478.7v-2.7M1844.5 1478.7v-2M1845.5 1478.7v-2M1846.5 1478.7v-2M1847.5 1478.7v-2M1848.5 1478.7v-4.9M1849.5 1478.7v-2M1850.5 1478.7v-2.6M1851.5 1478.7v-3.7M1852.5 1478.7v-2.8M1853.5 1478.7v-2M1854.5 1478.7v-2M1855.5 1478.7v-3.1M1856.5 1478.7v-6.4M1857.5 1478.7v-2M1858.5 1478.7v-2.3M1859.5 1478.7v-2M1860.5 1478.7v-2.9M1861.5 1478.7v-2M1862.5 1478.7v-2M1863.5 1478.7v-6M1864.5 1478.7v-6.6M1865.5 1478.7v-2M1866.5 1478.7v-2M1867.5 1478.7v-5.9M1868.5 1478.7v-6.1M1869.5 1478.7v-2M1870.5 1478.7v-2M1871.5 1478.7v-2.5M1872.5 1478.7v-4.6M1873.5 1478.7v-2M1874.5 1478.7v-2M1875.5 1478.7v-4.9M1876.5 1478.7v-2M1877.5 1478.7v-2.4M1878.5 1478.7v-2M1879.5 1478.7v-5.7M1880.5 1478.7v-2M1881.5 1478.7v-2M1882.5 1478.7v-2.4M1883.5 1478.7v-2M1884.5 1478.7v-2M1885.5 1478.7v-2M1886.5 1478.7v-2.8M1887.5 1478.7v-2M1890.5 1478.7v-6.7M1891.5 1478.7v-4.7M1892.5 1478.7v-5M1893.5 1478.7v-3.9M1894.5 1478.7v-2M1898.5 1478.7v-3.4M1899.5 1478.7v-5.5M1900.5 1478.7v-2M1901.5 1478.7v-3.9M1902.5 1478.7v-3.4M1903.5 1478.7v-4.7M1904.5 1478.7v-2.9M1905.5 1478.7v-2M1906.5 1478.7v-2.2M1907.5 1478.7v-2M1908.5 1478.7v-5.1M1909.5 1478.7v-6.3M1910.5 1478.7v-2M1911.5 1478.7v-3M1912.5 1478.7v-2M1913.5 1478.7v-2M1914.5 1478.7v-2M1915.5 1478.7v-2M1916.5 1478.7v-4.2M1917.5 1478.7v-2.5M1918.5 1478.7v-2M1919.5 1478.7v-2M1920.5 1478.7v-4.9M1921.5 1478.7v-2M1922.5 1478.7v-6.4M1923.5 1478.7v-2M1924.5 1478.7v-2M1927.5 1478.7v-2M1932.5 1478.7v-2M1933.5 1478.7v-2M1934.5 1478.7v-2M1935.5 1478.7v-2M1936.5 1478.7v-2.9M1937.5 1478.7v-2.7M1938.5 1478.7v-2M1939.5 1478.7v-2M1940.5 1478.7v-2M1941.5 1478.7v-2M1942.5 1478.7v-2M1943.5 1478.7v-4.9M1944.5 1478.7v-2.2M1945.5 1478.7v-5.3M1946.5 1478.7v-6.5M1947.5 1478.7v-2M1948.5 1478.7v-3.8M1949.5 1478.7v-3.9M1950.5 1478.7v-5M1951.5 1478.7v-2M1952.5 1478.7v-4.1M1953.5 1478.7v-2M1954.5 1478.7v-3.6M1955.5 1478.7v-6M1956.5 1478.7v-2M1957.5 1478.7v-2M1958.5 1478.7v-2M1959.5 1478.7v-4.9M1960.5 1478.7v-4.7M1961.5 1478.7v-4.4M1962.5 1478.7v-2M1963.5 1478.7v-2.2M1964.5 1478.7v-5.2M1965.5 1478.7v-2M1966.5 1478.7v-2.2" stroke="#2d5e42" stroke-width="1.1" fill="none" opacity="0.88"/>
<text x="1593" y="1513.8" font-size="23.2" text-anchor="end" fill="#7b3f97">AR_DMSO</text>
<text x="1671" y="1495" font-size="20" text-anchor="end" fill="#7b3f97">50</text>
<text x="1670" y="1535.8" font-size="20" text-anchor="end" fill="#7b3f97">1</text>
<line x1="1676" y1="1488.2" x2="1681.4" y2="1488.2" stroke-width="1.4" stroke="#7b3f97"/>
<line x1="1669.5" y1="1537.7" x2="1681" y2="1537.7" stroke-width="1.4" stroke="#7b3f97"/>
<path d="M1682.5 1537.9v-2M1683.5 1537.9v-2M1684.5 1537.9v-2M1685.5 1537.9v-2M1686.5 1537.9v-2M1687.5 1537.9v-2M1688.5 1537.9v-2M1689.5 1537.9v-2M1690.5 1537.9v-2.2M1691.5 1537.9v-2M1692.5 1537.9v-2M1693.5 1537.9v-2M1694.5 1537.9v-2M1695.5 1537.9v-2M1696.5 1537.9v-2M1697.5 1537.9v-2M1698.5 1537.9v-2M1699.5 1537.9v-2M1700.5 1537.9v-2M1701.5 1537.9v-2M1702.5 1537.9v-2M1703.5 1537.9v-2M1704.5 1537.9v-2.5M1705.5 1537.9v-2M1706.5 1537.9v-2.7M1707.5 1537.9v-2M1708.5 1537.9v-2M1709.5 1537.9v-2M1710.5 1537.9v-2.6M1711.5 1537.9v-2M1712.5 1537.9v-2M1713.5 1537.9v-2.7M1714.5 1537.9v-2M1715.5 1537.9v-2.4M1716.5 1537.9v-2M1717.5 1537.9v-2M1718.5 1537.9v-2M1719.5 1537.9v-2M1720.5 1537.9v-6.6M1721.5 1537.9v-34.4M1722.5 1537.9v-45.7M1723.5 1537.9v-13.6M1724.5 1537.9v-2.2M1725.5 1537.9v-2M1726.5 1537.9v-2M1727.5 1537.9v-2M1728.5 1537.9v-2M1729.5 1537.9v-2M1730.5 1537.9v-2.3M1731.5 1537.9v-2.3M1732.5 1537.9v-2M1733.5 1537.9v-2M1734.5 1537.9v-2M1735.5 1537.9v-2.8M1736.5 1537.9v-2M1740.5 1537.9v-2M1741.5 1537.9v-2.7M1742.5 1537.9v-2M1743.5 1537.9v-2M1744.5 1537.9v-2M1745.5 1537.9v-2M1746.5 1537.9v-2.1M1747.5 1537.9v-2M1748.5 1537.9v-2M1749.5 1537.9v-2M1750.5 1537.9v-2M1751.5 1537.9v-2M1752.5 1537.9v-2.1M1753.5 1537.9v-2.2M1754.5 1537.9v-2M1755.5 1537.9v-2.5M1756.5 1537.9v-2.9M1757.5 1537.9v-2M1758.5 1537.9v-2M1759.5 1537.9v-2M1760.5 1537.9v-2M1761.5 1537.9v-2M1762.5 1537.9v-2M1763.5 1537.9v-2M1764.5 1537.9v-2M1765.5 1537.9v-2.1M1766.5 1537.9v-2M1767.5 1537.9v-2M1768.5 1537.9v-2.1M1769.5 1537.9v-2.4M1770.5 1537.9v-2M1771.5 1537.9v-2.2M1772.5 1537.9v-2M1773.5 1537.9v-2M1774.5 1537.9v-2M1775.5 1537.9v-2M1776.5 1537.9v-2M1777.5 1537.9v-2M1778.5 1537.9v-2.1M1779.5 1537.9v-2M1780.5 1537.9v-2M1781.5 1537.9v-2.7M1782.5 1537.9v-2M1786.5 1537.9v-2M1787.5 1537.9v-2M1788.5 1537.9v-2.8M1789.5 1537.9v-2M1790.5 1537.9v-2M1791.5 1537.9v-2.7M1792.5 1537.9v-2.6M1793.5 1537.9v-2M1794.5 1537.9v-2M1795.5 1537.9v-2M1796.5 1537.9v-2.3M1797.5 1537.9v-2M1798.5 1537.9v-2M1799.5 1537.9v-2M1800.5 1537.9v-2M1801.5 1537.9v-2.5M1804.5 1537.9v-2M1805.5 1537.9v-2M1806.5 1537.9v-2M1807.5 1537.9v-2M1808.5 1537.9v-2M1809.5 1537.9v-2M1810.5 1537.9v-2M1811.5 1537.9v-2M1812.5 1537.9v-2M1813.5 1537.9v-2M1814.5 1537.9v-2M1815.5 1537.9v-2M1816.5 1537.9v-2.5M1817.5 1537.9v-2M1818.5 1537.9v-2.3M1819.5 1537.9v-4.8M1820.5 1537.9v-25.2M1821.5 1537.9v-25.2M1822.5 1537.9v-4.6M1823.5 1537.9v-2M1824.5 1537.9v-2M1825.5 1537.9v-2.1M1826.5 1537.9v-2M1827.5 1537.9v-2.5M1828.5 1537.9v-2.5M1829.5 1537.9v-17.4M1830.5 1537.9v-53.7M1831.5 1537.9v-38.5M1832.5 1537.9v-5.7M1833.5 1537.9v-2M1834.5 1537.9v-2M1835.5 1537.9v-2M1836.5 1537.9v-2M1837.5 1537.9v-2M1838.5 1537.9v-2.8M1839.5 1537.9v-2M1840.5 1537.9v-2M1841.5 1537.9v-2M1842.5 1537.9v-2M1843.5 1537.9v-2M1844.5 1537.9v-2.9M1845.5 1537.9v-2M1846.5 1537.9v-2M1847.5 1537.9v-2.2M1848.5 1537.9v-4.7M1849.5 1537.9v-4.7M1850.5 1537.9v-2M1851.5 1537.9v-2M1852.5 1537.9v-2M1853.5 1537.9v-2M1854.5 1537.9v-2M1855.5 1537.9v-2.2M1856.5 1537.9v-2.5M1857.5 1537.9v-2M1858.5 1537.9v-2M1859.5 1537.9v-2M1860.5 1537.9v-2M1861.5 1537.9v-2M1862.5 1537.9v-2.7M1863.5 1537.9v-2M1864.5 1537.9v-2.8M1865.5 1537.9v-2M1866.5 1537.9v-2M1867.5 1537.9v-2.1M1868.5 1537.9v-2M1869.5 1537.9v-2M1870.5 1537.9v-2M1871.5 1537.9v-2.3M1872.5 1537.9v-2M1873.5 1537.9v-2M1874.5 1537.9v-2M1875.5 1537.9v-2.5M1876.5 1537.9v-2.6M1877.5 1537.9v-2M1878.5 1537.9v-2M1879.5 1537.9v-2M1880.5 1537.9v-2M1881.5 1537.9v-2.3M1882.5 1537.9v-2.1M1883.5 1537.9v-2.8M1884.5 1537.9v-2M1885.5 1537.9v-2M1886.5 1537.9v-2.9M1887.5 1537.9v-2M1888.5 1537.9v-2.7M1889.5 1537.9v-2M1890.5 1537.9v-2M1891.5 1537.9v-2M1892.5 1537.9v-2M1893.5 1537.9v-2M1894.5 1537.9v-2M1895.5 1537.9v-2M1896.5 1537.9v-2M1897.5 1537.9v-2.2M1898.5 1537.9v-2M1899.5 1537.9v-2.5M1900.5 1537.9v-2.1M1901.5 1537.9v-2M1906.5 1537.9v-2M1907.5 1537.9v-2M1908.5 1537.9v-2M1909.5 1537.9v-2M1910.5 1537.9v-2M1911.5 1537.9v-2M1912.5 1537.9v-2M1913.5 1537.9v-3.6M1914.5 1537.9v-6.7M1915.5 1537.9v-4.4M1916.5 1537.9v-2.2M1917.5 1537.9v-2M1918.5 1537.9v-2M1919.5 1537.9v-2M1920.5 1537.9v-2M1921.5 1537.9v-2.7M1922.5 1537.9v-2M1923.5 1537.9v-2M1924.5 1537.9v-2M1925.5 1537.9v-2M1926.5 1537.9v-2.9M1927.5 1537.9v-2M1928.5 1537.9v-2M1929.5 1537.9v-2M1930.5 1537.9v-2M1931.5 1537.9v-2M1932.5 1537.9v-2M1933.5 1537.9v-2M1934.5 1537.9v-2M1935.5 1537.9v-2M1936.5 1537.9v-2M1937.5 1537.9v-2.4M1938.5 1537.9v-2.1M1939.5 1537.9v-2M1940.5 1537.9v-2M1941.5 1537.9v-2M1942.5 1537.9v-2M1943.5 1537.9v-2M1944.5 1537.9v-2.4M1945.5 1537.9v-2M1946.5 1537.9v-2.5M1947.5 1537.9v-2M1948.5 1537.9v-2M1949.5 1537.9v-4.7M1950.5 1537.9v-6.7M1951.5 1537.9v-2.6M1952.5 1537.9v-2.2M1953.5 1537.9v-2.1M1954.5 1537.9v-2M1955.5 1537.9v-2M1956.5 1537.9v-2.9M1957.5 1537.9v-2M1958.5 1537.9v-2.8M1959.5 1537.9v-2M1960.5 1537.9v-2M1961.5 1537.9v-2M1962.5 1537.9v-2M1963.5 1537.9v-2M1964.5 1537.9v-2.4M1965.5 1537.9v-2M1966.5 1537.9v-2" stroke="#7b3f97" stroke-width="1.1" fill="none" opacity="0.88"/>
<text x="1592" y="1573" font-size="23.2" text-anchor="end" fill="#7b3f97">AR_SMARCA2_4.1</text>
<text x="1671" y="1554.2" font-size="20" text-anchor="end" fill="#7b3f97">50</text>
<text x="1670" y="1595.7" font-size="20" text-anchor="end" fill="#7b3f97">1</text>
<line x1="1676" y1="1547.4" x2="1681.4" y2="1547.4" stroke-width="1.4" stroke="#7b3f97"/>
<line x1="1669.5" y1="1597.3" x2="1681" y2="1597.3" stroke-width="1.4" stroke="#7b3f97"/>
<path d="M1682.5 1597.5v-2M1683.5 1597.5v-2.1M1684.5 1597.5v-2M1685.5 1597.5v-2M1686.5 1597.5v-2.7M1687.5 1597.5v-2M1688.5 1597.5v-2M1689.5 1597.5v-2M1690.5 1597.5v-2M1691.5 1597.5v-2M1692.5 1597.5v-2M1693.5 1597.5v-2.1M1694.5 1597.5v-2.3M1695.5 1597.5v-2.5M1696.5 1597.5v-2M1697.5 1597.5v-3M1698.5 1597.5v-2M1699.5 1597.5v-2M1700.5 1597.5v-3.1M1701.5 1597.5v-2.7M1702.5 1597.5v-2M1703.5 1597.5v-2M1704.5 1597.5v-2M1705.5 1597.5v-2M1706.5 1597.5v-2M1707.5 1597.5v-2M1708.5 1597.5v-2M1709.5 1597.5v-3.1M1710.5 1597.5v-2.3M1711.5 1597.5v-2M1712.5 1597.5v-2M1713.5 1597.5v-2.4M1714.5 1597.5v-2.2M1715.5 1597.5v-2M1716.5 1597.5v-2M1717.5 1597.5v-2M1718.5 1597.5v-2M1719.5 1597.5v-2M1720.5 1597.5v-3.1M1721.5 1597.5v-7.1M1722.5 1597.5v-9.4M1723.5 1597.5v-4.3M1724.5 1597.5v-2.6M1725.5 1597.5v-3.1M1726.5 1597.5v-2.8M1727.5 1597.5v-2M1728.5 1597.5v-2M1729.5 1597.5v-2.7M1730.5 1597.5v-2M1731.5 1597.5v-2M1732.5 1597.5v-2M1733.5 1597.5v-2.7M1734.5 1597.5v-2M1735.5 1597.5v-2M1736.5 1597.5v-2M1737.5 1597.5v-2.2M1738.5 1597.5v-2M1739.5 1597.5v-2M1740.5 1597.5v-2M1741.5 1597.5v-2M1742.5 1597.5v-2.3M1743.5 1597.5v-2M1744.5 1597.5v-2.7M1745.5 1597.5v-2M1746.5 1597.5v-2M1747.5 1597.5v-2M1748.5 1597.5v-2M1749.5 1597.5v-2M1754.5 1597.5v-2M1755.5 1597.5v-2M1756.5 1597.5v-2M1757.5 1597.5v-2.3M1758.5 1597.5v-2.4M1759.5 1597.5v-2M1760.5 1597.5v-2.3M1761.5 1597.5v-2.2M1762.5 1597.5v-2M1763.5 1597.5v-2M1764.5 1597.5v-2M1765.5 1597.5v-3.1M1766.5 1597.5v-2M1767.5 1597.5v-2M1768.5 1597.5v-2M1769.5 1597.5v-2M1770.5 1597.5v-2M1771.5 1597.5v-2M1772.5 1597.5v-2M1773.5 1597.5v-2M1774.5 1597.5v-2M1775.5 1597.5v-2M1776.5 1597.5v-2M1777.5 1597.5v-2M1778.5 1597.5v-2M1779.5 1597.5v-2M1780.5 1597.5v-2M1781.5 1597.5v-2M1782.5 1597.5v-2M1783.5 1597.5v-3M1784.5 1597.5v-2M1785.5 1597.5v-2.4M1786.5 1597.5v-2M1787.5 1597.5v-2M1788.5 1597.5v-2M1789.5 1597.5v-2M1790.5 1597.5v-2.2M1791.5 1597.5v-2M1792.5 1597.5v-2M1793.5 1597.5v-2M1794.5 1597.5v-2.7M1795.5 1597.5v-2M1796.5 1597.5v-2M1797.5 1597.5v-2M1801.5 1597.5v-2M1806.5 1597.5v-2M1807.5 1597.5v-2M1808.5 1597.5v-2M1809.5 1597.5v-2M1810.5 1597.5v-2M1811.5 1597.5v-2.6M1812.5 1597.5v-2.8M1813.5 1597.5v-2M1814.5 1597.5v-2M1815.5 1597.5v-2.3M1816.5 1597.5v-2.2M1817.5 1597.5v-2M1818.5 1597.5v-3.1M1819.5 1597.5v-2.1M1820.5 1597.5v-2M1821.5 1597.5v-2M1822.5 1597.5v-2M1823.5 1597.5v-2M1824.5 1597.5v-2M1825.5 1597.5v-2M1826.5 1597.5v-2M1827.5 1597.5v-2.5M1828.5 1597.5v-3.2M1829.5 1597.5v-3.3M1830.5 1597.5v-11.2M1831.5 1597.5v-5.1M1832.5 1597.5v-2.3M1833.5 1597.5v-2M1834.5 1597.5v-2M1835.5 1597.5v-2M1836.5 1597.5v-2.9M1837.5 1597.5v-2M1838.5 1597.5v-2M1839.5 1597.5v-2M1840.5 1597.5v-2.4M1841.5 1597.5v-2.1M1844.5 1597.5v-2M1845.5 1597.5v-2.4M1846.5 1597.5v-2M1851.5 1597.5v-2M1852.5 1597.5v-2M1853.5 1597.5v-2M1854.5 1597.5v-2.1M1855.5 1597.5v-2.5M1856.5 1597.5v-3M1857.5 1597.5v-2.6M1858.5 1597.5v-2M1859.5 1597.5v-2M1860.5 1597.5v-2M1861.5 1597.5v-2.4M1862.5 1597.5v-2.7M1863.5 1597.5v-2M1864.5 1597.5v-2.6M1865.5 1597.5v-2.1M1866.5 1597.5v-2M1867.5 1597.5v-2M1868.5 1597.5v-2.2M1869.5 1597.5v-2.4M1870.5 1597.5v-2M1871.5 1597.5v-2M1872.5 1597.5v-2M1873.5 1597.5v-2M1874.5 1597.5v-2M1878.5 1597.5v-2.8M1879.5 1597.5v-2.7M1880.5 1597.5v-2.1M1881.5 1597.5v-2M1882.5 1597.5v-2M1883.5 1597.5v-2M1884.5 1597.5v-2M1885.5 1597.5v-2.9M1886.5 1597.5v-2.4M1887.5 1597.5v-2M1888.5 1597.5v-2.9M1889.5 1597.5v-2M1890.5 1597.5v-2M1891.5 1597.5v-2M1892.5 1597.5v-2M1893.5 1597.5v-2M1894.5 1597.5v-2M1895.5 1597.5v-2M1896.5 1597.5v-2M1897.5 1597.5v-2M1898.5 1597.5v-2M1899.5 1597.5v-2M1900.5 1597.5v-2M1901.5 1597.5v-2M1902.5 1597.5v-3M1903.5 1597.5v-3M1904.5 1597.5v-2M1905.5 1597.5v-2M1906.5 1597.5v-2M1907.5 1597.5v-2.4M1908.5 1597.5v-2M1909.5 1597.5v-2.6M1910.5 1597.5v-2M1911.5 1597.5v-2M1912.5 1597.5v-2.5M1913.5 1597.5v-4.6M1914.5 1597.5v-10.3M1915.5 1597.5v-5.6M1916.5 1597.5v-2.1M1917.5 1597.5v-2M1918.5 1597.5v-2.4M1919.5 1597.5v-2M1920.5 1597.5v-2M1921.5 1597.5v-2M1922.5 1597.5v-2M1923.5 1597.5v-2M1924.5 1597.5v-2M1925.5 1597.5v-2.6M1926.5 1597.5v-2.7M1927.5 1597.5v-2M1928.5 1597.5v-2M1929.5 1597.5v-2.5M1930.5 1597.5v-2M1931.5 1597.5v-2M1932.5 1597.5v-2M1933.5 1597.5v-2.2M1934.5 1597.5v-2.2M1935.5 1597.5v-2M1936.5 1597.5v-2M1937.5 1597.5v-2M1938.5 1597.5v-2M1939.5 1597.5v-2M1940.5 1597.5v-2M1941.5 1597.5v-2M1942.5 1597.5v-2.1M1943.5 1597.5v-2.7M1944.5 1597.5v-2M1945.5 1597.5v-2.3M1946.5 1597.5v-2M1947.5 1597.5v-2M1948.5 1597.5v-2M1949.5 1597.5v-2.3M1950.5 1597.5v-2M1951.5 1597.5v-2M1952.5 1597.5v-2.6M1953.5 1597.5v-2M1954.5 1597.5v-2M1955.5 1597.5v-2M1956.5 1597.5v-2M1957.5 1597.5v-2M1958.5 1597.5v-2M1959.5 1597.5v-2M1960.5 1597.5v-2M1961.5 1597.5v-2.6M1962.5 1597.5v-2.9M1963.5 1597.5v-2M1964.5 1597.5v-2.2M1965.5 1597.5v-2M1966.5 1597.5v-2.4" stroke="#7b3f97" stroke-width="1.1" fill="none" opacity="0.88"/>
<text x="1637" y="1632.2" font-size="23.2" text-anchor="end" fill="#e8822e">FOXA1_DMSO</text>
<text x="1671" y="1613.8" font-size="20" text-anchor="end" fill="#e8822e">50</text>
<text x="1670" y="1655.3" font-size="20" text-anchor="end" fill="#e8822e">1</text>
<line x1="1676" y1="1607" x2="1681.4" y2="1607" stroke-width="1.4" stroke="#e8822e"/>
<line x1="1669.5" y1="1656.5" x2="1681" y2="1656.5" stroke-width="1.4" stroke="#e8822e"/>
<path d="M1682.5 1656.7v-2.4M1683.5 1656.7v-2M1684.5 1656.7v-2M1685.5 1656.7v-2M1686.5 1656.7v-2.5M1687.5 1656.7v-2M1688.5 1656.7v-2M1689.5 1656.7v-2M1690.5 1656.7v-2M1691.5 1656.7v-2M1692.5 1656.7v-2M1693.5 1656.7v-2M1694.5 1656.7v-2M1695.5 1656.7v-2M1696.5 1656.7v-2.3M1697.5 1656.7v-2M1698.5 1656.7v-2M1699.5 1656.7v-2M1700.5 1656.7v-2M1701.5 1656.7v-2.2M1702.5 1656.7v-2M1703.5 1656.7v-2.9M1704.5 1656.7v-2M1705.5 1656.7v-2M1706.5 1656.7v-2M1707.5 1656.7v-2M1708.5 1656.7v-2M1709.5 1656.7v-2M1710.5 1656.7v-2M1711.5 1656.7v-2M1712.5 1656.7v-2M1713.5 1656.7v-2M1714.5 1656.7v-2M1715.5 1656.7v-2.5M1716.5 1656.7v-2M1717.5 1656.7v-2M1718.5 1656.7v-2M1719.5 1656.7v-2M1720.5 1656.7v-9.1M1721.5 1656.7v-25.6M1722.5 1656.7v-53.7M1723.5 1656.7v-15.5M1724.5 1656.7v-2.8M1725.5 1656.7v-2.3M1726.5 1656.7v-2M1730.5 1656.7v-2.9M1731.5 1656.7v-2M1732.5 1656.7v-2M1733.5 1656.7v-2.4M1734.5 1656.7v-2M1735.5 1656.7v-2M1736.5 1656.7v-2M1737.5 1656.7v-2.6M1738.5 1656.7v-2M1742.5 1656.7v-2M1743.5 1656.7v-2.7M1744.5 1656.7v-2M1745.5 1656.7v-2M1746.5 1656.7v-2M1747.5 1656.7v-2.5M1748.5 1656.7v-2M1749.5 1656.7v-2.6M1750.5 1656.7v-2M1751.5 1656.7v-2M1752.5 1656.7v-2M1753.5 1656.7v-2M1754.5 1656.7v-2M1755.5 1656.7v-2M1756.5 1656.7v-2M1760.5 1656.7v-2M1761.5 1656.7v-2M1762.5 1656.7v-2M1763.5 1656.7v-2M1764.5 1656.7v-2.2M1765.5 1656.7v-2.4M1766.5 1656.7v-2M1767.5 1656.7v-2M1768.5 1656.7v-2M1769.5 1656.7v-2M1770.5 1656.7v-2M1771.5 1656.7v-2M1772.5 1656.7v-2.2M1773.5 1656.7v-2.4M1774.5 1656.7v-2M1775.5 1656.7v-2.2M1776.5 1656.7v-2M1777.5 1656.7v-2M1778.5 1656.7v-2M1779.5 1656.7v-2M1780.5 1656.7v-2M1781.5 1656.7v-2.5M1782.5 1656.7v-2.6M1783.5 1656.7v-2.1M1784.5 1656.7v-2M1785.5 1656.7v-2M1786.5 1656.7v-2M1787.5 1656.7v-2M1788.5 1656.7v-2M1789.5 1656.7v-2.2M1790.5 1656.7v-2.5M1791.5 1656.7v-2.3M1792.5 1656.7v-2M1793.5 1656.7v-2M1794.5 1656.7v-2.1M1795.5 1656.7v-2M1796.5 1656.7v-2M1797.5 1656.7v-2M1798.5 1656.7v-2M1799.5 1656.7v-2M1800.5 1656.7v-2M1801.5 1656.7v-2M1802.5 1656.7v-2M1803.5 1656.7v-2M1804.5 1656.7v-2M1805.5 1656.7v-2.4M1806.5 1656.7v-2M1807.5 1656.7v-2M1808.5 1656.7v-2M1809.5 1656.7v-2M1810.5 1656.7v-2M1811.5 1656.7v-2.4M1812.5 1656.7v-2M1813.5 1656.7v-2.2M1814.5 1656.7v-2M1815.5 1656.7v-2M1816.5 1656.7v-2M1817.5 1656.7v-2.7M1818.5 1656.7v-2M1819.5 1656.7v-2.4M1820.5 1656.7v-8.2M1821.5 1656.7v-8.2M1822.5 1656.7v-2.8M1823.5 1656.7v-2M1824.5 1656.7v-2M1825.5 1656.7v-2M1826.5 1656.7v-2.7M1827.5 1656.7v-2.8M1828.5 1656.7v-2M1829.5 1656.7v-9.6M1830.5 1656.7v-47.1M1831.5 1656.7v-29.3M1832.5 1656.7v-5.5M1833.5 1656.7v-2M1834.5 1656.7v-2.3M1835.5 1656.7v-2M1836.5 1656.7v-2M1837.5 1656.7v-2M1838.5 1656.7v-2M1839.5 1656.7v-2M1840.5 1656.7v-2.3M1841.5 1656.7v-2M1842.5 1656.7v-2M1843.5 1656.7v-2.4M1844.5 1656.7v-2M1845.5 1656.7v-2M1846.5 1656.7v-2M1847.5 1656.7v-2M1848.5 1656.7v-2M1849.5 1656.7v-2.2M1850.5 1656.7v-2M1851.5 1656.7v-2M1856.5 1656.7v-2M1857.5 1656.7v-2M1858.5 1656.7v-2M1859.5 1656.7v-2M1860.5 1656.7v-2M1861.5 1656.7v-2M1862.5 1656.7v-2M1863.5 1656.7v-2.7M1864.5 1656.7v-2M1865.5 1656.7v-2M1866.5 1656.7v-2M1867.5 1656.7v-2M1868.5 1656.7v-2M1869.5 1656.7v-2M1870.5 1656.7v-2M1871.5 1656.7v-2.6M1872.5 1656.7v-2M1873.5 1656.7v-2.3M1874.5 1656.7v-2M1875.5 1656.7v-2.4M1876.5 1656.7v-2.3M1877.5 1656.7v-2M1878.5 1656.7v-2M1879.5 1656.7v-2.1M1880.5 1656.7v-2M1881.5 1656.7v-2M1882.5 1656.7v-2M1883.5 1656.7v-2M1884.5 1656.7v-2.8M1885.5 1656.7v-2.4M1886.5 1656.7v-2M1887.5 1656.7v-2M1888.5 1656.7v-2M1889.5 1656.7v-2M1890.5 1656.7v-2M1891.5 1656.7v-2M1892.5 1656.7v-2M1893.5 1656.7v-2.4M1894.5 1656.7v-2M1895.5 1656.7v-2M1896.5 1656.7v-2M1897.5 1656.7v-2M1898.5 1656.7v-2M1899.5 1656.7v-2M1900.5 1656.7v-2.3M1901.5 1656.7v-2M1902.5 1656.7v-2M1903.5 1656.7v-2M1904.5 1656.7v-2M1905.5 1656.7v-2M1906.5 1656.7v-2M1907.5 1656.7v-2M1908.5 1656.7v-2M1909.5 1656.7v-2M1910.5 1656.7v-2M1911.5 1656.7v-2M1912.5 1656.7v-2M1913.5 1656.7v-4.3M1914.5 1656.7v-8.2M1915.5 1656.7v-3.8M1916.5 1656.7v-2.4M1917.5 1656.7v-2M1918.5 1656.7v-2M1919.5 1656.7v-2M1920.5 1656.7v-2.8M1921.5 1656.7v-2.4M1922.5 1656.7v-2M1923.5 1656.7v-2M1924.5 1656.7v-2.2M1925.5 1656.7v-2M1926.5 1656.7v-2M1927.5 1656.7v-2M1928.5 1656.7v-2M1929.5 1656.7v-2.8M1930.5 1656.7v-2.2M1931.5 1656.7v-2M1932.5 1656.7v-2.7M1933.5 1656.7v-2M1934.5 1656.7v-2.5M1935.5 1656.7v-2.4M1936.5 1656.7v-2M1937.5 1656.7v-2M1938.5 1656.7v-2M1939.5 1656.7v-2.3M1940.5 1656.7v-2M1941.5 1656.7v-2M1942.5 1656.7v-2M1943.5 1656.7v-2M1944.5 1656.7v-2M1945.5 1656.7v-2.1M1946.5 1656.7v-2.3M1947.5 1656.7v-2M1948.5 1656.7v-2M1949.5 1656.7v-4.6M1950.5 1656.7v-7.7M1951.5 1656.7v-4.1M1952.5 1656.7v-2M1953.5 1656.7v-2M1954.5 1656.7v-2M1955.5 1656.7v-2M1956.5 1656.7v-2M1957.5 1656.7v-2M1958.5 1656.7v-2M1959.5 1656.7v-2.8M1960.5 1656.7v-2M1961.5 1656.7v-2M1962.5 1656.7v-2M1963.5 1656.7v-2.6M1964.5 1656.7v-2M1965.5 1656.7v-2M1966.5 1656.7v-2" stroke="#e8822e" stroke-width="1.1" fill="none" opacity="0.88"/>
<text x="1636" y="1691.8" font-size="23.2" text-anchor="end" fill="#e8822e">FOXA1_SMARCA2_4.1</text>
<text x="1671" y="1673.4" font-size="20" text-anchor="end" fill="#e8822e">50</text>
<text x="1670" y="1713.8" font-size="20" text-anchor="end" fill="#e8822e">1</text>
<line x1="1676" y1="1666.6" x2="1681.4" y2="1666.6" stroke-width="1.4" stroke="#e8822e"/>
<line x1="1669.5" y1="1716.1" x2="1681" y2="1716.1" stroke-width="1.4" stroke="#e8822e"/>
<path d="M1682.5 1716.3v-2M1683.5 1716.3v-3M1684.5 1716.3v-2.3M1685.5 1716.3v-2M1686.5 1716.3v-2.2M1687.5 1716.3v-2M1688.5 1716.3v-2M1689.5 1716.3v-2M1690.5 1716.3v-2.7M1691.5 1716.3v-2M1692.5 1716.3v-2M1693.5 1716.3v-2.4M1694.5 1716.3v-2M1695.5 1716.3v-3.2M1696.5 1716.3v-2M1697.5 1716.3v-2.2M1698.5 1716.3v-3.1M1699.5 1716.3v-2.1M1700.5 1716.3v-2M1701.5 1716.3v-2.2M1702.5 1716.3v-2.5M1703.5 1716.3v-2M1704.5 1716.3v-2.3M1705.5 1716.3v-2M1706.5 1716.3v-2M1707.5 1716.3v-2M1708.5 1716.3v-2M1709.5 1716.3v-2.3M1710.5 1716.3v-3.1M1711.5 1716.3v-2M1712.5 1716.3v-2M1713.5 1716.3v-2M1714.5 1716.3v-2M1715.5 1716.3v-2.6M1716.5 1716.3v-2M1717.5 1716.3v-2M1718.5 1716.3v-2M1719.5 1716.3v-2.9M1720.5 1716.3v-2.6M1721.5 1716.3v-6.9M1722.5 1716.3v-8.7M1723.5 1716.3v-3.4M1724.5 1716.3v-2M1725.5 1716.3v-2M1726.5 1716.3v-2M1727.5 1716.3v-3.2M1728.5 1716.3v-2M1729.5 1716.3v-2.6M1730.5 1716.3v-2M1731.5 1716.3v-2M1732.5 1716.3v-2M1733.5 1716.3v-2M1734.5 1716.3v-2M1735.5 1716.3v-2.2M1736.5 1716.3v-2.6M1737.5 1716.3v-2M1738.5 1716.3v-2M1739.5 1716.3v-2M1740.5 1716.3v-2.4M1741.5 1716.3v-2M1742.5 1716.3v-2M1743.5 1716.3v-2.5M1744.5 1716.3v-2M1745.5 1716.3v-2M1746.5 1716.3v-2.9M1747.5 1716.3v-2M1748.5 1716.3v-2M1749.5 1716.3v-2M1750.5 1716.3v-2M1751.5 1716.3v-2M1752.5 1716.3v-2M1753.5 1716.3v-2M1754.5 1716.3v-2M1755.5 1716.3v-2M1756.5 1716.3v-2M1757.5 1716.3v-2.1M1758.5 1716.3v-2M1759.5 1716.3v-2M1760.5 1716.3v-2.7M1761.5 1716.3v-2M1762.5 1716.3v-2M1763.5 1716.3v-2.6M1764.5 1716.3v-2M1765.5 1716.3v-2M1766.5 1716.3v-2M1767.5 1716.3v-2M1768.5 1716.3v-2M1769.5 1716.3v-3.1M1770.5 1716.3v-2M1771.5 1716.3v-2M1772.5 1716.3v-2M1773.5 1716.3v-2M1774.5 1716.3v-2M1775.5 1716.3v-2.8M1776.5 1716.3v-2M1777.5 1716.3v-2M1778.5 1716.3v-2M1779.5 1716.3v-2M1780.5 1716.3v-2M1781.5 1716.3v-2.4M1782.5 1716.3v-2M1783.5 1716.3v-2M1784.5 1716.3v-2M1785.5 1716.3v-2M1786.5 1716.3v-2M1787.5 1716.3v-3.2M1791.5 1716.3v-2M1792.5 1716.3v-2.7M1793.5 1716.3v-2M1794.5 1716.3v-2M1795.5 1716.3v-2M1796.5 1716.3v-2M1797.5 1716.3v-2M1798.5 1716.3v-2M1799.5 1716.3v-2M1800.5 1716.3v-2.7M1801.5 1716.3v-2M1802.5 1716.3v-2M1803.5 1716.3v-2.1M1808.5 1716.3v-2M1809.5 1716.3v-2M1810.5 1716.3v-2M1811.5 1716.3v-2M1812.5 1716.3v-2M1813.5 1716.3v-2M1814.5 1716.3v-2M1815.5 1716.3v-2.5M1816.5 1716.3v-2.1M1817.5 1716.3v-2M1818.5 1716.3v-2M1819.5 1716.3v-2.4M1820.5 1716.3v-2M1821.5 1716.3v-2.6M1822.5 1716.3v-2M1823.5 1716.3v-2M1824.5 1716.3v-2.5M1825.5 1716.3v-2.8M1826.5 1716.3v-2M1827.5 1716.3v-2M1828.5 1716.3v-2M1829.5 1716.3v-4.1M1830.5 1716.3v-11.7M1831.5 1716.3v-6.5M1832.5 1716.3v-2.2M1833.5 1716.3v-2M1834.5 1716.3v-2M1835.5 1716.3v-2.7M1836.5 1716.3v-3.1M1837.5 1716.3v-2.2M1838.5 1716.3v-2M1839.5 1716.3v-2M1840.5 1716.3v-2.4M1841.5 1716.3v-2M1842.5 1716.3v-2M1843.5 1716.3v-3M1844.5 1716.3v-2M1845.5 1716.3v-2M1846.5 1716.3v-2M1847.5 1716.3v-2M1852.5 1716.3v-2M1853.5 1716.3v-2.5M1854.5 1716.3v-2M1855.5 1716.3v-2M1856.5 1716.3v-2M1857.5 1716.3v-2M1858.5 1716.3v-2M1859.5 1716.3v-2M1860.5 1716.3v-2M1861.5 1716.3v-2M1862.5 1716.3v-2.2M1863.5 1716.3v-2.1M1864.5 1716.3v-2M1865.5 1716.3v-2M1866.5 1716.3v-2M1867.5 1716.3v-2.7M1868.5 1716.3v-2M1869.5 1716.3v-2M1870.5 1716.3v-2M1871.5 1716.3v-2M1872.5 1716.3v-2M1873.5 1716.3v-2M1874.5 1716.3v-2M1877.5 1716.3v-2M1878.5 1716.3v-2M1879.5 1716.3v-2M1880.5 1716.3v-2M1881.5 1716.3v-2.1M1882.5 1716.3v-2M1883.5 1716.3v-2.3M1884.5 1716.3v-2.3M1885.5 1716.3v-2M1886.5 1716.3v-2M1887.5 1716.3v-2.3M1888.5 1716.3v-2M1889.5 1716.3v-2M1890.5 1716.3v-2M1891.5 1716.3v-2M1892.5 1716.3v-3.1M1893.5 1716.3v-2M1894.5 1716.3v-2M1895.5 1716.3v-2M1896.5 1716.3v-2M1897.5 1716.3v-2.9M1898.5 1716.3v-2M1899.5 1716.3v-2M1900.5 1716.3v-2M1901.5 1716.3v-2M1902.5 1716.3v-2.7M1903.5 1716.3v-2M1904.5 1716.3v-2M1905.5 1716.3v-2M1906.5 1716.3v-2.9M1907.5 1716.3v-2M1908.5 1716.3v-2M1909.5 1716.3v-2M1910.5 1716.3v-2M1911.5 1716.3v-2M1912.5 1716.3v-3.1M1913.5 1716.3v-7.4M1914.5 1716.3v-14.2M1915.5 1716.3v-6.3M1916.5 1716.3v-2.4M1917.5 1716.3v-2.4M1918.5 1716.3v-2M1919.5 1716.3v-2.9M1920.5 1716.3v-2M1921.5 1716.3v-3M1922.5 1716.3v-2.2M1923.5 1716.3v-2M1924.5 1716.3v-2M1925.5 1716.3v-2M1926.5 1716.3v-2M1927.5 1716.3v-2.4M1928.5 1716.3v-2M1929.5 1716.3v-3M1930.5 1716.3v-2M1931.5 1716.3v-2M1934.5 1716.3v-2M1935.5 1716.3v-2M1936.5 1716.3v-2M1937.5 1716.3v-2M1938.5 1716.3v-2M1939.5 1716.3v-2M1940.5 1716.3v-2M1941.5 1716.3v-2M1942.5 1716.3v-2.1M1943.5 1716.3v-2M1944.5 1716.3v-3.1M1945.5 1716.3v-2M1946.5 1716.3v-2M1947.5 1716.3v-2M1948.5 1716.3v-2M1949.5 1716.3v-5.4M1950.5 1716.3v-8.7M1951.5 1716.3v-3.2M1952.5 1716.3v-2M1953.5 1716.3v-2.2M1954.5 1716.3v-2M1955.5 1716.3v-2M1956.5 1716.3v-2M1957.5 1716.3v-2M1958.5 1716.3v-2M1959.5 1716.3v-2M1960.5 1716.3v-2.4M1961.5 1716.3v-2M1962.5 1716.3v-2M1963.5 1716.3v-2M1964.5 1716.3v-2.2" stroke="#e8822e" stroke-width="1.1" fill="none" opacity="0.88"/>
<text x="1376.5" y="1806" font-size="31" font-weight="bold">h</text>
<text x="1672" y="1896.5" font-size="23.5">chr8:66,512,768-66,563,556</text>
<text x="1640" y="1931.6" font-size="23.5">Scale 20 kb</text>
<line x1="1769.3" y1="1924" x2="1881.3" y2="1924" stroke-width="1.4"/>
<line x1="1769.3" y1="1915.4" x2="1769.3" y2="1932.7" stroke-width="1.4"/>
<line x1="1881.3" y1="1915.4" x2="1881.3" y2="1932.7" stroke-width="1.4"/>
<text x="1892" y="1926" font-size="23.5">hg38</text>
<line x1="1684.4" y1="1962.5" x2="1701.4" y2="1962.5" stroke-width="1.3" stroke="#2e3192"/>
<line x1="1684.4" y1="1958.5" x2="1684.4" y2="1966.5" stroke-width="1.3" stroke="#2e3192"/>
<polyline points="1692,1959.5 1695,1962.5 1692,1965.5" fill="none" stroke="#2e3192" stroke-width="1.1"/>
<rect x="1701.4" y="1956.8" width="14" height="10.6" fill="#2e3192"/>
<line x1="1684.4" y1="1981.3" x2="1701.4" y2="1981.3" stroke-width="1.3" stroke="#1174b9"/>
<line x1="1684.4" y1="1977.3" x2="1684.4" y2="1985.3" stroke-width="1.3" stroke="#1174b9"/>
<line x1="1701.4" y1="1977.3" x2="1701.4" y2="1985.3" stroke-width="1.3" stroke="#1174b9"/>
<polyline points="1692,1978.3 1695,1981.3 1692,1984.3" fill="none" stroke="#1174b9" stroke-width="1.1"/>
<rect x="1701.4" y="1975.6" width="14" height="10.6" fill="#1174b9"/>
<polyline points="1688,1997 1685,2000.2 1688,2003.4" fill="none" stroke="#0f6a37" stroke-width="1.2"/>
<line x1="1685" y1="2000.2" x2="1695" y2="2000.2" stroke-width="1.2" stroke="#0f6a37"/>
<line x1="1692" y1="1996.5" x2="1692" y2="2004" stroke-width="1.2" stroke="#0f6a37"/>
<line x1="1695" y1="1996.5" x2="1695" y2="2004" stroke-width="1.2" stroke="#0f6a37"/>
<line x1="1684.4" y1="2013.8" x2="1701.4" y2="2013.8" stroke-width="1.3" stroke="#2e3192"/>
<line x1="1684.4" y1="2009.8" x2="1684.4" y2="2017.8" stroke-width="1.3" stroke="#2e3192"/>
<rect x="1701" y="2010.6" width="14.4" height="6.4" fill="#2e3192"/>
<line x1="1684.4" y1="2022.8" x2="1701" y2="2022.8" stroke-width="1.3" stroke="#2e3192"/>
<line x1="1701" y1="2022.8" x2="1701" y2="2030" stroke-width="1.3" stroke="#2e3192"/>
<line x1="1684.4" y1="2032.2" x2="1700.7" y2="2032.2" stroke-width="1.3" stroke="#2e3192"/>
<line x1="1684.4" y1="2028.2" x2="1684.4" y2="2036.2" stroke-width="1.3" stroke="#2e3192"/>
<rect x="1700.7" y="2028.5" width="4.5" height="7" fill="#2e3192"/>
<rect x="1684" y="2038" width="5" height="7" fill="#2e3192"/>
<text x="1912" y="1967.4" font-size="22.7" text-anchor="middle" fill="#1174b9">MYBL1</text>
<rect x="1959" y="1956.8" width="8.3" height="10.6" fill="#1174b9"/>
<line x1="1681.4" y1="2050" x2="1681.4" y2="2404.5" stroke-width="1.3" stroke="#77787b"/>
<text x="1644" y="2084.5" font-size="23.2" text-anchor="end" fill="#2d5e42">SMARCA4_DMSO</text>
<text x="1671" y="2063.8" font-size="20" text-anchor="end" fill="#2d5e42">20</text>
<text x="1670" y="2104.1" font-size="20" text-anchor="end" fill="#2d5e42">1</text>
<line x1="1681.4" y1="2057" x2="1687" y2="2057" stroke-width="1.4" stroke="#2d5e42"/>
<line x1="1669.5" y1="2106.5" x2="1681" y2="2106.5" stroke-width="1.4" stroke="#2d5e42"/>
<path d="M1682.5 2106.7v-3.2M1683.5 2106.7v-8.7M1684.5 2106.7v-8.7M1685.5 2106.7v-3.3M1686.5 2106.7v-2M1687.5 2106.7v-2M1688.5 2106.7v-3.7M1689.5 2106.7v-2M1690.5 2106.7v-3.2M1691.5 2106.7v-3.6M1692.5 2106.7v-3.2M1693.5 2106.7v-2M1694.5 2106.7v-2M1695.5 2106.7v-3.9M1696.5 2106.7v-2.2M1697.5 2106.7v-2M1698.5 2106.7v-5.7M1699.5 2106.7v-2.6M1700.5 2106.7v-2M1701.5 2106.7v-5.4M1702.5 2106.7v-3.1M1703.5 2106.7v-6M1704.5 2106.7v-2M1705.5 2106.7v-2.8M1706.5 2106.7v-2M1707.5 2106.7v-2M1708.5 2106.7v-7.8M1709.5 2106.7v-33.5M1710.5 2106.7v-15.4M1711.5 2106.7v-5.7M1712.5 2106.7v-2M1713.5 2106.7v-3.7M1714.5 2106.7v-5.8M1715.5 2106.7v-2M1716.5 2106.7v-7M1717.5 2106.7v-21.4M1718.5 2106.7v-10.8M1719.5 2106.7v-5.1M1720.5 2106.7v-2M1721.5 2106.7v-2.2M1722.5 2106.7v-2M1723.5 2106.7v-4.9M1724.5 2106.7v-3.2M1725.5 2106.7v-5.9M1726.5 2106.7v-4.3M1727.5 2106.7v-2M1728.5 2106.7v-2M1729.5 2106.7v-2M1730.5 2106.7v-3.7M1731.5 2106.7v-2M1732.5 2106.7v-2.7M1733.5 2106.7v-2M1734.5 2106.7v-2M1735.5 2106.7v-2M1736.5 2106.7v-3.9M1737.5 2106.7v-3.6M1738.5 2106.7v-4.6M1739.5 2106.7v-12.7M1740.5 2106.7v-12.7M1741.5 2106.7v-6.1M1742.5 2106.7v-3.9M1743.5 2106.7v-2M1744.5 2106.7v-5.8M1745.5 2106.7v-3.9M1746.5 2106.7v-2.8M1747.5 2106.7v-10.7M1748.5 2106.7v-10.7M1749.5 2106.7v-4.1M1750.5 2106.7v-4.1M1751.5 2106.7v-4.3M1752.5 2106.7v-2M1753.5 2106.7v-2.2M1754.5 2106.7v-3.4M1755.5 2106.7v-3.8M1756.5 2106.7v-10.7M1757.5 2106.7v-10.7M1758.5 2106.7v-3.3M1759.5 2106.7v-2M1760.5 2106.7v-2M1761.5 2106.7v-2M1762.5 2106.7v-5.5M1763.5 2106.7v-3.6M1764.5 2106.7v-4.9M1765.5 2106.7v-3.7M1766.5 2106.7v-2M1767.5 2106.7v-2M1768.5 2106.7v-2.8M1769.5 2106.7v-4.5M1770.5 2106.7v-4.2M1771.5 2106.7v-2M1772.5 2106.7v-2M1773.5 2106.7v-3.3M1774.5 2106.7v-2.9M1775.5 2106.7v-5.8M1776.5 2106.7v-2M1777.5 2106.7v-5.7M1778.5 2106.7v-2.5M1779.5 2106.7v-5.1M1780.5 2106.7v-3.5M1781.5 2106.7v-2M1782.5 2106.7v-5.4M1783.5 2106.7v-2M1784.5 2106.7v-4.4M1785.5 2106.7v-6.1M1786.5 2106.7v-2M1787.5 2106.7v-3.7M1788.5 2106.7v-2.9M1789.5 2106.7v-4.9M1790.5 2106.7v-3.1M1791.5 2106.7v-2.3M1792.5 2106.7v-2.2M1793.5 2106.7v-2.7M1794.5 2106.7v-2.9M1795.5 2106.7v-5M1796.5 2106.7v-3.1M1797.5 2106.7v-8.7M1798.5 2106.7v-8.7M1799.5 2106.7v-3.2M1800.5 2106.7v-2M1801.5 2106.7v-2.9M1802.5 2106.7v-5.5M1803.5 2106.7v-2M1804.5 2106.7v-3M1805.5 2106.7v-10.7M1806.5 2106.7v-10.7M1807.5 2106.7v-3M1808.5 2106.7v-2M1809.5 2106.7v-2M1810.5 2106.7v-4.7M1811.5 2106.7v-21.4M1812.5 2106.7v-21.4M1813.5 2106.7v-2.9M1814.5 2106.7v-5.3M1815.5 2106.7v-3.3M1816.5 2106.7v-2M1817.5 2106.7v-2M1818.5 2106.7v-2M1819.5 2106.7v-2.6M1820.5 2106.7v-2.6M1821.5 2106.7v-2M1822.5 2106.7v-2M1823.5 2106.7v-2M1824.5 2106.7v-2M1825.5 2106.7v-2M1826.5 2106.7v-3.6M1827.5 2106.7v-6.2M1828.5 2106.7v-2M1829.5 2106.7v-3.7M1830.5 2106.7v-2.5M1831.5 2106.7v-4.9M1832.5 2106.7v-2.4M1833.5 2106.7v-2.9M1834.5 2106.7v-2M1835.5 2106.7v-5.7M1836.5 2106.7v-2M1837.5 2106.7v-2M1838.5 2106.7v-2M1839.5 2106.7v-4.4M1840.5 2106.7v-2M1841.5 2106.7v-2M1842.5 2106.7v-2M1843.5 2106.7v-4.4M1844.5 2106.7v-2.8M1845.5 2106.7v-4.6M1846.5 2106.7v-3.8M1847.5 2106.7v-5.3M1848.5 2106.7v-2M1849.5 2106.7v-3.4M1850.5 2106.7v-5.6M1851.5 2106.7v-2M1852.5 2106.7v-2M1853.5 2106.7v-2M1854.5 2106.7v-4.9M1855.5 2106.7v-2M1856.5 2106.7v-2M1857.5 2106.7v-6.2M1858.5 2106.7v-2M1859.5 2106.7v-2M1860.5 2106.7v-3.6M1861.5 2106.7v-5M1862.5 2106.7v-3.6M1863.5 2106.7v-4.6M1864.5 2106.7v-2M1865.5 2106.7v-2.3M1866.5 2106.7v-3.6M1867.5 2106.7v-2.1M1868.5 2106.7v-2.8M1869.5 2106.7v-6.7M1870.5 2106.7v-6.7M1871.5 2106.7v-5.3M1872.5 2106.7v-4.9M1873.5 2106.7v-2M1874.5 2106.7v-3.6M1875.5 2106.7v-3.7M1876.5 2106.7v-2M1877.5 2106.7v-2.5M1878.5 2106.7v-6.2M1879.5 2106.7v-2M1880.5 2106.7v-3.3M1881.5 2106.7v-2M1882.5 2106.7v-2M1883.5 2106.7v-4.4M1884.5 2106.7v-2M1885.5 2106.7v-3.4M1886.5 2106.7v-2M1887.5 2106.7v-2.9M1888.5 2106.7v-6.1M1889.5 2106.7v-5M1890.5 2106.7v-3.2M1891.5 2106.7v-2M1892.5 2106.7v-3.3M1893.5 2106.7v-2M1894.5 2106.7v-2M1895.5 2106.7v-2M1896.5 2106.7v-2M1897.5 2106.7v-2M1898.5 2106.7v-4.4M1899.5 2106.7v-2M1900.5 2106.7v-2M1901.5 2106.7v-2M1902.5 2106.7v-2M1903.5 2106.7v-2M1904.5 2106.7v-5.3M1905.5 2106.7v-2M1906.5 2106.7v-2M1907.5 2106.7v-2M1908.5 2106.7v-4.3M1909.5 2106.7v-2M1910.5 2106.7v-3M1911.5 2106.7v-2M1912.5 2106.7v-4.7M1913.5 2106.7v-2.3M1914.5 2106.7v-5.6M1918.5 2106.7v-3.9M1919.5 2106.7v-2.3M1920.5 2106.7v-2M1921.5 2106.7v-5.6M1922.5 2106.7v-4.9M1923.5 2106.7v-2M1924.5 2106.7v-6.1M1925.5 2106.7v-2M1926.5 2106.7v-2.5M1927.5 2106.7v-2M1928.5 2106.7v-2M1929.5 2106.7v-2M1930.5 2106.7v-2M1931.5 2106.7v-5.1M1932.5 2106.7v-2M1933.5 2106.7v-2M1934.5 2106.7v-2M1935.5 2106.7v-2.6M1936.5 2106.7v-3.2M1937.5 2106.7v-2M1938.5 2106.7v-3.1M1939.5 2106.7v-2.9M1944.5 2106.7v-2M1945.5 2106.7v-4.1M1946.5 2106.7v-2M1947.5 2106.7v-4.4M1948.5 2106.7v-2M1949.5 2106.7v-2M1950.5 2106.7v-4.2M1951.5 2106.7v-13.4M1952.5 2106.7v-17.7M1953.5 2106.7v-6.7M1954.5 2106.7v-2M1955.5 2106.7v-4.9M1956.5 2106.7v-2M1957.5 2106.7v-3.3M1958.5 2106.7v-3.8M1959.5 2106.7v-2M1960.5 2106.7v-2.7M1961.5 2106.7v-2M1962.5 2106.7v-2M1963.5 2106.7v-5.7M1964.5 2106.7v-2M1965.5 2106.7v-2M1966.5 2106.7v-5.1" stroke="#2d5e42" stroke-width="1.1" fill="none" opacity="0.88"/>
<text x="1644" y="2144.8" font-size="23.2" text-anchor="end" fill="#2d5e42">SMARCA4_SMARCA2_4.1</text>
<text x="1671" y="2124.1" font-size="20" text-anchor="end" fill="#2d5e42">20</text>
<text x="1670" y="2164.4" font-size="20" text-anchor="end" fill="#2d5e42">1</text>
<line x1="1681.4" y1="2117.3" x2="1687" y2="2117.3" stroke-width="1.4" stroke="#2d5e42"/>
<line x1="1669.5" y1="2166.1" x2="1681" y2="2166.1" stroke-width="1.4" stroke="#2d5e42"/>
<path d="M1682.5 2166.3v-2M1686.5 2166.3v-3.3M1687.5 2166.3v-2.8M1688.5 2166.3v-2M1689.5 2166.3v-2M1690.5 2166.3v-5.6M1691.5 2166.3v-2M1692.5 2166.3v-5M1695.5 2166.3v-2M1696.5 2166.3v-3.7M1697.5 2166.3v-2M1698.5 2166.3v-2M1699.5 2166.3v-2M1700.5 2166.3v-3.8M1701.5 2166.3v-3.2M1702.5 2166.3v-2M1703.5 2166.3v-2.3M1704.5 2166.3v-4.7M1705.5 2166.3v-2M1706.5 2166.3v-2M1707.5 2166.3v-2M1708.5 2166.3v-4.4M1709.5 2166.3v-2.2M1710.5 2166.3v-2.6M1711.5 2166.3v-3.3M1712.5 2166.3v-2M1713.5 2166.3v-3.8M1714.5 2166.3v-2.7M1715.5 2166.3v-2.3M1719.5 2166.3v-4.9M1720.5 2166.3v-2M1721.5 2166.3v-2.3M1722.5 2166.3v-2M1723.5 2166.3v-3.6M1724.5 2166.3v-2.6M1725.5 2166.3v-2M1726.5 2166.3v-4.9M1727.5 2166.3v-2M1728.5 2166.3v-2M1729.5 2166.3v-2M1730.5 2166.3v-3.4M1731.5 2166.3v-5.1M1732.5 2166.3v-4M1733.5 2166.3v-2M1734.5 2166.3v-5.6M1735.5 2166.3v-5.2M1736.5 2166.3v-2M1737.5 2166.3v-2M1738.5 2166.3v-3.9M1739.5 2166.3v-2M1740.5 2166.3v-2.7M1741.5 2166.3v-3.7M1742.5 2166.3v-2M1743.5 2166.3v-4M1744.5 2166.3v-3.9M1745.5 2166.3v-2M1746.5 2166.3v-2.2M1747.5 2166.3v-2M1748.5 2166.3v-2M1749.5 2166.3v-5.7M1750.5 2166.3v-2M1751.5 2166.3v-2M1752.5 2166.3v-2M1753.5 2166.3v-4.5M1754.5 2166.3v-5.1M1755.5 2166.3v-2M1756.5 2166.3v-2M1757.5 2166.3v-4.1M1758.5 2166.3v-2M1759.5 2166.3v-5.4M1760.5 2166.3v-4.1M1761.5 2166.3v-4.5M1762.5 2166.3v-5.1M1763.5 2166.3v-2.2M1764.5 2166.3v-2.6M1765.5 2166.3v-2M1766.5 2166.3v-4.5M1767.5 2166.3v-2.4M1768.5 2166.3v-3.9M1769.5 2166.3v-3.5M1770.5 2166.3v-2.6M1771.5 2166.3v-2M1772.5 2166.3v-2M1773.5 2166.3v-2.4M1774.5 2166.3v-2M1775.5 2166.3v-2.7M1776.5 2166.3v-2M1777.5 2166.3v-2M1778.5 2166.3v-2M1779.5 2166.3v-2M1780.5 2166.3v-2.7M1781.5 2166.3v-3M1782.5 2166.3v-2M1783.5 2166.3v-2.1M1784.5 2166.3v-3M1785.5 2166.3v-2M1786.5 2166.3v-4.2M1787.5 2166.3v-2M1788.5 2166.3v-2M1789.5 2166.3v-2M1790.5 2166.3v-4.9M1791.5 2166.3v-5M1792.5 2166.3v-2M1793.5 2166.3v-2M1794.5 2166.3v-2M1795.5 2166.3v-2M1796.5 2166.3v-2.6M1797.5 2166.3v-2M1798.5 2166.3v-3.8M1799.5 2166.3v-6.7M1800.5 2166.3v-6.7M1801.5 2166.3v-3.1M1802.5 2166.3v-3.3M1803.5 2166.3v-2M1804.5 2166.3v-2M1805.5 2166.3v-5.6M1806.5 2166.3v-2.2M1807.5 2166.3v-2M1808.5 2166.3v-5.2M1809.5 2166.3v-2.1M1810.5 2166.3v-4.2M1811.5 2166.3v-2.6M1812.5 2166.3v-2.1M1813.5 2166.3v-2M1814.5 2166.3v-2M1815.5 2166.3v-2.8M1816.5 2166.3v-2M1817.5 2166.3v-2M1818.5 2166.3v-2.1M1819.5 2166.3v-2.7M1820.5 2166.3v-2.8M1821.5 2166.3v-2.2M1822.5 2166.3v-2M1823.5 2166.3v-2M1824.5 2166.3v-3.3M1825.5 2166.3v-5.7M1826.5 2166.3v-5.7M1827.5 2166.3v-2.5M1828.5 2166.3v-2M1829.5 2166.3v-2M1830.5 2166.3v-2M1831.5 2166.3v-2M1832.5 2166.3v-3.4M1833.5 2166.3v-4.5M1834.5 2166.3v-3.4M1835.5 2166.3v-5.2M1836.5 2166.3v-2M1837.5 2166.3v-4M1838.5 2166.3v-2M1839.5 2166.3v-3.3M1840.5 2166.3v-2.6M1841.5 2166.3v-2.7M1842.5 2166.3v-2M1843.5 2166.3v-2.1M1844.5 2166.3v-5.5M1845.5 2166.3v-4.5M1846.5 2166.3v-5.4M1847.5 2166.3v-2M1848.5 2166.3v-3.2M1853.5 2166.3v-2.9M1854.5 2166.3v-2M1855.5 2166.3v-2.1M1856.5 2166.3v-4.1M1857.5 2166.3v-3.9M1858.5 2166.3v-2M1859.5 2166.3v-3.6M1860.5 2166.3v-2.4M1861.5 2166.3v-2M1862.5 2166.3v-4.1M1863.5 2166.3v-3.2M1864.5 2166.3v-4.9M1865.5 2166.3v-4.9M1866.5 2166.3v-2M1867.5 2166.3v-4.4M1868.5 2166.3v-3.4M1869.5 2166.3v-5.7M1870.5 2166.3v-5.7M1871.5 2166.3v-5.2M1872.5 2166.3v-2M1873.5 2166.3v-2.6M1874.5 2166.3v-3.8M1875.5 2166.3v-2M1876.5 2166.3v-2.2M1877.5 2166.3v-4.9M1878.5 2166.3v-2.3M1879.5 2166.3v-2M1880.5 2166.3v-2M1881.5 2166.3v-5.6M1882.5 2166.3v-2M1883.5 2166.3v-2M1884.5 2166.3v-2M1885.5 2166.3v-4M1886.5 2166.3v-3.2M1887.5 2166.3v-2.7M1888.5 2166.3v-2M1889.5 2166.3v-5.4M1890.5 2166.3v-3.1M1891.5 2166.3v-4M1892.5 2166.3v-2M1893.5 2166.3v-3.7M1894.5 2166.3v-2.5M1895.5 2166.3v-3.7M1896.5 2166.3v-4M1897.5 2166.3v-2.2M1901.5 2166.3v-3.4M1902.5 2166.3v-3.7M1903.5 2166.3v-2M1904.5 2166.3v-2M1905.5 2166.3v-2M1906.5 2166.3v-4.1M1907.5 2166.3v-4.3M1908.5 2166.3v-2.9M1909.5 2166.3v-5.7M1910.5 2166.3v-2M1911.5 2166.3v-3.9M1912.5 2166.3v-2M1913.5 2166.3v-4.6M1914.5 2166.3v-2M1915.5 2166.3v-2M1916.5 2166.3v-2.6M1917.5 2166.3v-3.5M1918.5 2166.3v-3.9M1919.5 2166.3v-4.9M1920.5 2166.3v-4M1921.5 2166.3v-2.4M1922.5 2166.3v-2M1923.5 2166.3v-2.9M1924.5 2166.3v-3.2M1925.5 2166.3v-2M1926.5 2166.3v-3.6M1927.5 2166.3v-2M1928.5 2166.3v-2.7M1929.5 2166.3v-2.7M1930.5 2166.3v-2M1931.5 2166.3v-2.3M1932.5 2166.3v-2M1933.5 2166.3v-2M1934.5 2166.3v-2M1935.5 2166.3v-4.3M1936.5 2166.3v-2M1937.5 2166.3v-3.1M1938.5 2166.3v-3.2M1939.5 2166.3v-2M1944.5 2166.3v-3.3M1945.5 2166.3v-4.5M1946.5 2166.3v-2M1947.5 2166.3v-2M1948.5 2166.3v-2M1949.5 2166.3v-3.3M1950.5 2166.3v-2M1951.5 2166.3v-2.4M1952.5 2166.3v-2M1953.5 2166.3v-2.4M1954.5 2166.3v-2M1958.5 2166.3v-5.2M1959.5 2166.3v-2M1960.5 2166.3v-2.8M1961.5 2166.3v-5.2M1962.5 2166.3v-2M1963.5 2166.3v-2M1964.5 2166.3v-4.6M1965.5 2166.3v-2M1966.5 2166.3v-2.4" stroke="#2d5e42" stroke-width="1.1" fill="none" opacity="0.88"/>
<text x="1644" y="2204" font-size="23.2" text-anchor="end" fill="#7b3f97">FOSL1_DMSO</text>
<text x="1671" y="2181.8" font-size="20" text-anchor="end" fill="#7b3f97">30</text>
<text x="1670" y="2222.8" font-size="20" text-anchor="end" fill="#7b3f97">1</text>
<line x1="1681.4" y1="2175" x2="1687" y2="2175" stroke-width="1.4" stroke="#7b3f97"/>
<line x1="1669.5" y1="2225.3" x2="1681" y2="2225.3" stroke-width="1.4" stroke="#7b3f97"/>
<path d="M1682.5 2225.5v-2M1683.5 2225.5v-2M1684.5 2225.5v-2.4M1685.5 2225.5v-2M1686.5 2225.5v-2M1687.5 2225.5v-2M1688.5 2225.5v-2.1M1689.5 2225.5v-2.1M1690.5 2225.5v-2M1691.5 2225.5v-2M1692.5 2225.5v-2M1693.5 2225.5v-2M1694.5 2225.5v-2.1M1695.5 2225.5v-2M1696.5 2225.5v-2.1M1697.5 2225.5v-2M1698.5 2225.5v-2M1699.5 2225.5v-2M1700.5 2225.5v-2M1701.5 2225.5v-2M1702.5 2225.5v-2M1703.5 2225.5v-2M1704.5 2225.5v-2.1M1705.5 2225.5v-2M1706.5 2225.5v-2M1707.5 2225.5v-2M1708.5 2225.5v-13.6M1709.5 2225.5v-36.5M1710.5 2225.5v-18.5M1711.5 2225.5v-4.1M1712.5 2225.5v-2M1713.5 2225.5v-2.4M1714.5 2225.5v-2.4M1715.5 2225.5v-2.2M1716.5 2225.5v-3.8M1717.5 2225.5v-9.7M1718.5 2225.5v-3.8M1719.5 2225.5v-2M1720.5 2225.5v-2M1721.5 2225.5v-2M1722.5 2225.5v-2M1725.5 2225.5v-2M1726.5 2225.5v-2M1727.5 2225.5v-2M1728.5 2225.5v-2M1729.5 2225.5v-2M1730.5 2225.5v-2M1731.5 2225.5v-2M1732.5 2225.5v-2M1733.5 2225.5v-2M1734.5 2225.5v-3.2M1735.5 2225.5v-6.6M1736.5 2225.5v-10.1M1737.5 2225.5v-7.1M1738.5 2225.5v-3.2M1739.5 2225.5v-2M1740.5 2225.5v-2M1741.5 2225.5v-2M1742.5 2225.5v-2M1743.5 2225.5v-2M1744.5 2225.5v-2M1745.5 2225.5v-2.2M1746.5 2225.5v-2.1M1747.5 2225.5v-2M1748.5 2225.5v-2M1749.5 2225.5v-2M1750.5 2225.5v-2M1751.5 2225.5v-2M1752.5 2225.5v-2M1753.5 2225.5v-2M1754.5 2225.5v-2M1755.5 2225.5v-2.4M1756.5 2225.5v-2M1757.5 2225.5v-2M1758.5 2225.5v-2.4M1759.5 2225.5v-2M1760.5 2225.5v-2M1761.5 2225.5v-2M1762.5 2225.5v-2M1763.5 2225.5v-2M1764.5 2225.5v-2M1765.5 2225.5v-2M1766.5 2225.5v-2M1767.5 2225.5v-2M1768.5 2225.5v-2M1769.5 2225.5v-2.3M1770.5 2225.5v-2M1773.5 2225.5v-2M1774.5 2225.5v-2M1775.5 2225.5v-2M1776.5 2225.5v-2M1777.5 2225.5v-2M1778.5 2225.5v-2M1779.5 2225.5v-2M1780.5 2225.5v-2M1781.5 2225.5v-2M1782.5 2225.5v-2M1783.5 2225.5v-2M1784.5 2225.5v-2M1785.5 2225.5v-2.1M1786.5 2225.5v-2.2M1787.5 2225.5v-2M1788.5 2225.5v-2.3M1789.5 2225.5v-2M1790.5 2225.5v-2M1791.5 2225.5v-2M1792.5 2225.5v-2M1793.5 2225.5v-2M1794.5 2225.5v-2.4M1795.5 2225.5v-2M1796.5 2225.5v-2M1797.5 2225.5v-3.5M1798.5 2225.5v-7.7M1799.5 2225.5v-4.4M1800.5 2225.5v-2.2M1801.5 2225.5v-2M1802.5 2225.5v-2M1803.5 2225.5v-2M1804.5 2225.5v-2M1805.5 2225.5v-2M1806.5 2225.5v-2M1807.5 2225.5v-2M1808.5 2225.5v-2M1809.5 2225.5v-2M1810.5 2225.5v-6.9M1811.5 2225.5v-32.7M1812.5 2225.5v-32.7M1813.5 2225.5v-5.8M1814.5 2225.5v-2M1815.5 2225.5v-2.1M1816.5 2225.5v-2M1819.5 2225.5v-2.1M1820.5 2225.5v-2M1821.5 2225.5v-2M1822.5 2225.5v-2M1823.5 2225.5v-2M1824.5 2225.5v-2M1825.5 2225.5v-2M1826.5 2225.5v-2M1827.5 2225.5v-2M1828.5 2225.5v-2M1829.5 2225.5v-2M1830.5 2225.5v-2.1M1831.5 2225.5v-2M1832.5 2225.5v-2.1M1833.5 2225.5v-2M1834.5 2225.5v-2M1835.5 2225.5v-2M1836.5 2225.5v-2.2M1837.5 2225.5v-2M1838.5 2225.5v-2M1839.5 2225.5v-2M1840.5 2225.5v-2M1841.5 2225.5v-2M1842.5 2225.5v-2M1843.5 2225.5v-2M1844.5 2225.5v-2M1845.5 2225.5v-2M1850.5 2225.5v-2M1851.5 2225.5v-2M1852.5 2225.5v-2M1853.5 2225.5v-2M1854.5 2225.5v-2M1855.5 2225.5v-2.4M1856.5 2225.5v-2M1857.5 2225.5v-2M1861.5 2225.5v-2M1862.5 2225.5v-2.4M1863.5 2225.5v-2.3M1864.5 2225.5v-2M1865.5 2225.5v-2M1866.5 2225.5v-2M1867.5 2225.5v-2M1868.5 2225.5v-2M1869.5 2225.5v-5.7M1870.5 2225.5v-5.7M1871.5 2225.5v-2M1872.5 2225.5v-2M1873.5 2225.5v-2M1874.5 2225.5v-2M1875.5 2225.5v-2M1876.5 2225.5v-2M1877.5 2225.5v-2M1878.5 2225.5v-2.3M1879.5 2225.5v-2M1880.5 2225.5v-2M1881.5 2225.5v-2.1M1882.5 2225.5v-2M1883.5 2225.5v-2.1M1884.5 2225.5v-2M1885.5 2225.5v-2M1886.5 2225.5v-2M1887.5 2225.5v-2M1888.5 2225.5v-2M1889.5 2225.5v-2M1890.5 2225.5v-2M1891.5 2225.5v-2M1892.5 2225.5v-2M1893.5 2225.5v-2M1894.5 2225.5v-2M1895.5 2225.5v-2M1896.5 2225.5v-2M1897.5 2225.5v-2.1M1898.5 2225.5v-2M1899.5 2225.5v-2M1900.5 2225.5v-2M1901.5 2225.5v-2.5M1902.5 2225.5v-2M1903.5 2225.5v-2M1904.5 2225.5v-2.3M1905.5 2225.5v-2M1908.5 2225.5v-2M1909.5 2225.5v-2M1910.5 2225.5v-2M1911.5 2225.5v-2M1912.5 2225.5v-2M1913.5 2225.5v-2M1914.5 2225.5v-2.2M1915.5 2225.5v-2M1916.5 2225.5v-2M1917.5 2225.5v-2M1918.5 2225.5v-2M1919.5 2225.5v-2M1920.5 2225.5v-2M1921.5 2225.5v-2M1922.5 2225.5v-2M1923.5 2225.5v-2M1924.5 2225.5v-2.4M1925.5 2225.5v-2M1926.5 2225.5v-2M1927.5 2225.5v-2M1928.5 2225.5v-2M1929.5 2225.5v-2M1930.5 2225.5v-2M1931.5 2225.5v-2M1932.5 2225.5v-2M1933.5 2225.5v-2.1M1934.5 2225.5v-2M1935.5 2225.5v-2M1938.5 2225.5v-2M1939.5 2225.5v-2M1940.5 2225.5v-2.5M1941.5 2225.5v-2M1942.5 2225.5v-2M1943.5 2225.5v-2M1944.5 2225.5v-2M1945.5 2225.5v-2M1946.5 2225.5v-2M1947.5 2225.5v-2.4M1948.5 2225.5v-2M1949.5 2225.5v-2M1950.5 2225.5v-2.6M1951.5 2225.5v-6.3M1952.5 2225.5v-12.7M1953.5 2225.5v-4.3M1954.5 2225.5v-2M1955.5 2225.5v-2M1956.5 2225.5v-2M1957.5 2225.5v-2M1958.5 2225.5v-2M1959.5 2225.5v-2.1M1960.5 2225.5v-2M1961.5 2225.5v-2.3M1962.5 2225.5v-2M1963.5 2225.5v-2M1964.5 2225.5v-2M1965.5 2225.5v-2M1966.5 2225.5v-2" stroke="#7b3f97" stroke-width="1.1" fill="none" opacity="0.88"/>
<text x="1644" y="2263.2" font-size="23.2" text-anchor="end" fill="#7b3f97">FOSL1_SMARCA2_4.1</text>
<text x="1671" y="2242.1" font-size="20" text-anchor="end" fill="#7b3f97">30</text>
<text x="1670" y="2283.2" font-size="20" text-anchor="end" fill="#7b3f97">1</text>
<line x1="1681.4" y1="2235.3" x2="1687" y2="2235.3" stroke-width="1.4" stroke="#7b3f97"/>
<line x1="1669.5" y1="2284.8" x2="1681" y2="2284.8" stroke-width="1.4" stroke="#7b3f97"/>
<path d="M1682.5 2285v-2.3M1683.5 2285v-2M1684.5 2285v-2M1685.5 2285v-2M1686.5 2285v-2.1M1687.5 2285v-2M1688.5 2285v-2M1689.5 2285v-2.9M1690.5 2285v-2M1691.5 2285v-2M1692.5 2285v-2M1693.5 2285v-2M1694.5 2285v-2M1698.5 2285v-2M1699.5 2285v-2M1700.5 2285v-2.8M1701.5 2285v-2M1702.5 2285v-2M1703.5 2285v-2.2M1704.5 2285v-2.4M1705.5 2285v-2M1706.5 2285v-2M1707.5 2285v-2M1708.5 2285v-2.1M1709.5 2285v-4.7M1710.5 2285v-3.5M1711.5 2285v-2.2M1712.5 2285v-2M1713.5 2285v-2M1714.5 2285v-2M1715.5 2285v-2M1716.5 2285v-2M1717.5 2285v-2M1718.5 2285v-2M1719.5 2285v-2M1720.5 2285v-2M1721.5 2285v-2M1722.5 2285v-2M1723.5 2285v-2M1724.5 2285v-2M1725.5 2285v-2M1726.5 2285v-2M1727.5 2285v-2M1728.5 2285v-2M1729.5 2285v-2M1730.5 2285v-2M1731.5 2285v-2M1732.5 2285v-2.7M1733.5 2285v-2M1734.5 2285v-2M1735.5 2285v-2.4M1736.5 2285v-2M1737.5 2285v-2.6M1738.5 2285v-2.8M1739.5 2285v-2.2M1740.5 2285v-2M1741.5 2285v-2M1742.5 2285v-2M1743.5 2285v-2M1744.5 2285v-2M1745.5 2285v-2M1746.5 2285v-2M1747.5 2285v-2M1748.5 2285v-2M1749.5 2285v-2M1753.5 2285v-2.7M1754.5 2285v-2.8M1755.5 2285v-2M1756.5 2285v-2M1757.5 2285v-2M1758.5 2285v-2M1759.5 2285v-2M1760.5 2285v-2.7M1761.5 2285v-2M1762.5 2285v-2M1763.5 2285v-2.3M1764.5 2285v-2M1765.5 2285v-2.2M1766.5 2285v-2M1767.5 2285v-2M1768.5 2285v-2M1769.5 2285v-2M1770.5 2285v-2M1771.5 2285v-2M1772.5 2285v-2M1773.5 2285v-2M1778.5 2285v-2M1779.5 2285v-2M1780.5 2285v-2M1781.5 2285v-2.7M1782.5 2285v-2M1783.5 2285v-2.6M1784.5 2285v-2M1785.5 2285v-2M1786.5 2285v-2M1787.5 2285v-2M1788.5 2285v-2M1789.5 2285v-2M1790.5 2285v-2M1791.5 2285v-2M1792.5 2285v-2M1795.5 2285v-2.5M1796.5 2285v-2M1797.5 2285v-2.9M1798.5 2285v-2M1799.5 2285v-2M1800.5 2285v-2M1801.5 2285v-2M1802.5 2285v-2M1803.5 2285v-2.4M1804.5 2285v-2M1805.5 2285v-2.3M1806.5 2285v-2M1807.5 2285v-2.7M1808.5 2285v-2M1809.5 2285v-2.2M1810.5 2285v-2M1811.5 2285v-2M1812.5 2285v-2M1813.5 2285v-2.8M1814.5 2285v-2M1815.5 2285v-2M1816.5 2285v-2M1817.5 2285v-2.1M1818.5 2285v-2M1823.5 2285v-2.1M1824.5 2285v-2M1825.5 2285v-2M1829.5 2285v-2M1830.5 2285v-2M1831.5 2285v-2M1832.5 2285v-2M1833.5 2285v-2M1834.5 2285v-2.3M1835.5 2285v-2M1836.5 2285v-2M1837.5 2285v-2.5M1838.5 2285v-2M1839.5 2285v-2M1840.5 2285v-2M1841.5 2285v-2M1842.5 2285v-2M1843.5 2285v-2.5M1844.5 2285v-2M1845.5 2285v-2M1846.5 2285v-2M1847.5 2285v-2M1848.5 2285v-2M1849.5 2285v-2.1M1850.5 2285v-2M1851.5 2285v-2M1852.5 2285v-2M1853.5 2285v-2M1854.5 2285v-2M1855.5 2285v-2M1856.5 2285v-2M1857.5 2285v-2M1858.5 2285v-2M1859.5 2285v-2.1M1860.5 2285v-2M1861.5 2285v-2M1862.5 2285v-2M1863.5 2285v-2.1M1864.5 2285v-2M1865.5 2285v-2.9M1866.5 2285v-2.9M1867.5 2285v-2M1868.5 2285v-2.1M1869.5 2285v-2M1870.5 2285v-2M1871.5 2285v-2M1872.5 2285v-2.6M1873.5 2285v-5.7M1874.5 2285v-5.7M1875.5 2285v-2.5M1876.5 2285v-2M1877.5 2285v-2M1878.5 2285v-2M1879.5 2285v-2M1880.5 2285v-2M1881.5 2285v-2M1882.5 2285v-2.5M1883.5 2285v-2M1884.5 2285v-2M1885.5 2285v-2M1886.5 2285v-2M1887.5 2285v-2M1888.5 2285v-2M1889.5 2285v-2M1890.5 2285v-2M1891.5 2285v-2.3M1892.5 2285v-2.8M1893.5 2285v-2M1894.5 2285v-2M1895.5 2285v-2M1896.5 2285v-2.4M1897.5 2285v-2.2M1898.5 2285v-2M1899.5 2285v-2M1900.5 2285v-2M1901.5 2285v-2.3M1902.5 2285v-2M1903.5 2285v-2.9M1904.5 2285v-2M1905.5 2285v-2M1906.5 2285v-2.2M1907.5 2285v-2M1908.5 2285v-2.6M1909.5 2285v-2M1910.5 2285v-2M1911.5 2285v-2.8M1912.5 2285v-2.2M1913.5 2285v-2M1914.5 2285v-2.1M1915.5 2285v-2.7M1916.5 2285v-2M1917.5 2285v-2M1918.5 2285v-2M1923.5 2285v-2M1924.5 2285v-2.5M1925.5 2285v-2.4M1929.5 2285v-2M1934.5 2285v-2.5M1935.5 2285v-2.2M1936.5 2285v-2M1937.5 2285v-2M1938.5 2285v-2.1M1939.5 2285v-2.6M1940.5 2285v-2M1941.5 2285v-2M1942.5 2285v-2M1943.5 2285v-2M1944.5 2285v-2.7M1945.5 2285v-2.2M1946.5 2285v-2M1947.5 2285v-2M1948.5 2285v-2.6M1949.5 2285v-2M1950.5 2285v-2.5M1951.5 2285v-2M1952.5 2285v-2M1953.5 2285v-2M1954.5 2285v-2M1955.5 2285v-2.2M1956.5 2285v-2.2M1959.5 2285v-2M1960.5 2285v-2.1M1961.5 2285v-2M1962.5 2285v-2.1M1963.5 2285v-2M1964.5 2285v-2M1965.5 2285v-2M1966.5 2285v-2" stroke="#7b3f97" stroke-width="1.1" fill="none" opacity="0.88"/>
<text x="1644" y="2322.8" font-size="23.2" text-anchor="end" fill="#e8822e">TEAD1_DMSO</text>
<text x="1671" y="2300.6" font-size="20" text-anchor="end" fill="#e8822e">30</text>
<text x="1670" y="2341.7" font-size="20" text-anchor="end" fill="#e8822e">1</text>
<line x1="1681.4" y1="2293.8" x2="1687" y2="2293.8" stroke-width="1.4" stroke="#e8822e"/>
<line x1="1669.5" y1="2343.3" x2="1681" y2="2343.3" stroke-width="1.4" stroke="#e8822e"/>
<path d="M1682.5 2343.5v-2M1683.5 2343.5v-2M1684.5 2343.5v-2M1685.5 2343.5v-2M1686.5 2343.5v-2M1687.5 2343.5v-2M1688.5 2343.5v-2.4M1689.5 2343.5v-2M1690.5 2343.5v-2M1691.5 2343.5v-2M1692.5 2343.5v-2M1693.5 2343.5v-2.2M1694.5 2343.5v-2M1695.5 2343.5v-2M1696.5 2343.5v-2.7M1697.5 2343.5v-2M1698.5 2343.5v-2.5M1699.5 2343.5v-2M1700.5 2343.5v-2M1701.5 2343.5v-2.6M1702.5 2343.5v-2.1M1703.5 2343.5v-2M1704.5 2343.5v-2M1705.5 2343.5v-2.8M1706.5 2343.5v-2.2M1707.5 2343.5v-2M1708.5 2343.5v-10.4M1709.5 2343.5v-32.7M1710.5 2343.5v-12.4M1711.5 2343.5v-3.2M1712.5 2343.5v-2.7M1713.5 2343.5v-2M1714.5 2343.5v-2M1715.5 2343.5v-2M1716.5 2343.5v-3.3M1717.5 2343.5v-7.7M1718.5 2343.5v-5.2M1719.5 2343.5v-2M1720.5 2343.5v-2.1M1721.5 2343.5v-2M1722.5 2343.5v-2M1723.5 2343.5v-2M1724.5 2343.5v-2M1725.5 2343.5v-2M1726.5 2343.5v-2.8M1727.5 2343.5v-2.1M1728.5 2343.5v-2.6M1729.5 2343.5v-2M1730.5 2343.5v-2.6M1731.5 2343.5v-2.2M1732.5 2343.5v-2M1733.5 2343.5v-2.1M1734.5 2343.5v-3M1735.5 2343.5v-9.4M1736.5 2343.5v-13.9M1737.5 2343.5v-8.1M1738.5 2343.5v-3.5M1739.5 2343.5v-2M1740.5 2343.5v-2M1741.5 2343.5v-2M1742.5 2343.5v-2M1743.5 2343.5v-2M1744.5 2343.5v-2M1745.5 2343.5v-2M1746.5 2343.5v-2M1747.5 2343.5v-2M1748.5 2343.5v-2M1749.5 2343.5v-2M1750.5 2343.5v-2.6M1751.5 2343.5v-2M1752.5 2343.5v-2.5M1753.5 2343.5v-2M1754.5 2343.5v-2M1755.5 2343.5v-2M1756.5 2343.5v-2.2M1757.5 2343.5v-2M1758.5 2343.5v-2M1759.5 2343.5v-2M1760.5 2343.5v-2M1761.5 2343.5v-2M1762.5 2343.5v-2M1763.5 2343.5v-2M1767.5 2343.5v-2.7M1768.5 2343.5v-2.3M1769.5 2343.5v-2M1770.5 2343.5v-2M1771.5 2343.5v-2M1772.5 2343.5v-2.9M1773.5 2343.5v-2M1774.5 2343.5v-2M1775.5 2343.5v-2M1776.5 2343.5v-2M1777.5 2343.5v-2M1778.5 2343.5v-2M1779.5 2343.5v-2.2M1780.5 2343.5v-2M1781.5 2343.5v-2.3M1782.5 2343.5v-2.1M1786.5 2343.5v-2M1787.5 2343.5v-2M1788.5 2343.5v-2M1789.5 2343.5v-2M1790.5 2343.5v-2M1791.5 2343.5v-2.6M1792.5 2343.5v-2M1793.5 2343.5v-2.6M1794.5 2343.5v-2M1795.5 2343.5v-2M1796.5 2343.5v-2M1797.5 2343.5v-4.1M1798.5 2343.5v-15M1799.5 2343.5v-6.9M1800.5 2343.5v-2.8M1801.5 2343.5v-2M1802.5 2343.5v-2M1803.5 2343.5v-2.8M1804.5 2343.5v-2M1805.5 2343.5v-2M1806.5 2343.5v-2M1807.5 2343.5v-2.5M1808.5 2343.5v-2M1809.5 2343.5v-2M1810.5 2343.5v-7.2M1811.5 2343.5v-32.7M1812.5 2343.5v-32.7M1813.5 2343.5v-4M1814.5 2343.5v-2.5M1815.5 2343.5v-2M1816.5 2343.5v-2M1817.5 2343.5v-2.4M1818.5 2343.5v-2.7M1819.5 2343.5v-2.4M1820.5 2343.5v-2M1821.5 2343.5v-2M1822.5 2343.5v-2.3M1823.5 2343.5v-2.3M1824.5 2343.5v-2M1825.5 2343.5v-2M1826.5 2343.5v-2M1827.5 2343.5v-2.5M1828.5 2343.5v-2M1829.5 2343.5v-2M1830.5 2343.5v-2M1831.5 2343.5v-2M1832.5 2343.5v-2.3M1833.5 2343.5v-2M1834.5 2343.5v-2M1835.5 2343.5v-2M1840.5 2343.5v-2.4M1841.5 2343.5v-2M1842.5 2343.5v-2M1843.5 2343.5v-2M1844.5 2343.5v-2M1845.5 2343.5v-2.1M1846.5 2343.5v-2M1847.5 2343.5v-2.6M1848.5 2343.5v-2M1849.5 2343.5v-2.6M1850.5 2343.5v-2M1851.5 2343.5v-2.6M1852.5 2343.5v-2M1853.5 2343.5v-2M1854.5 2343.5v-2M1855.5 2343.5v-2M1856.5 2343.5v-2M1857.5 2343.5v-2M1858.5 2343.5v-2.7M1859.5 2343.5v-2M1860.5 2343.5v-2M1861.5 2343.5v-2.1M1862.5 2343.5v-2M1863.5 2343.5v-2M1864.5 2343.5v-2M1865.5 2343.5v-2.3M1866.5 2343.5v-2M1867.5 2343.5v-2M1868.5 2343.5v-2.1M1869.5 2343.5v-4.7M1870.5 2343.5v-4.7M1871.5 2343.5v-2.4M1872.5 2343.5v-2.5M1873.5 2343.5v-2M1874.5 2343.5v-2M1875.5 2343.5v-2M1876.5 2343.5v-2M1877.5 2343.5v-2.4M1878.5 2343.5v-2M1879.5 2343.5v-2M1880.5 2343.5v-2M1881.5 2343.5v-2M1882.5 2343.5v-2M1883.5 2343.5v-2M1884.5 2343.5v-2M1885.5 2343.5v-2.7M1886.5 2343.5v-2M1887.5 2343.5v-2M1888.5 2343.5v-2M1889.5 2343.5v-2M1890.5 2343.5v-2M1891.5 2343.5v-2M1892.5 2343.5v-2M1893.5 2343.5v-2M1894.5 2343.5v-2M1895.5 2343.5v-2M1896.5 2343.5v-2M1897.5 2343.5v-2M1898.5 2343.5v-2M1899.5 2343.5v-2M1900.5 2343.5v-2.2M1901.5 2343.5v-2M1902.5 2343.5v-2M1903.5 2343.5v-2.7M1904.5 2343.5v-2.2M1905.5 2343.5v-2M1906.5 2343.5v-2M1907.5 2343.5v-2M1908.5 2343.5v-2.3M1909.5 2343.5v-2M1910.5 2343.5v-2.1M1911.5 2343.5v-2M1912.5 2343.5v-2M1915.5 2343.5v-2M1916.5 2343.5v-2M1917.5 2343.5v-2M1918.5 2343.5v-2M1919.5 2343.5v-2M1920.5 2343.5v-2M1921.5 2343.5v-2M1922.5 2343.5v-2M1923.5 2343.5v-2M1924.5 2343.5v-2.8M1925.5 2343.5v-2M1926.5 2343.5v-2.4M1927.5 2343.5v-2M1928.5 2343.5v-2.2M1929.5 2343.5v-2.4M1930.5 2343.5v-2M1931.5 2343.5v-2M1932.5 2343.5v-2M1933.5 2343.5v-2M1934.5 2343.5v-2M1935.5 2343.5v-2M1936.5 2343.5v-2M1937.5 2343.5v-2M1938.5 2343.5v-2M1939.5 2343.5v-2M1940.5 2343.5v-2M1941.5 2343.5v-2M1942.5 2343.5v-2.1M1943.5 2343.5v-2.8M1944.5 2343.5v-2M1945.5 2343.5v-2.6M1946.5 2343.5v-2M1947.5 2343.5v-2M1948.5 2343.5v-2M1949.5 2343.5v-2M1950.5 2343.5v-2M1951.5 2343.5v-2M1952.5 2343.5v-2M1953.5 2343.5v-2M1954.5 2343.5v-2.2M1955.5 2343.5v-2.6M1956.5 2343.5v-2M1957.5 2343.5v-2M1958.5 2343.5v-2M1959.5 2343.5v-2.2M1960.5 2343.5v-2.1M1961.5 2343.5v-2M1962.5 2343.5v-2M1963.5 2343.5v-2M1964.5 2343.5v-2.1M1965.5 2343.5v-2M1966.5 2343.5v-2" stroke="#e8822e" stroke-width="1.1" fill="none" opacity="0.88"/>
<text x="1644" y="2383.1" font-size="23.2" text-anchor="end" fill="#e8822e">TEAD1_SMARCA2_4.1</text>
<text x="1671" y="2360.5" font-size="20" text-anchor="end" fill="#e8822e">30</text>
<text x="1670" y="2402" font-size="20" text-anchor="end" fill="#e8822e">1</text>
<line x1="1681.4" y1="2353.7" x2="1687" y2="2353.7" stroke-width="1.4" stroke="#e8822e"/>
<line x1="1669.5" y1="2404.4" x2="1681" y2="2404.4" stroke-width="1.4" stroke="#e8822e"/>
<path d="M1682.5 2404.6v-2.1M1683.5 2404.6v-2M1684.5 2404.6v-2M1685.5 2404.6v-2M1686.5 2404.6v-2.1M1687.5 2404.6v-3.1M1688.5 2404.6v-2M1689.5 2404.6v-2M1690.5 2404.6v-2M1691.5 2404.6v-2M1692.5 2404.6v-2M1693.5 2404.6v-2M1694.5 2404.6v-2M1695.5 2404.6v-2M1696.5 2404.6v-3.2M1697.5 2404.6v-2M1698.5 2404.6v-2.1M1699.5 2404.6v-3.1M1700.5 2404.6v-2M1701.5 2404.6v-2M1702.5 2404.6v-2M1703.5 2404.6v-2.1M1704.5 2404.6v-2M1705.5 2404.6v-2.4M1706.5 2404.6v-2M1707.5 2404.6v-2M1708.5 2404.6v-3.3M1709.5 2404.6v-8.7M1710.5 2404.6v-6.6M1711.5 2404.6v-2.3M1712.5 2404.6v-3M1713.5 2404.6v-2M1714.5 2404.6v-2M1715.5 2404.6v-2M1716.5 2404.6v-2.6M1717.5 2404.6v-2M1718.5 2404.6v-2M1719.5 2404.6v-2.5M1720.5 2404.6v-2M1721.5 2404.6v-2.1M1722.5 2404.6v-2M1723.5 2404.6v-2M1724.5 2404.6v-2M1725.5 2404.6v-2.3M1726.5 2404.6v-2.4M1727.5 2404.6v-2M1728.5 2404.6v-2M1729.5 2404.6v-2.9M1730.5 2404.6v-2M1731.5 2404.6v-2M1732.5 2404.6v-2M1733.5 2404.6v-2M1734.5 2404.6v-2.5M1735.5 2404.6v-4.2M1736.5 2404.6v-5.7M1737.5 2404.6v-3.8M1738.5 2404.6v-2.1M1739.5 2404.6v-2M1740.5 2404.6v-2M1741.5 2404.6v-2M1742.5 2404.6v-2.2M1743.5 2404.6v-2M1744.5 2404.6v-2M1745.5 2404.6v-3.1M1746.5 2404.6v-2M1747.5 2404.6v-2M1748.5 2404.6v-2M1749.5 2404.6v-2M1750.5 2404.6v-2M1751.5 2404.6v-2.7M1752.5 2404.6v-2.6M1753.5 2404.6v-2M1754.5 2404.6v-2M1755.5 2404.6v-2.7M1756.5 2404.6v-2M1757.5 2404.6v-2M1758.5 2404.6v-2M1759.5 2404.6v-2M1760.5 2404.6v-2M1761.5 2404.6v-2M1762.5 2404.6v-2M1763.5 2404.6v-2M1764.5 2404.6v-2.3M1765.5 2404.6v-2M1766.5 2404.6v-2M1767.5 2404.6v-2M1768.5 2404.6v-2.1M1769.5 2404.6v-2M1770.5 2404.6v-2M1771.5 2404.6v-2M1772.5 2404.6v-2.1M1776.5 2404.6v-2M1777.5 2404.6v-2M1778.5 2404.6v-2M1779.5 2404.6v-2M1780.5 2404.6v-2M1781.5 2404.6v-2M1782.5 2404.6v-2M1783.5 2404.6v-2.3M1784.5 2404.6v-2M1785.5 2404.6v-2M1786.5 2404.6v-2M1787.5 2404.6v-2M1788.5 2404.6v-2.5M1789.5 2404.6v-2M1790.5 2404.6v-2M1791.5 2404.6v-2M1792.5 2404.6v-2M1794.5 2404.6v-2M1795.5 2404.6v-2M1796.5 2404.6v-2M1797.5 2404.6v-3.7M1798.5 2404.6v-10.7M1799.5 2404.6v-5.7M1800.5 2404.6v-2.5M1801.5 2404.6v-2M1802.5 2404.6v-2.7M1803.5 2404.6v-2.9M1804.5 2404.6v-2.4M1805.5 2404.6v-2M1806.5 2404.6v-2M1807.5 2404.6v-2.3M1808.5 2404.6v-2.2M1809.5 2404.6v-3.1M1810.5 2404.6v-3.9M1811.5 2404.6v-15.7M1812.5 2404.6v-15.7M1813.5 2404.6v-3.2M1814.5 2404.6v-2.7M1815.5 2404.6v-2.7M1816.5 2404.6v-2M1817.5 2404.6v-2M1818.5 2404.6v-2M1819.5 2404.6v-2M1820.5 2404.6v-2M1821.5 2404.6v-2.8M1822.5 2404.6v-2M1823.5 2404.6v-2M1824.5 2404.6v-2M1825.5 2404.6v-2.2M1826.5 2404.6v-2M1827.5 2404.6v-2.6M1828.5 2404.6v-2M1829.5 2404.6v-2M1830.5 2404.6v-2M1831.5 2404.6v-2.9M1832.5 2404.6v-2.5M1833.5 2404.6v-2M1834.5 2404.6v-2M1835.5 2404.6v-2M1836.5 2404.6v-2M1837.5 2404.6v-2M1838.5 2404.6v-2M1839.5 2404.6v-2.6M1840.5 2404.6v-2M1841.5 2404.6v-2.1M1842.5 2404.6v-2.4M1843.5 2404.6v-2M1844.5 2404.6v-2M1845.5 2404.6v-2M1846.5 2404.6v-2.9M1849.5 2404.6v-2M1850.5 2404.6v-2.8M1851.5 2404.6v-2M1852.5 2404.6v-2M1853.5 2404.6v-2M1854.5 2404.6v-2.7M1859.5 2404.6v-2M1860.5 2404.6v-2M1861.5 2404.6v-2M1862.5 2404.6v-2M1863.5 2404.6v-2M1864.5 2404.6v-2.9M1865.5 2404.6v-2M1866.5 2404.6v-2M1867.5 2404.6v-2.4M1868.5 2404.6v-2.4M1869.5 2404.6v-2.8M1870.5 2404.6v-2.3M1871.5 2404.6v-2M1872.5 2404.6v-2M1873.5 2404.6v-2M1874.5 2404.6v-2.4M1875.5 2404.6v-2.3M1876.5 2404.6v-2M1877.5 2404.6v-2M1878.5 2404.6v-2.6M1879.5 2404.6v-2M1880.5 2404.6v-3.1M1881.5 2404.6v-2M1882.5 2404.6v-2M1883.5 2404.6v-2.8M1884.5 2404.6v-2M1885.5 2404.6v-2M1886.5 2404.6v-2.3M1887.5 2404.6v-2M1888.5 2404.6v-2M1889.5 2404.6v-2M1890.5 2404.6v-2M1891.5 2404.6v-2M1892.5 2404.6v-2M1893.5 2404.6v-2.5M1896.5 2404.6v-2M1897.5 2404.6v-2M1898.5 2404.6v-2M1899.5 2404.6v-2M1900.5 2404.6v-2.2M1901.5 2404.6v-2.3M1902.5 2404.6v-2M1903.5 2404.6v-3M1904.5 2404.6v-2.4M1905.5 2404.6v-2M1906.5 2404.6v-2M1907.5 2404.6v-2.7M1908.5 2404.6v-2M1909.5 2404.6v-2M1910.5 2404.6v-2.9M1911.5 2404.6v-2M1912.5 2404.6v-3M1913.5 2404.6v-2M1914.5 2404.6v-2.8M1915.5 2404.6v-2M1916.5 2404.6v-2.2M1917.5 2404.6v-2M1918.5 2404.6v-2M1919.5 2404.6v-2M1920.5 2404.6v-2.5M1921.5 2404.6v-2M1922.5 2404.6v-2M1923.5 2404.6v-2.3M1924.5 2404.6v-6.7M1925.5 2404.6v-6.7M1926.5 2404.6v-2M1927.5 2404.6v-2M1928.5 2404.6v-2M1929.5 2404.6v-2M1930.5 2404.6v-2.2M1931.5 2404.6v-2M1932.5 2404.6v-2M1933.5 2404.6v-2M1934.5 2404.6v-2M1938.5 2404.6v-2M1939.5 2404.6v-2M1940.5 2404.6v-2.4M1941.5 2404.6v-2M1942.5 2404.6v-2.2M1943.5 2404.6v-2M1944.5 2404.6v-2.2M1945.5 2404.6v-3.1M1946.5 2404.6v-3M1947.5 2404.6v-2.1M1948.5 2404.6v-2M1949.5 2404.6v-2M1950.5 2404.6v-2M1951.5 2404.6v-2M1952.5 2404.6v-2.7M1953.5 2404.6v-2.2M1954.5 2404.6v-3M1955.5 2404.6v-2M1956.5 2404.6v-2M1957.5 2404.6v-2M1958.5 2404.6v-2.2M1959.5 2404.6v-2M1960.5 2404.6v-3.2M1961.5 2404.6v-2.7M1962.5 2404.6v-2.5M1963.5 2404.6v-2M1964.5 2404.6v-2.4M1965.5 2404.6v-2M1966.5 2404.6v-2" stroke="#e8822e" stroke-width="1.1" fill="none" opacity="0.88"/></svg></body></html>
